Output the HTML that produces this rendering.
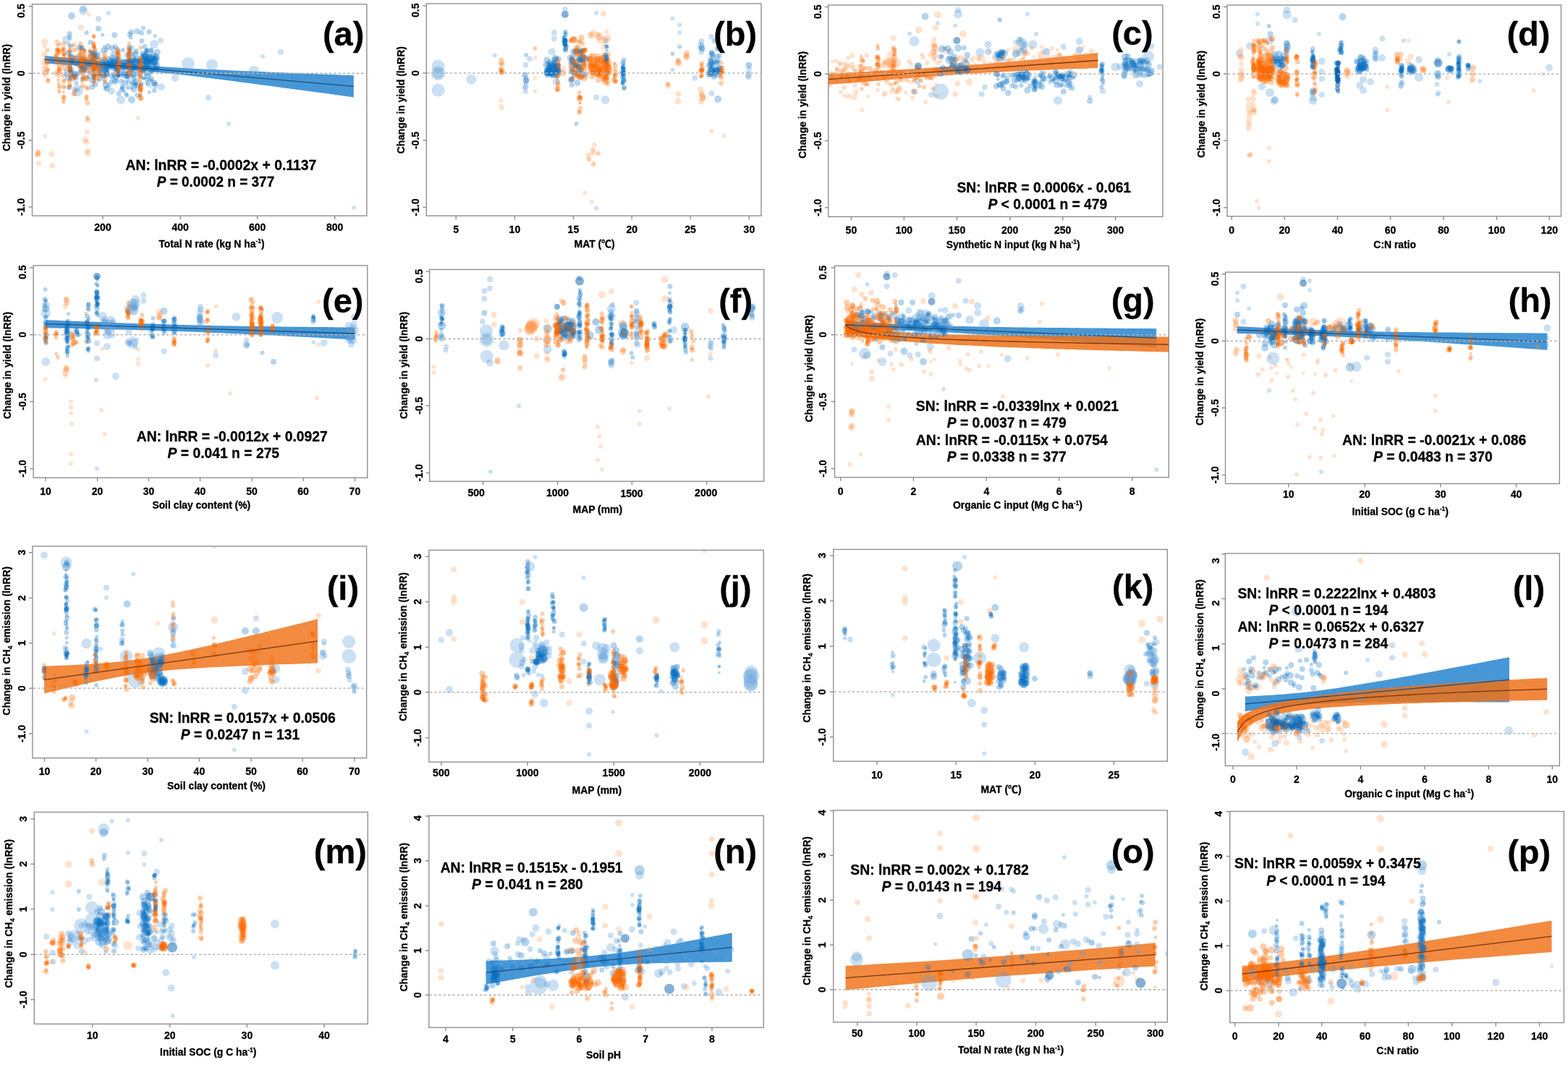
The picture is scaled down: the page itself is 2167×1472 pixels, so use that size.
<!DOCTYPE html>
<html><head><meta charset="utf-8"><title>Figure</title>
<style>html,body{margin:0;padding:0;background:#fff;width:2167px;height:1472px;overflow:hidden}svg{display:block}text{stroke:#000;stroke-width:0.3px}path.dd{fill:none;stroke-linecap:round}.b{fill:none;stroke-linecap:round;stroke:#0a70c4;stroke-opacity:0.3}.o{fill:none;stroke-linecap:round;stroke:#ff6a00;stroke-opacity:0.33}.lb{fill:none;stroke-linecap:round;stroke:#5c9fda;stroke-opacity:0.32}.lo{fill:none;stroke-linecap:round;stroke:#ff9650;stroke-opacity:0.28}.db{fill:none;stroke-linecap:round;stroke:#0a5fae;stroke-opacity:0.5}.do{fill:none;stroke-linecap:round;stroke:#f06000;stroke-opacity:0.5}</style>
</head><body>
<svg width="2167" height="1472" viewBox="0 0 2167 1472" font-family="'Liberation Sans', Arial, Helvetica, 'Noto Sans CJK SC', sans-serif" font-weight="bold" fill="#000" stroke-width="0">
<rect width="2167" height="1472" fill="#fff"/>
<clipPath id="cpa"><rect x="44.5" y="5.8" width="462.4" height="292.5"/></clipPath>
<g clip-path="url(#cpa)"><polygon points="61.8,77 76,78.4 90.3,79.8 104.5,81.3 118.7,82.7 133,84.1 147.2,85.4 161.4,86.7 175.7,88 189.9,89.3 204.1,90.6 218.4,91.7 232.6,92.7 246.8,93.6 261.1,94.5 275.3,95.2 289.5,96 303.8,96.6 318,97.3 332.2,97.9 346.5,98.5 360.7,99.1 374.9,99.7 389.2,100.3 403.4,100.9 417.6,101.4 431.9,102 446.1,102.6 460.3,103.1 474.6,103.7 488.8,104.2 488.8,134.4 474.6,132.5 460.3,130.5 446.1,128.6 431.9,126.7 417.6,124.8 403.4,122.9 389.2,121 374.9,119.1 360.7,117.2 346.5,115.3 332.2,113.5 318,111.6 303.8,109.8 289.5,108 275.3,106.3 261.1,104.6 246.8,102.9 232.6,101.4 218.4,99.9 204.1,98.6 189.9,97.3 175.7,96.1 161.4,95 147.2,93.8 133,92.7 118.7,91.6 104.5,90.5 90.3,89.5 76,88.5 61.8,87.5" fill="#4797d6" fill-opacity="1"/><path class="b" stroke-width="5" d="M198.8 107.4h0M179.2 70.3h0M107.2 76.9h0M126.0 102.2h0M156.0 106.8h0M125.0 100.9h0M179.9 99.0h0"/><path class="b" stroke-width="6" d="M194.7 106.2h0M112.0 97.8h0M202.8 69.7h0M171.5 95.6h0M120.0 106.4h0M148.3 98.4h0M95.4 61.9h0M97.1 99.0h0"/><path class="b" stroke-width="7" d="M163.1 71.5h0M214.5 95.1h0M135.3 102.5h0M127.4 83.4h0M162.2 69.1h0M206.0 92.9h0M150.5 93.1h0M149.7 87.4h0"/><path class="b" stroke-width="8" d="M183.7 80.0h0M131.6 116.6h0M130.2 75.7h0M185.1 123.7h0M128.8 94.1h0M189.7 43.3h0M136.0 39.4h0M193.1 86.3h0M183.3 86.8h0"/><path class="b" stroke-width="9" d="M119.3 86.8h0M172.9 91.2h0M204.7 90.8h0M157.2 74.9h0"/><path class="b" stroke-width="10" d="M99.0 22.0h0"/><path class="lb" stroke-width="10" d="M115.0 12.0h0"/><path class="lb" stroke-width="18" d="M260.0 88.0h0"/><path class="o" stroke-width="4" d="M80.7 115.5h0M116.5 104.5h0M115.2 95.7h0M177.9 82.4h0"/><path class="o" stroke-width="5" d="M95.2 112.3h0M98.1 88.1h0M96.8 109.8h0M110.8 72.2h0M129.6 85.6h0M129.7 63.6h0M130.1 74.3h0M129.9 50.7h0M131.6 89.3h0M129.8 90.2h0M161.7 81.7h0M163.1 105.1h0M178.7 83.7h0M177.5 75.4h0M178.8 85.3h0M194.1 117.8h0M194.8 85.1h0M193.4 96.6h0"/><path class="o" stroke-width="6" d="M79.3 72.9h0M87.7 66.4h0M97.1 77.7h0M109.3 92.5h0M114.9 81.9h0M121.3 122.7h0M130.2 79.7h0M135.4 100.2h0M164.0 86.9h0M162.8 85.3h0M178.9 82.8h0M194.4 117.4h0M194.2 82.4h0M195.0 86.3h0M194.8 96.5h0M145.0 81.0h0"/><path class="o" stroke-width="7" d="M111.7 74.8h0M116.3 75.8h0M131.6 94.9h0M163.0 95.9h0M163.5 101.7h0M163.4 71.6h0M161.3 88.9h0M178.1 93.8h0M177.5 82.3h0M195.4 136.0h0M145.1 82.3h0"/><path class="b" stroke-width="5" d="M130.6 66.2h0M206.4 127.4h0"/><path class="b" stroke-width="6" d="M175.4 132.1h0M185.1 85.6h0M179.8 71.4h0M201.7 72.7h0M177.3 92.6h0"/><path class="b" stroke-width="7" d="M168.2 123.8h0M196.9 73.5h0M132.3 86.2h0M209.4 69.4h0M198.6 98.1h0M117.7 81.6h0M176.9 120.7h0M195.4 115.9h0M102.5 104.0h0M206.1 44.1h0M196.0 56.4h0M153.8 112.8h0"/><path class="b" stroke-width="8" d="M181.6 44.4h0M213.4 82.5h0M211.4 75.7h0M178.1 100.7h0"/><path class="b" stroke-width="9" d="M168.5 89.2h0M100.2 108.3h0"/><path class="lb" stroke-width="6" d="M363.0 78.0h0"/><path class="o" stroke-width="4" d="M134.3 108.5h0M162.9 74.4h0M162.3 74.1h0"/><path class="o" stroke-width="5" d="M67.2 82.1h0M79.1 62.0h0M80.8 100.9h0M110.5 83.0h0M119.4 110.3h0M129.4 63.0h0M129.3 59.2h0M161.7 73.0h0M124.3 70.4h0M124.9 84.6h0"/><path class="o" stroke-width="6" d="M66.1 97.1h0M88.6 74.2h0M96.9 82.1h0M97.3 70.3h0M103.6 79.7h0M110.9 90.5h0M130.6 93.9h0M162.3 76.3h0M162.6 71.6h0M177.7 98.2h0M192.9 113.2h0M194.0 87.4h0M122.7 93.1h0"/><path class="o" stroke-width="7" d="M90.4 81.7h0M129.1 97.8h0M129.6 77.9h0M163.9 77.7h0M162.7 97.7h0M176.3 92.2h0M193.3 88.4h0"/><path class="b" stroke-width="5" d="M107.3 79.7h0"/><path class="b" stroke-width="6" d="M145.5 122.1h0M111.5 80.4h0M121.8 106.6h0M165.1 92.6h0M213.9 80.3h0"/><path class="b" stroke-width="7" d="M95.1 91.7h0M132.6 91.3h0M177.5 85.2h0M183.4 116.0h0M149.8 87.0h0"/><path class="b" stroke-width="8" d="M111.4 86.0h0M186.6 83.6h0M142.0 96.2h0M104.5 107.1h0M201.1 93.7h0M187.1 74.3h0M189.9 88.0h0"/><path class="b" stroke-width="9" d="M97.7 103.9h0M130.6 92.8h0M176.4 103.8h0M201.2 85.6h0M198.6 84.2h0M215.5 78.3h0"/><path class="lo" stroke-width="6" d="M50.8 213.4h0"/><path class="lo" stroke-width="8" d="M121.0 208.6h0"/><path class="o" stroke-width="4" d="M81.4 120.2h0M97.8 95.7h0"/><path class="o" stroke-width="5" d="M66.2 110.0h0M81.0 105.0h0M81.6 67.9h0M87.9 141.4h0M97.3 95.8h0M111.7 86.7h0M129.9 64.6h0M163.8 74.6h0M162.9 92.6h0M178.5 59.4h0M195.3 92.4h0M194.7 126.2h0M193.8 131.2h0M122.8 83.5h0M145.1 103.3h0"/><path class="o" stroke-width="6" d="M78.5 76.7h0M88.3 77.5h0M88.0 68.3h0M97.1 118.2h0M95.6 72.1h0M129.7 107.5h0M144.9 113.0h0"/><path class="o" stroke-width="7" d="M65.5 85.2h0M96.6 91.0h0M103.9 104.9h0M114.3 97.3h0M115.8 99.1h0M130.1 103.2h0M178.2 90.7h0M178.6 101.1h0M193.4 123.3h0M125.7 78.1h0M144.6 110.4h0"/><path class="b" stroke-width="5" d="M158.2 90.4h0M136.5 110.9h0"/><path class="b" stroke-width="6" d="M174.6 130.1h0M99.7 85.3h0M147.3 68.8h0M105.5 114.4h0M201.2 102.2h0M159.4 87.1h0"/><path class="b" stroke-width="7" d="M213.2 124.9h0M193.5 92.2h0M150.5 117.8h0M165.2 103.6h0M201.1 87.3h0M200.5 83.1h0M181.5 93.5h0M162.5 97.2h0"/><path class="b" stroke-width="8" d="M178.2 87.0h0M188.0 71.0h0M209.1 109.0h0M113.8 90.6h0M147.5 103.4h0M177.0 105.4h0M141.6 98.2h0M164.3 82.8h0"/><path class="b" stroke-width="9" d="M146.2 86.2h0M203.0 84.6h0M217.4 72.2h0"/><path class="b" stroke-width="10" d="M212.5 85.2h0M216.2 80.6h0"/><path class="lb" stroke-width="12" d="M213.0 61.0h0"/><path class="lo" stroke-width="7" d="M62.2 100.5h0"/><path class="o" stroke-width="4" d="M82.1 127.4h0"/><path class="o" stroke-width="5" d="M76.7 77.7h0M80.7 110.4h0M82.6 71.3h0M87.7 70.1h0M95.8 84.6h0M96.7 90.6h0M96.0 82.9h0M115.7 90.9h0M118.8 136.7h0M129.3 112.8h0M135.9 106.1h0M161.2 95.3h0M177.0 90.8h0M193.1 85.6h0M123.8 69.6h0"/><path class="o" stroke-width="6" d="M87.7 137.7h0M97.2 98.6h0M115.4 97.2h0M119.8 135.1h0M118.9 82.5h0M129.9 107.4h0M130.8 104.1h0M136.0 87.6h0M179.2 100.6h0M178.9 72.1h0M193.9 122.3h0M123.7 72.6h0M125.1 72.5h0M144.4 93.5h0"/><path class="o" stroke-width="7" d="M88.1 87.5h0M96.2 96.0h0M121.3 165.6h0M131.6 69.1h0M137.5 104.4h0M136.4 87.5h0M163.2 90.4h0M123.3 80.3h0"/><path class="b" stroke-width="5" d="M179.0 86.2h0M205.3 84.7h0M214.1 49.7h0"/><path class="b" stroke-width="6" d="M98.3 75.7h0M163.0 104.1h0M175.8 106.2h0"/><path class="b" stroke-width="7" d="M159.3 64.7h0M194.5 79.6h0M150.0 90.8h0M115.3 97.3h0M99.3 96.8h0M105.6 101.9h0M113.8 66.7h0M125.0 58.4h0M200.2 85.0h0M184.7 108.0h0M140.3 82.3h0"/><path class="b" stroke-width="8" d="M205.6 84.3h0M168.3 93.6h0M170.5 85.4h0M127.3 120.2h0M158.3 48.5h0M199.2 76.4h0M155.3 84.0h0M158.4 102.4h0M173.8 92.6h0"/><path class="b" stroke-width="9" d="M144.0 97.6h0M214.6 117.2h0M173.2 105.3h0M209.7 81.6h0M213.6 86.5h0M201.4 92.1h0"/><path class="lb" stroke-width="8" d="M136.0 26.0h0"/><path class="lb" stroke-width="16" d="M293.0 90.0h0"/><path class="lo" stroke-width="6" d="M61.5 64.5h0"/><path class="lo" stroke-width="8" d="M64.2 82.2h0"/><path class="o" stroke-width="4" d="M162.4 87.9h0M180.2 84.0h0"/><path class="o" stroke-width="5" d="M81.6 124.9h0M114.7 86.6h0M119.6 132.5h0M136.9 86.1h0M162.5 82.1h0M162.9 97.3h0M178.8 90.6h0M178.2 78.0h0M179.0 69.5h0M194.9 101.2h0"/><path class="o" stroke-width="6" d="M81.5 95.8h0M82.8 73.1h0M95.6 77.1h0M97.5 100.1h0M95.6 120.7h0M115.1 91.4h0M130.6 109.2h0M162.5 86.2h0M162.9 87.8h0M194.4 98.2h0M194.8 122.9h0M124.3 91.1h0"/><path class="o" stroke-width="7" d="M77.5 101.0h0M111.3 60.8h0M114.9 108.1h0M129.0 93.0h0M194.8 81.8h0M193.3 100.7h0M144.0 92.0h0"/><path class="b" stroke-width="5" d="M144.2 64.8h0M139.5 109.5h0M188.1 116.1h0"/><path class="b" stroke-width="6" d="M183.4 95.8h0M159.5 96.1h0"/><path class="b" stroke-width="7" d="M176.8 93.1h0M114.6 109.3h0M106.8 124.0h0M169.3 119.5h0M161.8 94.5h0M154.7 92.0h0M140.3 103.3h0M128.5 82.0h0M129.5 105.9h0M135.5 75.1h0M215.6 89.5h0M213.2 93.7h0"/><path class="b" stroke-width="8" d="M126.4 110.4h0M185.0 103.4h0M126.9 73.7h0M171.2 102.7h0M148.0 122.7h0M154.6 90.6h0M120.8 97.3h0M149.2 64.0h0M128.6 111.3h0M143.2 104.2h0M141.9 85.6h0M152.6 83.9h0"/><path class="b" stroke-width="9" d="M141.3 90.3h0M172.6 86.5h0M189.5 91.8h0"/><path class="b" stroke-width="10" d="M214.8 83.8h0M202.7 79.6h0M209.8 85.6h0"/><path class="lb" stroke-width="6" d="M489.0 287.0h0"/><path class="lb" stroke-width="10" d="M242.0 108.0h0"/><path class="lb" stroke-width="12" d="M92.0 55.0h0"/><path class="lo" stroke-width="6" d="M53.0 209.6h0"/><path class="lo" stroke-width="7" d="M52.2 213.6h0M53.6 225.6h0"/><path class="lo" stroke-width="9" d="M61.2 75.1h0"/><path class="o" stroke-width="4" d="M86.7 67.9h0M135.8 102.7h0"/><path class="o" stroke-width="5" d="M88.6 75.4h0M96.6 98.0h0M97.6 103.1h0M114.1 79.1h0M116.5 69.6h0M179.5 89.2h0M178.5 103.4h0M193.6 133.1h0M145.3 103.0h0"/><path class="o" stroke-width="6" d="M65.2 96.0h0M81.0 70.3h0M87.9 133.2h0M96.9 81.4h0M96.9 86.4h0M112.3 87.4h0M110.7 80.4h0M112.4 87.4h0M130.8 94.1h0M129.6 88.7h0M130.7 102.6h0M136.3 82.0h0M178.6 84.0h0M178.5 94.0h0M178.2 101.8h0M193.4 104.9h0"/><path class="o" stroke-width="7" d="M77.7 77.0h0M81.3 82.9h0M87.1 103.9h0M114.6 119.0h0M127.7 100.6h0M130.3 81.3h0M135.7 91.9h0M164.1 96.2h0M163.4 86.6h0M193.5 108.0h0M194.2 88.1h0M194.4 119.5h0M193.4 86.1h0M193.9 93.5h0"/><path class="b" stroke-width="5" d="M104.3 89.2h0M211.6 96.6h0M154.5 85.9h0M117.3 69.5h0M97.6 86.1h0M141.7 48.3h0"/><path class="b" stroke-width="6" d="M174.1 102.0h0M91.0 102.6h0M158.9 89.1h0M182.4 75.0h0M202.3 84.6h0M208.8 84.1h0M148.5 97.4h0"/><path class="b" stroke-width="7" d="M201.1 85.5h0M167.2 112.3h0M206.2 101.4h0M202.8 70.3h0M190.0 118.8h0M208.0 69.8h0M150.2 80.4h0M137.1 101.4h0M200.2 64.5h0"/><path class="b" stroke-width="8" d="M201.0 76.9h0M209.9 97.9h0M110.1 100.6h0M211.6 78.6h0M216.5 95.2h0"/><path class="b" stroke-width="9" d="M203.9 104.9h0M103.0 103.7h0M131.4 87.6h0"/><path class="lo" stroke-width="8" d="M62.0 90.7h0M71.4 213.0h0"/><path class="lo" stroke-width="9" d="M61.5 57.7h0"/><path class="o" stroke-width="4" d="M130.2 94.7h0"/><path class="o" stroke-width="5" d="M88.6 81.2h0M104.2 125.8h0M111.1 97.7h0M113.9 92.1h0M114.9 89.3h0M131.2 103.9h0M137.6 95.6h0M162.5 97.2h0"/><path class="o" stroke-width="6" d="M77.9 86.4h0M88.1 60.6h0M115.3 87.3h0M115.4 90.0h0M129.9 60.8h0M178.7 83.4h0M177.7 73.2h0M192.1 99.1h0"/><path class="o" stroke-width="7" d="M82.7 119.3h0M81.7 89.5h0M102.3 129.7h0M113.8 69.7h0M128.5 75.6h0M163.0 93.9h0M178.5 76.8h0M124.1 78.5h0"/><path class="b" stroke-width="5" d="M181.9 122.0h0M194.9 94.9h0"/><path class="b" stroke-width="6" d="M198.0 80.6h0M202.8 109.3h0M186.5 92.5h0M116.2 82.7h0M180.7 87.4h0M197.9 38.7h0M204.3 89.6h0M204.5 89.5h0"/><path class="b" stroke-width="7" d="M101.5 101.0h0M173.1 88.5h0M130.9 72.2h0M96.6 93.7h0M190.9 84.0h0M96.1 46.5h0M212.6 87.8h0M210.0 84.3h0M204.5 80.7h0"/><path class="b" stroke-width="8" d="M206.8 78.9h0M151.6 86.8h0M187.7 112.1h0M176.0 76.0h0"/><path class="b" stroke-width="9" d="M197.7 89.2h0M185.0 114.8h0M158.7 112.5h0M147.7 94.3h0"/><path class="lb" stroke-width="6" d="M316.0 171.0h0"/><path class="lb" stroke-width="10" d="M154.0 126.0h0"/><path class="lb" stroke-width="16" d="M107.0 125.0h0"/><path class="lo" stroke-width="7" d="M120.1 182.3h0"/><path class="lo" stroke-width="8" d="M61.4 95.8h0"/><path class="lo" stroke-width="9" d="M61.5 85.0h0"/><path class="o" stroke-width="4" d="M176.5 92.1h0"/><path class="o" stroke-width="5" d="M77.3 86.5h0M83.3 81.3h0M97.0 100.3h0M103.6 124.6h0M102.1 107.6h0M110.3 77.7h0M110.5 92.2h0M113.5 112.2h0M114.1 79.1h0M120.6 162.6h0M131.0 87.7h0M130.6 84.6h0M130.3 77.9h0M129.5 63.3h0M178.1 101.9h0M177.0 88.2h0M123.9 76.9h0"/><path class="o" stroke-width="6" d="M78.3 68.7h0M81.8 98.4h0M87.9 112.7h0M87.6 112.4h0M96.8 110.9h0M96.8 98.7h0M110.6 74.7h0M114.4 91.8h0M119.7 120.8h0M119.3 82.2h0M130.3 90.8h0M129.3 90.5h0M136.5 101.2h0M162.6 94.2h0M162.3 67.8h0M178.3 64.0h0M178.3 69.4h0M177.6 67.8h0M193.3 97.6h0M192.3 87.5h0M145.3 80.5h0"/><path class="o" stroke-width="7" d="M119.8 94.9h0M121.0 141.9h0M129.6 104.6h0M130.8 80.6h0M195.0 96.2h0M193.8 135.8h0M123.1 97.3h0M124.7 96.1h0"/><path class="b" stroke-width="5" d="M197.3 77.0h0M130.1 104.0h0M216.2 94.3h0"/><path class="b" stroke-width="6" d="M164.5 104.6h0M117.2 94.6h0M125.3 89.2h0M159.5 92.5h0M112.3 93.6h0M98.0 85.0h0M102.2 78.6h0M161.7 81.4h0M119.7 45.2h0M180.5 51.7h0M161.1 83.8h0"/><path class="b" stroke-width="7" d="M163.1 102.9h0M177.9 112.8h0M197.8 76.6h0M195.5 45.5h0M209.3 86.6h0M201.9 81.0h0"/><path class="b" stroke-width="8" d="M175.4 84.4h0M213.2 114.1h0M120.0 90.4h0M97.8 79.6h0M154.9 66.4h0M185.0 83.0h0M154.5 104.7h0M193.7 86.1h0"/><path class="b" stroke-width="9" d="M186.6 96.0h0M155.6 80.4h0M203.0 82.8h0M182.3 92.4h0"/><path class="lb" stroke-width="10" d="M223.0 120.0h0"/><path class="lb" stroke-width="12" d="M115.0 15.0h0M167.0 138.0h0"/><path class="lo" stroke-width="6" d="M62.0 188.0h0"/><path class="lo" stroke-width="7" d="M52.8 212.6h0"/><path class="o" stroke-width="5" d="M78.0 79.9h0M114.5 102.8h0M116.1 96.9h0M129.9 114.8h0M137.4 101.7h0M135.2 109.9h0M164.4 88.3h0M162.3 82.5h0M163.8 83.6h0M164.1 91.6h0M194.3 131.2h0M124.1 85.6h0"/><path class="o" stroke-width="6" d="M79.1 71.2h0M97.7 105.2h0M95.8 95.0h0M97.9 106.7h0M103.8 81.1h0M115.5 94.1h0M136.0 80.3h0M164.2 93.8h0M194.7 90.1h0"/><path class="o" stroke-width="7" d="M82.1 94.0h0M89.2 94.6h0M88.2 90.5h0M164.3 85.6h0M163.5 76.8h0M179.0 90.8h0M193.9 84.1h0M144.8 74.3h0"/><path class="b" stroke-width="5" d="M183.1 104.7h0M91.1 98.3h0"/><path class="b" stroke-width="6" d="M156.4 82.7h0M127.0 72.6h0M162.0 80.0h0M169.2 121.8h0M98.7 63.5h0M170.9 125.7h0M161.4 86.6h0"/><path class="b" stroke-width="7" d="M168.6 85.2h0M164.0 129.3h0M181.6 65.8h0M189.7 131.5h0M95.4 120.8h0M204.1 114.7h0M147.4 102.3h0M96.5 51.7h0"/><path class="b" stroke-width="8" d="M147.9 86.9h0M109.2 66.1h0M93.9 107.4h0M130.2 77.0h0M171.3 101.3h0M188.6 80.5h0M202.0 80.3h0M155.8 87.7h0M184.5 93.7h0M145.7 94.8h0"/><path class="b" stroke-width="9" d="M198.0 83.7h0M133.4 77.7h0M116.2 94.8h0M126.1 84.7h0M146.0 117.1h0M161.1 90.0h0M143.6 104.2h0"/><path class="lb" stroke-width="6" d="M150.0 18.0h0"/><path class="lb" stroke-width="14" d="M351.0 98.0h0"/><path class="lo" stroke-width="6" d="M191.0 163.0h0M123.0 20.0h0"/><path class="lo" stroke-width="8" d="M119.2 196.1h0"/><path class="o" stroke-width="4" d="M129.7 50.9h0M193.7 92.8h0"/><path class="o" stroke-width="5" d="M65.6 88.6h0M79.8 67.2h0M86.7 69.7h0M97.7 100.0h0M111.1 84.1h0M112.0 81.1h0M114.3 89.9h0M115.2 95.7h0M115.6 82.5h0M115.1 90.2h0M114.3 85.0h0M114.1 94.6h0M136.2 95.9h0M163.6 91.8h0M192.4 92.1h0M144.0 91.6h0M143.5 77.9h0"/><path class="o" stroke-width="6" d="M65.5 69.6h0M78.1 83.4h0M88.6 120.0h0M103.4 107.6h0M114.7 107.6h0M115.2 76.0h0M129.9 71.6h0M194.3 121.3h0M194.3 85.5h0M194.4 66.0h0"/><path class="o" stroke-width="7" d="M103.2 81.2h0M103.2 68.9h0M111.6 67.3h0M129.6 92.6h0M135.9 94.1h0M164.1 88.6h0M193.7 123.7h0"/><path class="b" stroke-width="5" d="M190.0 85.8h0M208.6 110.5h0M198.5 108.8h0"/><path class="b" stroke-width="6" d="M132.4 79.8h0M214.0 116.1h0M209.5 98.4h0M212.5 80.8h0"/><path class="b" stroke-width="7" d="M187.3 118.0h0M112.4 93.6h0M203.1 69.9h0M189.4 102.3h0M178.8 83.5h0"/><path class="b" stroke-width="8" d="M99.9 84.6h0M146.0 90.8h0M185.5 85.5h0M182.7 100.5h0M142.7 69.8h0M204.0 85.9h0M160.2 106.2h0M157.4 84.0h0M147.3 100.8h0"/><path class="b" stroke-width="9" d="M198.8 95.1h0M201.0 77.8h0M205.3 77.4h0M210.6 82.3h0M147.8 92.1h0"/><path class="b" stroke-width="10" d="M216.6 90.4h0M182.0 138.0h0"/><path class="lb" stroke-width="8" d="M288.0 135.0h0M388.0 72.0h0"/><path class="lb" stroke-width="12" d="M207.0 115.0h0"/><path class="lo" stroke-width="6" d="M62.1 104.2h0"/><path class="lo" stroke-width="8" d="M63.6 100.2h0"/><path class="lo" stroke-width="9" d="M117.7 193.0h0M121.2 211.9h0"/><path class="o" stroke-width="4" d="M87.6 127.1h0"/><path class="o" stroke-width="5" d="M79.1 69.1h0M88.8 120.4h0M96.1 65.7h0M113.8 98.2h0M116.6 71.4h0M130.5 78.2h0M136.8 87.3h0M161.9 91.0h0M124.9 85.8h0"/><path class="o" stroke-width="6" d="M82.0 60.7h0M97.0 69.4h0M111.3 81.7h0M111.7 90.3h0M129.5 93.0h0M130.8 93.2h0M128.5 93.1h0M129.5 49.7h0M130.4 81.3h0M177.4 85.0h0M178.7 68.7h0M193.9 81.2h0"/><path class="o" stroke-width="7" d="M66.4 112.1h0M82.3 97.6h0M115.2 89.0h0M119.6 108.3h0M131.2 97.4h0M130.2 90.7h0M130.7 83.9h0M161.1 101.3h0M177.4 89.5h0M178.5 98.7h0M178.4 78.4h0"/><path class="b" stroke-width="5" d="M130.3 97.1h0M129.4 97.6h0"/><path class="b" stroke-width="6" d="M107.4 89.5h0M170.0 69.2h0M96.8 98.4h0M178.4 66.3h0"/><path class="b" stroke-width="7" d="M160.3 111.1h0M179.7 87.4h0M154.9 87.7h0M158.9 86.5h0M112.3 65.4h0M174.0 90.8h0M179.2 47.5h0M200.9 89.5h0M160.8 94.6h0M153.1 90.8h0"/><path class="b" stroke-width="8" d="M197.4 98.1h0M156.6 94.4h0M190.0 85.0h0M94.3 72.8h0M166.1 100.6h0M138.5 95.4h0M172.8 114.3h0M214.8 81.4h0M205.9 78.7h0M204.6 86.0h0M184.5 85.6h0M154.6 89.4h0"/><path class="b" stroke-width="9" d="M207.6 86.6h0M179.4 85.5h0"/><path class="lb" stroke-width="8" d="M222.0 56.0h0"/><path class="lo" stroke-width="7" d="M53.5 211.1h0M52.1 210.2h0M52.4 213.6h0"/><path class="lo" stroke-width="8" d="M72.3 229.0h0M112.0 38.0h0"/><path class="o" stroke-width="4" d="M77.9 81.1h0M97.6 105.1h0M102.7 131.0h0M127.4 84.8h0"/><path class="o" stroke-width="5" d="M78.3 57.0h0M88.9 110.4h0M98.2 83.9h0M114.9 108.3h0M115.0 84.0h0M130.7 109.8h0M130.0 95.8h0M194.6 91.7h0M194.1 126.3h0M194.0 104.2h0M194.1 91.0h0"/><path class="o" stroke-width="6" d="M88.6 135.1h0M88.7 75.1h0M96.2 117.3h0M102.4 61.9h0M103.0 106.1h0M116.1 80.8h0M129.8 65.8h0M129.5 87.3h0M178.4 76.6h0M145.4 103.9h0"/><path class="o" stroke-width="7" d="M97.0 94.3h0M110.0 88.1h0M130.7 93.9h0M136.5 96.2h0M136.5 102.4h0M162.8 90.7h0M178.3 75.0h0M179.3 90.3h0M194.0 90.3h0"/><polyline points="61.8,82.2 488.8,119.3" fill="none" stroke="#1d4f7c" stroke-width="1.3"/></g>
<line x1="45.5" y1="101.4" x2="505.9" y2="101.4" stroke="#b4b4b4" stroke-width="1.6" stroke-dasharray="3.2 3.1"/>
<rect x="44.5" y="5.8" width="462.4" height="292.5" fill="none" stroke="#8c8c8c" stroke-width="1.35"/>
<line x1="39.5" y1="8.7" x2="44.5" y2="8.7" stroke="#8c8c8c" stroke-width="1.4"/>
<line x1="39.5" y1="101.4" x2="44.5" y2="101.4" stroke="#8c8c8c" stroke-width="1.4"/>
<line x1="39.5" y1="193.9" x2="44.5" y2="193.9" stroke="#8c8c8c" stroke-width="1.4"/>
<line x1="39.5" y1="286.1" x2="44.5" y2="286.1" stroke="#8c8c8c" stroke-width="1.4"/>
<line x1="142" y1="298.3" x2="142" y2="303.3" stroke="#8c8c8c" stroke-width="1.4"/>
<line x1="249.2" y1="298.3" x2="249.2" y2="303.3" stroke="#8c8c8c" stroke-width="1.4"/>
<line x1="355.6" y1="298.3" x2="355.6" y2="303.3" stroke="#8c8c8c" stroke-width="1.4"/>
<line x1="462.7" y1="298.3" x2="462.7" y2="303.3" stroke="#8c8c8c" stroke-width="1.4"/>
<text transform="translate(33.7,15) rotate(-90)" text-anchor="middle" font-size="14.0">0.5</text>
<text transform="translate(33.7,101.4) rotate(-90)" text-anchor="middle" font-size="14.0">0</text>
<text transform="translate(33.7,193.9) rotate(-90)" text-anchor="middle" font-size="14.0">-0.5</text>
<text transform="translate(33.7,286.1) rotate(-90)" text-anchor="middle" font-size="14.0">-1.0</text>
<text x="142" y="318.7" text-anchor="middle" font-size="14.0">200</text>
<text x="249.2" y="318.7" text-anchor="middle" font-size="14.0">400</text>
<text x="355.6" y="318.7" text-anchor="middle" font-size="14.0">600</text>
<text x="462.7" y="318.7" text-anchor="middle" font-size="14.0">800</text>
<text x="292.5" y="341.6" text-anchor="middle" font-size="13.9">Total N rate (kg N ha<tspan font-size="8.5" dy="-5.5">-1</tspan><tspan dy="5.5">)</tspan></text>
<text transform="translate(14.2,135) rotate(-90)" text-anchor="middle" font-size="13.9">Change in yield (lnRR)</text>
<text x="445.9" y="62.8" font-size="47">(a)</text>
<text x="173.4" y="235" font-size="20.2" textLength="264" lengthAdjust="spacingAndGlyphs">AN: lnRR = -0.0002x + 0.1137</text>
<text x="216.7" y="257.5" font-size="20.2" textLength="162.5" lengthAdjust="spacingAndGlyphs"><tspan font-style="italic">P</tspan> = 0.0002 n = 377</text>
<clipPath id="cpb"><rect x="589.3" y="5" width="462.7" height="293.3"/></clipPath>
<g clip-path="url(#cpb)"><path class="b" stroke-width="5" d="M835.2 79.7h0"/><path class="b" stroke-width="6" d="M781.6 62.1h0M799.1 90.2h0M837.7 85.3h0M861.8 99.0h0M860.2 114.0h0M994.6 91.8h0"/><path class="b" stroke-width="7" d="M771.1 89.8h0M769.1 99.0h0M782.4 64.8h0M790.2 117.2h0M838.6 79.1h0M861.9 102.7h0M861.7 113.1h0M987.2 85.6h0M983.4 74.2h0"/><path class="b" stroke-width="8" d="M757.4 89.1h0M790.4 94.8h0M982.6 87.5h0"/><path class="lb" stroke-width="6" d="M929.4 96.4h0"/><path class="lb" stroke-width="7" d="M725.4 121.3h0"/><path class="lb" stroke-width="8" d="M731.9 81.4h0M970.7 67.3h0M960.4 107.8h0"/><path class="lo" stroke-width="7" d="M818.9 50.3h0M948.3 77.9h0"/><path class="lo" stroke-width="8" d="M693.2 148.0h0M828.5 56.4h0M936.7 86.8h0"/><path class="o" stroke-width="6" d="M692.1 96.5h0M771.7 99.0h0M789.1 99.0h0M806.1 84.2h0M799.5 94.9h0M807.6 69.3h0M799.6 76.1h0M805.3 75.2h0M827.0 87.1h0M829.5 100.7h0M997.4 97.7h0"/><path class="o" stroke-width="7" d="M771.4 123.4h0M808.6 88.4h0M792.2 100.8h0M799.1 72.6h0M833.5 78.6h0M815.5 89.8h0M840.0 101.0h0M826.8 83.4h0M816.2 77.3h0M822.7 89.3h0M998.0 97.2h0"/><path class="o" stroke-width="8" d="M803.6 52.1h0M839.7 112.0h0M829.3 99.8h0"/><path class="o" stroke-width="9" d="M828.8 95.4h0"/><path class="b" stroke-width="5" d="M781.5 61.7h0M838.7 69.5h0M860.1 93.3h0"/><path class="b" stroke-width="6" d="M837.4 85.7h0M929.4 74.3h0"/><path class="b" stroke-width="7" d="M765.3 87.4h0M781.8 68.6h0M802.2 83.1h0M837.0 56.1h0M991.2 67.3h0"/><path class="b" stroke-width="8" d="M984.6 75.1h0M980.4 103.2h0"/><path class="b" stroke-width="9" d="M759.5 98.7h0M804.9 82.7h0M796.7 70.5h0"/><path class="b" stroke-width="10" d="M767.2 80.7h0"/><path class="lb" stroke-width="6" d="M824.0 18.0h0M929.4 25.4h0M939.2 45.0h0M824.0 287.8h0"/><path class="lb" stroke-width="9" d="M1034.4 90.5h0"/><path class="lo" stroke-width="6" d="M739.3 108.0h0M833.4 52.9h0"/><path class="lo" stroke-width="7" d="M817.0 46.6h0M949.3 74.7h0"/><path class="lo" stroke-width="8" d="M949.2 78.6h0"/><path class="o" stroke-width="4" d="M770.5 120.1h0"/><path class="o" stroke-width="5" d="M798.2 69.2h0M796.9 90.0h0M794.1 100.3h0M809.0 89.7h0M969.2 105.8h0M970.0 98.3h0"/><path class="o" stroke-width="6" d="M792.3 86.3h0M791.7 95.4h0"/><path class="o" stroke-width="7" d="M791.6 84.1h0M826.4 111.0h0M831.6 109.0h0M828.1 99.3h0M818.8 100.1h0M850.1 90.7h0"/><path class="o" stroke-width="8" d="M817.9 97.2h0M837.1 90.4h0M828.5 97.7h0M833.1 87.0h0M820.3 99.6h0"/><path class="b" stroke-width="5" d="M779.6 52.2h0M860.4 115.0h0"/><path class="b" stroke-width="6" d="M756.7 102.3h0M984.5 91.5h0"/><path class="b" stroke-width="7" d="M761.2 92.6h0M768.4 91.2h0M993.3 94.1h0M981.2 91.2h0"/><path class="b" stroke-width="8" d="M770.9 91.1h0M769.4 92.4h0M771.8 81.6h0M798.8 83.7h0M789.2 110.5h0M992.2 83.2h0M990.4 78.5h0"/><path class="b" stroke-width="9" d="M757.9 96.0h0M765.3 90.7h0M789.5 87.6h0"/><path class="b" stroke-width="10" d="M992.2 137.0h0"/><path class="db" stroke-width="10" d="M780.9 20.0h0"/><path class="lb" stroke-width="8" d="M727.0 111.8h0M983.2 129.0h0"/><path class="lb" stroke-width="18" d="M605.6 124.6h0"/><path class="lo" stroke-width="6" d="M692.5 139.0h0M838.1 43.4h0M827.3 213.0h0"/><path class="lo" stroke-width="7" d="M819.7 227.0h0"/><path class="lo" stroke-width="8" d="M828.9 51.5h0"/><path class="o" stroke-width="5" d="M770.4 101.3h0M770.2 124.8h0M793.6 103.0h0M797.2 91.3h0M849.2 113.6h0M969.6 96.2h0"/><path class="o" stroke-width="6" d="M692.7 100.1h0M796.7 69.4h0M796.3 84.7h0M828.0 105.6h0M820.3 97.2h0M823.1 93.6h0"/><path class="o" stroke-width="7" d="M799.6 65.4h0M794.3 71.2h0M795.6 99.8h0M840.6 75.4h0M841.9 101.0h0M838.2 86.0h0"/><path class="o" stroke-width="8" d="M778.0 101.0h0M823.6 93.9h0M824.2 91.7h0M829.9 92.0h0M838.0 107.0h0"/><path class="o" stroke-width="9" d="M823.2 93.2h0M825.9 101.5h0M840.6 93.1h0"/><path class="b" stroke-width="5" d="M780.8 45.1h0M837.2 78.3h0M860.9 93.7h0"/><path class="b" stroke-width="6" d="M756.2 104.7h0M758.6 90.0h0M779.9 51.6h0M782.3 47.7h0M804.4 106.3h0M837.1 92.6h0M838.9 81.3h0M837.5 76.0h0"/><path class="b" stroke-width="7" d="M766.8 91.7h0M767.6 82.1h0M769.8 92.0h0M781.8 56.0h0M805.8 87.8h0M836.3 82.0h0M861.7 110.5h0"/><path class="b" stroke-width="8" d="M809.8 81.7h0M805.1 103.6h0M983.0 96.3h0"/><path class="b" stroke-width="9" d="M764.0 96.9h0M767.7 82.4h0M770.8 103.5h0M756.7 100.6h0"/><path class="b" stroke-width="10" d="M755.4 89.8h0"/><path class="db" stroke-width="12" d="M983.0 99.0h0"/><path class="lb" stroke-width="7" d="M726.7 107.4h0"/><path class="lb" stroke-width="8" d="M727.4 110.7h0M969.7 63.8h0"/><path class="lb" stroke-width="16" d="M605.6 101.3h0"/><path class="lo" stroke-width="6" d="M829.0 47.0h0M936.9 82.4h0M817.8 279.0h0"/><path class="lo" stroke-width="7" d="M812.5 215.1h0M923.3 119.2h0"/><path class="o" stroke-width="5" d="M803.3 73.0h0M849.2 103.4h0M970.5 104.1h0M998.1 98.7h0"/><path class="o" stroke-width="6" d="M808.5 68.4h0M802.9 107.4h0M803.3 96.8h0M851.2 112.8h0M849.4 105.3h0"/><path class="o" stroke-width="7" d="M693.6 100.6h0M771.3 117.1h0M805.2 92.7h0M817.2 90.7h0"/><path class="o" stroke-width="8" d="M815.1 83.2h0M825.6 82.3h0M836.7 103.3h0M816.4 92.2h0M837.9 92.1h0"/><path class="o" stroke-width="9" d="M831.7 90.8h0M820.5 84.0h0M829.9 83.5h0M826.4 99.1h0M815.6 82.2h0"/><path class="b" stroke-width="4" d="M861.8 96.2h0"/><path class="b" stroke-width="5" d="M861.0 101.1h0M861.3 90.7h0"/><path class="b" stroke-width="6" d="M727.0 76.0h0M766.2 100.2h0M781.7 43.4h0M780.2 56.3h0M780.8 69.5h0"/><path class="b" stroke-width="7" d="M765.7 96.5h0M761.6 93.3h0M779.9 59.2h0M862.5 111.1h0M860.7 86.9h0M861.4 95.9h0M982.8 84.8h0M994.1 77.1h0M994.3 96.8h0"/><path class="b" stroke-width="8" d="M763.0 92.8h0M791.2 86.5h0M798.7 101.9h0M790.9 81.9h0M994.2 64.5h0M983.4 72.8h0"/><path class="b" stroke-width="9" d="M760.4 88.7h0M759.7 93.8h0M765.1 87.6h0M758.8 101.4h0M755.9 82.8h0M797.9 114.6h0"/><path class="lb" stroke-width="7" d="M1035.6 95.5h0M1034.2 99.5h0"/><path class="lb" stroke-width="8" d="M969.3 57.0h0M970.3 68.0h0"/><path class="lb" stroke-width="9" d="M968.4 61.8h0"/><path class="lo" stroke-width="6" d="M813.8 220.8h0M808.0 266.6h0"/><path class="lo" stroke-width="7" d="M949.1 76.6h0"/><path class="lo" stroke-width="8" d="M778.0 95.0h0M824.1 48.5h0"/><path class="o" stroke-width="5" d="M802.0 78.8h0M803.4 69.9h0M970.2 98.2h0M970.0 91.1h0M971.6 93.3h0M998.2 93.1h0"/><path class="o" stroke-width="6" d="M739.3 67.0h0M808.4 79.7h0M792.6 54.3h0M818.2 91.6h0M969.1 89.3h0M995.8 101.2h0M996.0 101.1h0"/><path class="o" stroke-width="7" d="M806.2 84.4h0M802.4 73.0h0M794.6 70.3h0M803.0 106.3h0M827.6 96.6h0M833.9 84.4h0M851.1 100.6h0"/><path class="o" stroke-width="8" d="M796.0 73.6h0M807.1 70.0h0"/><path class="o" stroke-width="9" d="M838.4 83.2h0"/><path class="b" stroke-width="5" d="M860.4 103.7h0"/><path class="b" stroke-width="6" d="M771.2 95.4h0M781.0 55.8h0"/><path class="b" stroke-width="7" d="M770.4 89.7h0M793.6 104.6h0M796.4 91.3h0M861.6 102.1h0M985.1 79.0h0M986.7 97.8h0"/><path class="b" stroke-width="8" d="M755.7 97.7h0M771.0 99.4h0M990.2 97.0h0M991.9 103.3h0"/><path class="b" stroke-width="9" d="M798.5 99.6h0"/><path class="b" stroke-width="10" d="M762.9 103.2h0M770.7 96.6h0"/><path class="lb" stroke-width="6" d="M968.1 66.8h0"/><path class="lb" stroke-width="8" d="M824.0 134.6h0M1034.2 106.3h0"/><path class="lb" stroke-width="14" d="M651.3 109.7h0"/><path class="lo" stroke-width="6" d="M834.4 51.9h0M820.7 226.7h0"/><path class="lo" stroke-width="7" d="M922.3 116.2h0"/><path class="lo" stroke-width="8" d="M968.2 123.3h0"/><path class="o" stroke-width="5" d="M800.1 133.5h0M851.7 111.9h0M848.8 87.3h0M997.2 100.4h0"/><path class="o" stroke-width="6" d="M809.4 68.7h0M796.8 64.5h0M849.6 96.0h0M968.8 95.0h0"/><path class="o" stroke-width="7" d="M769.4 104.9h0M800.6 107.1h0M806.3 77.9h0M834.3 106.6h0"/><path class="o" stroke-width="8" d="M806.8 108.5h0M791.1 108.7h0M818.7 105.8h0M838.5 98.9h0M830.5 95.8h0M830.3 102.5h0"/><path class="o" stroke-width="9" d="M835.3 109.6h0"/><path class="b" stroke-width="5" d="M781.2 59.7h0M781.1 59.2h0M859.7 98.2h0"/><path class="b" stroke-width="6" d="M781.4 62.4h0M804.3 82.6h0"/><path class="b" stroke-width="7" d="M836.4 75.5h0M860.4 100.8h0M987.5 56.5h0"/><path class="b" stroke-width="8" d="M759.8 93.9h0M809.4 80.0h0"/><path class="b" stroke-width="9" d="M803.7 79.7h0"/><path class="lb" stroke-width="7" d="M726.4 126.6h0"/><path class="lb" stroke-width="8" d="M726.9 111.4h0"/><path class="lo" stroke-width="6" d="M817.2 46.3h0M826.7 211.3h0M923.4 115.9h0M937.4 84.0h0"/><path class="lo" stroke-width="8" d="M971.5 135.0h0M969.4 129.8h0"/><path class="lo" stroke-width="9" d="M948.6 73.3h0M970.1 136.3h0"/><path class="o" stroke-width="4" d="M801.3 142.3h0"/><path class="o" stroke-width="5" d="M970.5 87.0h0"/><path class="o" stroke-width="6" d="M692.5 94.6h0M771.1 85.8h0M806.3 69.2h0M806.9 87.1h0M848.6 109.8h0"/><path class="o" stroke-width="7" d="M792.9 98.6h0M802.2 57.6h0M795.1 90.5h0M789.2 82.0h0M804.2 72.0h0"/><path class="o" stroke-width="8" d="M802.5 103.0h0M828.0 96.4h0M830.6 80.2h0M819.3 89.1h0"/><path class="b" stroke-width="5" d="M780.2 61.9h0M780.0 59.4h0M839.0 83.9h0M860.6 116.1h0"/><path class="b" stroke-width="6" d="M780.2 56.3h0M861.1 93.9h0M861.5 102.9h0M861.6 108.0h0"/><path class="b" stroke-width="7" d="M770.1 94.7h0M755.0 101.3h0M781.7 66.9h0M803.5 96.7h0M805.8 76.9h0M981.9 81.2h0M993.1 66.6h0M994.1 96.7h0"/><path class="b" stroke-width="8" d="M790.1 98.7h0M990.1 86.1h0"/><path class="b" stroke-width="9" d="M762.4 100.5h0M980.3 90.0h0"/><path class="b" stroke-width="10" d="M770.5 98.5h0"/><path class="lb" stroke-width="6" d="M683.7 76.4h0"/><path class="lb" stroke-width="8" d="M725.4 103.7h0M726.4 89.8h0M765.9 53.2h0M969.2 72.0h0"/><path class="lb" stroke-width="12" d="M836.5 138.0h0"/><path class="lo" stroke-width="6" d="M819.7 206.2h0"/><path class="lo" stroke-width="7" d="M834.7 65.9h0"/><path class="lo" stroke-width="8" d="M840.6 50.9h0M827.4 52.1h0M834.0 19.0h0M937.6 85.7h0"/><path class="lo" stroke-width="9" d="M970.9 132.3h0"/><path class="o" stroke-width="5" d="M770.1 106.8h0M769.4 104.9h0M790.2 109.2h0M968.4 105.5h0M971.1 97.1h0"/><path class="o" stroke-width="6" d="M770.1 99.0h0M796.7 67.6h0M800.1 57.6h0M797.0 102.4h0M801.7 133.9h0"/><path class="o" stroke-width="7" d="M807.8 92.3h0M791.9 93.3h0M797.0 94.6h0M800.1 136.8h0M801.1 155.3h0M801.1 135.5h0M834.9 76.7h0M832.0 85.6h0M836.0 90.4h0M829.8 100.2h0M850.4 104.1h0M969.0 98.1h0"/><path class="o" stroke-width="8" d="M837.7 98.7h0M822.8 91.5h0M839.8 88.8h0M818.7 88.9h0M837.3 96.3h0M837.5 105.9h0M823.3 85.4h0"/><path class="o" stroke-width="9" d="M816.2 94.4h0"/><path class="b" stroke-width="4" d="M862.3 93.8h0"/><path class="b" stroke-width="5" d="M780.7 47.8h0M839.1 89.4h0M838.1 77.9h0"/><path class="b" stroke-width="6" d="M779.4 52.1h0M781.4 56.9h0M837.0 85.0h0"/><path class="b" stroke-width="7" d="M763.2 102.9h0M767.4 104.6h0M781.4 62.5h0M802.7 97.1h0M802.7 71.4h0M862.6 121.3h0"/><path class="b" stroke-width="8" d="M800.2 92.2h0"/><path class="b" stroke-width="9" d="M791.6 85.5h0M792.5 71.4h0M987.1 102.6h0"/><path class="lb" stroke-width="8" d="M780.9 13.0h0M1035.5 89.7h0"/><path class="lb" stroke-width="9" d="M1034.8 103.8h0"/><path class="lo" stroke-width="7" d="M826.5 48.1h0"/><path class="lo" stroke-width="8" d="M948.5 79.7h0M969.1 140.4h0"/><path class="lo" stroke-width="9" d="M938.3 87.8h0M937.0 140.0h0"/><path class="o" stroke-width="5" d="M807.1 79.9h0M793.8 89.0h0M995.9 105.8h0"/><path class="o" stroke-width="6" d="M838.1 105.7h0M823.5 95.7h0M969.2 96.6h0M997.2 94.1h0"/><path class="o" stroke-width="7" d="M694.1 88.3h0M769.7 123.1h0M807.2 70.6h0M840.2 90.6h0M829.3 104.1h0M840.8 91.9h0M995.9 100.8h0"/><path class="o" stroke-width="8" d="M837.5 99.7h0M822.5 81.7h0"/><path class="o" stroke-width="9" d="M835.0 86.0h0M821.3 101.2h0M835.1 93.8h0M841.6 94.3h0"/><path class="b" stroke-width="5" d="M838.4 64.1h0"/><path class="b" stroke-width="6" d="M771.8 90.0h0M781.6 56.9h0M862.5 121.7h0M939.2 64.5h0M982.8 99.3h0"/><path class="b" stroke-width="7" d="M780.6 60.8h0M780.8 55.7h0M795.6 91.5h0M799.8 71.2h0M862.2 82.9h0"/><path class="b" stroke-width="8" d="M769.4 100.2h0M760.4 86.0h0M762.0 94.2h0M765.5 94.2h0M760.9 101.7h0M791.6 78.9h0"/><path class="b" stroke-width="9" d="M761.7 90.0h0M800.5 81.3h0"/><path class="db" stroke-width="10" d="M990.0 98.0h0"/><path class="lb" stroke-width="6" d="M939.2 34.4h0"/><path class="lb" stroke-width="8" d="M726.6 119.5h0M969.6 65.9h0"/><path class="lo" stroke-width="6" d="M816.7 212.5h0"/><path class="lo" stroke-width="7" d="M813.7 219.6h0"/><path class="lo" stroke-width="8" d="M815.0 49.3h0M971.6 135.1h0"/><path class="o" stroke-width="4" d="M801.9 142.3h0"/><path class="o" stroke-width="5" d="M692.6 98.9h0M794.9 87.5h0M968.3 97.7h0M969.3 99.3h0M997.2 93.5h0"/><path class="o" stroke-width="6" d="M771.4 103.3h0M788.9 54.9h0M800.7 128.1h0M836.2 88.8h0M969.2 104.4h0M997.0 100.4h0"/><path class="o" stroke-width="7" d="M801.7 135.3h0M824.8 102.6h0M841.2 83.2h0M848.9 110.2h0"/><path class="o" stroke-width="8" d="M824.6 86.9h0M829.1 81.3h0M834.2 97.8h0M834.7 96.1h0M837.4 107.4h0M816.7 91.0h0"/><path class="o" stroke-width="9" d="M840.7 89.5h0M817.4 99.2h0M841.8 97.7h0"/><path class="b" stroke-width="4" d="M837.8 82.7h0"/><path class="b" stroke-width="5" d="M838.4 80.8h0M839.1 64.4h0M862.3 106.3h0M861.5 106.0h0M861.7 99.3h0"/><path class="b" stroke-width="6" d="M779.7 57.3h0M859.8 106.4h0M862.5 97.2h0M796.6 171.0h0"/><path class="b" stroke-width="7" d="M803.6 69.4h0M808.6 102.4h0M795.1 90.2h0M985.6 88.4h0"/><path class="b" stroke-width="8" d="M769.2 92.6h0M768.4 97.0h0M989.8 94.6h0M991.4 99.2h0M980.6 102.7h0M984.1 94.0h0"/><path class="b" stroke-width="9" d="M765.6 95.7h0M765.8 98.6h0M756.2 97.7h0"/><path class="b" stroke-width="10" d="M764.2 100.4h0"/><path class="lb" stroke-width="7" d="M968.6 65.9h0"/><path class="lb" stroke-width="8" d="M725.5 103.6h0M765.9 44.9h0"/><path class="lb" stroke-width="10" d="M762.6 71.4h0"/><path class="lb" stroke-width="18" d="M605.6 91.4h0"/><path class="lb" stroke-width="20" d="M605.6 101.3h0"/><path class="lo" stroke-width="6" d="M739.3 80.0h0M739.3 126.0h0M821.4 43.4h0M818.9 207.7h0M923.7 117.2h0M1001.0 187.7h0"/><path class="lo" stroke-width="7" d="M839.9 55.5h0M821.4 211.2h0M969.8 129.8h0"/><path class="lo" stroke-width="8" d="M937.3 130.0h0"/><path class="o" stroke-width="5" d="M807.2 80.6h0"/><path class="o" stroke-width="6" d="M770.8 111.8h0M771.3 83.4h0M788.3 57.2h0M805.3 60.6h0M802.1 73.9h0M800.4 153.7h0M802.0 149.4h0M801.7 136.1h0M835.6 84.8h0M839.7 116.8h0M971.0 96.2h0"/><path class="o" stroke-width="7" d="M692.2 87.1h0M694.5 98.1h0M692.8 83.0h0M799.3 103.1h0M800.4 94.5h0M810.0 105.3h0M797.4 75.6h0M826.4 103.5h0M819.2 97.7h0M996.6 115.1h0M996.6 107.0h0"/><path class="o" stroke-width="8" d="M807.3 97.1h0M791.4 83.9h0M801.5 92.2h0M815.5 83.8h0M839.0 97.8h0M825.3 77.6h0M836.7 94.4h0"/><path class="o" stroke-width="9" d="M819.8 78.1h0"/><path class="b" stroke-width="4" d="M782.4 54.7h0"/><path class="b" stroke-width="5" d="M779.6 55.6h0M780.5 57.8h0M837.6 82.7h0M861.8 88.6h0"/><path class="b" stroke-width="6" d="M764.5 97.4h0M780.7 60.5h0M838.2 64.2h0"/><path class="b" stroke-width="7" d="M755.9 99.6h0M766.1 88.2h0M770.3 95.1h0M861.1 93.6h0M991.6 86.5h0"/><path class="b" stroke-width="8" d="M764.3 102.9h0M756.3 101.2h0M757.6 96.2h0M771.5 97.8h0M789.6 109.9h0M801.1 83.4h0M800.1 92.0h0M986.8 106.1h0"/><path class="b" stroke-width="9" d="M759.2 95.5h0M788.1 79.9h0M982.8 85.8h0"/><path class="do" stroke-width="10" d="M793.0 55.0h0"/><path class="lb" stroke-width="6" d="M726.3 115.6h0"/><path class="lb" stroke-width="8" d="M727.2 110.0h0M983.2 50.7h0"/><path class="lb" stroke-width="10" d="M768.4 113.0h0"/><path class="lo" stroke-width="6" d="M983.2 181.0h0"/><path class="lo" stroke-width="7" d="M821.4 200.2h0M937.4 84.1h0"/><path class="lo" stroke-width="8" d="M835.3 59.4h0"/><path class="o" stroke-width="5" d="M770.8 115.2h0M808.0 78.3h0M997.2 86.6h0"/><path class="o" stroke-width="6" d="M692.7 97.7h0M772.4 89.6h0M799.6 106.1h0M805.3 91.9h0"/><path class="o" stroke-width="7" d="M771.4 92.5h0M798.7 105.7h0M788.9 92.4h0M821.1 92.5h0"/><path class="o" stroke-width="8" d="M798.8 88.1h0M815.8 81.6h0"/><path class="o" stroke-width="9" d="M825.7 91.3h0M836.3 112.9h0"/></g>
<line x1="590.3" y1="101" x2="1051" y2="101" stroke="#b4b4b4" stroke-width="1.6" stroke-dasharray="3.2 3.1"/>
<rect x="589.3" y="5" width="462.7" height="293.3" fill="none" stroke="#8c8c8c" stroke-width="1.35"/>
<line x1="584.3" y1="8" x2="589.3" y2="8" stroke="#8c8c8c" stroke-width="1.4"/>
<line x1="584.3" y1="101" x2="589.3" y2="101" stroke="#8c8c8c" stroke-width="1.4"/>
<line x1="584.3" y1="194" x2="589.3" y2="194" stroke="#8c8c8c" stroke-width="1.4"/>
<line x1="584.3" y1="286.6" x2="589.3" y2="286.6" stroke="#8c8c8c" stroke-width="1.4"/>
<line x1="630.2" y1="298.3" x2="630.2" y2="303.3" stroke="#8c8c8c" stroke-width="1.4"/>
<line x1="711.4" y1="298.3" x2="711.4" y2="303.3" stroke="#8c8c8c" stroke-width="1.4"/>
<line x1="792.4" y1="298.3" x2="792.4" y2="303.3" stroke="#8c8c8c" stroke-width="1.4"/>
<line x1="873.2" y1="298.3" x2="873.2" y2="303.3" stroke="#8c8c8c" stroke-width="1.4"/>
<line x1="954.1" y1="298.3" x2="954.1" y2="303.3" stroke="#8c8c8c" stroke-width="1.4"/>
<line x1="1035.4" y1="298.3" x2="1035.4" y2="303.3" stroke="#8c8c8c" stroke-width="1.4"/>
<text transform="translate(578.6,14.2) rotate(-90)" text-anchor="middle" font-size="14.0">0.5</text>
<text transform="translate(578.6,101) rotate(-90)" text-anchor="middle" font-size="14.0">0</text>
<text transform="translate(578.6,194) rotate(-90)" text-anchor="middle" font-size="14.0">-0.5</text>
<text transform="translate(578.6,286.6) rotate(-90)" text-anchor="middle" font-size="14.0">-1.0</text>
<text x="630.2" y="321.9" text-anchor="middle" font-size="14.0">5</text>
<text x="711.4" y="321.9" text-anchor="middle" font-size="14.0">10</text>
<text x="792.4" y="321.9" text-anchor="middle" font-size="14.0">15</text>
<text x="873.2" y="321.9" text-anchor="middle" font-size="14.0">20</text>
<text x="954.1" y="321.9" text-anchor="middle" font-size="14.0">25</text>
<text x="1035.4" y="321.9" text-anchor="middle" font-size="14.0">30</text>
<text x="821.6" y="341.6" text-anchor="middle" font-size="13.9">MAT (℃)</text>
<text transform="translate(558.7,138.3) rotate(-90)" text-anchor="middle" font-size="13.9">Change in yield (lnRR)</text>
<text x="986.2" y="62.8" font-size="47">(b)</text>
<clipPath id="cpc"><rect x="1144.8" y="7" width="462.2" height="292.5"/></clipPath>
<g clip-path="url(#cpc)"><polygon points="1144.8,102.1 1157.2,101.4 1169.6,100.7 1182,100 1194.5,99.3 1206.9,98.5 1219.3,97.8 1231.7,97.1 1244.1,96.3 1256.5,95.5 1269,94.7 1281.4,93.9 1293.8,93.1 1306.2,92.3 1318.6,91.4 1331,90.5 1343.5,89.6 1355.9,88.7 1368.3,87.7 1380.7,86.6 1393.1,85.5 1405.5,84.4 1418,83.2 1430.4,82 1442.8,80.7 1455.2,79.5 1467.6,78.2 1480,76.9 1492.5,75.6 1504.9,74.2 1517.3,72.9 1517.3,94.1 1504.9,94.5 1492.5,94.9 1480,95.3 1467.6,95.8 1455.2,96.2 1442.8,96.7 1430.4,97.2 1418,97.7 1405.5,98.3 1393.1,98.9 1380.7,99.5 1368.3,100.2 1355.9,100.9 1343.5,101.7 1331,102.6 1318.6,103.4 1306.2,104.3 1293.8,105.2 1281.4,106.1 1269,107.1 1256.5,108 1244.1,109 1231.7,110 1219.3,111 1206.9,112 1194.5,113 1182,114 1169.6,115 1157.2,116.1 1144.8,117.1" fill="#f28a40" fill-opacity="1"/><path class="b" stroke-width="6" d="M1302.1 78.0h0"/><path class="b" stroke-width="7" d="M1381.8 74.4h0M1398.9 118.3h0M1413.9 106.5h0M1462.9 104.3h0M1524.1 111.5h0M1522.5 89.9h0M1577.5 87.1h0"/><path class="b" stroke-width="8" d="M1380.7 80.6h0M1377.2 102.0h0M1412.4 101.5h0M1465.4 117.6h0M1584.9 97.1h0"/><path class="b" stroke-width="9" d="M1408.4 103.3h0"/><path class="b" stroke-width="10" d="M1278.5 22.7h0"/><path class="lb" stroke-width="6" d="M1432.0 47.0h0"/><path class="lb" stroke-width="8" d="M1469.7 64.8h0"/><path class="lb" stroke-width="9" d="M1416.9 61.9h0"/><path class="lb" stroke-width="10" d="M1403.7 74.6h0M1575.0 115.7h0"/><path class="lo" stroke-width="5" d="M1273.7 75.3h0M1270.7 119.2h0M1358.2 79.6h0M1394.0 96.4h0M1415.2 71.9h0M1428.8 78.4h0"/><path class="lo" stroke-width="6" d="M1161.8 127.3h0M1168.7 96.7h0M1191.6 152.0h0M1323.6 94.7h0M1300.1 84.1h0M1466.3 78.1h0M1502.0 87.1h0"/><path class="lo" stroke-width="7" d="M1166.7 121.2h0M1215.7 109.8h0M1229.3 100.3h0M1262.2 125.1h0M1381.5 84.3h0"/><path class="lo" stroke-width="8" d="M1223.3 100.9h0"/><path class="lo" stroke-width="9" d="M1289.9 72.3h0"/><path class="lo" stroke-width="10" d="M1339.5 113.5h0"/><path class="lo" stroke-width="15" d="M1233.7 90.6h0"/><path class="o" stroke-width="5" d="M1211.9 88.7h0M1262.3 112.5h0M1213.9 116.3h0M1192.6 112.4h0"/><path class="o" stroke-width="6" d="M1285.1 108.3h0M1191.0 98.1h0M1234.8 77.9h0"/><path class="o" stroke-width="7" d="M1276.7 102.0h0M1172.9 102.3h0"/><path class="b" stroke-width="4" d="M1522.9 100.1h0"/><path class="b" stroke-width="5" d="M1443.0 100.6h0M1430.2 119.7h0"/><path class="b" stroke-width="6" d="M1335.6 94.2h0M1385.2 105.4h0M1402.9 103.7h0M1449.5 106.3h0M1418.5 99.4h0M1439.8 112.6h0M1482.9 107.6h0M1586.0 87.2h0"/><path class="b" stroke-width="7" d="M1318.8 82.2h0M1428.7 112.0h0M1479.1 102.9h0M1429.9 124.2h0M1575.9 82.8h0"/><path class="b" stroke-width="8" d="M1306.8 96.0h0M1411.4 105.0h0M1412.5 103.9h0M1419.4 101.8h0M1477.8 107.4h0M1575.4 103.2h0"/><path class="b" stroke-width="9" d="M1436.3 118.1h0M1467.0 107.2h0M1579.5 93.6h0M1582.4 95.2h0M1584.6 83.7h0"/><path class="lb" stroke-width="9" d="M1409.4 59.5h0"/><path class="lb" stroke-width="16" d="M1587.0 78.0h0"/><path class="lo" stroke-width="5" d="M1222.4 86.2h0M1166.7 132.3h0M1401.7 71.1h0M1398.5 87.9h0"/><path class="lo" stroke-width="6" d="M1270.2 118.8h0M1167.7 93.8h0M1177.6 108.4h0M1284.9 75.8h0M1331.8 92.7h0M1342.8 83.1h0M1413.6 82.6h0M1439.7 81.8h0M1407.8 62.6h0M1450.0 78.0h0M1494.0 76.6h0"/><path class="lo" stroke-width="7" d="M1192.6 114.1h0M1157.1 109.0h0M1275.7 79.1h0M1309.9 71.8h0M1444.0 80.1h0M1463.2 76.7h0"/><path class="lo" stroke-width="8" d="M1180.6 134.8h0M1182.6 127.7h0M1292.1 67.4h0"/><path class="o" stroke-width="5" d="M1212.7 108.0h0M1235.7 102.8h0M1233.3 101.7h0"/><path class="o" stroke-width="6" d="M1239.1 102.1h0M1188.5 90.9h0M1246.9 100.8h0M1149.9 107.7h0M1192.8 84.6h0M1191.3 83.8h0M1190.2 110.6h0M1236.2 70.5h0"/><path class="o" stroke-width="7" d="M1189.3 106.3h0M1235.9 68.8h0"/><path class="b" stroke-width="5" d="M1522.4 90.5h0"/><path class="b" stroke-width="6" d="M1439.1 100.2h0M1391.5 113.1h0M1412.5 101.9h0M1521.6 96.3h0M1561.3 93.3h0"/><path class="b" stroke-width="7" d="M1422.9 103.6h0M1423.5 118.6h0M1473.8 117.5h0M1468.6 105.7h0M1565.6 89.6h0M1554.2 93.6h0"/><path class="b" stroke-width="8" d="M1377.7 102.5h0M1462.0 104.9h0M1586.8 95.7h0"/><path class="b" stroke-width="9" d="M1417.2 110.8h0M1408.6 108.1h0M1581.0 85.6h0"/><path class="db" stroke-width="10" d="M1322.3 56.0h0"/><path class="lb" stroke-width="6" d="M1257.0 46.5h0M1296.0 32.0h0M1320.0 35.5h0M1506.2 134.0h0"/><path class="lb" stroke-width="7" d="M1415.6 57.5h0"/><path class="lb" stroke-width="8" d="M1411.4 69.5h0"/><path class="lb" stroke-width="10" d="M1365.5 61.5h0"/><path class="lo" stroke-width="5" d="M1251.6 127.9h0M1223.9 111.5h0M1338.5 79.7h0M1375.7 87.3h0M1483.9 78.2h0"/><path class="lo" stroke-width="6" d="M1264.6 110.0h0M1155.8 101.6h0M1457.5 77.6h0M1500.5 74.9h0"/><path class="lo" stroke-width="7" d="M1204.3 99.7h0M1270.0 94.8h0M1293.6 132.6h0M1256.5 84.9h0M1290.9 54.2h0M1415.6 76.3h0"/><path class="lo" stroke-width="8" d="M1157.2 95.8h0M1226.4 113.6h0"/><path class="lo" stroke-width="10" d="M1296.3 20.5h0M1269.7 41.5h0M1331.0 47.0h0"/><path class="o" stroke-width="5" d="M1231.1 117.0h0M1181.3 97.6h0M1212.6 89.3h0M1235.8 115.9h0"/><path class="o" stroke-width="6" d="M1244.0 110.5h0M1199.0 116.8h0"/><path class="o" stroke-width="7" d="M1191.2 109.5h0"/><path class="b" stroke-width="5" d="M1523.8 106.2h0M1524.3 115.6h0"/><path class="b" stroke-width="6" d="M1575.6 94.3h0M1556.6 89.8h0"/><path class="b" stroke-width="7" d="M1320.8 82.4h0M1299.4 78.3h0M1441.5 106.3h0M1440.6 104.0h0M1429.6 111.6h0M1523.7 88.6h0M1556.2 96.0h0"/><path class="b" stroke-width="8" d="M1264.0 127.0h0M1565.5 87.0h0M1558.7 77.8h0M1555.1 98.5h0"/><path class="b" stroke-width="9" d="M1300.0 102.1h0M1569.5 104.0h0M1555.1 89.0h0"/><path class="b" stroke-width="10" d="M1483.7 103.8h0M1562.0 92.7h0"/><path class="lb" stroke-width="8" d="M1591.5 63.7h0"/><path class="lb" stroke-width="12" d="M1427.6 61.5h0"/><path class="lo" stroke-width="5" d="M1165.3 100.1h0M1465.9 78.6h0M1465.5 74.7h0"/><path class="lo" stroke-width="6" d="M1223.5 84.0h0M1176.2 105.8h0M1253.6 109.4h0M1259.4 89.3h0M1314.9 89.2h0M1505.9 77.0h0M1453.7 67.0h0M1439.8 65.1h0"/><path class="lo" stroke-width="7" d="M1239.2 113.1h0M1354.7 95.2h0M1366.8 71.2h0M1393.2 84.6h0M1402.8 67.1h0"/><path class="lo" stroke-width="8" d="M1332.5 82.5h0"/><path class="lo" stroke-width="13" d="M1239.0 87.0h0"/><path class="o" stroke-width="5" d="M1234.1 122.7h0"/><path class="o" stroke-width="6" d="M1289.7 122.5h0M1223.0 105.1h0M1214.8 81.7h0"/><path class="o" stroke-width="7" d="M1280.2 106.4h0"/><path class="b" stroke-width="5" d="M1379.3 109.3h0M1430.5 119.8h0"/><path class="b" stroke-width="6" d="M1415.2 101.7h0M1479.3 99.0h0M1429.0 116.3h0M1523.1 92.3h0"/><path class="b" stroke-width="7" d="M1332.4 66.2h0M1459.1 99.6h0M1430.8 113.1h0M1553.5 105.7h0M1554.4 88.0h0"/><path class="b" stroke-width="8" d="M1321.3 93.3h0M1567.0 90.2h0M1590.3 100.6h0M1559.1 87.5h0"/><path class="b" stroke-width="9" d="M1419.9 124.7h0"/><path class="b" stroke-width="10" d="M1311.5 82.9h0M1459.2 111.8h0"/><path class="lb" stroke-width="8" d="M1408.8 54.4h0M1407.9 56.8h0"/><path class="lb" stroke-width="12" d="M1324.0 19.4h0"/><path class="lb" stroke-width="16" d="M1380.0 77.0h0"/><path class="lo" stroke-width="5" d="M1459.7 83.3h0M1458.0 90.2h0"/><path class="lo" stroke-width="6" d="M1166.3 96.5h0M1296.3 87.3h0M1189.8 104.2h0M1155.6 84.3h0M1214.6 90.5h0M1368.5 91.9h0M1411.4 68.4h0"/><path class="lo" stroke-width="7" d="M1256.0 100.6h0M1321.4 91.3h0M1328.6 79.7h0M1416.9 70.8h0"/><path class="lo" stroke-width="8" d="M1185.5 98.6h0M1234.8 52.6h0"/><path class="o" stroke-width="5" d="M1212.7 63.3h0"/><path class="o" stroke-width="6" d="M1267.6 101.3h0M1174.1 111.0h0M1236.2 74.3h0"/><path class="o" stroke-width="7" d="M1228.9 100.6h0M1212.5 79.5h0M1233.4 97.6h0"/><path class="b" stroke-width="5" d="M1421.9 108.7h0M1430.5 107.2h0"/><path class="b" stroke-width="6" d="M1451.4 113.1h0M1411.4 118.2h0M1553.9 91.1h0"/><path class="b" stroke-width="7" d="M1303.2 92.8h0M1385.9 78.0h0M1451.2 104.0h0M1416.7 108.1h0M1460.1 103.2h0M1522.3 98.0h0M1580.6 85.3h0"/><path class="b" stroke-width="8" d="M1335.9 87.3h0M1321.5 96.2h0M1469.9 126.5h0M1460.1 117.5h0"/><path class="b" stroke-width="9" d="M1336.9 96.6h0M1309.9 67.0h0M1324.4 97.7h0M1382.9 76.2h0M1429.7 122.4h0M1441.5 107.8h0M1382.2 117.2h0M1412.2 105.7h0M1570.5 97.6h0"/><path class="b" stroke-width="10" d="M1446.0 71.4h0M1491.8 69.2h0"/><path class="lb" stroke-width="7" d="M1409.7 54.9h0"/><path class="lb" stroke-width="8" d="M1415.1 62.1h0"/><path class="lo" stroke-width="5" d="M1233.8 108.8h0M1213.3 79.3h0M1221.9 131.0h0M1206.5 100.1h0M1322.9 81.7h0M1339.4 89.4h0M1482.8 83.3h0M1474.7 79.7h0"/><path class="lo" stroke-width="6" d="M1257.1 113.1h0M1267.1 96.2h0M1261.0 135.0h0M1279.0 141.0h0M1377.3 85.2h0M1441.4 73.9h0M1463.4 75.2h0"/><path class="lo" stroke-width="7" d="M1172.1 92.4h0M1384.4 77.2h0"/><path class="lo" stroke-width="8" d="M1242.1 123.3h0M1290.6 79.0h0M1223.0 129.0h0"/><path class="lo" stroke-width="14" d="M1229.2 87.3h0"/><path class="lo" stroke-width="15" d="M1232.6 77.8h0"/><path class="o" stroke-width="4" d="M1212.7 98.3h0"/><path class="o" stroke-width="5" d="M1174.2 112.9h0M1243.1 98.8h0M1272.8 111.2h0M1191.0 90.9h0"/><path class="o" stroke-width="6" d="M1195.1 94.7h0M1191.4 105.5h0M1190.8 102.6h0"/><path class="o" stroke-width="7" d="M1209.8 97.2h0"/><path class="b" stroke-width="6" d="M1428.8 116.4h0M1522.7 109.7h0"/><path class="b" stroke-width="7" d="M1379.2 77.6h0M1478.0 119.1h0M1403.6 119.8h0M1391.5 108.0h0M1522.0 99.5h0M1580.0 95.3h0"/><path class="b" stroke-width="8" d="M1379.3 75.1h0M1477.0 113.1h0M1467.0 108.9h0M1574.9 84.9h0"/><path class="b" stroke-width="9" d="M1402.2 110.9h0M1556.2 91.7h0M1569.1 95.4h0M1577.1 94.7h0M1555.2 84.7h0"/><path class="b" stroke-width="10" d="M1324.1 66.5h0M1475.7 102.4h0"/><path class="lb" stroke-width="6" d="M1382.2 27.7h0M1419.8 19.4h0"/><path class="lb" stroke-width="7" d="M1415.9 73.4h0M1407.3 74.1h0"/><path class="lb" stroke-width="8" d="M1287.0 131.0h0"/><path class="lo" stroke-width="5" d="M1293.5 117.1h0M1146.4 114.1h0M1481.1 81.1h0"/><path class="lo" stroke-width="6" d="M1212.9 124.3h0M1200.2 111.3h0M1314.7 91.8h0M1356.8 93.3h0M1501.6 93.2h0M1501.4 86.4h0M1496.6 65.6h0"/><path class="lo" stroke-width="7" d="M1181.4 117.6h0M1253.5 101.5h0"/><path class="lo" stroke-width="8" d="M1177.6 89.7h0M1289.8 61.3h0M1323.4 115.7h0"/><path class="lo" stroke-width="13" d="M1231.1 85.5h0"/><path class="o" stroke-width="5" d="M1263.6 109.3h0M1202.6 109.4h0M1191.0 122.8h0M1189.1 99.5h0"/><path class="o" stroke-width="6" d="M1196.0 116.4h0M1196.4 111.5h0M1160.8 88.1h0M1191.0 106.2h0M1213.1 85.6h0"/><path class="o" stroke-width="7" d="M1163.1 98.5h0M1287.5 107.0h0M1213.3 89.1h0M1235.6 84.8h0M1234.8 89.5h0"/><path class="b" stroke-width="5" d="M1523.9 103.5h0M1522.7 97.1h0"/><path class="b" stroke-width="6" d="M1300.5 94.5h0M1455.5 110.4h0M1469.5 110.5h0M1436.8 104.3h0M1408.7 103.3h0M1522.3 120.5h0M1522.5 96.2h0"/><path class="b" stroke-width="7" d="M1311.6 79.7h0M1471.6 111.1h0M1589.9 102.7h0M1576.5 100.6h0M1575.6 87.5h0M1567.1 91.2h0"/><path class="b" stroke-width="8" d="M1467.8 105.2h0M1415.7 107.5h0M1506.2 139.5h0"/><path class="b" stroke-width="9" d="M1388.7 73.5h0M1454.0 108.3h0M1577.9 83.6h0M1560.2 84.3h0"/><path class="b" stroke-width="10" d="M1301.5 67.8h0M1317.9 87.0h0M1416.8 107.3h0"/><path class="lb" stroke-width="6" d="M1381.0 27.0h0"/><path class="lb" stroke-width="8" d="M1361.0 120.2h0M1268.0 113.0h0M1524.0 125.7h0M1602.6 92.5h0"/><path class="lb" stroke-width="12" d="M1462.0 139.0h0"/><path class="lo" stroke-width="5" d="M1165.2 111.1h0M1345.4 79.4h0M1468.5 86.2h0M1486.5 74.6h0M1397.0 81.4h0M1393.4 69.0h0"/><path class="lo" stroke-width="6" d="M1237.9 125.7h0M1291.7 82.9h0M1313.0 86.4h0M1354.3 78.8h0M1361.2 88.7h0M1481.2 81.4h0"/><path class="lo" stroke-width="7" d="M1234.9 102.3h0M1221.7 86.6h0M1218.5 90.2h0M1216.0 106.0h0M1247.5 109.9h0M1292.7 62.9h0M1320.0 84.0h0"/><path class="lo" stroke-width="8" d="M1196.0 94.3h0M1149.3 104.4h0M1291.6 77.0h0M1320.0 130.0h0M1322.8 80.3h0"/><path class="o" stroke-width="5" d="M1156.9 111.1h0"/><path class="o" stroke-width="6" d="M1276.9 120.4h0M1171.0 104.5h0"/><path class="o" stroke-width="7" d="M1149.8 102.2h0M1267.5 93.1h0"/><path class="b" stroke-width="5" d="M1379.9 103.9h0"/><path class="b" stroke-width="6" d="M1387.0 72.0h0M1461.3 102.3h0M1430.3 120.4h0M1562.7 82.4h0M1555.5 81.4h0M1566.8 98.3h0"/><path class="b" stroke-width="7" d="M1443.9 109.6h0M1397.7 103.9h0M1468.2 103.7h0M1431.2 112.4h0M1430.9 115.7h0M1570.1 90.8h0"/><path class="b" stroke-width="8" d="M1333.0 94.3h0M1381.1 75.3h0M1384.1 72.4h0M1379.6 75.7h0M1459.2 100.0h0"/><path class="b" stroke-width="9" d="M1315.7 82.1h0M1313.3 71.4h0M1328.5 89.5h0M1565.5 87.9h0"/><path class="b" stroke-width="10" d="M1336.5 95.9h0M1324.3 92.1h0"/><path class="lb" stroke-width="8" d="M1356.6 130.1h0M1411.6 55.3h0"/><path class="lb" stroke-width="10" d="M1491.8 57.0h0"/><path class="lb" stroke-width="12" d="M1541.4 92.5h0"/><path class="lb" stroke-width="14" d="M1263.6 57.0h0"/><path class="lb" stroke-width="22" d="M1300.0 126.8h0"/><path class="lo" stroke-width="5" d="M1202.3 105.1h0M1199.2 133.3h0M1279.4 107.6h0"/><path class="lo" stroke-width="6" d="M1239.4 128.3h0M1172.3 79.9h0M1194.9 105.4h0M1414.9 81.0h0M1400.9 82.1h0M1418.7 90.6h0M1488.8 76.6h0"/><path class="lo" stroke-width="7" d="M1281.4 86.7h0M1208.3 108.1h0M1247.1 106.2h0M1243.0 121.4h0M1291.1 63.2h0M1362.2 91.9h0M1508.5 70.4h0"/><path class="lo" stroke-width="8" d="M1146.0 117.4h0M1290.1 71.5h0M1292.4 38.2h0"/><path class="o" stroke-width="5" d="M1266.2 108.1h0M1262.8 101.9h0M1190.1 78.3h0M1235.4 98.0h0"/><path class="o" stroke-width="6" d="M1282.9 105.8h0M1290.4 97.6h0M1212.6 78.0h0"/><path class="o" stroke-width="7" d="M1269.4 106.6h0"/><path class="b" stroke-width="5" d="M1430.5 113.3h0"/><path class="b" stroke-width="6" d="M1427.8 113.9h0M1467.3 117.2h0M1565.6 85.6h0"/><path class="b" stroke-width="7" d="M1334.6 83.4h0M1477.3 105.0h0M1387.3 103.4h0M1405.5 110.7h0M1581.0 104.3h0M1586.2 102.5h0"/><path class="b" stroke-width="8" d="M1384.3 71.6h0M1386.6 114.6h0M1466.8 104.5h0M1465.5 105.2h0M1591.7 97.5h0"/><path class="b" stroke-width="9" d="M1313.5 95.0h0M1439.8 119.8h0M1411.9 110.2h0M1587.7 89.3h0"/><path class="b" stroke-width="10" d="M1554.9 78.7h0"/><path class="db" stroke-width="10" d="M1269.0 91.4h0"/><path class="lb" stroke-width="9" d="M1413.1 64.5h0M1415.8 69.6h0"/><path class="lo" stroke-width="5" d="M1237.0 103.7h0M1247.9 98.8h0M1253.3 111.2h0M1346.9 89.4h0M1329.6 88.4h0M1500.0 93.2h0M1461.1 69.2h0"/><path class="lo" stroke-width="6" d="M1232.0 127.1h0M1240.2 136.0h0M1359.5 84.2h0M1373.7 80.6h0M1417.9 72.9h0"/><path class="lo" stroke-width="7" d="M1272.4 111.5h0M1212.8 105.8h0M1178.7 93.9h0M1262.6 127.0h0M1320.0 85.7h0M1437.5 75.2h0"/><path class="lo" stroke-width="8" d="M1222.7 90.2h0M1173.0 132.9h0"/><path class="lo" stroke-width="9" d="M1291.4 64.9h0"/><path class="lo" stroke-width="12" d="M1231.2 88.0h0"/><path class="o" stroke-width="5" d="M1267.4 103.6h0"/><path class="o" stroke-width="6" d="M1214.0 93.7h0M1163.6 105.6h0M1213.2 66.8h0M1214.1 93.8h0M1213.0 80.2h0"/><path class="o" stroke-width="7" d="M1202.2 94.7h0M1191.6 83.3h0M1190.1 96.1h0M1234.2 93.5h0"/><path class="b" stroke-width="6" d="M1387.0 82.1h0M1420.9 108.7h0M1438.0 104.5h0M1474.1 111.0h0M1523.7 98.5h0"/><path class="b" stroke-width="7" d="M1385.8 72.9h0"/><path class="b" stroke-width="8" d="M1317.3 90.0h0M1382.9 76.9h0M1407.1 102.5h0M1481.3 121.8h0M1393.2 128.5h0M1564.1 84.3h0"/><path class="b" stroke-width="9" d="M1333.5 96.2h0M1328.6 91.4h0"/><path class="lb" stroke-width="7" d="M1403.7 58.5h0M1407.4 70.5h0"/><path class="lb" stroke-width="10" d="M1365.5 71.4h0M1548.0 92.0h0"/><path class="lb" stroke-width="12" d="M1354.4 72.6h0"/><path class="lo" stroke-width="5" d="M1242.1 137.5h0M1352.3 81.8h0M1436.8 78.7h0M1440.5 71.0h0"/><path class="lo" stroke-width="6" d="M1293.0 105.6h0M1351.0 79.8h0M1374.1 91.5h0M1392.5 83.9h0M1410.0 83.3h0M1485.8 82.6h0M1463.0 84.3h0"/><path class="lo" stroke-width="7" d="M1240.9 125.5h0M1177.9 76.4h0M1198.0 76.7h0M1170.5 89.7h0M1194.0 107.9h0M1285.3 103.9h0M1478.6 81.4h0M1425.3 66.2h0"/><path class="o" stroke-width="5" d="M1218.4 98.8h0M1278.2 103.1h0M1295.4 96.3h0"/><path class="o" stroke-width="6" d="M1221.7 107.3h0M1185.7 110.6h0M1235.1 90.3h0"/><path class="o" stroke-width="7" d="M1268.6 103.3h0M1212.9 90.0h0M1234.8 66.3h0"/><path class="b" stroke-width="6" d="M1305.7 66.8h0M1384.9 118.4h0M1436.0 114.6h0M1385.4 114.8h0M1460.8 107.2h0M1458.5 108.1h0M1523.2 94.7h0M1586.5 104.3h0"/><path class="b" stroke-width="7" d="M1315.2 89.3h0M1324.3 99.9h0M1406.6 105.2h0M1380.5 117.3h0M1479.3 115.6h0M1465.4 105.4h0M1468.7 104.6h0M1571.0 89.9h0"/><path class="b" stroke-width="8" d="M1336.7 75.8h0M1328.1 99.9h0M1318.0 78.0h0M1376.8 119.3h0M1402.8 103.3h0M1386.6 122.4h0M1408.7 108.0h0M1475.0 104.5h0"/><path class="b" stroke-width="9" d="M1391.1 112.4h0M1553.8 103.3h0M1560.2 94.9h0M1570.3 84.8h0"/><path class="b" stroke-width="10" d="M1418.9 102.7h0M1571.5 94.5h0"/><path class="lb" stroke-width="6" d="M1412.8 66.7h0"/><path class="lb" stroke-width="8" d="M1324.0 14.0h0"/><path class="lb" stroke-width="10" d="M1404.2 74.2h0"/><path class="lo" stroke-width="5" d="M1154.2 113.5h0M1150.6 84.8h0M1304.5 70.4h0M1354.6 83.2h0M1387.3 77.4h0M1395.1 83.2h0M1410.2 75.2h0"/><path class="lo" stroke-width="6" d="M1191.3 110.3h0M1286.4 106.5h0M1292.6 71.7h0M1420.9 74.2h0"/><path class="lo" stroke-width="7" d="M1264.7 103.7h0M1166.5 88.2h0M1237.4 81.3h0M1368.5 87.7h0M1506.8 81.2h0M1485.6 77.7h0"/><path class="lo" stroke-width="8" d="M1154.1 103.3h0"/><path class="o" stroke-width="5" d="M1238.3 114.6h0M1156.8 95.8h0M1235.8 75.5h0"/><path class="o" stroke-width="6" d="M1294.4 97.0h0M1244.7 107.1h0M1210.6 100.8h0"/><polyline points="1144.8,109.6 1517.3,83.5" fill="none" stroke="#7a3510" stroke-width="1.3"/></g>
<line x1="1145.8" y1="102.2" x2="1606" y2="102.2" stroke="#b4b4b4" stroke-width="1.6" stroke-dasharray="3.2 3.1"/>
<rect x="1144.8" y="7" width="462.2" height="292.5" fill="none" stroke="#8c8c8c" stroke-width="1.35"/>
<line x1="1139.8" y1="9.5" x2="1144.8" y2="9.5" stroke="#8c8c8c" stroke-width="1.4"/>
<line x1="1139.8" y1="102.2" x2="1144.8" y2="102.2" stroke="#8c8c8c" stroke-width="1.4"/>
<line x1="1139.8" y1="194.6" x2="1144.8" y2="194.6" stroke="#8c8c8c" stroke-width="1.4"/>
<line x1="1139.8" y1="287" x2="1144.8" y2="287" stroke="#8c8c8c" stroke-width="1.4"/>
<line x1="1176.4" y1="299.5" x2="1176.4" y2="304.5" stroke="#8c8c8c" stroke-width="1.4"/>
<line x1="1249.4" y1="299.5" x2="1249.4" y2="304.5" stroke="#8c8c8c" stroke-width="1.4"/>
<line x1="1322.5" y1="299.5" x2="1322.5" y2="304.5" stroke="#8c8c8c" stroke-width="1.4"/>
<line x1="1395.7" y1="299.5" x2="1395.7" y2="304.5" stroke="#8c8c8c" stroke-width="1.4"/>
<line x1="1468.7" y1="299.5" x2="1468.7" y2="304.5" stroke="#8c8c8c" stroke-width="1.4"/>
<line x1="1541.7" y1="299.5" x2="1541.7" y2="304.5" stroke="#8c8c8c" stroke-width="1.4"/>
<text transform="translate(1134.8,16.2) rotate(-90)" text-anchor="middle" font-size="14.0">0.5</text>
<text transform="translate(1134.8,102.2) rotate(-90)" text-anchor="middle" font-size="14.0">0</text>
<text transform="translate(1134.8,194.6) rotate(-90)" text-anchor="middle" font-size="14.0">-0.5</text>
<text transform="translate(1134.8,287) rotate(-90)" text-anchor="middle" font-size="14.0">-1.0</text>
<text x="1176.4" y="322.7" text-anchor="middle" font-size="14.0">50</text>
<text x="1249.4" y="322.7" text-anchor="middle" font-size="14.0">100</text>
<text x="1322.5" y="322.7" text-anchor="middle" font-size="14.0">150</text>
<text x="1395.7" y="322.7" text-anchor="middle" font-size="14.0">200</text>
<text x="1468.7" y="322.7" text-anchor="middle" font-size="14.0">250</text>
<text x="1541.7" y="322.7" text-anchor="middle" font-size="14.0">300</text>
<text x="1400.2" y="342.6" text-anchor="middle" font-size="13.9">Synthetic N input (kg N ha<tspan font-size="8.5" dy="-5.5">-1</tspan><tspan dy="5.5">)</tspan></text>
<text transform="translate(1114.1,145) rotate(-90)" text-anchor="middle" font-size="13.9">Change in yield (lnRR)</text>
<text x="1536.2" y="62" font-size="47">(c)</text>
<text x="1322.4" y="266.1" font-size="20.2" textLength="240.7" lengthAdjust="spacingAndGlyphs">SN: lnRR = 0.0006x - 0.061</text>
<text x="1365.4" y="289" font-size="20.2" textLength="164.8" lengthAdjust="spacingAndGlyphs"><tspan font-style="italic">P</tspan> &lt; 0.0001 n = 479</text>
<clipPath id="cpd"><rect x="1696" y="7" width="461.5" height="292"/></clipPath>
<g clip-path="url(#cpd)"><path class="b" stroke-width="5" d="M1814.5 84.9h0M1937.1 95.0h0M1936.2 95.0h0M2016.6 95.7h0"/><path class="b" stroke-width="6" d="M1813.2 85.0h0M1813.6 79.6h0M1854.0 72.0h0M1877.8 90.7h0M2015.6 85.9h0"/><path class="b" stroke-width="7" d="M1884.7 88.3h0M1949.4 97.8h0"/><path class="b" stroke-width="9" d="M1877.5 98.7h0M2003.5 94.6h0"/><path class="db" stroke-width="7" d="M1848.8 101.8h0M1849.1 100.3h0"/><path class="lb" stroke-width="6" d="M1777.5 64.2h0"/><path class="lb" stroke-width="7" d="M1814.5 126.0h0M1987.1 104.8h0"/><path class="lb" stroke-width="8" d="M1936.1 117.3h0"/><path class="lb" stroke-width="9" d="M1814.9 135.7h0"/><path class="lb" stroke-width="10" d="M1712.6 73.7h0M1961.0 82.5h0"/><path class="lb" stroke-width="12" d="M1754.7 56.0h0"/><path class="lo" stroke-width="8" d="M1732.0 136.7h0M1861.8 98.6h0M1715.4 79.6h0M1726.4 171.7h0"/><path class="lo" stroke-width="9" d="M2035.0 94.6h0"/><path class="o" stroke-width="4" d="M1732.4 98.7h0"/><path class="o" stroke-width="5" d="M1777.9 67.6h0M1792.1 97.7h0M1791.1 98.0h0"/><path class="o" stroke-width="6" d="M1756.0 102.6h0M1741.5 104.3h0M1740.2 69.3h0M1816.7 94.7h0"/><path class="o" stroke-width="7" d="M1733.8 70.5h0M1740.6 93.5h0M1771.9 117.9h0M1768.0 108.2h0M1768.9 112.9h0M1931.1 80.6h0"/><path class="o" stroke-width="8" d="M1740.7 105.4h0M1779.2 106.0h0M1778.9 118.1h0M1935.5 75.5h0"/><path class="o" stroke-width="10" d="M1738.1 97.2h0"/><path class="b" stroke-width="5" d="M1815.5 94.2h0M1853.1 58.6h0M1936.4 94.1h0M2015.7 91.8h0M2015.6 86.9h0"/><path class="b" stroke-width="6" d="M1853.5 67.8h0M1937.3 98.5h0M2015.8 84.3h0M2016.1 96.2h0"/><path class="b" stroke-width="7" d="M1768.8 88.8h0M2015.6 104.4h0M2015.6 88.2h0"/><path class="b" stroke-width="8" d="M2000.8 95.6h0M2004.7 95.7h0"/><path class="b" stroke-width="9" d="M1759.9 85.0h0"/><path class="db" stroke-width="5" d="M1848.5 108.9h0"/><path class="db" stroke-width="6" d="M1847.4 95.7h0M1847.9 101.0h0"/><path class="db" stroke-width="7" d="M1848.1 103.3h0M1849.3 112.9h0"/><path class="lb" stroke-width="6" d="M1899.7 80.5h0"/><path class="lb" stroke-width="8" d="M1910.3 53.2h0M1900.7 75.9h0"/><path class="lb" stroke-width="9" d="M1779.3 62.9h0"/><path class="lb" stroke-width="10" d="M1879.0 118.0h0"/><path class="lo" stroke-width="6" d="M1714.7 77.3h0M1726.4 214.2h0M1726.7 213.5h0"/><path class="lo" stroke-width="7" d="M1966.9 98.0h0"/><path class="lo" stroke-width="8" d="M1716.1 102.7h0M1967.2 96.4h0"/><path class="lo" stroke-width="9" d="M1715.6 109.1h0"/><path class="o" stroke-width="5" d="M1733.5 91.5h0M1779.5 85.9h0M1814.1 107.2h0M1817.8 99.8h0"/><path class="o" stroke-width="6" d="M1732.6 90.3h0M1731.8 82.1h0M1768.2 112.6h0M1767.7 105.5h0M1791.2 77.9h0M1817.2 105.3h0M1817.9 102.1h0"/><path class="o" stroke-width="7" d="M1732.0 104.7h0M1731.1 85.7h0M1750.2 74.8h0M1771.9 114.6h0"/><path class="o" stroke-width="8" d="M1751.4 80.1h0M1753.4 77.3h0M1743.7 105.1h0M1745.8 95.5h0M1754.5 94.0h0"/><path class="o" stroke-width="9" d="M1739.3 105.9h0M1749.8 98.5h0"/><path class="o" stroke-width="10" d="M1742.3 93.9h0"/><path class="b" stroke-width="5" d="M1815.1 77.1h0M2015.5 86.2h0M2016.9 92.3h0"/><path class="b" stroke-width="6" d="M1813.4 93.6h0M1883.3 92.5h0M1889.3 84.5h0M1938.2 95.2h0M2016.3 88.7h0M2014.6 106.9h0"/><path class="b" stroke-width="7" d="M1760.7 81.2h0M1815.1 90.7h0M1851.3 69.4h0M1852.1 66.7h0M1853.0 72.9h0M1954.7 96.3h0M2003.9 94.3h0M2015.3 80.3h0M2016.1 103.5h0M2029.0 95.6h0"/><path class="b" stroke-width="8" d="M1773.8 76.5h0M1767.7 81.4h0M1770.8 90.3h0M1880.6 92.7h0"/><path class="b" stroke-width="9" d="M1948.2 96.1h0"/><path class="b" stroke-width="10" d="M1762.0 138.0h0"/><path class="db" stroke-width="5" d="M1848.4 95.1h0M1849.5 90.1h0"/><path class="db" stroke-width="6" d="M1849.1 126.0h0M1849.3 110.4h0M1848.9 96.5h0"/><path class="db" stroke-width="7" d="M1849.1 102.0h0"/><path class="lb" stroke-width="6" d="M1778.2 65.9h0"/><path class="lb" stroke-width="7" d="M1986.7 87.0h0"/><path class="lb" stroke-width="8" d="M1814.4 124.8h0"/><path class="lo" stroke-width="6" d="M1714.2 110.3h0M1740.0 287.0h0M1754.0 223.0h0M2000.0 108.0h0"/><path class="lo" stroke-width="8" d="M1715.0 68.4h0"/><path class="lo" stroke-width="9" d="M1714.4 77.6h0"/><path class="o" stroke-width="5" d="M1817.4 125.3h0"/><path class="o" stroke-width="6" d="M1732.3 61.3h0M1742.8 86.0h0M1741.5 72.8h0M1751.3 60.1h0M1777.9 95.1h0M1777.2 89.5h0"/><path class="o" stroke-width="7" d="M1749.8 105.7h0M1750.3 105.0h0M1767.9 110.1h0M1775.2 112.3h0"/><path class="o" stroke-width="8" d="M1749.6 112.5h0M1752.5 92.2h0M1746.0 66.8h0M1779.8 104.0h0"/><path class="o" stroke-width="9" d="M1741.5 104.3h0M1776.6 116.5h0"/><path class="o" stroke-width="10" d="M1746.9 101.0h0"/><path class="b" stroke-width="4" d="M1936.8 102.1h0"/><path class="b" stroke-width="5" d="M2016.8 95.3h0M2015.2 86.5h0"/><path class="b" stroke-width="6" d="M1815.3 83.7h0M2017.1 98.2h0"/><path class="b" stroke-width="7" d="M1884.6 85.5h0"/><path class="b" stroke-width="8" d="M1771.4 90.5h0M1767.9 93.7h0M1875.0 84.6h0"/><path class="b" stroke-width="9" d="M1949.3 90.8h0M2005.5 94.9h0"/><path class="b" stroke-width="10" d="M1760.8 86.4h0"/><path class="b" stroke-width="12" d="M1882.0 90.0h0"/><path class="db" stroke-width="4" d="M1848.3 100.6h0"/><path class="db" stroke-width="5" d="M1848.7 97.0h0M1848.5 107.1h0M1849.0 111.6h0"/><path class="db" stroke-width="6" d="M1849.8 87.1h0M1847.4 94.6h0"/><path class="db" stroke-width="7" d="M1847.8 109.8h0"/><path class="lb" stroke-width="6" d="M1986.8 130.7h0"/><path class="lb" stroke-width="7" d="M1778.3 73.5h0"/><path class="lb" stroke-width="8" d="M1987.0 82.4h0"/><path class="lb" stroke-width="10" d="M1727.0 63.7h0M1884.0 110.0h0"/><path class="lo" stroke-width="7" d="M1862.4 98.5h0"/><path class="lo" stroke-width="9" d="M1861.6 101.8h0M1862.1 99.8h0"/><path class="o" stroke-width="5" d="M1732.1 67.0h0M1741.0 60.0h0M1792.1 118.3h0"/><path class="o" stroke-width="6" d="M1733.1 69.7h0M1732.3 73.4h0M1732.1 87.5h0M1741.1 71.3h0M1778.4 75.6h0M1816.1 100.3h0"/><path class="o" stroke-width="7" d="M1731.8 93.3h0M1732.1 94.9h0M1732.3 92.0h0M1750.9 86.8h0M1756.7 114.1h0M1758.8 65.7h0M1738.4 64.9h0M1777.9 103.1h0M1767.8 105.5h0M1818.1 89.5h0M1931.1 83.4h0"/><path class="o" stroke-width="8" d="M1749.1 101.7h0"/><path class="o" stroke-width="9" d="M1754.0 108.0h0M1740.9 108.5h0M1758.5 83.3h0M1769.4 116.7h0M1773.3 103.7h0"/><path class="b" stroke-width="4" d="M2016.7 91.8h0"/><path class="b" stroke-width="5" d="M1814.3 79.6h0M1814.1 75.4h0"/><path class="b" stroke-width="6" d="M1813.7 83.3h0M1814.4 83.2h0M1813.6 71.4h0M1889.5 96.3h0M1888.6 91.6h0M1883.8 92.2h0M1889.3 92.0h0M1937.4 92.9h0M2016.8 93.5h0M2016.5 105.4h0"/><path class="b" stroke-width="7" d="M1759.9 78.6h0M1952.4 92.1h0"/><path class="b" stroke-width="8" d="M1771.2 85.0h0"/><path class="b" stroke-width="9" d="M1761.7 75.5h0M1879.3 98.1h0M1880.8 96.3h0"/><path class="b" stroke-width="10" d="M1767.6 74.8h0M1948.8 99.3h0"/><path class="db" stroke-width="7" d="M1848.7 117.2h0"/><path class="lb" stroke-width="6" d="M1813.6 130.7h0"/><path class="lb" stroke-width="7" d="M1936.2 119.8h0"/><path class="lb" stroke-width="9" d="M1987.3 106.4h0"/><path class="lb" stroke-width="10" d="M1744.0 120.0h0"/><path class="lb" stroke-width="12" d="M1755.0 128.0h0M1961.0 107.0h0"/><path class="lo" stroke-width="6" d="M1917.0 120.0h0M1737.0 278.0h0M2035.3 103.8h0M2119.3 125.0h0M2132.6 102.5h0"/><path class="lo" stroke-width="7" d="M1715.5 87.9h0M1725.4 137.2h0M2034.4 111.3h0"/><path class="lo" stroke-width="8" d="M2035.3 101.2h0"/><path class="lo" stroke-width="9" d="M1861.3 97.0h0M1726.0 145.6h0"/><path class="o" stroke-width="5" d="M1733.1 97.8h0M1732.2 79.8h0M1816.8 93.5h0"/><path class="o" stroke-width="6" d="M1732.5 94.6h0M1757.5 101.4h0M1754.5 105.2h0M1749.3 57.4h0M1739.3 58.6h0M1774.8 117.0h0M1774.3 111.2h0M1793.0 109.1h0M1816.6 115.6h0M1818.5 87.4h0"/><path class="o" stroke-width="7" d="M1733.6 94.4h0M1772.5 102.9h0M1793.1 100.3h0"/><path class="o" stroke-width="8" d="M1742.3 102.7h0M1756.4 91.5h0M1744.5 101.5h0M1739.0 84.0h0M1750.8 98.3h0M1768.6 99.8h0"/><path class="o" stroke-width="9" d="M1757.1 84.4h0M1749.7 94.0h0M1748.6 96.5h0"/><path class="o" stroke-width="10" d="M1746.5 95.7h0M1758.9 95.6h0M1748.1 101.7h0"/><path class="b" stroke-width="5" d="M1814.8 85.4h0M2015.4 80.9h0"/><path class="b" stroke-width="6" d="M1770.8 85.3h0M1952.2 100.4h0M2004.2 94.7h0M2016.9 89.3h0"/><path class="b" stroke-width="7" d="M1766.6 83.5h0M1814.6 81.8h0M1814.1 91.9h0M1936.4 103.7h0"/><path class="b" stroke-width="8" d="M1875.9 95.6h0M2005.9 95.1h0M2002.0 93.9h0M2005.7 97.8h0"/><path class="b" stroke-width="9" d="M1772.2 90.4h0M1877.7 92.9h0M1878.2 92.6h0M1949.4 94.7h0"/><path class="b" stroke-width="10" d="M1763.9 81.9h0M1882.1 84.7h0M1950.5 94.3h0"/><path class="db" stroke-width="5" d="M1848.7 101.0h0"/><path class="db" stroke-width="12" d="M1884.0 92.0h0"/><path class="lb" stroke-width="7" d="M1815.7 125.9h0M1901.3 73.0h0M1937.0 114.4h0"/><path class="lb" stroke-width="8" d="M1777.7 60.0h0M1778.1 68.8h0M1778.1 59.4h0M1826.7 131.0h0M1987.3 101.1h0"/><path class="lb" stroke-width="9" d="M1778.0 60.2h0M1900.8 81.1h0M1987.3 104.6h0"/><path class="lb" stroke-width="10" d="M1894.0 113.0h0M1910.0 80.0h0"/><path class="lo" stroke-width="6" d="M1728.8 213.3h0M1946.6 56.0h0"/><path class="lo" stroke-width="8" d="M1966.9 95.5h0M2036.2 93.5h0"/><path class="o" stroke-width="5" d="M1791.5 110.4h0M1931.7 81.9h0"/><path class="o" stroke-width="6" d="M1732.2 96.6h0M1732.1 87.9h0M1752.3 96.6h0M1753.0 102.7h0M1739.2 86.2h0M1776.4 109.6h0M1777.5 70.9h0M1792.7 78.4h0M1935.5 82.0h0"/><path class="o" stroke-width="7" d="M1732.4 92.0h0M1753.6 98.1h0M1778.6 109.7h0"/><path class="o" stroke-width="8" d="M1747.1 86.4h0M1758.4 53.4h0M1776.9 113.5h0M1778.2 109.9h0M1770.4 99.4h0"/><path class="o" stroke-width="9" d="M1745.8 107.7h0M1739.8 91.4h0M1756.0 78.0h0M1769.3 104.9h0"/><path class="o" stroke-width="10" d="M1754.8 93.0h0"/><path class="b" stroke-width="5" d="M1854.3 62.5h0M1937.4 95.8h0"/><path class="b" stroke-width="6" d="M1938.1 90.6h0M2016.9 102.6h0"/><path class="b" stroke-width="7" d="M1885.9 84.3h0M1937.3 100.6h0"/><path class="db" stroke-width="5" d="M1847.4 101.7h0"/><path class="db" stroke-width="6" d="M1847.7 106.6h0"/><path class="db" stroke-width="7" d="M1849.3 87.0h0"/><path class="lb" stroke-width="6" d="M1777.6 66.3h0"/><path class="lb" stroke-width="8" d="M1813.5 127.5h0"/><path class="lb" stroke-width="10" d="M1884.0 125.0h0"/><path class="lo" stroke-width="7" d="M1965.4 94.9h0"/><path class="lo" stroke-width="8" d="M1725.6 176.9h0"/><path class="o" stroke-width="4" d="M1818.1 116.4h0"/><path class="o" stroke-width="5" d="M1732.5 90.6h0M1777.9 80.6h0"/><path class="o" stroke-width="6" d="M1738.2 97.8h0M1757.0 92.5h0M1741.4 98.6h0M1778.3 81.1h0M1931.7 86.4h0"/><path class="o" stroke-width="7" d="M1732.8 64.1h0M1744.7 95.3h0M1753.7 99.5h0M1747.3 110.0h0M1766.0 108.5h0M1774.3 110.0h0M1767.8 108.0h0M1793.4 85.4h0"/><path class="o" stroke-width="8" d="M1741.9 82.4h0M1758.8 99.2h0M1750.8 99.8h0M1744.1 91.9h0M1774.9 102.9h0M1773.3 103.0h0"/><path class="o" stroke-width="9" d="M1752.8 108.3h0M1740.1 85.6h0"/><path class="o" stroke-width="10" d="M1756.9 96.0h0"/><path class="b" stroke-width="5" d="M1815.1 83.8h0M1936.8 94.8h0M2014.5 89.2h0M2029.7 89.7h0"/><path class="b" stroke-width="6" d="M1813.2 89.7h0M1815.0 79.3h0M1937.1 97.6h0"/><path class="b" stroke-width="7" d="M1854.0 63.4h0M1887.0 90.0h0M1936.2 89.9h0M2028.6 90.0h0"/><path class="b" stroke-width="8" d="M1755.8 47.0h0M1879.6 89.8h0M1952.3 97.7h0"/><path class="b" stroke-width="9" d="M1878.1 94.0h0M2002.2 96.2h0"/><path class="b" stroke-width="10" d="M1769.6 81.6h0M1880.2 95.0h0"/><path class="db" stroke-width="5" d="M1848.4 104.7h0"/><path class="db" stroke-width="6" d="M1849.3 91.9h0M1849.7 109.0h0"/><path class="db" stroke-width="7" d="M1847.1 87.2h0"/><path class="lb" stroke-width="6" d="M1738.0 19.4h0M1738.0 32.7h0M1822.8 47.0h0M1940.0 56.0h0"/><path class="lb" stroke-width="7" d="M1987.9 128.4h0"/><path class="lb" stroke-width="8" d="M1778.8 64.3h0M1826.7 109.0h0"/><path class="lb" stroke-width="9" d="M1779.9 65.3h0"/><path class="lb" stroke-width="10" d="M1826.7 84.7h0"/><path class="lb" stroke-width="12" d="M1814.5 139.0h0"/><path class="lo" stroke-width="8" d="M1726.5 161.4h0M1726.0 152.8h0M1967.2 94.5h0"/><path class="o" stroke-width="5" d="M1733.2 63.6h0M1731.7 82.8h0M1733.6 94.3h0M1778.9 86.1h0M1791.9 103.4h0M1792.2 109.2h0"/><path class="o" stroke-width="6" d="M1756.2 54.2h0M1750.9 68.9h0M1778.5 79.3h0M1816.2 92.5h0"/><path class="o" stroke-width="7" d="M1733.4 96.6h0M1733.1 95.0h0M1739.2 83.8h0M1739.7 92.0h0M1740.1 57.7h0M1743.3 56.2h0M1771.1 113.4h0M1772.1 97.2h0M1791.9 79.8h0"/><path class="o" stroke-width="8" d="M1743.6 100.1h0M1758.6 93.2h0M1750.8 105.5h0"/><path class="o" stroke-width="9" d="M1749.8 92.7h0M1755.8 95.9h0M1742.9 109.3h0"/><path class="o" stroke-width="10" d="M1756.1 105.5h0"/><path class="b" stroke-width="5" d="M1815.3 79.2h0M1814.9 83.4h0M2015.2 96.2h0M2029.6 90.2h0"/><path class="b" stroke-width="6" d="M1935.4 98.1h0M2016.9 97.9h0"/><path class="b" stroke-width="7" d="M1852.8 62.3h0M1876.0 85.8h0M1885.0 94.9h0M1937.1 96.1h0M1948.4 94.0h0M2017.3 84.2h0M2029.5 92.8h0"/><path class="b" stroke-width="8" d="M1772.7 90.6h0M1773.4 82.5h0"/><path class="b" stroke-width="9" d="M1887.1 93.3h0M1882.1 79.9h0"/><path class="db" stroke-width="5" d="M1847.7 106.3h0"/><path class="db" stroke-width="6" d="M1849.6 86.8h0M1848.6 100.1h0M2016.3 57.6h0"/><path class="db" stroke-width="7" d="M1846.8 97.2h0M1847.5 99.3h0"/><path class="lb" stroke-width="6" d="M1901.7 82.4h0"/><path class="lb" stroke-width="7" d="M1777.6 71.2h0"/><path class="lb" stroke-width="8" d="M1778.3 69.3h0M1826.7 99.0h0"/><path class="lb" stroke-width="12" d="M1778.5 20.5h0"/><path class="lo" stroke-width="6" d="M1917.5 152.0h0"/><path class="lo" stroke-width="7" d="M1967.3 97.6h0"/><path class="lo" stroke-width="8" d="M1861.8 105.3h0M1946.0 85.0h0"/><path class="lo" stroke-width="9" d="M1862.5 100.5h0M1715.8 105.6h0"/><path class="o" stroke-width="5" d="M1733.0 55.9h0M1792.1 77.3h0M1792.6 131.7h0"/><path class="o" stroke-width="6" d="M1731.7 99.5h0M1775.6 100.5h0M1792.3 111.7h0M1791.2 80.6h0M1792.1 101.2h0M1792.5 78.3h0"/><path class="o" stroke-width="7" d="M1732.6 69.0h0M1753.4 108.6h0M1739.3 97.1h0M1746.7 101.5h0M1758.9 108.2h0M1757.4 109.6h0M1748.4 99.2h0M1816.5 83.9h0"/><path class="o" stroke-width="8" d="M1743.2 77.8h0M1739.0 94.9h0M1757.7 97.8h0M1771.0 111.5h0M1779.6 109.0h0M1775.8 113.3h0"/><path class="o" stroke-width="9" d="M1745.2 89.6h0M1754.1 95.3h0M1751.8 108.7h0"/><path class="b" stroke-width="5" d="M1813.9 72.0h0M1852.8 66.1h0M1851.6 69.6h0M2015.9 83.1h0"/><path class="b" stroke-width="6" d="M1814.4 78.6h0M1853.4 67.1h0M1885.3 80.6h0M1937.3 106.2h0M1954.8 94.2h0M2029.1 90.2h0"/><path class="b" stroke-width="7" d="M1764.2 84.2h0M1854.2 72.2h0M1883.2 92.5h0M1935.8 96.9h0M2015.0 95.1h0M2014.7 101.1h0"/><path class="b" stroke-width="8" d="M1775.1 81.3h0M1879.4 89.8h0"/><path class="b" stroke-width="9" d="M1880.5 84.6h0"/><path class="b" stroke-width="10" d="M1855.5 23.3h0"/><path class="db" stroke-width="5" d="M1850.0 98.6h0M1848.8 102.1h0"/><path class="db" stroke-width="6" d="M1848.2 110.5h0M1847.9 99.5h0"/><path class="db" stroke-width="7" d="M1848.5 122.5h0M1849.4 108.9h0"/><path class="lb" stroke-width="6" d="M1900.3 72.6h0M2045.0 112.0h0M2003.0 75.0h0"/><path class="lb" stroke-width="7" d="M1779.0 59.6h0"/><path class="lb" stroke-width="8" d="M1900.8 77.3h0"/><path class="lo" stroke-width="7" d="M1731.7 144.3h0M1725.7 168.3h0"/><path class="lo" stroke-width="8" d="M1950.0 78.0h0"/><path class="lo" stroke-width="9" d="M1732.5 151.2h0"/><path class="o" stroke-width="6" d="M1754.8 106.1h0M1792.8 129.4h0M1816.3 129.3h0M1816.4 108.9h0M1817.4 85.8h0"/><path class="o" stroke-width="7" d="M1758.6 93.5h0M1754.9 99.8h0M1744.4 107.6h0M1753.4 103.8h0M1756.6 71.1h0M1766.1 111.5h0M1777.2 115.3h0M1929.9 75.6h0"/><path class="o" stroke-width="8" d="M1740.8 88.6h0M1752.7 97.4h0M1774.9 109.7h0"/><path class="o" stroke-width="9" d="M1754.3 105.4h0M1746.5 96.5h0"/><path class="b" stroke-width="5" d="M1814.4 80.6h0M2028.8 91.6h0"/><path class="b" stroke-width="6" d="M1753.6 36.0h0M1853.3 69.2h0M1853.0 72.1h0M2017.0 80.5h0M2016.0 106.2h0"/><path class="b" stroke-width="7" d="M1814.7 81.5h0M1814.6 83.4h0M1814.4 67.5h0M1936.7 98.0h0M1937.1 93.0h0M1954.7 98.4h0M2028.9 90.6h0"/><path class="b" stroke-width="8" d="M1887.4 87.9h0"/><path class="b" stroke-width="9" d="M1764.8 85.0h0"/><path class="db" stroke-width="5" d="M1849.1 99.3h0"/><path class="db" stroke-width="6" d="M1848.6 112.2h0"/><path class="lb" stroke-width="7" d="M1937.5 113.8h0M1985.9 116.4h0"/><path class="lb" stroke-width="8" d="M1789.6 27.7h0M1814.5 127.6h0"/><path class="lb" stroke-width="9" d="M1987.0 101.4h0"/><path class="lb" stroke-width="10" d="M1778.5 14.0h0"/><path class="lo" stroke-width="6" d="M1732.3 152.2h0M2002.0 141.0h0"/><path class="lo" stroke-width="7" d="M1732.5 125.2h0"/><path class="lo" stroke-width="8" d="M1733.0 129.2h0M1733.0 155.8h0M1715.6 97.1h0"/><path class="o" stroke-width="5" d="M1816.6 87.4h0"/><path class="o" stroke-width="6" d="M1734.0 88.8h0M1751.7 93.6h0M1745.8 57.1h0M1769.8 113.2h0M1794.3 117.7h0M1816.5 101.7h0M1930.9 81.1h0"/><path class="o" stroke-width="7" d="M1751.3 99.6h0M1748.6 100.7h0M1739.5 91.2h0M1747.9 100.2h0M1756.6 81.6h0M1746.9 56.1h0M1766.8 114.0h0M1778.4 82.9h0M1792.2 115.9h0"/><path class="o" stroke-width="8" d="M1740.7 101.5h0M1741.2 89.8h0M1746.9 112.4h0"/><path class="o" stroke-width="9" d="M1747.1 91.3h0M1743.2 82.9h0M1752.4 100.5h0M1771.0 115.3h0"/><path class="o" stroke-width="10" d="M1749.5 96.9h0M1749.4 83.4h0"/><path class="b" stroke-width="5" d="M1814.0 91.9h0M1851.6 68.4h0M1936.9 97.8h0M2015.2 92.6h0M2015.1 94.4h0"/><path class="b" stroke-width="6" d="M1772.3 80.7h0M1815.1 77.7h0"/><path class="b" stroke-width="7" d="M1813.1 82.8h0M1814.7 87.8h0M1854.0 58.8h0M1881.9 95.9h0M2004.8 94.2h0M2016.7 77.7h0"/><path class="b" stroke-width="8" d="M1880.1 94.1h0M1949.0 95.5h0"/><path class="b" stroke-width="9" d="M1765.5 88.7h0M1880.2 79.4h0"/><path class="db" stroke-width="5" d="M1848.0 96.2h0M1847.8 105.1h0M1848.5 111.4h0"/><path class="db" stroke-width="12" d="M1987.5 87.0h0"/><path class="lb" stroke-width="7" d="M1986.8 104.5h0"/><path class="lb" stroke-width="9" d="M1900.8 69.0h0"/><path class="lb" stroke-width="10" d="M1760.0 140.0h0M2141.0 93.6h0"/><path class="lo" stroke-width="6" d="M1754.0 205.0h0"/><path class="lo" stroke-width="7" d="M1732.7 152.2h0M1714.9 102.1h0M1727.1 156.3h0M1726.8 215.1h0"/><path class="lo" stroke-width="8" d="M2035.5 109.2h0"/><path class="o" stroke-width="5" d="M1732.9 106.7h0M1777.0 68.3h0M1817.4 122.4h0"/><path class="o" stroke-width="6" d="M1739.6 86.6h0M1752.4 106.3h0M1744.7 103.3h0M1769.1 100.6h0M1777.3 83.8h0M1778.0 79.4h0"/><path class="o" stroke-width="7" d="M1732.7 62.4h0M1743.9 104.5h0M1746.6 100.3h0M1742.2 109.3h0M1743.9 98.6h0M1742.6 63.0h0M1738.4 56.0h0M1817.8 125.7h0M1931.0 84.2h0"/><path class="o" stroke-width="8" d="M1755.2 84.8h0M1756.5 100.1h0"/><path class="o" stroke-width="9" d="M1753.5 84.4h0M1742.0 77.0h0M1752.5 76.3h0M1742.5 94.0h0M1766.3 101.9h0"/><path class="o" stroke-width="10" d="M1748.6 97.4h0"/></g>
<line x1="1697" y1="102.2" x2="2156.5" y2="102.2" stroke="#b4b4b4" stroke-width="1.6" stroke-dasharray="3.2 3.1"/>
<rect x="1696" y="7" width="461.5" height="292" fill="none" stroke="#8c8c8c" stroke-width="1.35"/>
<line x1="1691" y1="9.5" x2="1696" y2="9.5" stroke="#8c8c8c" stroke-width="1.4"/>
<line x1="1691" y1="102.2" x2="1696" y2="102.2" stroke="#8c8c8c" stroke-width="1.4"/>
<line x1="1691" y1="194.4" x2="1696" y2="194.4" stroke="#8c8c8c" stroke-width="1.4"/>
<line x1="1691" y1="287" x2="1696" y2="287" stroke="#8c8c8c" stroke-width="1.4"/>
<line x1="1702.2" y1="299" x2="1702.2" y2="304" stroke="#8c8c8c" stroke-width="1.4"/>
<line x1="1775.2" y1="299" x2="1775.2" y2="304" stroke="#8c8c8c" stroke-width="1.4"/>
<line x1="1848.5" y1="299" x2="1848.5" y2="304" stroke="#8c8c8c" stroke-width="1.4"/>
<line x1="1921.5" y1="299" x2="1921.5" y2="304" stroke="#8c8c8c" stroke-width="1.4"/>
<line x1="1995" y1="299" x2="1995" y2="304" stroke="#8c8c8c" stroke-width="1.4"/>
<line x1="2068.5" y1="299" x2="2068.5" y2="304" stroke="#8c8c8c" stroke-width="1.4"/>
<line x1="2141.3" y1="299" x2="2141.3" y2="304" stroke="#8c8c8c" stroke-width="1.4"/>
<text transform="translate(1686,16.2) rotate(-90)" text-anchor="middle" font-size="14.0">0.5</text>
<text transform="translate(1686,102.2) rotate(-90)" text-anchor="middle" font-size="14.0">0</text>
<text transform="translate(1686,194.4) rotate(-90)" text-anchor="middle" font-size="14.0">-0.5</text>
<text transform="translate(1686,287) rotate(-90)" text-anchor="middle" font-size="14.0">-1.0</text>
<text x="1702.2" y="323.2" text-anchor="middle" font-size="14.0">0</text>
<text x="1775.2" y="323.2" text-anchor="middle" font-size="14.0">20</text>
<text x="1848.5" y="323.2" text-anchor="middle" font-size="14.0">40</text>
<text x="1921.5" y="323.2" text-anchor="middle" font-size="14.0">60</text>
<text x="1995" y="323.2" text-anchor="middle" font-size="14.0">80</text>
<text x="2068.5" y="323.2" text-anchor="middle" font-size="14.0">100</text>
<text x="2141.3" y="323.2" text-anchor="middle" font-size="14.0">120</text>
<text x="1927.7" y="342.6" text-anchor="middle" font-size="13.9">C:N ratio</text>
<text transform="translate(1665.2,144) rotate(-90)" text-anchor="middle" font-size="13.9">Change in yield (lnRR)</text>
<text x="2082.4" y="62.8" font-size="47">(d)</text>
<clipPath id="cpe"><rect x="46.1" y="367" width="461.7" height="293.3"/></clipPath>
<g clip-path="url(#cpe)"><polygon points="63,442.2 77.2,442.8 91.5,443.4 105.7,444 120,444.5 134.2,445.1 148.5,445.6 162.7,446.2 177,446.7 191.2,447.2 205.5,447.6 219.7,448.1 234,448.5 248.2,448.9 262.5,449.3 276.7,449.6 290.9,449.9 305.2,450.2 319.4,450.5 333.7,450.7 347.9,450.9 362.2,451.1 376.4,451.3 390.7,451.5 404.9,451.7 419.2,451.8 433.4,452 447.7,452.1 461.9,452.2 476.2,452.4 490.4,452.5 490.4,469.5 476.2,468.7 461.9,468 447.7,467.2 433.4,466.5 419.2,465.7 404.9,465 390.7,464.3 376.4,463.6 362.2,462.9 347.9,462.2 333.7,461.5 319.4,460.9 305.2,460.3 290.9,459.7 276.7,459.1 262.5,458.5 248.2,458 234,457.5 219.7,457.1 205.5,456.6 191.2,456.2 177,455.8 162.7,455.4 148.5,455.1 134.2,454.7 120,454.4 105.7,454.1 91.5,453.8 77.2,453.5 63,453.2" fill="#4797d6" fill-opacity="1"/><path class="b" stroke-width="4" d="M64.1 465.4h0M133.7 422.7h0M133.6 417.4h0"/><path class="b" stroke-width="5" d="M93.1 449.3h0M92.6 444.6h0M92.7 485.0h0M93.3 487.0h0M121.6 452.1h0M122.0 423.6h0M135.5 421.7h0M134.0 406.8h0M209.4 453.3h0M433.0 436.7h0"/><path class="b" stroke-width="6" d="M93.3 455.5h0M105.0 457.1h0M122.2 461.9h0M133.0 411.5h0M133.5 402.9h0M211.8 450.0h0"/><path class="b" stroke-width="7" d="M93.5 463.8h0M92.5 459.9h0M226.5 456.9h0"/><path class="b" stroke-width="10" d="M63.2 427.0h0"/><path class="lb" stroke-width="6" d="M134.0 648.0h0"/><path class="lb" stroke-width="8" d="M134.0 495.5h0M150.0 459.0h0M144.8 445.3h0M275.4 443.3h0"/><path class="lb" stroke-width="9" d="M148.5 450.7h0M277.2 428.0h0"/><path class="lb" stroke-width="10" d="M487.9 453.3h0M482.8 467.1h0"/><path class="lb" stroke-width="11" d="M488.8 461.9h0"/><path class="lb" stroke-width="14" d="M186.4 419.3h0"/><path class="lo" stroke-width="6" d="M141.2 482.0h0M440.0 417.0h0M98.0 571.0h0"/><path class="o" stroke-width="5" d="M76.7 463.4h0M77.8 489.0h0M133.3 457.0h0M194.4 442.1h0M240.2 472.6h0M362.3 428.3h0M377.1 454.5h0"/><path class="o" stroke-width="6" d="M177.7 439.5h0M176.5 432.4h0M177.5 418.4h0M196.3 435.4h0M286.9 471.3h0M360.5 426.0h0M361.9 444.3h0"/><path class="o" stroke-width="7" d="M194.6 442.5h0M286.6 460.4h0M347.5 435.5h0M348.5 447.4h0M360.1 462.3h0M359.8 447.3h0"/><path class="b" stroke-width="4" d="M121.7 466.3h0M225.6 462.3h0"/><path class="b" stroke-width="5" d="M62.5 420.0h0M62.3 414.9h0M93.0 492.2h0M133.9 416.2h0M134.8 419.8h0M211.0 456.1h0M225.7 449.0h0"/><path class="b" stroke-width="6" d="M64.2 467.0h0M63.4 437.0h0M92.6 458.2h0M93.5 479.3h0M133.7 404.0h0"/><path class="b" stroke-width="7" d="M121.1 466.4h0M135.7 411.6h0"/><path class="b" stroke-width="8" d="M378.0 500.0h0"/><path class="lb" stroke-width="6" d="M188.9 469.2h0"/><path class="lb" stroke-width="7" d="M276.4 451.7h0"/><path class="lb" stroke-width="8" d="M155.7 444.5h0"/><path class="lb" stroke-width="9" d="M485.6 476.0h0"/><path class="lb" stroke-width="10" d="M482.4 470.2h0"/><path class="lb" stroke-width="11" d="M153.4 442.1h0M482.0 450.3h0M482.3 460.4h0"/><path class="lb" stroke-width="13" d="M185.6 422.9h0"/><path class="lo" stroke-width="6" d="M62.6 524.0h0M220.7 440.4h0M99.0 586.0h0"/><path class="o" stroke-width="4" d="M287.6 458.7h0"/><path class="o" stroke-width="5" d="M132.3 460.6h0M177.0 436.2h0M196.2 443.2h0M376.6 452.7h0"/><path class="o" stroke-width="6" d="M62.5 455.1h0M101.1 468.4h0M100.2 463.3h0M177.2 432.0h0M240.4 476.3h0M347.7 463.0h0"/><path class="o" stroke-width="7" d="M133.9 456.1h0M176.5 430.3h0M347.1 424.4h0M376.4 455.9h0"/><path class="b" stroke-width="5" d="M63.4 453.7h0M62.1 446.2h0M91.3 451.1h0M92.4 456.5h0M122.5 480.8h0M226.7 443.2h0M241.4 438.6h0"/><path class="b" stroke-width="6" d="M62.5 400.0h0M64.1 474.1h0M133.7 411.4h0M134.9 420.2h0"/><path class="b" stroke-width="7" d="M133.3 409.6h0M133.3 423.0h0M210.6 451.8h0M240.8 458.7h0"/><path class="lb" stroke-width="6" d="M433.3 473.0h0"/><path class="lb" stroke-width="9" d="M276.5 431.7h0"/><path class="lb" stroke-width="12" d="M148.2 463.0h0"/><path class="lo" stroke-width="6" d="M98.0 641.0h0"/><path class="lo" stroke-width="8" d="M220.9 437.1h0"/><path class="o" stroke-width="5" d="M62.0 469.7h0M241.4 471.8h0M347.4 458.7h0M347.6 440.4h0M360.5 441.6h0M362.4 426.8h0M359.7 457.9h0"/><path class="o" stroke-width="6" d="M62.6 460.8h0M119.0 472.0h0M348.6 459.1h0M350.1 425.5h0M347.4 451.4h0M347.2 436.4h0M347.8 455.7h0M360.1 425.0h0"/><path class="o" stroke-width="7" d="M176.9 432.3h0M288.2 458.0h0M285.3 444.3h0M359.7 440.6h0"/><path class="b" stroke-width="5" d="M62.6 468.9h0M93.4 473.4h0M94.6 433.7h0M106.3 461.0h0M121.0 482.6h0M135.2 410.6h0M133.9 411.3h0M211.0 451.4h0M225.8 455.6h0M226.4 448.7h0M239.1 440.1h0M240.7 461.1h0"/><path class="b" stroke-width="6" d="M93.0 469.9h0M91.8 461.8h0"/><path class="b" stroke-width="7" d="M93.5 450.3h0M94.0 457.8h0M119.6 446.2h0"/><path class="lb" stroke-width="6" d="M134.0 393.6h0"/><path class="lb" stroke-width="8" d="M275.0 438.1h0M485.7 471.6h0"/><path class="lb" stroke-width="9" d="M276.7 454.0h0M277.7 453.6h0"/><path class="lb" stroke-width="10" d="M153.5 453.1h0M150.8 452.1h0"/><path class="lb" stroke-width="11" d="M147.3 451.0h0M150.2 447.3h0"/><path class="lb" stroke-width="12" d="M63.2 422.0h0"/><path class="lo" stroke-width="6" d="M298.2 423.5h0"/><path class="lo" stroke-width="9" d="M89.9 514.7h0"/><path class="o" stroke-width="5" d="M62.9 457.3h0M100.7 462.5h0M135.3 452.3h0M133.0 452.5h0M177.5 434.1h0M176.4 428.0h0M347.0 443.2h0"/><path class="o" stroke-width="6" d="M62.9 473.4h0M63.5 467.6h0M77.1 461.8h0M104.9 473.6h0M195.4 448.3h0M347.9 447.8h0"/><path class="o" stroke-width="7" d="M62.9 469.2h0M360.8 454.3h0M361.3 458.3h0"/><path class="b" stroke-width="5" d="M63.1 449.7h0M62.9 429.8h0M93.3 470.7h0M240.8 441.3h0M433.3 437.8h0M434.6 443.5h0"/><path class="b" stroke-width="6" d="M92.5 454.4h0M134.7 419.9h0M133.5 421.3h0M134.0 432.8h0M211.7 454.4h0M226.2 452.0h0M227.7 458.4h0"/><path class="b" stroke-width="7" d="M62.9 444.5h0M92.1 453.3h0M93.3 480.9h0M93.4 463.8h0M122.3 421.3h0M122.1 426.2h0M134.1 426.7h0M240.7 446.4h0"/><path class="lb" stroke-width="8" d="M148.7 459.7h0M276.7 437.7h0"/><path class="lb" stroke-width="10" d="M155.5 447.5h0M186.3 473.3h0"/><path class="lb" stroke-width="11" d="M143.6 451.0h0"/><path class="lb" stroke-width="12" d="M183.3 424.8h0"/><path class="lb" stroke-width="14" d="M63.2 433.0h0"/><path class="lo" stroke-width="6" d="M191.0 496.6h0M191.0 503.0h0M440.0 476.0h0M98.0 555.0h0M98.0 628.0h0"/><path class="lo" stroke-width="7" d="M90.3 423.6h0M92.0 412.9h0"/><path class="lo" stroke-width="8" d="M92.7 418.5h0"/><path class="lo" stroke-width="9" d="M92.0 511.1h0"/><path class="o" stroke-width="4" d="M286.4 472.6h0"/><path class="o" stroke-width="5" d="M63.3 462.4h0M61.9 453.1h0M120.4 445.0h0M286.7 431.6h0M349.3 418.4h0M347.8 456.3h0M360.2 437.6h0"/><path class="o" stroke-width="6" d="M101.2 464.7h0M195.6 453.7h0M240.5 467.3h0M348.5 431.9h0M360.2 462.3h0M360.7 430.4h0M359.9 428.2h0"/><path class="o" stroke-width="7" d="M133.9 459.5h0M240.5 473.3h0M349.5 439.3h0M348.7 451.9h0M360.7 444.0h0"/><path class="b" stroke-width="5" d="M121.5 455.3h0M135.0 420.2h0M133.0 392.2h0"/><path class="b" stroke-width="6" d="M62.4 422.9h0M92.4 471.7h0M121.6 462.0h0M122.3 452.7h0M210.7 462.7h0M240.9 442.2h0"/><path class="b" stroke-width="7" d="M91.3 468.3h0M107.0 461.9h0M105.7 457.7h0M120.1 444.8h0"/><path class="lb" stroke-width="8" d="M276.9 439.5h0"/><path class="lb" stroke-width="9" d="M151.3 450.4h0M277.6 443.9h0"/><path class="lb" stroke-width="10" d="M160.0 520.0h0"/><path class="lo" stroke-width="6" d="M220.6 439.3h0"/><path class="lo" stroke-width="8" d="M91.6 508.0h0"/><path class="o" stroke-width="5" d="M178.0 433.9h0M178.0 434.5h0M347.9 458.9h0M376.5 454.9h0"/><path class="o" stroke-width="6" d="M63.0 459.8h0M63.7 457.2h0M105.1 472.9h0M101.9 475.8h0M241.1 473.9h0M361.5 445.7h0"/><path class="o" stroke-width="7" d="M176.3 437.8h0M177.0 429.8h0M195.2 443.2h0"/><path class="b" stroke-width="4" d="M134.1 419.1h0"/><path class="b" stroke-width="5" d="M92.5 465.7h0M105.9 454.3h0M120.5 472.8h0M120.2 458.7h0M122.6 440.2h0M122.2 428.1h0M135.2 395.1h0M134.6 432.0h0"/><path class="b" stroke-width="6" d="M93.9 443.5h0M134.3 405.2h0M241.2 450.9h0M243.1 450.9h0M362.5 487.7h0"/><path class="b" stroke-width="7" d="M94.7 467.0h0M94.1 460.4h0M120.4 437.3h0M133.5 414.6h0"/><path class="lb" stroke-width="6" d="M146.5 456.3h0"/><path class="lb" stroke-width="8" d="M298.2 491.0h0"/><path class="lb" stroke-width="9" d="M486.8 460.0h0M489.2 447.7h0"/><path class="lb" stroke-width="10" d="M447.7 474.0h0"/><path class="lb" stroke-width="12" d="M326.5 438.0h0"/><path class="lo" stroke-width="6" d="M91.5 509.3h0M318.0 544.0h0"/><path class="lo" stroke-width="7" d="M91.1 414.0h0"/><path class="lo" stroke-width="10" d="M348.0 415.0h0"/><path class="o" stroke-width="4" d="M347.7 460.7h0"/><path class="o" stroke-width="5" d="M77.9 466.9h0M348.7 449.1h0M347.8 424.0h0M348.0 433.7h0M361.3 433.3h0M360.4 434.7h0M375.2 458.3h0"/><path class="o" stroke-width="6" d="M99.6 460.1h0M195.1 448.1h0M194.3 450.1h0M288.6 452.2h0M348.4 448.5h0M348.9 463.4h0"/><path class="o" stroke-width="7" d="M101.7 473.6h0M348.5 450.0h0M347.7 429.5h0M360.3 456.7h0M362.0 452.3h0"/><path class="b" stroke-width="5" d="M62.0 448.7h0M92.5 483.1h0M92.6 452.9h0M92.7 453.3h0M93.2 472.4h0M121.2 466.2h0M134.6 382.7h0M433.8 439.3h0"/><path class="b" stroke-width="6" d="M107.8 462.9h0M133.6 409.8h0M134.9 435.4h0M432.4 444.9h0M433.2 439.5h0"/><path class="b" stroke-width="7" d="M93.2 448.2h0M106.6 459.0h0M210.3 465.1h0M227.4 444.1h0M226.1 453.1h0M240.1 452.2h0M241.2 457.6h0M432.6 441.2h0"/><path class="b" stroke-width="10" d="M226.5 430.0h0"/><path class="lb" stroke-width="7" d="M342.0 476.0h0M340.7 469.8h0"/><path class="lb" stroke-width="8" d="M276.1 438.0h0M276.5 442.7h0"/><path class="lb" stroke-width="9" d="M276.8 447.0h0"/><path class="lb" stroke-width="10" d="M155.5 453.5h0M154.8 462.6h0"/><path class="lb" stroke-width="12" d="M63.2 500.0h0"/><path class="lo" stroke-width="6" d="M191.0 483.0h0M98.0 563.0h0"/><path class="o" stroke-width="5" d="M78.4 461.0h0M131.8 458.9h0M176.7 431.1h0M195.2 449.6h0M287.2 467.6h0M347.9 456.3h0M347.9 438.7h0M347.5 439.5h0M361.0 456.5h0M360.2 438.0h0M361.9 439.7h0M376.0 456.4h0"/><path class="o" stroke-width="6" d="M64.5 461.3h0M100.1 465.2h0M287.2 429.4h0M287.5 442.3h0M360.2 425.2h0M359.4 438.2h0M360.8 447.3h0M377.3 450.1h0"/><path class="o" stroke-width="7" d="M99.4 476.5h0M100.6 469.3h0M197.1 444.6h0M347.4 445.1h0M376.2 451.2h0"/><path class="b" stroke-width="4" d="M91.4 455.8h0M122.0 485.9h0M119.7 464.3h0"/><path class="b" stroke-width="5" d="M106.6 460.0h0"/><path class="b" stroke-width="6" d="M62.3 462.7h0M92.9 467.5h0M93.2 487.8h0M121.3 443.4h0M120.2 459.1h0M121.9 468.8h0M210.1 455.0h0M240.4 445.4h0M432.7 437.9h0"/><path class="b" stroke-width="7" d="M93.0 485.5h0M123.1 471.8h0M241.4 441.5h0"/><path class="lb" stroke-width="6" d="M186.9 480.4h0"/><path class="lb" stroke-width="7" d="M183.9 469.4h0M179.3 474.7h0M183.3 468.3h0"/><path class="lb" stroke-width="8" d="M198.3 415.7h0M276.8 424.0h0M341.1 477.9h0"/><path class="lb" stroke-width="9" d="M340.0 476.1h0"/><path class="lb" stroke-width="11" d="M144.9 442.6h0"/><path class="lb" stroke-width="12" d="M187.2 413.7h0"/><path class="lb" stroke-width="13" d="M183.2 419.4h0"/><path class="lb" stroke-width="14" d="M184.9 429.0h0"/><path class="lo" stroke-width="6" d="M91.5 419.4h0M145.0 600.0h0M438.0 550.0h0"/><path class="lo" stroke-width="8" d="M91.4 510.8h0"/><path class="lo" stroke-width="9" d="M219.2 438.3h0"/><path class="o" stroke-width="5" d="M134.3 456.2h0M348.1 461.8h0M347.1 425.3h0M360.3 451.7h0M359.8 441.0h0M360.0 445.9h0"/><path class="o" stroke-width="6" d="M77.7 458.9h0M194.5 444.6h0M286.6 470.5h0M349.1 454.5h0M360.3 450.0h0"/><path class="o" stroke-width="7" d="M348.0 453.2h0M361.0 462.1h0M359.4 442.1h0"/><path class="b" stroke-width="5" d="M63.5 451.2h0M92.7 468.0h0M132.7 432.2h0"/><path class="b" stroke-width="6" d="M63.3 466.2h0M63.2 438.5h0M121.7 452.5h0M121.6 482.8h0M208.7 458.5h0M224.9 444.0h0"/><path class="b" stroke-width="7" d="M134.1 404.5h0M227.1 443.6h0"/><path class="lb" stroke-width="8" d="M198.3 408.0h0M275.7 441.2h0M489.0 438.0h0"/><path class="lb" stroke-width="9" d="M177.8 458.8h0M483.6 467.3h0M489.2 470.8h0M491.3 455.4h0"/><path class="lb" stroke-width="10" d="M482.6 466.2h0M482.6 456.0h0"/><path class="lb" stroke-width="11" d="M143.4 446.8h0"/><path class="lo" stroke-width="6" d="M140.0 567.0h0"/><path class="o" stroke-width="4" d="M239.9 468.6h0"/><path class="o" stroke-width="5" d="M63.2 451.7h0M118.9 433.0h0M241.1 476.8h0M286.3 441.6h0M361.4 450.1h0M361.6 439.5h0"/><path class="o" stroke-width="6" d="M177.4 426.3h0M176.6 428.1h0M347.0 414.1h0"/><path class="o" stroke-width="7" d="M63.3 453.5h0M194.9 446.7h0M348.5 446.5h0M359.4 446.0h0"/><path class="b" stroke-width="5" d="M211.7 465.8h0M210.9 455.7h0M240.9 449.4h0"/><path class="b" stroke-width="6" d="M121.6 450.0h0M120.7 454.0h0M121.2 447.9h0M133.2 412.8h0M133.7 383.8h0M134.2 418.5h0M211.3 452.5h0M211.4 440.1h0"/><path class="b" stroke-width="7" d="M211.3 448.4h0"/><path class="db" stroke-width="10" d="M134.0 382.0h0"/><path class="lb" stroke-width="6" d="M133.0 525.0h0"/><path class="lb" stroke-width="8" d="M134.0 474.4h0"/><path class="lb" stroke-width="10" d="M148.0 479.0h0"/><path class="lb" stroke-width="12" d="M141.8 437.1h0M183.2 428.7h0M177.3 426.9h0"/><path class="lb" stroke-width="16" d="M383.0 439.0h0"/><path class="lo" stroke-width="6" d="M298.2 484.4h0"/><path class="lo" stroke-width="8" d="M220.1 430.6h0"/><path class="lo" stroke-width="9" d="M220.7 435.5h0"/><path class="o" stroke-width="4" d="M360.5 438.7h0"/><path class="o" stroke-width="5" d="M134.5 452.6h0M177.6 422.4h0M175.6 430.8h0M195.2 442.7h0"/><path class="o" stroke-width="6" d="M133.2 452.2h0M286.7 431.8h0M348.3 442.5h0M347.8 457.2h0M361.3 449.8h0M360.1 440.5h0"/><path class="o" stroke-width="7" d="M62.7 466.4h0M132.5 461.0h0M195.1 447.7h0"/><path class="b" stroke-width="4" d="M242.8 449.2h0"/><path class="b" stroke-width="5" d="M63.7 415.9h0M63.6 472.3h0M94.3 479.1h0M134.4 386.7h0M210.7 455.8h0"/><path class="b" stroke-width="6" d="M90.6 457.2h0M121.9 420.3h0M122.1 482.9h0M210.7 452.5h0"/><path class="b" stroke-width="7" d="M62.1 413.6h0M91.6 460.2h0M133.8 403.2h0M134.1 411.2h0M210.7 464.9h0"/><path class="lb" stroke-width="6" d="M179.8 472.8h0"/><path class="lb" stroke-width="7" d="M180.8 477.9h0"/><path class="lb" stroke-width="8" d="M144.8 444.0h0M186.5 476.3h0M226.5 485.5h0"/><path class="lb" stroke-width="9" d="M147.9 451.6h0M177.2 474.0h0"/><path class="lb" stroke-width="10" d="M186.2 424.6h0M178.1 472.1h0"/><path class="lo" stroke-width="6" d="M287.2 505.4h0"/><path class="lo" stroke-width="7" d="M90.6 519.5h0"/><path class="lo" stroke-width="8" d="M91.7 414.8h0"/><path class="o" stroke-width="5" d="M78.2 461.5h0M287.7 469.4h0M348.3 452.6h0M348.6 436.3h0"/><path class="o" stroke-width="6" d="M79.9 494.0h0M133.5 450.3h0M241.5 470.6h0M348.7 452.8h0M360.8 436.0h0M360.5 455.2h0"/><polyline points="63,447.7 490.4,461" fill="none" stroke="#1d4f7c" stroke-width="1.3"/></g>
<line x1="47.1" y1="462.7" x2="506.8" y2="462.7" stroke="#b4b4b4" stroke-width="1.6" stroke-dasharray="3.2 3.1"/>
<rect x="46.1" y="367" width="461.7" height="293.3" fill="none" stroke="#8c8c8c" stroke-width="1.35"/>
<line x1="41.1" y1="370" x2="46.1" y2="370" stroke="#8c8c8c" stroke-width="1.4"/>
<line x1="41.1" y1="462.7" x2="46.1" y2="462.7" stroke="#8c8c8c" stroke-width="1.4"/>
<line x1="41.1" y1="555" x2="46.1" y2="555" stroke="#8c8c8c" stroke-width="1.4"/>
<line x1="41.1" y1="647.8" x2="46.1" y2="647.8" stroke="#8c8c8c" stroke-width="1.4"/>
<line x1="63" y1="660.3" x2="63" y2="665.3" stroke="#8c8c8c" stroke-width="1.4"/>
<line x1="134.6" y1="660.3" x2="134.6" y2="665.3" stroke="#8c8c8c" stroke-width="1.4"/>
<line x1="205.6" y1="660.3" x2="205.6" y2="665.3" stroke="#8c8c8c" stroke-width="1.4"/>
<line x1="276.6" y1="660.3" x2="276.6" y2="665.3" stroke="#8c8c8c" stroke-width="1.4"/>
<line x1="348.1" y1="660.3" x2="348.1" y2="665.3" stroke="#8c8c8c" stroke-width="1.4"/>
<line x1="419.1" y1="660.3" x2="419.1" y2="665.3" stroke="#8c8c8c" stroke-width="1.4"/>
<line x1="490.4" y1="660.3" x2="490.4" y2="665.3" stroke="#8c8c8c" stroke-width="1.4"/>
<text transform="translate(36,376.2) rotate(-90)" text-anchor="middle" font-size="14.0">0.5</text>
<text transform="translate(36,462.7) rotate(-90)" text-anchor="middle" font-size="14.0">0</text>
<text transform="translate(36,555) rotate(-90)" text-anchor="middle" font-size="14.0">-0.5</text>
<text transform="translate(36,647.8) rotate(-90)" text-anchor="middle" font-size="14.0">-1.0</text>
<text x="63" y="683.7" text-anchor="middle" font-size="14.0">10</text>
<text x="134.6" y="683.7" text-anchor="middle" font-size="14.0">20</text>
<text x="205.6" y="683.7" text-anchor="middle" font-size="14.0">30</text>
<text x="276.6" y="683.7" text-anchor="middle" font-size="14.0">40</text>
<text x="348.1" y="683.7" text-anchor="middle" font-size="14.0">50</text>
<text x="419.1" y="683.7" text-anchor="middle" font-size="14.0">60</text>
<text x="490.4" y="683.7" text-anchor="middle" font-size="14.0">70</text>
<text x="278.3" y="703" text-anchor="middle" font-size="13.9">Soil clay content (%)</text>
<text transform="translate(15.4,505) rotate(-90)" text-anchor="middle" font-size="13.9">Change in yield (lnRR)</text>
<text x="445" y="431.8" font-size="47">(e)</text>
<text x="188.8" y="609.9" font-size="20.2" textLength="263.9" lengthAdjust="spacingAndGlyphs">AN: lnRR = -0.0012x + 0.0927</text>
<text x="231.6" y="632.8" font-size="20.2" textLength="154.5" lengthAdjust="spacingAndGlyphs"><tspan font-style="italic">P</tspan> = 0.041 n = 275</text>
<clipPath id="cpf"><rect x="593.6" y="372.5" width="462.2" height="292.8"/></clipPath>
<g clip-path="url(#cpf)"><path class="b" stroke-width="5" d="M695.1 453.7h0M801.6 432.8h0M800.9 415.1h0M926.1 428.4h0M946.2 466.0h0M945.7 455.1h0"/><path class="b" stroke-width="6" d="M610.3 422.5h0M694.9 462.7h0M776.6 451.8h0M801.0 443.6h0M800.5 459.7h0M802.2 457.8h0M844.9 475.7h0M903.5 447.7h0M1001.1 466.1h0"/><path class="b" stroke-width="7" d="M800.2 412.3h0M846.5 421.2h0M845.1 462.7h0"/><path class="b" stroke-width="10" d="M776.1 454.5h0"/><path class="db" stroke-width="8" d="M770.0 424.0h0"/><path class="lb" stroke-width="6" d="M878.5 442.5h0"/><path class="lb" stroke-width="7" d="M981.9 474.3h0M1038.9 426.6h0"/><path class="lb" stroke-width="9" d="M880.8 476.1h0"/><path class="lb" stroke-width="18" d="M672.0 457.3h0"/><path class="lb" stroke-width="20" d="M672.6 469.5h0"/><path class="lo" stroke-width="6" d="M832.0 649.0h0"/><path class="lo" stroke-width="7" d="M687.0 499.2h0M687.7 497.3h0M861.6 483.5h0"/><path class="lo" stroke-width="8" d="M718.8 469.7h0"/><path class="lo" stroke-width="9" d="M777.3 520.3h0"/><path class="o" stroke-width="4" d="M831.6 469.0h0"/><path class="o" stroke-width="5" d="M775.1 465.3h0M771.6 463.8h0M771.3 437.6h0M811.1 422.8h0M810.8 437.0h0M872.3 423.0h0M895.2 456.8h0"/><path class="o" stroke-width="6" d="M775.1 457.4h0M812.4 435.5h0M811.0 470.6h0M829.7 477.6h0M884.9 459.9h0M894.3 465.6h0M892.3 459.9h0"/><path class="o" stroke-width="7" d="M770.9 451.9h0M830.6 454.0h0M872.8 444.6h0M873.2 443.7h0M885.6 449.5h0M917.8 463.5h0M956.2 479.8h0"/><path class="o" stroke-width="8" d="M771.3 458.1h0"/><path class="b" stroke-width="4" d="M845.2 452.4h0"/><path class="b" stroke-width="5" d="M801.8 450.9h0M845.0 434.1h0M845.8 464.4h0M925.5 405.0h0M945.4 465.8h0"/><path class="b" stroke-width="6" d="M694.2 458.6h0M782.1 463.5h0M800.2 470.3h0M845.4 479.3h0M925.4 457.5h0M924.8 443.7h0M948.0 486.9h0"/><path class="b" stroke-width="7" d="M777.1 457.5h0M780.1 488.7h0M801.8 406.5h0M904.5 452.4h0M1000.2 452.2h0"/><path class="b" stroke-width="9" d="M781.8 450.5h0"/><path class="b" stroke-width="10" d="M782.3 453.8h0M780.7 455.4h0M793.8 463.5h0"/><path class="b" stroke-width="12" d="M828.0 456.0h0"/><path class="b" stroke-width="13" d="M860.2 459.8h0"/><path class="lb" stroke-width="8" d="M880.0 466.0h0M1039.5 438.9h0"/><path class="lo" stroke-width="6" d="M599.5 515.0h0M755.4 488.3h0M826.0 590.0h0M828.0 603.0h0"/><path class="lo" stroke-width="7" d="M719.5 476.0h0M718.5 509.6h0M754.6 475.7h0M756.4 459.4h0"/><path class="lo" stroke-width="8" d="M741.8 492.0h0M808.0 496.7h0M807.6 495.9h0M982.0 429.6h0"/><path class="lo" stroke-width="14" d="M730.8 456.5h0"/><path class="o" stroke-width="5" d="M831.5 465.3h0M885.0 448.3h0"/><path class="o" stroke-width="6" d="M792.4 447.7h0M873.7 449.7h0M894.5 475.0h0M893.8 468.9h0"/><path class="o" stroke-width="7" d="M780.5 439.9h0M811.5 446.6h0M812.1 444.2h0M832.2 479.4h0M831.5 469.2h0M887.1 446.9h0"/><path class="o" stroke-width="8" d="M917.3 479.2h0"/><path class="b" stroke-width="4" d="M1001.2 452.6h0"/><path class="b" stroke-width="5" d="M780.2 493.3h0M800.2 429.9h0M802.1 402.5h0M801.0 418.2h0M845.2 454.5h0M905.3 449.5h0M925.7 457.0h0M945.3 470.7h0M947.2 469.9h0M946.9 470.1h0"/><path class="b" stroke-width="6" d="M610.4 441.0h0M609.9 448.1h0M799.6 447.9h0M802.5 461.7h0M1001.6 457.4h0"/><path class="b" stroke-width="7" d="M693.9 452.9h0M780.5 488.7h0M779.4 486.5h0"/><path class="b" stroke-width="8" d="M669.3 432.4h0"/><path class="b" stroke-width="9" d="M773.4 448.2h0M784.7 450.6h0"/><path class="b" stroke-width="10" d="M791.7 449.6h0"/><path class="lb" stroke-width="7" d="M879.6 462.5h0"/><path class="lb" stroke-width="8" d="M1039.3 424.3h0M1038.2 433.3h0"/><path class="lb" stroke-width="9" d="M845.0 504.7h0M880.4 467.1h0"/><path class="lb" stroke-width="18" d="M672.6 492.7h0"/><path class="lo" stroke-width="6" d="M754.6 477.9h0M982.0 489.0h0M830.0 617.0h0"/><path class="lo" stroke-width="8" d="M688.9 500.0h0M860.7 483.7h0"/><path class="lo" stroke-width="9" d="M719.6 488.1h0"/><path class="o" stroke-width="4" d="M873.3 446.2h0M894.8 459.9h0"/><path class="o" stroke-width="5" d="M602.0 471.4h0M791.2 450.3h0M769.1 461.4h0M768.4 448.9h0M844.0 480.0h0M884.4 452.9h0"/><path class="o" stroke-width="6" d="M785.1 442.4h0M769.2 459.7h0M769.7 448.1h0M833.3 472.5h0M844.6 481.0h0M872.9 437.4h0M873.4 439.9h0M885.0 447.4h0"/><path class="o" stroke-width="7" d="M771.2 477.4h0M831.1 443.6h0M894.5 472.1h0"/><path class="b" stroke-width="4" d="M781.6 486.1h0M925.1 415.1h0"/><path class="b" stroke-width="5" d="M609.7 455.6h0M611.5 441.0h0M778.5 491.2h0M802.0 412.3h0M801.3 423.4h0M844.2 473.3h0M946.0 476.2h0M946.3 468.4h0M999.9 471.1h0"/><path class="b" stroke-width="6" d="M792.6 459.5h0M779.4 484.9h0M924.8 423.9h0M947.5 476.1h0M1000.2 464.0h0"/><path class="b" stroke-width="7" d="M844.4 431.1h0M1001.0 455.3h0"/><path class="b" stroke-width="8" d="M775.5 442.4h0"/><path class="b" stroke-width="9" d="M772.8 457.2h0M790.0 458.2h0"/><path class="b" stroke-width="10" d="M610.6 467.0h0M787.3 465.7h0"/><path class="lb" stroke-width="6" d="M880.6 452.8h0M877.8 444.2h0"/><path class="lo" stroke-width="7" d="M808.6 492.6h0"/><path class="lo" stroke-width="8" d="M682.6 448.4h0"/><path class="lo" stroke-width="15" d="M734.5 450.0h0"/><path class="o" stroke-width="4" d="M810.3 480.1h0"/><path class="o" stroke-width="5" d="M783.8 459.7h0M766.2 449.4h0M770.0 442.6h0M811.7 448.0h0M832.1 465.6h0M832.3 470.1h0M884.6 447.3h0M894.2 466.8h0"/><path class="o" stroke-width="6" d="M771.6 476.5h0M767.7 464.2h0M769.3 448.7h0M810.9 448.2h0M811.3 467.4h0M812.1 459.0h0M811.0 445.6h0M872.4 462.0h0"/><path class="o" stroke-width="7" d="M782.6 455.3h0M768.8 458.2h0M813.6 468.5h0M812.4 427.9h0M811.2 470.4h0M832.4 439.0h0M831.9 470.0h0M832.1 465.0h0M894.2 470.9h0M894.2 478.7h0M917.8 470.6h0M914.2 476.1h0"/><path class="o" stroke-width="8" d="M771.5 447.9h0"/><path class="b" stroke-width="4" d="M946.9 462.1h0"/><path class="b" stroke-width="5" d="M609.7 466.6h0M843.8 439.4h0M905.0 451.2h0M948.0 455.3h0"/><path class="b" stroke-width="6" d="M694.5 452.3h0M694.6 455.4h0M792.2 463.0h0M925.8 413.4h0M946.4 470.5h0M1000.5 480.2h0"/><path class="b" stroke-width="7" d="M787.7 453.9h0M925.7 466.3h0"/><path class="b" stroke-width="8" d="M792.6 452.5h0M783.1 455.9h0M787.1 448.2h0M782.3 448.8h0"/><path class="b" stroke-width="12" d="M756.8 454.0h0"/><path class="db" stroke-width="12" d="M801.0 388.6h0"/><path class="lb" stroke-width="6" d="M717.0 561.0h0M678.0 652.0h0"/><path class="lb" stroke-width="7" d="M615.8 484.0h0M846.4 497.6h0M879.8 474.8h0M982.0 494.9h0M1039.3 424.7h0"/><path class="lb" stroke-width="8" d="M667.0 444.5h0M844.6 500.7h0"/><path class="lb" stroke-width="12" d="M756.8 482.7h0M844.8 438.0h0"/><path class="lo" stroke-width="6" d="M599.5 507.0h0M719.9 474.2h0M778.0 511.1h0"/><path class="lo" stroke-width="7" d="M718.3 486.7h0M717.1 476.3h0"/><path class="lo" stroke-width="8" d="M686.6 498.4h0M894.0 495.0h0"/><path class="o" stroke-width="4" d="M831.8 439.9h0"/><path class="o" stroke-width="5" d="M786.3 462.6h0M778.1 453.7h0M871.8 449.0h0"/><path class="o" stroke-width="6" d="M788.8 472.0h0M770.4 447.9h0M885.4 455.9h0M893.9 468.6h0M893.6 478.1h0"/><path class="o" stroke-width="7" d="M789.8 454.7h0M779.2 455.4h0M770.0 456.6h0M843.5 481.2h0M845.6 483.4h0M886.3 465.0h0M885.8 448.8h0M915.4 478.0h0M913.7 468.1h0"/><path class="o" stroke-width="8" d="M768.2 472.3h0M919.8 461.4h0"/><path class="o" stroke-width="9" d="M914.3 473.4h0"/><path class="o" stroke-width="12" d="M756.2 469.5h0"/><path class="b" stroke-width="5" d="M801.9 449.1h0M799.9 458.3h0M845.3 448.1h0M844.8 471.3h0M844.7 450.8h0M846.7 436.2h0M903.2 449.6h0M924.8 428.8h0M925.3 445.3h0M946.9 478.8h0M999.1 448.7h0"/><path class="b" stroke-width="6" d="M800.3 435.4h0M926.3 432.0h0M946.1 458.9h0M999.8 466.3h0"/><path class="b" stroke-width="7" d="M610.0 462.0h0M780.6 489.1h0M801.4 467.8h0M925.9 395.8h0M946.9 467.7h0M1000.8 468.7h0"/><path class="b" stroke-width="8" d="M780.4 462.5h0M789.8 448.5h0"/><path class="b" stroke-width="9" d="M792.9 457.4h0"/><path class="b" stroke-width="10" d="M787.6 449.4h0"/><path class="b" stroke-width="12" d="M946.7 452.0h0"/><path class="lb" stroke-width="6" d="M980.8 479.2h0"/><path class="lb" stroke-width="7" d="M844.2 498.3h0M879.5 458.8h0"/><path class="lb" stroke-width="8" d="M879.3 429.7h0"/><path class="lb" stroke-width="12" d="M610.6 432.0h0"/><path class="lo" stroke-width="7" d="M718.7 456.7h0M756.7 476.5h0M808.0 497.4h0"/><path class="lo" stroke-width="8" d="M718.3 488.7h0M741.8 468.3h0M755.8 472.0h0M778.4 418.6h0"/><path class="lo" stroke-width="9" d="M775.6 522.6h0"/><path class="o" stroke-width="4" d="M886.0 445.9h0"/><path class="o" stroke-width="5" d="M872.6 436.6h0M883.7 444.8h0"/><path class="o" stroke-width="6" d="M792.7 457.5h0M769.3 458.9h0M810.9 429.6h0M831.6 433.6h0M873.9 452.5h0M956.2 466.1h0"/><path class="o" stroke-width="7" d="M601.9 467.9h0M771.4 455.6h0M810.6 454.2h0M885.0 449.9h0M894.7 477.5h0M913.8 466.9h0M919.8 476.8h0"/><path class="o" stroke-width="16" d="M734.0 452.0h0"/><path class="b" stroke-width="5" d="M609.6 446.9h0M692.9 464.2h0M799.2 420.2h0M844.7 461.2h0M946.2 473.1h0M946.6 462.3h0M947.5 471.2h0"/><path class="b" stroke-width="6" d="M782.4 454.0h0M800.1 459.3h0M801.6 431.5h0M1001.0 474.4h0"/><path class="b" stroke-width="7" d="M611.4 422.8h0M785.4 456.8h0M775.0 444.1h0M843.4 436.5h0M844.9 468.6h0M904.2 447.2h0M926.3 470.7h0"/><path class="b" stroke-width="8" d="M779.7 464.4h0M774.1 457.3h0"/><path class="b" stroke-width="9" d="M777.9 459.2h0M780.3 460.9h0M774.1 442.0h0"/><path class="b" stroke-width="11" d="M860.9 463.8h0"/><path class="lb" stroke-width="6" d="M982.9 482.5h0"/><path class="lb" stroke-width="7" d="M616.8 479.0h0M879.8 436.4h0M879.0 461.3h0M1038.9 436.3h0"/><path class="lb" stroke-width="8" d="M669.3 402.0h0M844.4 502.2h0"/><path class="lb" stroke-width="10" d="M931.0 456.0h0"/><path class="lb" stroke-width="12" d="M1039.0 425.0h0"/><path class="lo" stroke-width="6" d="M756.3 454.7h0M884.0 568.0h0"/><path class="lo" stroke-width="7" d="M717.9 481.2h0M778.2 511.2h0"/><path class="lo" stroke-width="8" d="M682.6 435.0h0M778.9 418.6h0M808.6 506.8h0M860.6 487.2h0"/><path class="o" stroke-width="5" d="M602.4 464.0h0M793.6 449.3h0M832.7 458.6h0M843.5 481.3h0"/><path class="o" stroke-width="6" d="M770.5 459.9h0M809.9 455.0h0M832.8 463.8h0M831.6 453.7h0M832.1 469.0h0M893.9 475.0h0"/><path class="o" stroke-width="7" d="M811.4 463.5h0M811.8 467.0h0M844.9 475.4h0"/><path class="o" stroke-width="8" d="M772.0 460.5h0M917.0 478.8h0"/><path class="b" stroke-width="5" d="M611.8 441.0h0M779.9 489.2h0M799.9 440.4h0M843.6 441.3h0M925.8 440.3h0M926.3 424.1h0M946.5 467.3h0M1000.5 473.6h0M1001.1 467.7h0"/><path class="b" stroke-width="6" d="M694.6 451.3h0M780.4 490.5h0M801.7 444.8h0M801.0 466.2h0M843.4 454.8h0"/><path class="b" stroke-width="7" d="M694.2 460.9h0M786.5 454.9h0M801.3 438.0h0"/><path class="b" stroke-width="9" d="M784.4 455.1h0M775.3 455.9h0M778.6 467.1h0M786.9 455.3h0M777.6 440.6h0M779.6 452.1h0"/><path class="b" stroke-width="10" d="M694.2 460.0h0M786.2 449.9h0"/><path class="b" stroke-width="11" d="M861.8 452.2h0"/><path class="b" stroke-width="12" d="M863.7 461.6h0"/><path class="lb" stroke-width="7" d="M880.8 444.2h0M1039.5 436.7h0"/><path class="lb" stroke-width="9" d="M844.8 500.4h0"/><path class="lo" stroke-width="6" d="M718.9 507.4h0M756.9 473.4h0M807.3 506.6h0M807.6 492.6h0"/><path class="lo" stroke-width="7" d="M755.2 459.6h0M756.0 469.8h0"/><path class="lo" stroke-width="8" d="M718.6 477.6h0M844.8 403.0h0"/><path class="lo" stroke-width="10" d="M832.0 407.4h0"/><path class="lo" stroke-width="12" d="M860.3 447.3h0"/><path class="o" stroke-width="4" d="M809.3 446.5h0"/><path class="o" stroke-width="5" d="M604.3 463.7h0M772.3 457.5h0M773.4 445.8h0M786.2 468.8h0M810.3 453.2h0M872.2 450.1h0M873.1 424.3h0"/><path class="o" stroke-width="6" d="M602.8 459.2h0M770.6 439.9h0M775.1 467.4h0M792.5 464.8h0M812.8 448.3h0M810.3 460.0h0M812.0 457.6h0M810.3 425.1h0M873.1 465.8h0M873.5 446.7h0M894.4 466.9h0M918.1 464.2h0M958.2 471.5h0"/><path class="o" stroke-width="7" d="M769.0 458.5h0M832.1 464.2h0"/><path class="o" stroke-width="8" d="M790.6 455.8h0M767.8 449.1h0"/><path class="b" stroke-width="5" d="M801.3 404.9h0M845.4 461.5h0M925.5 416.4h0"/><path class="b" stroke-width="6" d="M610.8 432.6h0M610.0 438.9h0M609.5 438.6h0M801.1 459.6h0M872.5 488.0h0M874.4 494.0h0M947.2 456.7h0"/><path class="b" stroke-width="7" d="M692.8 456.7h0M800.1 450.9h0M800.7 384.3h0"/><path class="b" stroke-width="8" d="M789.8 464.1h0"/><path class="b" stroke-width="9" d="M786.0 442.8h0"/><path class="b" stroke-width="10" d="M791.6 458.4h0"/><path class="lb" stroke-width="8" d="M879.3 418.4h0M982.1 478.9h0M1038.2 432.5h0"/><path class="lb" stroke-width="10" d="M677.0 501.6h0"/><path class="lo" stroke-width="6" d="M756.5 465.8h0"/><path class="lo" stroke-width="8" d="M756.4 461.7h0M757.1 497.6h0"/><path class="o" stroke-width="5" d="M771.2 457.6h0M810.0 456.3h0M813.3 442.1h0M885.2 448.4h0M894.0 473.8h0M893.1 468.0h0M893.8 473.3h0"/><path class="o" stroke-width="6" d="M775.1 470.0h0M768.2 466.1h0M771.9 471.9h0M811.1 421.2h0M811.5 472.5h0M811.6 475.4h0M884.8 444.1h0M894.2 485.2h0"/><path class="o" stroke-width="7" d="M602.9 465.4h0M776.3 447.8h0M769.1 458.1h0M769.5 451.7h0M810.7 475.6h0M811.7 435.8h0M811.5 421.9h0M812.6 466.1h0M884.3 440.7h0M894.6 470.6h0M895.2 482.9h0M919.9 463.5h0M955.1 458.0h0"/><path class="o" stroke-width="8" d="M718.6 488.0h0M774.2 469.4h0"/><path class="b" stroke-width="5" d="M610.3 444.7h0M800.6 466.2h0M946.8 467.5h0"/><path class="b" stroke-width="6" d="M610.8 427.6h0M801.8 449.6h0M926.5 442.0h0M946.6 466.8h0M999.7 473.1h0M1000.4 478.1h0"/><path class="b" stroke-width="9" d="M774.3 458.3h0"/><path class="b" stroke-width="10" d="M815.5 462.8h0M816.0 464.0h0M1000.4 465.0h0"/><path class="b" stroke-width="11" d="M861.0 449.4h0M862.1 458.9h0"/><path class="lb" stroke-width="7" d="M879.8 429.8h0M982.8 473.8h0M982.6 473.0h0"/><path class="lb" stroke-width="8" d="M677.0 386.0h0"/><path class="lb" stroke-width="9" d="M880.2 433.3h0M1039.4 425.3h0"/><path class="lb" stroke-width="10" d="M823.8 445.0h0"/><path class="lo" stroke-width="7" d="M756.1 466.3h0M775.9 415.1h0M861.7 484.8h0"/><path class="lo" stroke-width="8" d="M808.8 500.7h0"/><path class="lo" stroke-width="9" d="M719.0 476.5h0"/><path class="lo" stroke-width="15" d="M737.3 449.7h0"/><path class="o" stroke-width="4" d="M956.3 482.7h0"/><path class="o" stroke-width="5" d="M776.4 455.9h0M811.1 479.4h0M811.4 463.6h0M812.0 466.6h0M873.6 437.3h0M886.4 446.5h0M956.5 462.4h0"/><path class="o" stroke-width="6" d="M782.9 438.9h0M768.3 462.3h0M769.6 456.3h0M769.4 434.7h0M831.7 466.0h0M832.2 446.3h0M894.2 475.7h0"/><path class="o" stroke-width="7" d="M767.7 439.9h0M793.0 458.7h0M769.8 455.3h0"/><path class="o" stroke-width="8" d="M718.6 469.5h0"/><path class="b" stroke-width="5" d="M610.4 438.5h0M802.3 408.8h0M801.1 400.4h0M846.9 469.6h0M845.2 441.5h0M947.2 460.4h0"/><path class="b" stroke-width="6" d="M611.2 440.6h0M786.1 448.8h0M791.8 460.5h0M800.4 434.0h0M844.3 446.3h0M845.3 462.0h0M946.2 469.5h0"/><path class="b" stroke-width="7" d="M926.5 418.3h0M926.0 471.4h0"/><path class="b" stroke-width="8" d="M782.0 448.6h0M778.0 461.3h0M783.7 449.0h0"/><path class="b" stroke-width="12" d="M862.2 463.1h0M863.1 459.0h0"/><path class="lb" stroke-width="8" d="M669.3 413.0h0"/><path class="lb" stroke-width="10" d="M823.2 445.0h0"/><path class="lb" stroke-width="14" d="M672.6 469.5h0M696.4 477.2h0"/><path class="lo" stroke-width="6" d="M873.0 501.6h0M826.0 636.0h0M884.0 586.0h0M925.0 565.0h0"/><path class="lo" stroke-width="7" d="M755.4 443.4h0M755.6 495.4h0"/><path class="lo" stroke-width="8" d="M717.9 470.2h0"/><path class="lo" stroke-width="16" d="M738.1 447.3h0M735.6 448.4h0"/><path class="o" stroke-width="5" d="M766.5 452.1h0M811.6 438.9h0M844.3 474.0h0M875.0 446.5h0M872.9 459.7h0M956.5 497.3h0"/><path class="o" stroke-width="6" d="M790.9 444.5h0M770.2 455.4h0M772.6 446.2h0M812.0 457.1h0M873.4 449.5h0M884.9 437.7h0"/><path class="o" stroke-width="7" d="M779.7 450.0h0M785.8 459.0h0M784.5 472.5h0M872.5 452.4h0M885.0 459.6h0M893.4 479.9h0M957.0 483.9h0"/><path class="o" stroke-width="8" d="M862.5 460.6h0M915.8 474.2h0M915.3 477.0h0"/><path class="o" stroke-width="9" d="M917.3 468.4h0M918.0 466.7h0"/><path class="b" stroke-width="5" d="M693.9 457.3h0M779.9 490.1h0M800.5 433.3h0M800.0 462.7h0M801.0 421.4h0M843.9 453.2h0M843.5 437.5h0M924.9 464.6h0M925.4 447.3h0M924.6 446.0h0M946.8 479.9h0M947.5 467.6h0"/><path class="b" stroke-width="6" d="M772.8 449.5h0M845.3 448.1h0M846.0 474.6h0M926.6 423.3h0"/><path class="b" stroke-width="7" d="M784.8 466.1h0M783.0 453.9h0M773.7 446.3h0M800.7 419.0h0M800.9 448.1h0M799.6 437.5h0M844.5 439.2h0M846.3 462.6h0M925.6 430.0h0M947.1 482.6h0M1000.7 470.9h0"/><path class="b" stroke-width="9" d="M791.4 443.7h0"/><path class="b" stroke-width="12" d="M610.6 450.0h0"/><path class="db" stroke-width="8" d="M925.6 424.0h0"/><path class="lb" stroke-width="7" d="M880.3 441.0h0M879.8 439.1h0M878.5 443.3h0M880.0 462.1h0M1037.4 429.1h0"/><path class="lb" stroke-width="8" d="M677.0 398.6h0M1039.5 427.4h0"/><path class="lb" stroke-width="9" d="M880.6 450.5h0"/><path class="lb" stroke-width="12" d="M844.8 427.0h0"/><path class="lo" stroke-width="6" d="M778.3 418.1h0M979.0 548.0h0"/><path class="lo" stroke-width="8" d="M755.4 452.6h0"/><path class="lo" stroke-width="10" d="M919.0 386.4h0M919.0 413.0h0"/><path class="lo" stroke-width="16" d="M733.3 453.2h0"/><path class="lo" stroke-width="18" d="M734.2 453.9h0"/><path class="o" stroke-width="5" d="M769.3 458.9h0M811.2 448.6h0M833.6 463.5h0M832.3 457.4h0M873.0 432.5h0M887.0 457.3h0M894.6 476.2h0"/><path class="o" stroke-width="6" d="M769.2 449.2h0M811.2 460.3h0M844.8 477.6h0M886.3 444.6h0M893.3 460.2h0M893.8 475.4h0"/><path class="o" stroke-width="7" d="M788.4 468.5h0M772.5 457.7h0M770.4 460.3h0M785.0 451.9h0M769.2 460.7h0M832.8 441.3h0M893.6 475.7h0M894.5 459.9h0"/><path class="o" stroke-width="8" d="M770.2 451.8h0"/></g>
<line x1="594.6" y1="468.4" x2="1054.8" y2="468.4" stroke="#b4b4b4" stroke-width="1.6" stroke-dasharray="3.2 3.1"/>
<rect x="593.6" y="372.5" width="462.2" height="292.8" fill="none" stroke="#8c8c8c" stroke-width="1.35"/>
<line x1="588.6" y1="375.4" x2="593.6" y2="375.4" stroke="#8c8c8c" stroke-width="1.4"/>
<line x1="588.6" y1="468.4" x2="593.6" y2="468.4" stroke="#8c8c8c" stroke-width="1.4"/>
<line x1="588.6" y1="560.8" x2="593.6" y2="560.8" stroke="#8c8c8c" stroke-width="1.4"/>
<line x1="588.6" y1="653.5" x2="593.6" y2="653.5" stroke="#8c8c8c" stroke-width="1.4"/>
<line x1="667.6" y1="665.3" x2="667.6" y2="670.3" stroke="#8c8c8c" stroke-width="1.4"/>
<line x1="770.5" y1="665.3" x2="770.5" y2="670.3" stroke="#8c8c8c" stroke-width="1.4"/>
<line x1="873.4" y1="665.3" x2="873.4" y2="670.3" stroke="#8c8c8c" stroke-width="1.4"/>
<line x1="976.6" y1="665.3" x2="976.6" y2="670.3" stroke="#8c8c8c" stroke-width="1.4"/>
<text transform="translate(583.6,381.7) rotate(-90)" text-anchor="middle" font-size="14.0">0.5</text>
<text transform="translate(583.6,468.4) rotate(-90)" text-anchor="middle" font-size="14.0">0</text>
<text transform="translate(583.6,560.8) rotate(-90)" text-anchor="middle" font-size="14.0">-0.5</text>
<text transform="translate(583.6,653.5) rotate(-90)" text-anchor="middle" font-size="14.0">-1.0</text>
<text x="658.2" y="685.7" text-anchor="middle" font-size="14.0">500</text>
<text x="770.5" y="685.7" text-anchor="middle" font-size="14.0">1000</text>
<text x="873" y="687.2" text-anchor="middle" font-size="14.0">1500</text>
<text x="975.7" y="685.7" text-anchor="middle" font-size="14.0">2000</text>
<text x="825.8" y="709" text-anchor="middle" font-size="13.9">MAP (mm)</text>
<text transform="translate(562.9,505) rotate(-90)" text-anchor="middle" font-size="13.9">Change in yield (lnRR)</text>
<text x="993.2" y="431.8" font-size="47">(f)</text>
<clipPath id="cpg"><rect x="1153.5" y="367.5" width="461.8" height="292.3"/></clipPath>
<g clip-path="url(#cpg)"><polygon points="1168.5,443.5 1179.2,444.2 1190,445 1200.7,445.7 1211.5,446.3 1222.2,447 1233,447.6 1243.7,448.1 1254.4,448.6 1265.2,449.1 1275.9,449.5 1286.7,449.9 1297.4,450.3 1308.2,450.6 1318.9,450.9 1329.6,451.1 1340.4,451.3 1351.1,451.6 1361.9,451.8 1372.6,451.9 1383.3,452.1 1394.1,452.3 1404.8,452.4 1415.6,452.5 1426.3,452.7 1437.1,452.8 1447.8,452.9 1458.5,453 1469.3,453.1 1480,453.2 1490.8,453.3 1501.5,453.4 1512.3,453.5 1523,453.6 1533.7,453.7 1544.5,453.8 1555.2,453.9 1566,454 1576.7,454 1587.5,454.1 1598.2,454.2 1598.2,480.2 1587.5,479.4 1576.7,478.5 1566,477.7 1555.2,476.9 1544.5,476.1 1533.7,475.2 1523,474.4 1512.3,473.6 1501.5,472.8 1490.8,472 1480,471.2 1469.3,470.4 1458.5,469.5 1447.8,468.8 1437.1,468 1426.3,467.2 1415.6,466.4 1404.8,465.6 1394.1,464.8 1383.3,464.1 1372.6,463.4 1361.9,462.6 1351.1,461.9 1340.4,461.2 1329.6,460.5 1318.9,459.9 1308.2,459.3 1297.4,458.7 1286.7,458.1 1275.9,457.6 1265.2,457.1 1254.4,456.7 1243.7,456.3 1233,455.9 1222.2,455.6 1211.5,455.3 1200.7,455.1 1190,454.9 1179.2,454.7 1168.5,454.5" fill="#4797d6" fill-opacity="1"/><polygon points="1168.4,439.9 1175.9,446.4 1183.3,449.9 1190.8,452.2 1198.2,453.9 1205.7,455.3 1213.2,456.4 1220.6,457.3 1228.1,458 1235.5,458.7 1243,459.2 1250.5,459.7 1257.9,460.2 1265.4,460.5 1272.8,460.9 1280.3,461.2 1287.8,461.4 1295.2,461.7 1302.7,461.9 1310.1,462.1 1317.6,462.3 1325.1,462.5 1332.5,462.7 1340,462.8 1347.4,463 1354.9,463.1 1362.4,463.2 1369.8,463.4 1377.3,463.5 1384.7,463.6 1392.2,463.7 1399.7,463.8 1407.1,463.9 1414.6,464 1422,464.1 1429.5,464.2 1437,464.3 1444.4,464.3 1451.9,464.4 1459.3,464.5 1466.8,464.6 1474.3,464.6 1481.7,464.7 1489.2,464.8 1496.6,464.8 1504.1,464.9 1511.6,464.9 1519,465 1526.5,465.1 1533.9,465.1 1541.4,465.2 1548.9,465.2 1556.3,465.3 1563.8,465.3 1571.2,465.4 1578.7,465.4 1586.2,465.5 1593.6,465.5 1601.1,465.6 1608.5,465.6 1616,465.6 1616,486.5 1608.5,486.4 1601.1,486.2 1593.6,486 1586.2,485.9 1578.7,485.7 1571.2,485.5 1563.8,485.3 1556.3,485.1 1548.9,484.9 1541.4,484.8 1533.9,484.6 1526.5,484.4 1519,484.2 1511.6,484 1504.1,483.7 1496.6,483.5 1489.2,483.3 1481.7,483.1 1474.3,482.9 1466.8,482.6 1459.3,482.4 1451.9,482.1 1444.4,481.9 1437,481.6 1429.5,481.4 1422,481.1 1414.6,480.8 1407.1,480.6 1399.7,480.3 1392.2,480 1384.7,479.7 1377.3,479.4 1369.8,479 1362.4,478.7 1354.9,478.3 1347.4,478 1340,477.6 1332.5,477.2 1325.1,476.9 1317.6,476.5 1310.1,476 1302.7,475.6 1295.2,475.1 1287.8,474.7 1280.3,474.2 1272.8,473.7 1265.4,473.1 1257.9,472.6 1250.5,472 1243,471.4 1235.5,470.7 1228.1,470 1220.6,469.3 1213.2,468.5 1205.7,467.6 1198.2,466.6 1190.8,465.5 1183.3,464.1 1175.9,462.3 1168.4,459.4" fill="#ed721a" fill-opacity="0.85"/><path class="b" stroke-width="5" d="M1183.5 452.0h0"/><path class="b" stroke-width="6" d="M1268.3 441.4h0M1268.9 439.2h0"/><path class="b" stroke-width="8" d="M1240.0 460.2h0M1195.5 461.8h0M1240.9 443.4h0M1299.0 457.3h0M1302.0 448.2h0"/><path class="b" stroke-width="9" d="M1267.3 446.6h0M1276.6 458.3h0M1267.8 449.0h0"/><path class="lb" stroke-width="7" d="M1185.6 438.9h0"/><path class="lb" stroke-width="8" d="M1313.1 453.0h0M1236.6 380.3h0"/><path class="lb" stroke-width="9" d="M1313.5 437.1h0M1242.2 448.6h0M1410.3 422.5h0"/><path class="lb" stroke-width="10" d="M1286.0 479.0h0M1392.7 495.8h0"/><path class="lo" stroke-width="6" d="M1232.0 503.3h0M1356.0 485.8h0M1174.7 641.6h0M1228.3 562.0h0M1386.0 548.0h0"/><path class="lo" stroke-width="8" d="M1177.7 569.2h0"/><path class="o" stroke-width="5" d="M1210.7 426.9h0M1221.1 447.9h0M1238.2 431.9h0M1238.1 452.7h0"/><path class="o" stroke-width="6" d="M1206.5 427.3h0M1169.2 442.9h0M1168.9 452.9h0M1191.5 444.6h0M1193.9 461.5h0M1186.5 449.8h0M1199.1 473.2h0"/><path class="o" stroke-width="7" d="M1198.9 443.9h0M1191.4 444.8h0M1226.4 451.0h0M1223.4 441.9h0M1179.4 451.8h0M1199.9 447.6h0M1239.2 428.3h0M1236.9 416.4h0M1227.7 459.2h0M1170.2 456.1h0M1199.0 458.0h0"/><path class="o" stroke-width="8" d="M1197.0 464.5h0M1171.4 445.7h0M1198.6 449.6h0M1224.6 450.3h0"/><path class="o" stroke-width="9" d="M1213.3 452.0h0M1230.3 464.2h0M1222.3 462.1h0"/><path class="b" stroke-width="5" d="M1274.2 456.6h0"/><path class="b" stroke-width="6" d="M1233.3 433.4h0"/><path class="b" stroke-width="7" d="M1228.0 439.1h0M1207.0 436.7h0M1295.1 445.4h0M1286.0 449.4h0"/><path class="b" stroke-width="8" d="M1223.7 454.3h0M1266.6 445.8h0M1240.8 447.5h0M1235.0 470.0h0"/><path class="lb" stroke-width="6" d="M1293.1 441.2h0M1215.0 441.2h0"/><path class="lb" stroke-width="7" d="M1240.0 439.4h0"/><path class="lb" stroke-width="8" d="M1267.1 443.3h0M1230.5 488.8h0"/><path class="lb" stroke-width="9" d="M1255.8 429.1h0M1305.9 428.8h0M1199.0 430.6h0"/><path class="lb" stroke-width="11" d="M1241.6 453.4h0"/><path class="lo" stroke-width="6" d="M1339.8 511.3h0M1228.3 580.5h0"/><path class="lo" stroke-width="7" d="M1259.6 496.1h0"/><path class="lo" stroke-width="8" d="M1276.0 416.0h0M1343.0 417.0h0"/><path class="o" stroke-width="5" d="M1228.6 438.7h0M1194.4 458.3h0M1237.1 440.3h0M1238.7 423.1h0"/><path class="o" stroke-width="6" d="M1174.6 454.5h0M1224.6 454.6h0M1203.3 457.8h0"/><path class="o" stroke-width="7" d="M1181.5 456.6h0M1177.5 440.9h0M1183.9 427.0h0M1229.7 442.7h0M1195.5 464.3h0M1214.9 456.2h0M1198.2 454.7h0M1199.7 469.2h0M1239.1 463.3h0M1229.8 450.5h0M1228.1 454.1h0"/><path class="o" stroke-width="8" d="M1188.5 426.8h0M1219.5 443.1h0M1178.8 459.8h0M1191.5 450.0h0M1198.1 461.0h0"/><path class="o" stroke-width="9" d="M1213.3 421.4h0M1174.2 459.4h0"/><path class="b" stroke-width="5" d="M1248.5 435.8h0"/><path class="b" stroke-width="6" d="M1277.5 443.8h0"/><path class="b" stroke-width="8" d="M1185.3 461.4h0M1184.3 435.3h0M1306.6 443.0h0M1265.4 445.3h0M1278.8 445.4h0M1282.4 437.8h0"/><path class="b" stroke-width="9" d="M1296.9 455.5h0M1194.0 449.2h0"/><path class="lb" stroke-width="7" d="M1261.0 464.5h0"/><path class="lb" stroke-width="8" d="M1245.8 448.8h0M1324.6 388.0h0"/><path class="lb" stroke-width="10" d="M1271.6 433.8h0M1351.2 422.4h0"/><path class="lb" stroke-width="11" d="M1290.0 457.2h0M1304.3 452.8h0"/><path class="lb" stroke-width="12" d="M1219.4 500.0h0"/><path class="lo" stroke-width="6" d="M1213.8 498.0h0M1189.6 628.0h0M1353.0 506.0h0"/><path class="lo" stroke-width="7" d="M1194.9 492.8h0M1177.9 587.8h0"/><path class="o" stroke-width="5" d="M1173.0 462.2h0M1199.2 440.6h0"/><path class="o" stroke-width="6" d="M1189.6 424.1h0M1181.2 443.3h0M1194.6 438.3h0M1238.8 466.1h0"/><path class="o" stroke-width="7" d="M1196.0 412.8h0M1219.1 441.8h0M1185.2 444.3h0M1220.9 468.1h0M1215.6 463.9h0M1216.6 452.5h0"/><path class="o" stroke-width="8" d="M1203.7 469.5h0M1220.1 446.2h0M1170.1 418.5h0M1200.6 464.0h0M1206.0 448.1h0"/><path class="o" stroke-width="9" d="M1228.1 438.6h0M1177.6 434.5h0M1176.9 450.3h0"/><path class="b" stroke-width="5" d="M1214.7 458.9h0"/><path class="b" stroke-width="7" d="M1293.8 464.7h0M1300.9 439.2h0M1263.7 449.9h0M1290.9 451.8h0"/><path class="b" stroke-width="9" d="M1264.6 461.5h0"/><path class="b" stroke-width="10" d="M1261.7 443.8h0"/><path class="lb" stroke-width="6" d="M1317.8 435.0h0M1248.7 465.9h0M1598.3 649.0h0"/><path class="lb" stroke-width="7" d="M1273.5 449.5h0M1279.6 446.3h0"/><path class="lb" stroke-width="8" d="M1304.1 445.1h0M1196.5 444.3h0M1225.5 378.0h0M1334.6 415.7h0M1410.5 430.2h0"/><path class="lb" stroke-width="9" d="M1244.8 451.6h0M1278.3 443.2h0M1310.4 437.8h0"/><path class="lb" stroke-width="10" d="M1246.5 444.5h0M1209.2 436.8h0"/><path class="lb" stroke-width="11" d="M1245.3 437.8h0"/><path class="lb" stroke-width="12" d="M1308.3 450.6h0M1340.0 442.0h0"/><path class="lo" stroke-width="5" d="M1286.1 500.0h0M1291.2 497.1h0"/><path class="lo" stroke-width="6" d="M1276.7 513.6h0"/><path class="lo" stroke-width="8" d="M1176.6 573.0h0"/><path class="o" stroke-width="5" d="M1198.6 448.2h0"/><path class="o" stroke-width="6" d="M1206.8 468.9h0M1193.0 449.7h0M1222.3 435.3h0M1180.8 447.0h0M1198.2 446.7h0M1238.2 431.7h0"/><path class="o" stroke-width="7" d="M1172.3 439.3h0M1179.7 441.8h0M1230.5 443.8h0M1185.9 439.6h0M1177.5 441.5h0M1197.6 454.6h0M1238.5 453.0h0M1186.1 451.0h0M1196.6 454.3h0M1225.2 453.2h0M1208.3 467.9h0M1168.7 451.1h0"/><path class="o" stroke-width="8" d="M1230.6 456.4h0M1212.3 439.3h0M1214.2 460.4h0"/><path class="o" stroke-width="9" d="M1229.3 458.5h0"/><path class="b" stroke-width="5" d="M1284.0 434.0h0"/><path class="b" stroke-width="6" d="M1210.9 469.5h0"/><path class="b" stroke-width="7" d="M1305.9 461.6h0M1301.7 443.5h0"/><path class="b" stroke-width="8" d="M1275.4 469.7h0M1279.5 437.1h0M1289.8 449.0h0M1219.4 480.0h0"/><path class="b" stroke-width="9" d="M1214.9 452.6h0M1302.8 461.0h0M1293.4 444.0h0"/><path class="db" stroke-width="10" d="M1287.5 417.0h0"/><path class="lb" stroke-width="7" d="M1268.0 435.4h0M1233.1 432.6h0"/><path class="lb" stroke-width="8" d="M1193.2 431.2h0M1257.0 491.0h0"/><path class="lb" stroke-width="10" d="M1312.5 453.9h0M1351.2 432.3h0"/><path class="lo" stroke-width="5" d="M1365.8 505.7h0"/><path class="lo" stroke-width="6" d="M1327.0 503.0h0M1420.0 495.0h0"/><path class="lo" stroke-width="8" d="M1204.7 523.0h0"/><path class="o" stroke-width="5" d="M1192.1 471.0h0M1198.1 473.2h0"/><path class="o" stroke-width="6" d="M1171.0 459.6h0M1181.6 449.9h0M1224.6 432.3h0M1183.7 450.4h0"/><path class="o" stroke-width="7" d="M1200.5 464.5h0M1209.1 447.8h0M1173.8 462.1h0M1225.8 448.3h0M1189.8 440.1h0M1199.3 474.7h0"/><path class="o" stroke-width="8" d="M1203.3 453.1h0M1212.1 415.4h0M1219.6 454.5h0M1184.6 435.2h0M1210.0 461.0h0"/><path class="o" stroke-width="9" d="M1171.6 454.2h0M1227.0 462.1h0M1193.0 463.4h0"/><path class="b" stroke-width="5" d="M1217.0 441.1h0"/><path class="b" stroke-width="6" d="M1255.5 450.9h0M1255.5 460.9h0"/><path class="b" stroke-width="7" d="M1270.2 447.9h0M1307.5 441.8h0"/><path class="b" stroke-width="8" d="M1272.3 459.3h0M1194.1 440.6h0M1249.0 439.6h0M1284.1 434.0h0M1287.2 440.5h0M1245.4 444.1h0M1297.7 449.6h0M1261.0 418.0h0"/><path class="b" stroke-width="9" d="M1229.4 456.1h0M1240.8 443.2h0M1271.3 451.1h0"/><path class="lb" stroke-width="6" d="M1238.8 426.3h0"/><path class="lb" stroke-width="7" d="M1236.8 437.5h0"/><path class="lb" stroke-width="11" d="M1250.9 448.8h0"/><path class="lo" stroke-width="6" d="M1284.2 483.6h0"/><path class="lo" stroke-width="7" d="M1176.8 567.7h0"/><path class="lo" stroke-width="8" d="M1177.5 568.8h0"/><path class="o" stroke-width="5" d="M1198.6 435.0h0M1237.2 448.8h0M1237.0 442.9h0"/><path class="o" stroke-width="6" d="M1216.4 458.2h0M1216.5 434.4h0M1172.2 441.8h0M1198.2 452.8h0M1238.1 457.8h0"/><path class="o" stroke-width="7" d="M1217.2 446.8h0M1173.2 450.2h0M1227.6 454.7h0M1220.9 465.2h0M1198.6 456.1h0"/><path class="o" stroke-width="8" d="M1210.4 465.5h0M1188.6 456.5h0M1210.5 451.9h0M1197.0 453.6h0"/><path class="o" stroke-width="9" d="M1215.7 452.5h0M1170.5 460.7h0M1223.6 451.7h0"/><path class="b" stroke-width="5" d="M1207.4 455.2h0"/><path class="b" stroke-width="6" d="M1289.9 439.7h0M1250.5 469.0h0"/><path class="b" stroke-width="7" d="M1286.4 464.3h0M1257.4 446.3h0M1199.1 430.0h0M1304.6 454.2h0"/><path class="b" stroke-width="8" d="M1294.4 448.9h0"/><path class="b" stroke-width="10" d="M1377.8 443.4h0M1249.3 485.5h0"/><path class="lb" stroke-width="7" d="M1207.4 439.6h0"/><path class="lb" stroke-width="8" d="M1216.2 434.0h0M1410.1 428.7h0"/><path class="lb" stroke-width="9" d="M1294.0 443.3h0"/><path class="lb" stroke-width="16" d="M1195.0 488.8h0"/><path class="lo" stroke-width="6" d="M1337.5 490.0h0M1437.0 445.0h0M1533.0 509.0h0"/><path class="lo" stroke-width="7" d="M1176.6 591.2h0"/><path class="lo" stroke-width="8" d="M1180.7 400.0h0"/><path class="o" stroke-width="5" d="M1237.5 426.2h0"/><path class="o" stroke-width="6" d="M1186.7 454.7h0M1197.0 452.1h0M1168.7 442.7h0M1200.0 441.9h0M1187.5 463.4h0"/><path class="o" stroke-width="7" d="M1200.5 469.1h0M1187.6 436.6h0M1226.2 436.9h0M1218.4 453.2h0M1216.3 465.6h0M1211.7 450.0h0M1177.1 455.9h0M1176.7 445.1h0"/><path class="o" stroke-width="8" d="M1176.1 428.3h0M1214.9 435.4h0M1178.1 446.3h0M1178.8 452.4h0M1229.7 460.4h0M1203.4 455.4h0M1178.7 437.3h0M1204.0 451.8h0M1195.4 456.1h0"/><path class="o" stroke-width="9" d="M1173.2 459.4h0M1171.0 463.1h0"/><path class="b" stroke-width="5" d="M1266.3 475.3h0"/><path class="b" stroke-width="6" d="M1180.9 452.7h0M1263.7 444.7h0M1275.0 453.5h0M1268.4 443.9h0"/><path class="b" stroke-width="7" d="M1260.0 453.6h0M1304.1 458.9h0M1184.6 457.9h0M1306.9 443.7h0M1242.3 469.9h0M1300.8 453.0h0"/><path class="b" stroke-width="8" d="M1292.2 447.7h0M1207.5 451.7h0M1270.7 443.7h0M1256.8 452.6h0M1245.5 418.0h0"/><path class="b" stroke-width="9" d="M1307.3 450.0h0"/><path class="b" stroke-width="10" d="M1273.9 451.2h0"/><path class="lb" stroke-width="7" d="M1292.7 458.7h0M1315.4 451.3h0M1205.6 441.5h0"/><path class="lb" stroke-width="9" d="M1275.4 458.2h0M1220.2 435.4h0"/><path class="lb" stroke-width="10" d="M1245.9 455.0h0"/><path class="lb" stroke-width="14" d="M1360.0 448.0h0"/><path class="lo" stroke-width="6" d="M1335.2 509.4h0M1190.0 420.0h0M1176.7 572.7h0"/><path class="lo" stroke-width="7" d="M1311.1 481.0h0M1204.6 514.0h0"/><path class="lo" stroke-width="8" d="M1186.0 380.3h0M1204.0 404.6h0"/><path class="o" stroke-width="5" d="M1228.6 443.3h0M1178.3 439.9h0M1190.0 445.0h0M1211.6 428.1h0M1198.0 446.1h0"/><path class="o" stroke-width="6" d="M1171.6 440.9h0M1179.6 441.7h0M1225.8 455.2h0M1196.5 458.5h0M1198.3 444.5h0"/><path class="o" stroke-width="7" d="M1200.5 448.9h0M1221.7 460.7h0M1202.8 442.6h0M1218.4 450.2h0M1198.4 455.2h0M1198.2 453.4h0M1173.6 462.8h0M1211.1 457.3h0M1173.1 461.3h0"/><path class="o" stroke-width="8" d="M1177.9 422.0h0M1221.1 460.5h0M1213.1 456.3h0M1179.5 463.4h0M1187.7 459.0h0"/><path class="o" stroke-width="9" d="M1202.3 443.5h0"/><path class="b" stroke-width="6" d="M1228.8 458.7h0M1220.9 447.1h0M1294.2 450.6h0M1270.9 448.0h0M1248.9 457.7h0"/><path class="b" stroke-width="7" d="M1218.5 436.3h0M1256.3 451.8h0M1282.3 443.5h0M1264.5 447.5h0"/><path class="b" stroke-width="8" d="M1267.7 458.4h0"/><path class="b" stroke-width="9" d="M1264.2 452.0h0M1250.9 446.4h0M1278.4 453.8h0"/><path class="b" stroke-width="10" d="M1276.0 500.0h0"/><path class="db" stroke-width="10" d="M1225.5 382.5h0"/><path class="lb" stroke-width="6" d="M1299.0 428.8h0M1256.2 440.5h0M1198.4 393.0h0"/><path class="lb" stroke-width="8" d="M1225.5 395.8h0M1180.7 483.3h0"/><path class="lb" stroke-width="9" d="M1306.9 446.8h0M1189.4 435.5h0"/><path class="lb" stroke-width="10" d="M1198.4 491.0h0"/><path class="lb" stroke-width="12" d="M1256.9 443.6h0M1279.2 433.8h0"/><path class="lo" stroke-width="5" d="M1384.4 490.2h0M1326.6 498.1h0"/><path class="lo" stroke-width="6" d="M1462.0 490.0h0M1440.0 420.0h0"/><path class="lo" stroke-width="8" d="M1365.0 440.0h0"/><path class="o" stroke-width="6" d="M1179.0 425.8h0M1198.2 451.8h0M1185.7 461.7h0M1198.2 476.5h0M1238.9 445.8h0"/><path class="o" stroke-width="7" d="M1217.7 459.4h0M1178.7 437.0h0M1221.9 448.9h0M1227.4 443.0h0M1238.0 472.4h0M1175.1 462.1h0"/><path class="o" stroke-width="8" d="M1209.9 464.3h0M1218.8 441.5h0M1173.3 448.6h0M1221.3 451.3h0"/><path class="o" stroke-width="9" d="M1219.7 464.0h0M1181.5 434.8h0M1177.8 436.3h0M1186.8 459.9h0M1196.9 458.8h0"/><path class="b" stroke-width="5" d="M1204.1 431.0h0M1192.5 443.9h0"/><path class="b" stroke-width="6" d="M1223.3 461.1h0M1219.1 450.3h0M1273.6 441.8h0M1243.8 448.0h0"/><path class="b" stroke-width="7" d="M1281.6 444.8h0M1257.5 442.6h0"/><path class="b" stroke-width="8" d="M1305.5 460.8h0M1188.5 454.8h0"/><path class="b" stroke-width="9" d="M1291.5 448.5h0"/><path class="b" stroke-width="10" d="M1303.7 455.4h0"/><path class="lb" stroke-width="8" d="M1271.6 438.0h0M1191.5 432.7h0"/><path class="lb" stroke-width="9" d="M1270.5 449.4h0M1263.5 438.8h0"/><path class="lb" stroke-width="10" d="M1299.1 442.7h0M1287.5 409.0h0"/><path class="lo" stroke-width="6" d="M1234.8 510.5h0M1237.8 483.2h0"/><path class="lo" stroke-width="8" d="M1190.7 407.0h0M1172.0 430.0h0"/><path class="o" stroke-width="5" d="M1199.2 459.3h0"/><path class="o" stroke-width="6" d="M1177.9 431.8h0M1219.1 464.3h0M1198.9 465.1h0M1188.9 437.2h0M1185.9 447.3h0M1199.4 461.6h0"/><path class="o" stroke-width="7" d="M1215.5 431.9h0M1230.3 428.1h0M1205.9 415.5h0M1214.6 440.0h0M1205.4 462.2h0M1187.4 459.7h0M1183.1 458.6h0M1176.0 453.1h0"/><path class="o" stroke-width="8" d="M1174.2 451.9h0M1220.2 424.2h0M1215.6 472.0h0M1228.9 465.0h0M1199.5 436.4h0M1183.9 458.6h0"/><path class="o" stroke-width="9" d="M1182.0 447.7h0M1171.3 425.3h0M1173.5 446.5h0"/><path class="b" stroke-width="5" d="M1282.0 433.5h0"/><path class="b" stroke-width="6" d="M1191.3 431.0h0M1200.8 431.1h0"/><path class="b" stroke-width="7" d="M1236.6 453.8h0M1256.2 447.6h0M1247.0 442.6h0M1296.7 449.9h0"/><path class="b" stroke-width="8" d="M1249.1 450.9h0M1251.0 451.4h0M1274.9 440.2h0"/><path class="b" stroke-width="9" d="M1180.4 453.0h0"/><path class="b" stroke-width="10" d="M1283.5 458.1h0"/><path class="lb" stroke-width="6" d="M1304.0 538.0h0"/><path class="lb" stroke-width="7" d="M1311.3 446.5h0M1185.4 435.4h0M1191.1 431.9h0"/><path class="lb" stroke-width="8" d="M1412.3 427.1h0"/><path class="lb" stroke-width="9" d="M1294.7 458.1h0"/><path class="lo" stroke-width="5" d="M1177.6 502.6h0"/><path class="lo" stroke-width="6" d="M1286.4 517.1h0M1285.8 486.5h0"/><path class="o" stroke-width="4" d="M1198.2 469.0h0M1197.7 444.8h0"/><path class="o" stroke-width="6" d="M1200.1 443.8h0M1192.6 461.9h0"/><path class="o" stroke-width="7" d="M1212.9 462.8h0M1190.6 446.6h0M1178.4 422.8h0M1230.1 456.6h0M1180.9 449.1h0M1177.1 461.7h0M1238.9 429.6h0M1213.6 457.1h0"/><path class="o" stroke-width="8" d="M1222.0 457.6h0M1199.6 444.6h0M1169.1 462.9h0M1219.8 433.3h0M1200.8 442.6h0M1219.9 454.7h0M1196.3 445.8h0M1186.6 453.8h0M1192.2 453.9h0"/><path class="o" stroke-width="9" d="M1176.8 447.9h0M1213.6 462.5h0M1230.8 456.3h0M1172.8 460.6h0"/><path class="b" stroke-width="6" d="M1234.1 460.3h0"/><path class="b" stroke-width="8" d="M1292.4 437.9h0M1190.7 436.9h0M1325.0 436.0h0"/><path class="lb" stroke-width="6" d="M1231.0 437.8h0"/><path class="lb" stroke-width="7" d="M1227.1 440.3h0"/><path class="lb" stroke-width="8" d="M1195.4 446.1h0M1268.7 490.0h0"/><path class="lb" stroke-width="9" d="M1305.3 447.1h0"/><path class="lb" stroke-width="10" d="M1271.8 431.5h0M1185.6 447.8h0"/><path class="lo" stroke-width="7" d="M1245.6 504.0h0"/><path class="lo" stroke-width="8" d="M1320.0 423.0h0"/><path class="lo" stroke-width="9" d="M1176.3 590.2h0"/><path class="o" stroke-width="4" d="M1237.5 420.2h0"/><path class="o" stroke-width="5" d="M1196.5 447.2h0M1228.2 464.3h0"/><path class="o" stroke-width="6" d="M1207.0 455.1h0M1209.4 454.0h0M1205.5 452.8h0M1215.6 437.7h0M1203.7 462.6h0M1180.2 453.7h0M1199.2 459.6h0M1198.7 453.9h0M1198.9 471.5h0"/><path class="o" stroke-width="7" d="M1180.0 460.3h0M1175.8 455.6h0M1179.8 463.4h0M1174.4 438.2h0M1230.8 470.0h0M1209.6 454.6h0M1193.4 450.8h0M1188.3 453.5h0"/><path class="o" stroke-width="8" d="M1183.1 436.8h0M1220.2 453.9h0M1179.7 457.0h0M1187.3 466.7h0"/><path class="o" stroke-width="9" d="M1205.2 447.0h0M1178.6 465.6h0M1175.8 446.6h0M1230.6 464.3h0M1221.2 446.5h0"/><polyline points="1168.5,449 1179.2,449.5 1190,449.9 1200.7,450.4 1211.5,450.8 1222.2,451.3 1233,451.7 1243.7,452.2 1254.4,452.6 1265.2,453.1 1275.9,453.6 1286.7,454 1297.4,454.5 1308.2,454.9 1318.9,455.4 1329.6,455.8 1340.4,456.3 1351.1,456.7 1361.9,457.2 1372.6,457.6 1383.3,458.1 1394.1,458.6 1404.8,459 1415.6,459.5 1426.3,459.9 1437.1,460.4 1447.8,460.8 1458.5,461.3 1469.3,461.7 1480,462.2 1490.8,462.6 1501.5,463.1 1512.3,463.6 1523,464 1533.7,464.5 1544.5,464.9 1555.2,465.4 1566,465.8 1576.7,466.3 1587.5,466.7 1598.2,467.2" fill="none" stroke="#1d4f7c" stroke-width="1.3"/><polyline points="1168.4,449.7 1175.9,454.3 1183.3,457 1190.8,458.9 1198.2,460.3 1205.7,461.5 1213.2,462.4 1220.6,463.3 1228.1,464 1235.5,464.7 1243,465.3 1250.5,465.9 1257.9,466.4 1265.4,466.8 1272.8,467.3 1280.3,467.7 1287.8,468.1 1295.2,468.4 1302.7,468.8 1310.1,469.1 1317.6,469.4 1325.1,469.7 1332.5,470 1340,470.2 1347.4,470.5 1354.9,470.7 1362.4,471 1369.8,471.2 1377.3,471.4 1384.7,471.6 1392.2,471.8 1399.7,472 1407.1,472.2 1414.6,472.4 1422,472.6 1429.5,472.8 1437,472.9 1444.4,473.1 1451.9,473.3 1459.3,473.4 1466.8,473.6 1474.3,473.7 1481.7,473.9 1489.2,474 1496.6,474.2 1504.1,474.3 1511.6,474.5 1519,474.6 1526.5,474.7 1533.9,474.8 1541.4,475 1548.9,475.1 1556.3,475.2 1563.8,475.3 1571.2,475.4 1578.7,475.6 1586.2,475.7 1593.6,475.8 1601.1,475.9 1608.5,476 1616,476.1" fill="none" stroke="#7a3510" stroke-width="1.3"/></g>
<line x1="1154.5" y1="462.7" x2="1614.3" y2="462.7" stroke="#b4b4b4" stroke-width="1.6" stroke-dasharray="3.2 3.1"/>
<rect x="1153.5" y="367.5" width="461.8" height="292.3" fill="none" stroke="#8c8c8c" stroke-width="1.35"/>
<line x1="1148.5" y1="370" x2="1153.5" y2="370" stroke="#8c8c8c" stroke-width="1.4"/>
<line x1="1148.5" y1="462.7" x2="1153.5" y2="462.7" stroke="#8c8c8c" stroke-width="1.4"/>
<line x1="1148.5" y1="555.1" x2="1153.5" y2="555.1" stroke="#8c8c8c" stroke-width="1.4"/>
<line x1="1148.5" y1="647.8" x2="1153.5" y2="647.8" stroke="#8c8c8c" stroke-width="1.4"/>
<line x1="1161.7" y1="659.8" x2="1161.7" y2="664.8" stroke="#8c8c8c" stroke-width="1.4"/>
<line x1="1262.4" y1="659.8" x2="1262.4" y2="664.8" stroke="#8c8c8c" stroke-width="1.4"/>
<line x1="1363.3" y1="659.8" x2="1363.3" y2="664.8" stroke="#8c8c8c" stroke-width="1.4"/>
<line x1="1463.7" y1="659.8" x2="1463.7" y2="664.8" stroke="#8c8c8c" stroke-width="1.4"/>
<line x1="1564.7" y1="659.8" x2="1564.7" y2="664.8" stroke="#8c8c8c" stroke-width="1.4"/>
<text transform="translate(1142.3,376.7) rotate(-90)" text-anchor="middle" font-size="14.0">0.5</text>
<text transform="translate(1142.3,462.7) rotate(-90)" text-anchor="middle" font-size="14.0">0</text>
<text transform="translate(1142.3,555.1) rotate(-90)" text-anchor="middle" font-size="14.0">-0.5</text>
<text transform="translate(1142.3,647.8) rotate(-90)" text-anchor="middle" font-size="14.0">-1.0</text>
<text x="1161.7" y="683.7" text-anchor="middle" font-size="14.0">0</text>
<text x="1262.4" y="683.7" text-anchor="middle" font-size="14.0">2</text>
<text x="1363.3" y="683.7" text-anchor="middle" font-size="14.0">4</text>
<text x="1463.7" y="683.7" text-anchor="middle" font-size="14.0">6</text>
<text x="1564.7" y="683.7" text-anchor="middle" font-size="14.0">8</text>
<text x="1406.4" y="703" text-anchor="middle" font-size="13.9">Organic C input (Mg C ha<tspan font-size="8.5" dy="-5.5">-1</tspan><tspan dy="5.5">)</tspan></text>
<text transform="translate(1122.8,509.5) rotate(-90)" text-anchor="middle" font-size="13.9">Change in yield (lnRR)</text>
<text x="1535.7" y="430.5" font-size="47">(g)</text>
<text x="1265.8" y="568" font-size="20.2" textLength="280.1" lengthAdjust="spacingAndGlyphs">SN: lnRR = -0.0339lnx + 0.0021</text>
<text x="1308.7" y="591.2" font-size="20.2" textLength="164.9" lengthAdjust="spacingAndGlyphs"><tspan font-style="italic">P</tspan> = 0.0037 n = 479</text>
<text x="1265.8" y="614.9" font-size="20.2" textLength="265.1" lengthAdjust="spacingAndGlyphs">AN: lnRR = -0.0115x + 0.0754</text>
<text x="1308.7" y="637.8" font-size="20.2" textLength="164.9" lengthAdjust="spacingAndGlyphs"><tspan font-style="italic">P</tspan> = 0.0338 n = 377</text>
<clipPath id="cph"><rect x="1693.5" y="376.2" width="461.8" height="292.3"/></clipPath>
<g clip-path="url(#cph)"><polygon points="1709.7,451 1724,451.8 1738.3,452.5 1752.6,453.2 1766.8,453.9 1781.1,454.5 1795.4,455.2 1809.7,455.7 1824,456.3 1838.3,456.8 1852.6,457.2 1866.9,457.6 1881.1,457.9 1895.4,458.2 1909.7,458.5 1924,458.7 1938.3,458.9 1952.6,459.1 1966.9,459.2 1981.1,459.4 1995.4,459.5 2009.7,459.6 2024,459.8 2038.3,459.9 2052.6,460 2066.9,460.1 2081.2,460.2 2095.4,460.3 2109.7,460.3 2124,460.4 2138.3,460.5 2138.3,483.7 2124,482.7 2109.7,481.7 2095.4,480.7 2081.2,479.7 2066.9,478.8 2052.6,477.8 2038.3,476.8 2024,475.9 2009.7,474.9 1995.4,473.9 1981.1,473 1966.9,472.1 1952.6,471.2 1938.3,470.3 1924,469.4 1909.7,468.6 1895.4,467.7 1881.1,467 1866.9,466.2 1852.6,465.5 1838.3,464.9 1824,464.3 1809.7,463.8 1795.4,463.3 1781.1,462.8 1766.8,462.4 1752.6,462 1738.3,461.6 1724,461.3 1709.7,461" fill="#4797d6" fill-opacity="1"/><path class="b" stroke-width="4" d="M1865.8 451.1h0"/><path class="b" stroke-width="5" d="M1776.4 458.6h0M1865.5 455.6h0M1864.9 442.2h0"/><path class="b" stroke-width="6" d="M1777.0 459.4h0M1775.8 465.1h0M1776.0 437.3h0M1775.1 442.0h0M1866.4 452.8h0M1887.9 452.5h0"/><path class="b" stroke-width="7" d="M1775.3 462.4h0M1795.6 438.9h0M1866.7 454.7h0M1899.7 466.3h0"/><path class="b" stroke-width="8" d="M1776.0 422.0h0M1801.5 453.9h0M1825.7 470.6h0"/><path class="b" stroke-width="9" d="M1762.1 467.2h0M1755.8 452.3h0M1758.4 472.8h0M1789.6 468.1h0M1812.3 457.5h0"/><path class="b" stroke-width="10" d="M1791.8 444.4h0M1789.3 469.3h0"/><path class="lb" stroke-width="6" d="M1710.0 404.8h0"/><path class="lb" stroke-width="8" d="M1917.8 490.0h0"/><path class="lo" stroke-width="6" d="M1787.0 540.0h0M1793.0 587.0h0"/><path class="o" stroke-width="5" d="M1765.2 433.6h0M1830.0 467.4h0M1853.9 476.4h0M1878.2 460.9h0M2003.6 482.2h0M2033.3 472.4h0"/><path class="o" stroke-width="6" d="M1722.2 485.4h0M1765.4 474.7h0M1766.3 466.4h0M1767.7 455.0h0M1765.9 465.6h0M1766.0 462.2h0M1794.1 453.5h0M1794.4 460.3h0M1795.3 466.3h0M1854.3 486.1h0M1740.3 458.4h0"/><path class="o" stroke-width="7" d="M1878.3 444.3h0M1929.4 483.6h0"/><path class="o" stroke-width="8" d="M1856.9 453.9h0"/><path class="b" stroke-width="5" d="M1865.7 451.3h0"/><path class="b" stroke-width="6" d="M1777.3 441.0h0M1830.5 444.1h0M1828.5 470.2h0M1887.9 457.6h0M1889.5 457.7h0M1887.1 445.7h0M1879.8 456.8h0"/><path class="b" stroke-width="7" d="M1757.5 467.4h0M1776.0 446.8h0M1802.3 461.0h0M1852.8 451.8h0"/><path class="b" stroke-width="8" d="M1854.6 456.6h0"/><path class="b" stroke-width="9" d="M1754.5 458.0h0M1793.1 441.2h0M1826.8 468.8h0M1774.5 460.3h0"/><path class="b" stroke-width="10" d="M1753.5 463.7h0"/><path class="do" stroke-width="7" d="M1868.4 469.9h0"/><path class="lb" stroke-width="7" d="M1917.8 454.6h0"/><path class="lb" stroke-width="8" d="M1917.4 465.1h0M1917.8 500.0h0"/><path class="lo" stroke-width="6" d="M1820.7 501.3h0M1755.1 494.0h0M1815.0 543.0h0"/><path class="lo" stroke-width="7" d="M1832.2 518.3h0"/><path class="lo" stroke-width="8" d="M2125.0 480.0h0"/><path class="lo" stroke-width="9" d="M1707.7 442.6h0"/><path class="o" stroke-width="5" d="M1765.6 461.1h0M1854.0 483.6h0M1853.8 478.0h0M1877.7 434.5h0M1876.4 436.2h0"/><path class="o" stroke-width="6" d="M1796.3 453.6h0M1829.2 466.4h0M1877.7 452.8h0M1817.2 447.3h0M1983.5 448.2h0M2031.5 480.7h0"/><path class="o" stroke-width="7" d="M1722.1 489.2h0M1829.6 471.1h0M1876.3 454.7h0M1875.8 450.2h0M1929.3 465.5h0M1984.9 457.3h0"/><path class="o" stroke-width="8" d="M1800.9 460.1h0"/><path class="b" stroke-width="5" d="M1775.3 456.2h0M1864.5 444.6h0"/><path class="b" stroke-width="6" d="M1776.1 480.8h0M1812.5 465.3h0M1888.1 448.5h0M1888.5 459.4h0"/><path class="b" stroke-width="7" d="M1801.9 455.4h0M1799.0 464.7h0M1799.3 457.5h0M1810.7 459.7h0M1800.2 463.5h0"/><path class="b" stroke-width="8" d="M1760.7 463.1h0M1792.1 464.5h0M1830.5 467.5h0M1788.6 459.0h0"/><path class="b" stroke-width="9" d="M1762.5 464.7h0M1796.8 463.9h0M1792.6 427.8h0M1810.2 471.5h0M1830.1 469.2h0"/><path class="b" stroke-width="10" d="M1793.9 445.2h0M1891.2 457.2h0"/><path class="do" stroke-width="6" d="M1869.1 473.1h0"/><path class="lb" stroke-width="6" d="M1917.3 467.6h0M1917.8 460.7h0M2138.3 477.0h0"/><path class="lb" stroke-width="8" d="M1718.5 444.7h0"/><path class="lb" stroke-width="10" d="M2138.3 453.4h0"/><path class="lo" stroke-width="5" d="M1784.4 507.6h0"/><path class="lo" stroke-width="6" d="M1845.9 511.7h0"/><path class="lo" stroke-width="7" d="M1740.0 492.6h0"/><path class="lo" stroke-width="8" d="M1709.6 484.3h0"/><path class="o" stroke-width="4" d="M1828.4 470.0h0"/><path class="o" stroke-width="5" d="M1766.6 457.2h0"/><path class="o" stroke-width="6" d="M1766.7 476.5h0M1794.8 438.8h0M1807.8 457.5h0M1983.3 457.6h0"/><path class="o" stroke-width="7" d="M1795.0 452.8h0M1795.6 471.7h0M1783.6 455.2h0M1821.1 444.9h0M1845.2 450.5h0"/><path class="b" stroke-width="5" d="M1828.0 453.3h0M1828.5 463.8h0"/><path class="b" stroke-width="6" d="M1829.1 459.3h0M1829.4 468.4h0M1891.5 453.1h0"/><path class="b" stroke-width="7" d="M1759.2 461.8h0M1789.1 448.3h0M1813.5 465.9h0M1833.4 471.9h0M1829.4 454.8h0M1865.0 452.9h0"/><path class="b" stroke-width="8" d="M1789.7 449.9h0M1883.1 451.8h0"/><path class="b" stroke-width="9" d="M1750.5 452.8h0M1748.5 474.7h0M1799.1 441.4h0"/><path class="b" stroke-width="10" d="M1792.3 445.8h0M1828.3 457.9h0"/><path class="lb" stroke-width="6" d="M1810.0 388.0h0M1754.0 540.0h0"/><path class="lb" stroke-width="8" d="M1801.0 386.0h0"/><path class="lb" stroke-width="14" d="M1874.6 506.7h0"/><path class="lo" stroke-width="5" d="M1778.6 496.7h0"/><path class="lo" stroke-width="6" d="M1757.6 525.8h0M1792.0 656.0h0"/><path class="lo" stroke-width="16" d="M1852.5 447.0h0"/><path class="o" stroke-width="4" d="M1831.1 476.6h0"/><path class="o" stroke-width="5" d="M1765.3 456.2h0M1766.8 466.5h0M1795.2 464.3h0M1802.0 473.4h0M1876.6 433.6h0M1877.7 448.3h0M1877.0 455.3h0M1928.1 470.9h0M2003.6 482.6h0M2032.3 496.0h0"/><path class="o" stroke-width="6" d="M1722.2 495.7h0M1766.6 456.9h0M1794.7 450.9h0M1794.0 467.3h0M1853.7 481.2h0M1887.8 458.5h0M2032.4 472.4h0"/><path class="o" stroke-width="7" d="M1793.8 467.0h0M1877.2 433.2h0M1982.3 454.3h0M2032.3 465.7h0"/><path class="o" stroke-width="8" d="M1886.1 457.7h0"/><path class="b" stroke-width="4" d="M1865.6 443.7h0M1889.3 456.4h0"/><path class="b" stroke-width="5" d="M1866.0 454.2h0M1888.0 442.7h0M1887.4 452.4h0"/><path class="b" stroke-width="6" d="M1764.9 466.0h0M1829.0 480.4h0"/><path class="b" stroke-width="7" d="M1748.9 466.2h0M1800.1 471.0h0M1790.8 452.5h0M1811.2 454.2h0M1767.1 449.9h0M1829.7 457.5h0"/><path class="b" stroke-width="9" d="M1800.6 432.4h0M1830.1 453.7h0"/><path class="b" stroke-width="10" d="M1802.1 422.7h0M1764.0 458.5h0"/><path class="do" stroke-width="7" d="M1867.2 469.4h0"/><path class="lb" stroke-width="6" d="M2138.3 467.0h0"/><path class="lo" stroke-width="6" d="M1932.7 513.0h0"/><path class="lo" stroke-width="8" d="M1707.3 455.0h0"/><path class="lo" stroke-width="18" d="M1848.0 451.3h0"/><path class="o" stroke-width="5" d="M1721.6 468.1h0M1721.7 487.1h0M1876.4 439.6h0M1877.1 453.7h0M1984.8 448.4h0M2032.9 479.7h0"/><path class="o" stroke-width="6" d="M1766.6 434.5h0M1829.1 461.3h0M1856.3 474.6h0M1875.5 448.8h0M1803.5 448.9h0"/><path class="o" stroke-width="7" d="M1722.2 494.4h0M1796.5 440.2h0M1818.7 460.9h0"/><path class="b" stroke-width="5" d="M1774.9 462.5h0M1775.3 459.4h0M1776.9 437.6h0M1866.4 452.4h0"/><path class="b" stroke-width="6" d="M1777.3 471.8h0M1867.0 440.4h0M1865.5 442.0h0"/><path class="b" stroke-width="7" d="M1762.4 462.1h0M1795.8 472.8h0M1827.2 459.1h0"/><path class="b" stroke-width="8" d="M1801.8 444.7h0M1795.3 448.8h0M1830.3 465.7h0"/><path class="b" stroke-width="9" d="M1757.1 467.7h0M1794.2 448.7h0M1811.9 461.9h0"/><path class="b" stroke-width="10" d="M1774.8 453.7h0"/><path class="lo" stroke-width="6" d="M1762.5 505.6h0M1821.2 498.0h0M1744.8 510.4h0M1844.0 630.0h0"/><path class="lo" stroke-width="12" d="M1814.8 444.7h0"/><path class="o" stroke-width="4" d="M1801.4 471.7h0"/><path class="o" stroke-width="5" d="M1801.5 469.0h0M1830.0 463.4h0M1856.3 491.2h0M1874.8 464.8h0M1877.8 434.0h0M1983.1 457.4h0M1983.2 447.5h0"/><path class="o" stroke-width="6" d="M1722.6 473.9h0M1766.7 457.4h0M1767.2 446.4h0M1801.9 475.6h0M1830.5 477.4h0M1855.4 480.0h0M1855.5 487.1h0M2003.4 484.1h0M2031.5 480.3h0"/><path class="o" stroke-width="7" d="M1794.4 452.7h0M1802.2 472.3h0M1836.1 453.1h0"/><path class="o" stroke-width="8" d="M1771.3 463.7h0"/><path class="o" stroke-width="9" d="M1759.6 464.3h0"/><path class="b" stroke-width="4" d="M1866.0 453.3h0"/><path class="b" stroke-width="5" d="M1828.9 450.5h0"/><path class="b" stroke-width="6" d="M1830.4 470.1h0M1826.3 466.7h0M1888.1 448.0h0"/><path class="b" stroke-width="7" d="M1799.9 466.0h0M1830.8 469.3h0"/><path class="b" stroke-width="8" d="M1811.8 462.7h0"/><path class="b" stroke-width="9" d="M1797.1 459.3h0M1813.8 472.7h0M1828.4 462.2h0M1893.6 450.9h0"/><path class="b" stroke-width="10" d="M1757.5 448.1h0"/><path class="db" stroke-width="10" d="M1812.5 458.0h0"/><path class="do" stroke-width="10" d="M1770.5 473.5h0"/><path class="lb" stroke-width="6" d="M1917.9 470.4h0"/><path class="lo" stroke-width="5" d="M1764.8 516.0h0M1801.3 515.9h0"/><path class="lo" stroke-width="6" d="M1865.2 503.2h0M1790.0 552.0h0M1827.0 600.0h0"/><path class="lo" stroke-width="7" d="M1707.1 443.8h0"/><path class="o" stroke-width="4" d="M2032.5 488.6h0"/><path class="o" stroke-width="5" d="M1794.9 448.8h0M1876.7 454.6h0M2004.2 482.0h0"/><path class="o" stroke-width="6" d="M1722.8 498.6h0M1766.6 475.1h0M1767.0 437.1h0M1795.8 473.4h0M1855.2 481.9h0M1877.6 468.1h0M1985.0 453.1h0M2003.1 482.0h0M2032.5 493.4h0"/><path class="o" stroke-width="7" d="M1794.2 452.7h0M1830.9 467.3h0M1877.6 465.1h0M1929.0 460.7h0M1796.4 461.2h0M1984.4 445.1h0M2003.0 480.2h0"/><path class="o" stroke-width="8" d="M1755.7 459.4h0"/><path class="o" stroke-width="9" d="M1805.7 457.1h0"/><path class="o" stroke-width="10" d="M1795.0 458.0h0"/><path class="b" stroke-width="5" d="M1776.5 466.0h0M1777.6 452.6h0M1866.0 440.4h0"/><path class="b" stroke-width="6" d="M1760.9 451.1h0M1776.3 464.7h0M1774.9 434.2h0M1812.7 470.2h0M1811.0 469.4h0M1830.0 450.5h0"/><path class="b" stroke-width="7" d="M1755.6 473.4h0M1803.8 477.2h0M1793.3 461.6h0"/><path class="b" stroke-width="8" d="M1760.4 462.9h0M1810.8 471.1h0M1829.4 462.4h0M1845.8 453.6h0"/><path class="b" stroke-width="9" d="M1754.3 455.2h0M1832.0 461.6h0M1828.2 463.2h0"/><path class="b" stroke-width="10" d="M1797.9 465.2h0M1829.5 459.0h0M1896.2 454.5h0"/><path class="b" stroke-width="12" d="M1865.8 507.8h0"/><path class="do" stroke-width="5" d="M1868.3 473.5h0"/><path class="do" stroke-width="7" d="M1866.7 472.6h0"/><path class="lb" stroke-width="18" d="M1759.4 495.6h0"/><path class="lo" stroke-width="6" d="M1708.3 490.6h0M1780.9 502.2h0M1780.0 521.0h0"/><path class="lo" stroke-width="8" d="M1709.0 448.8h0"/><path class="o" stroke-width="4" d="M1793.9 462.3h0"/><path class="o" stroke-width="5" d="M1766.1 467.7h0M1802.6 476.1h0M1853.8 483.0h0M1877.6 456.7h0M1930.3 467.5h0"/><path class="o" stroke-width="6" d="M1765.3 472.6h0M1765.5 469.1h0M1795.5 450.2h0M1800.5 465.8h0M1877.3 450.1h0M1878.6 446.1h0M1929.3 476.6h0M1983.1 456.4h0"/><path class="o" stroke-width="7" d="M1722.4 481.4h0M1830.0 474.5h0M1877.9 451.5h0M1765.1 468.9h0"/><path class="o" stroke-width="9" d="M1848.8 464.7h0"/><path class="b" stroke-width="4" d="M1774.5 441.0h0"/><path class="b" stroke-width="6" d="M1763.9 461.3h0M1888.5 456.4h0"/><path class="b" stroke-width="7" d="M1797.1 463.6h0M1790.9 460.0h0M1866.7 449.2h0M1894.0 457.6h0M1862.5 447.9h0M1793.4 452.2h0"/><path class="b" stroke-width="8" d="M1710.0 434.7h0M1811.2 461.5h0M1813.9 472.1h0M1776.9 444.9h0"/><path class="b" stroke-width="9" d="M1813.6 466.1h0"/><path class="b" stroke-width="10" d="M1748.2 480.7h0M1751.8 459.7h0M1792.2 467.0h0M1826.9 463.7h0"/><path class="lb" stroke-width="6" d="M1710.0 415.3h0M1726.0 426.4h0"/><path class="lb" stroke-width="8" d="M1718.5 396.0h0M1918.7 456.5h0"/><path class="lo" stroke-width="5" d="M1867.7 526.3h0"/><path class="lo" stroke-width="6" d="M1801.5 490.5h0M1983.8 568.0h0M1805.0 572.0h0M1825.0 580.0h0M1825.0 633.0h0"/><path class="o" stroke-width="4" d="M1767.0 455.3h0M1983.4 459.5h0"/><path class="o" stroke-width="5" d="M1764.8 454.6h0M1793.5 454.8h0M1793.7 457.9h0M1830.5 475.8h0"/><path class="o" stroke-width="6" d="M1765.7 478.9h0M1794.9 448.0h0M1793.9 455.3h0M1854.3 484.7h0M1877.5 458.0h0M2003.3 483.1h0"/><path class="o" stroke-width="7" d="M1794.8 460.8h0M1796.8 439.8h0M1794.5 456.9h0M1876.7 447.6h0"/><path class="o" stroke-width="8" d="M1772.9 464.1h0M1804.4 444.9h0"/><path class="b" stroke-width="4" d="M1888.1 456.4h0"/><path class="b" stroke-width="5" d="M1828.8 464.4h0"/><path class="b" stroke-width="6" d="M1798.9 425.7h0M1831.3 474.0h0"/><path class="b" stroke-width="7" d="M1775.6 452.2h0M1832.0 453.8h0M1829.7 442.9h0M1842.2 455.4h0M1885.5 443.1h0"/><path class="b" stroke-width="8" d="M1795.6 460.0h0M1790.0 444.3h0M1747.2 462.7h0"/><path class="b" stroke-width="9" d="M1858.9 454.1h0M1896.6 468.3h0M1786.7 455.5h0M1826.8 459.7h0"/><path class="b" stroke-width="10" d="M1757.5 468.5h0M1760.3 476.7h0M1750.2 460.0h0"/><path class="lo" stroke-width="6" d="M1817.0 592.0h0M1810.0 632.0h0M1828.0 594.0h0"/><path class="lo" stroke-width="7" d="M1707.8 446.6h0"/><path class="o" stroke-width="5" d="M1722.9 479.5h0M1764.2 454.1h0M1793.8 453.6h0M1794.7 456.8h0M1794.8 464.4h0M1830.5 462.4h0M1878.2 464.6h0M1877.1 459.1h0M1927.9 474.2h0"/><path class="o" stroke-width="6" d="M1765.5 455.3h0M1831.6 462.5h0M1876.9 455.8h0M1877.0 460.9h0M1929.8 477.9h0M1786.5 456.2h0"/><path class="o" stroke-width="7" d="M1767.4 460.8h0M1766.2 439.2h0M1877.9 454.8h0M1929.8 455.8h0M1839.4 451.6h0"/><path class="o" stroke-width="9" d="M1791.5 470.5h0"/><path class="o" stroke-width="14" d="M1850.0 455.0h0"/><path class="b" stroke-width="5" d="M1865.3 447.2h0M1866.3 446.9h0M1887.9 457.8h0"/><path class="b" stroke-width="6" d="M1827.2 464.2h0M1828.6 456.8h0M1829.2 458.9h0M1887.4 443.3h0"/><path class="b" stroke-width="7" d="M1750.4 454.1h0M1795.3 446.6h0M1828.4 479.1h0"/><path class="b" stroke-width="8" d="M1758.2 466.3h0M1851.9 448.0h0"/><path class="b" stroke-width="9" d="M1803.2 443.4h0M1792.6 471.0h0M1797.7 462.0h0M1774.9 456.3h0M1894.2 449.9h0"/><path class="b" stroke-width="10" d="M1813.9 462.5h0"/><path class="do" stroke-width="8" d="M1726.0 465.7h0"/><path class="lb" stroke-width="6" d="M1917.7 462.6h0M1826.0 652.0h0"/><path class="lo" stroke-width="5" d="M1778.6 497.3h0"/><path class="lo" stroke-width="6" d="M1708.7 482.4h0M1843.0 575.0h0"/><path class="lo" stroke-width="10" d="M1769.4 410.3h0"/><path class="o" stroke-width="4" d="M1929.9 467.8h0M1984.0 448.3h0"/><path class="o" stroke-width="5" d="M1767.0 444.9h0M1855.5 478.3h0M1876.9 450.9h0M1931.4 470.9h0M1929.1 462.5h0M1982.0 452.5h0"/><path class="o" stroke-width="6" d="M1721.7 492.3h0M1766.7 458.9h0M1764.5 465.6h0M1855.9 474.9h0M1877.6 437.1h0M1876.6 457.3h0M1928.1 462.0h0M2033.1 481.2h0"/><path class="o" stroke-width="7" d="M1766.9 452.7h0M1794.8 472.7h0M1794.8 451.4h0M1895.4 453.2h0M2001.7 484.0h0"/><path class="o" stroke-width="8" d="M1880.6 447.4h0M1787.4 453.6h0"/><path class="b" stroke-width="5" d="M1866.9 460.3h0M1865.9 452.5h0M1888.6 451.9h0"/><path class="b" stroke-width="6" d="M1758.4 468.7h0M1775.2 456.9h0M1828.9 481.8h0M1864.8 447.1h0M1887.2 451.5h0"/><path class="b" stroke-width="7" d="M1758.5 471.3h0M1828.7 453.4h0M1887.3 464.9h0M1765.4 448.9h0M1803.9 453.7h0M1791.5 455.4h0M1797.1 454.4h0"/><path class="b" stroke-width="8" d="M1789.5 453.8h0M1860.6 456.7h0M1879.4 455.2h0"/><path class="b" stroke-width="9" d="M1756.4 453.0h0M1800.5 446.3h0M1797.0 464.3h0M1801.2 444.7h0M1856.1 454.8h0M1740.5 463.2h0"/><path class="b" stroke-width="10" d="M1801.6 455.3h0"/><path class="db" stroke-width="10" d="M1801.0 391.5h0"/><path class="do" stroke-width="5" d="M1868.3 471.6h0"/><path class="lb" stroke-width="6" d="M1810.0 401.0h0"/><path class="lb" stroke-width="8" d="M1889.0 494.5h0"/><path class="lo" stroke-width="5" d="M1817.3 517.2h0"/><path class="lo" stroke-width="6" d="M1756.7 508.7h0M1983.8 547.0h0"/><path class="lo" stroke-width="7" d="M1707.6 450.6h0M1738.9 517.6h0"/><path class="lo" stroke-width="8" d="M1707.5 487.6h0"/><path class="o" stroke-width="5" d="M1721.9 488.9h0M1766.5 452.0h0M1766.7 464.7h0M1796.3 464.6h0M2032.5 478.6h0"/><path class="o" stroke-width="6" d="M1721.7 482.7h0M1766.2 469.6h0M1766.8 463.6h0M1829.8 464.6h0M1878.3 428.8h0M1877.2 449.3h0M1929.0 476.9h0M1985.4 445.7h0"/><path class="o" stroke-width="7" d="M1723.2 490.5h0M1801.1 470.8h0M1890.3 464.7h0M1790.2 467.8h0M1858.5 456.6h0"/><path class="o" stroke-width="8" d="M1752.9 443.8h0M1896.7 451.0h0"/><path class="o" stroke-width="9" d="M1836.8 453.2h0M1784.3 467.9h0"/><polyline points="1709.7,456 2138.3,472.1" fill="none" stroke="#1d4f7c" stroke-width="1.3"/></g>
<line x1="1694.5" y1="471.4" x2="2154.3" y2="471.4" stroke="#b4b4b4" stroke-width="1.6" stroke-dasharray="3.2 3.1"/>
<rect x="1693.5" y="376.2" width="461.8" height="292.3" fill="none" stroke="#8c8c8c" stroke-width="1.35"/>
<line x1="1688.5" y1="378.7" x2="1693.5" y2="378.7" stroke="#8c8c8c" stroke-width="1.4"/>
<line x1="1688.5" y1="471.4" x2="1693.5" y2="471.4" stroke="#8c8c8c" stroke-width="1.4"/>
<line x1="1688.5" y1="563.8" x2="1693.5" y2="563.8" stroke="#8c8c8c" stroke-width="1.4"/>
<line x1="1688.5" y1="656.5" x2="1693.5" y2="656.5" stroke="#8c8c8c" stroke-width="1.4"/>
<line x1="1780.7" y1="668.5" x2="1780.7" y2="673.5" stroke="#8c8c8c" stroke-width="1.4"/>
<line x1="1886.1" y1="668.5" x2="1886.1" y2="673.5" stroke="#8c8c8c" stroke-width="1.4"/>
<line x1="1990.8" y1="668.5" x2="1990.8" y2="673.5" stroke="#8c8c8c" stroke-width="1.4"/>
<line x1="2095.5" y1="668.5" x2="2095.5" y2="673.5" stroke="#8c8c8c" stroke-width="1.4"/>
<text transform="translate(1684.3,385.4) rotate(-90)" text-anchor="middle" font-size="14.0">0.5</text>
<text transform="translate(1684.3,471.4) rotate(-90)" text-anchor="middle" font-size="14.0">0</text>
<text transform="translate(1684.3,563.8) rotate(-90)" text-anchor="middle" font-size="14.0">-0.5</text>
<text transform="translate(1684.3,656.5) rotate(-90)" text-anchor="middle" font-size="14.0">-1.0</text>
<text x="1780.7" y="688.2" text-anchor="middle" font-size="14.0">10</text>
<text x="1886.1" y="688.2" text-anchor="middle" font-size="14.0">20</text>
<text x="1990.8" y="688.2" text-anchor="middle" font-size="14.0">30</text>
<text x="2095.5" y="688.2" text-anchor="middle" font-size="14.0">40</text>
<text x="1935.2" y="711.5" text-anchor="middle" font-size="13.9">Initial SOC (g C ha<tspan font-size="8.5" dy="-5.5">-1</tspan><tspan dy="5.5">)</tspan></text>
<text transform="translate(1662.8,514) rotate(-90)" text-anchor="middle" font-size="13.9">Change in yield (lnRR)</text>
<text x="2084.5" y="431.2" font-size="47">(h)</text>
<text x="1854.9" y="614.9" font-size="20.2" textLength="254.4" lengthAdjust="spacingAndGlyphs">AN: lnRR = -0.0021x + 0.086</text>
<text x="1898" y="637.8" font-size="20.2" textLength="164.7" lengthAdjust="spacingAndGlyphs"><tspan font-style="italic">P</tspan> = 0.0483 n = 370</text>
<clipPath id="cpi"><rect x="44.9" y="755" width="461.7" height="292.7"/></clipPath>
<g clip-path="url(#cpi)"><polygon points="61.1,920.8 73.7,920.3 86.3,919.8 98.9,919.2 111.5,918.6 124.1,917.8 136.7,917 149.3,916 161.9,914.8 174.5,913.4 187.1,911.8 199.7,910 212.3,907.9 224.9,905.7 237.5,903.3 250,900.7 262.6,898 275.2,895.3 287.8,892.4 300.4,889.5 313,886.6 325.6,883.6 338.2,880.5 350.8,877.5 363.4,874.4 376,871.3 388.6,868.2 401.2,865.1 413.8,861.9 426.4,858.8 439,855.6 439,916.6 426.4,917 413.8,917.4 401.2,917.9 388.6,918.3 376,918.8 363.4,919.2 350.8,919.7 338.2,920.2 325.6,920.8 313,921.4 300.4,922 287.8,922.6 275.2,923.4 262.6,924.2 250,925.1 237.5,926.1 224.9,927.3 212.3,928.6 199.7,930.1 187.1,931.8 174.5,933.8 161.9,936 149.3,938.4 136.7,941 124.1,943.7 111.5,946.5 98.9,949.5 86.3,952.5 73.7,955.5 61.1,958.6" fill="#f28a40" fill-opacity="1"/><path class="b" stroke-width="5" d="M92.2 895.9h0M92.7 904.8h0M121.1 915.1h0M118.8 917.4h0"/><path class="b" stroke-width="6" d="M60.9 929.2h0M90.5 815.1h0M131.9 901.3h0M167.6 884.6h0M169.3 883.5h0"/><path class="b" stroke-width="7" d="M91.4 808.4h0M91.1 900.0h0M132.8 919.5h0M133.4 865.1h0M223.7 907.8h0M223.3 940.0h0"/><path class="b" stroke-width="8" d="M220.9 912.4h0"/><path class="b" stroke-width="10" d="M338.9 872.1h0"/><path class="lb" stroke-width="6" d="M239.5 855.6h0"/><path class="lb" stroke-width="8" d="M323.9 976.7h0M446.0 902.0h0"/><path class="lb" stroke-width="9" d="M489.7 947.7h0"/><path class="lb" stroke-width="10" d="M338.9 928.1h0"/><path class="lo" stroke-width="6" d="M218.0 862.1h0"/><path class="lo" stroke-width="9" d="M99.4 964.1h0"/><path class="o" stroke-width="5" d="M103.5 940.1h0M431.7 896.7h0"/><path class="o" stroke-width="6" d="M73.4 949.8h0M147.0 917.2h0M174.3 941.5h0M214.2 929.9h0M351.2 917.1h0M378.6 926.8h0M433.3 890.2h0"/><path class="o" stroke-width="7" d="M147.6 918.3h0M190.1 925.4h0M197.8 949.8h0M239.4 852.4h0M355.0 914.1h0M349.7 901.9h0M375.1 908.8h0"/><path class="o" stroke-width="8" d="M345.2 924.4h0"/><path class="o" stroke-width="9" d="M194.9 942.2h0M198.6 931.8h0"/><path class="o" stroke-width="10" d="M189.5 915.4h0"/><path class="b" stroke-width="5" d="M91.5 833.9h0M92.9 808.9h0M92.3 888.4h0M91.8 907.4h0M132.0 843.3h0"/><path class="b" stroke-width="6" d="M91.5 836.5h0M91.5 846.8h0M89.7 895.3h0M133.0 908.2h0M132.8 884.2h0M133.5 884.9h0M169.1 871.6h0M222.6 912.5h0"/><path class="b" stroke-width="7" d="M131.1 841.9h0M133.0 870.5h0M215.9 934.6h0M212.5 926.4h0"/><path class="b" stroke-width="9" d="M217.6 930.9h0M215.0 926.2h0"/><path class="b" stroke-width="11" d="M224.6 938.9h0"/><path class="lb" stroke-width="6" d="M323.9 1036.5h0"/><path class="lb" stroke-width="7" d="M489.7 955.4h0"/><path class="lb" stroke-width="8" d="M239.1 874.6h0M446.6 901.8h0"/><path class="lb" stroke-width="10" d="M338.9 954.3h0"/><path class="lb" stroke-width="16" d="M91.7 777.4h0"/><path class="lb" stroke-width="22" d="M186.9 939.4h0"/><path class="lo" stroke-width="7" d="M98.7 968.8h0"/><path class="o" stroke-width="5" d="M130.4 916.8h0M239.6 848.0h0M430.6 874.5h0"/><path class="o" stroke-width="6" d="M60.4 925.4h0M173.8 921.7h0M191.9 924.1h0M199.1 920.6h0M197.4 937.5h0"/><path class="o" stroke-width="7" d="M187.8 934.1h0M194.1 931.0h0M213.5 927.8h0M239.3 862.3h0"/><path class="o" stroke-width="8" d="M209.4 935.3h0M358.2 925.9h0M347.5 936.2h0M345.5 941.8h0M350.8 926.0h0"/><path class="o" stroke-width="10" d="M191.4 932.2h0"/><path class="b" stroke-width="4" d="M91.0 793.5h0"/><path class="b" stroke-width="5" d="M91.2 835.5h0M92.1 902.9h0M118.2 932.7h0M119.3 927.0h0M133.6 899.5h0"/><path class="b" stroke-width="6" d="M90.9 860.3h0M90.5 861.8h0M91.5 844.0h0M92.0 905.2h0M120.1 922.0h0"/><path class="b" stroke-width="7" d="M92.0 811.8h0M118.7 928.7h0"/><path class="b" stroke-width="9" d="M220.2 930.5h0M213.8 926.6h0M207.5 902.5h0"/><path class="b" stroke-width="10" d="M214.5 921.6h0"/><path class="lb" stroke-width="6" d="M238.1 885.1h0"/><path class="lb" stroke-width="9" d="M445.7 907.2h0"/><path class="lb" stroke-width="18" d="M174.4 907.0h0"/><path class="o" stroke-width="5" d="M147.2 921.1h0M173.3 947.7h0M238.0 940.6h0"/><path class="o" stroke-width="6" d="M132.0 912.6h0M174.8 904.6h0M174.6 903.9h0"/><path class="o" stroke-width="7" d="M103.3 942.7h0M173.9 939.5h0M190.2 912.5h0M267.6 914.2h0M348.5 912.7h0M352.6 935.5h0M346.1 910.0h0M376.8 942.6h0M432.2 877.0h0"/><path class="o" stroke-width="8" d="M213.2 935.1h0"/><path class="b" stroke-width="5" d="M61.5 928.2h0M61.6 923.1h0M133.9 879.9h0"/><path class="b" stroke-width="6" d="M92.2 804.6h0M220.9 933.1h0"/><path class="b" stroke-width="7" d="M118.5 932.5h0M133.2 857.2h0"/><path class="b" stroke-width="8" d="M215.9 927.1h0"/><path class="b" stroke-width="9" d="M210.5 909.7h0M221.7 916.8h0M225.5 942.0h0"/><path class="b" stroke-width="10" d="M223.2 944.6h0"/><path class="b" stroke-width="11" d="M227.0 939.7h0"/><path class="b" stroke-width="12" d="M222.1 940.6h0"/><path class="lb" stroke-width="6" d="M489.4 955.2h0"/><path class="o" stroke-width="5" d="M61.5 928.0h0M61.2 937.7h0M74.2 946.9h0M75.8 947.5h0M238.8 863.4h0"/><path class="o" stroke-width="6" d="M74.5 955.9h0M103.3 941.9h0M189.7 905.0h0M377.9 927.3h0"/><path class="o" stroke-width="7" d="M193.5 918.9h0M239.3 881.8h0M241.2 945.0h0M345.3 899.6h0M347.7 927.3h0M374.0 926.1h0M378.6 927.7h0M374.5 940.9h0M433.1 891.7h0"/><path class="o" stroke-width="8" d="M213.8 928.1h0M377.7 930.2h0"/><path class="o" stroke-width="9" d="M189.5 936.5h0M206.5 928.6h0"/><path class="b" stroke-width="5" d="M91.1 807.0h0M91.3 826.1h0M91.4 905.8h0M119.5 944.2h0"/><path class="b" stroke-width="6" d="M91.7 841.4h0"/><path class="b" stroke-width="7" d="M90.8 902.8h0M224.0 916.0h0M221.2 913.1h0"/><path class="b" stroke-width="8" d="M208.4 919.4h0M207.4 925.6h0"/><path class="b" stroke-width="10" d="M353.8 872.1h0"/><path class="lb" stroke-width="7" d="M240.0 854.3h0"/><path class="lb" stroke-width="14" d="M119.6 889.5h0"/><path class="o" stroke-width="5" d="M132.8 915.2h0M132.6 926.9h0M148.1 922.3h0M174.9 928.2h0M238.9 879.8h0M239.9 946.2h0"/><path class="o" stroke-width="6" d="M90.5 965.9h0M174.9 914.0h0M173.7 917.0h0M207.6 944.3h0M297.1 893.7h0"/><path class="o" stroke-width="7" d="M210.3 934.9h0M213.4 927.4h0M434.1 908.2h0"/><path class="o" stroke-width="8" d="M212.1 938.5h0M349.6 899.7h0M376.6 923.4h0"/><path class="o" stroke-width="10" d="M194.9 924.4h0"/><path class="b" stroke-width="5" d="M92.1 881.6h0M120.2 927.2h0M117.9 932.4h0"/><path class="b" stroke-width="6" d="M133.2 947.0h0M169.3 863.5h0"/><path class="b" stroke-width="7" d="M91.6 842.2h0M133.3 864.8h0"/><path class="b" stroke-width="10" d="M175.7 834.7h0M223.6 912.0h0"/><path class="lb" stroke-width="6" d="M239.7 886.2h0M447.7 889.7h0"/><path class="o" stroke-width="4" d="M173.7 908.4h0M268.1 907.5h0"/><path class="o" stroke-width="5" d="M75.2 932.6h0M432.5 875.3h0M432.4 896.2h0"/><path class="o" stroke-width="6" d="M174.4 938.8h0M174.5 926.6h0M373.9 926.1h0"/><path class="o" stroke-width="7" d="M75.6 940.0h0M239.2 870.4h0"/><path class="o" stroke-width="8" d="M190.4 924.0h0M196.3 906.6h0"/><path class="b" stroke-width="5" d="M61.7 934.7h0M60.9 937.7h0M91.2 840.1h0M118.8 937.5h0M169.5 886.9h0"/><path class="b" stroke-width="6" d="M91.9 824.9h0M92.5 804.1h0M92.5 825.8h0M92.1 909.2h0M120.2 924.5h0M133.9 924.6h0M169.1 889.5h0M216.9 920.7h0"/><path class="b" stroke-width="7" d="M60.7 927.3h0M92.7 853.7h0M132.7 927.2h0"/><path class="b" stroke-width="9" d="M212.4 913.7h0"/><path class="b" stroke-width="10" d="M219.7 915.8h0M221.9 941.7h0"/><path class="lb" stroke-width="6" d="M147.0 826.0h0M119.6 1011.1h0"/><path class="lb" stroke-width="8" d="M480.6 925.2h0M482.0 934.0h0"/><path class="lb" stroke-width="20" d="M482.2 907.0h0"/><path class="lo" stroke-width="7" d="M97.3 973.3h0"/><path class="lo" stroke-width="8" d="M439.8 850.9h0"/><path class="o" stroke-width="5" d="M131.8 924.7h0"/><path class="o" stroke-width="6" d="M60.8 934.6h0M87.9 966.7h0M175.9 931.0h0M172.9 923.3h0M208.7 937.2h0M208.9 927.7h0M238.9 837.3h0M238.8 832.9h0M349.7 919.1h0M377.2 921.7h0M372.7 929.4h0"/><path class="o" stroke-width="7" d="M173.7 908.7h0M351.1 921.2h0M350.6 909.0h0"/><path class="o" stroke-width="8" d="M189.2 906.7h0M191.1 936.9h0M355.2 930.3h0"/><path class="b" stroke-width="4" d="M91.3 788.1h0"/><path class="b" stroke-width="5" d="M118.8 935.2h0M132.2 921.2h0"/><path class="b" stroke-width="6" d="M61.0 923.6h0M91.9 909.3h0M91.9 907.7h0M133.3 888.9h0M169.3 876.7h0"/><path class="b" stroke-width="7" d="M92.0 842.5h0M91.7 874.2h0M92.0 777.1h0M133.4 899.8h0M210.2 912.9h0"/><path class="b" stroke-width="8" d="M227.1 941.0h0"/><path class="b" stroke-width="9" d="M208.6 906.1h0"/><path class="lb" stroke-width="6" d="M482.7 930.9h0"/><path class="lb" stroke-width="8" d="M240.2 891.9h0M481.6 929.8h0"/><path class="lb" stroke-width="9" d="M488.9 949.4h0"/><path class="lb" stroke-width="10" d="M61.1 767.4h0"/><path class="lo" stroke-width="8" d="M100.6 964.1h0"/><path class="lo" stroke-width="9" d="M99.5 975.7h0"/><path class="lo" stroke-width="10" d="M296.5 857.1h0"/><path class="o" stroke-width="5" d="M74.0 949.8h0M130.4 905.4h0M173.8 948.3h0M239.5 940.6h0M295.8 889.9h0M432.8 877.6h0"/><path class="o" stroke-width="6" d="M174.1 910.4h0M207.0 931.6h0"/><path class="o" stroke-width="7" d="M105.9 945.7h0M174.7 928.5h0M239.2 867.2h0M349.8 900.5h0"/><path class="o" stroke-width="8" d="M375.7 927.5h0M374.6 919.4h0M374.9 915.3h0"/><path class="b" stroke-width="5" d="M92.0 798.9h0M92.3 851.3h0"/><path class="b" stroke-width="6" d="M91.7 858.6h0M93.0 830.6h0M90.5 815.8h0M91.3 825.4h0M119.6 925.9h0"/><path class="b" stroke-width="7" d="M90.6 797.5h0M92.4 779.6h0M118.9 924.0h0M120.0 925.2h0M132.8 897.0h0M212.7 917.3h0M223.3 917.8h0"/><path class="b" stroke-width="10" d="M227.6 943.4h0"/><path class="lb" stroke-width="6" d="M139.5 897.0h0M489.2 949.4h0"/><path class="lb" stroke-width="7" d="M238.8 892.2h0M449.2 906.3h0M482.0 935.1h0"/><path class="lb" stroke-width="14" d="M239.2 867.1h0"/><path class="lo" stroke-width="6" d="M296.5 755.4h0"/><path class="lo" stroke-width="8" d="M439.8 926.9h0"/><path class="o" stroke-width="5" d="M60.6 918.7h0M89.8 964.7h0M173.9 923.6h0"/><path class="o" stroke-width="6" d="M75.0 951.2h0M174.4 926.8h0M240.1 943.5h0M296.0 903.1h0"/><path class="o" stroke-width="7" d="M189.4 913.7h0M194.4 931.7h0M190.8 916.0h0M196.7 936.9h0M206.4 924.2h0M266.6 903.9h0M373.1 929.4h0M432.1 904.3h0"/><path class="o" stroke-width="8" d="M190.5 927.4h0"/><path class="b" stroke-width="4" d="M92.4 868.6h0M91.7 803.2h0"/><path class="b" stroke-width="5" d="M132.2 843.1h0M132.4 843.4h0M132.3 905.3h0M133.7 855.6h0"/><path class="b" stroke-width="6" d="M61.2 924.0h0M92.6 903.7h0M92.6 867.9h0M132.3 905.2h0"/><path class="b" stroke-width="7" d="M92.4 840.5h0M133.3 863.6h0M132.7 895.2h0M217.3 906.8h0"/><path class="b" stroke-width="8" d="M219.3 919.8h0M211.5 915.7h0"/><path class="b" stroke-width="9" d="M222.3 935.2h0"/><path class="b" stroke-width="10" d="M213.0 924.6h0M209.9 932.0h0M216.6 936.0h0"/><path class="b" stroke-width="11" d="M225.0 943.9h0"/><path class="b" stroke-width="12" d="M91.7 783.6h0"/><path class="lb" stroke-width="6" d="M239.4 871.0h0M240.0 870.6h0"/><path class="lb" stroke-width="8" d="M448.0 886.5h0"/><path class="lb" stroke-width="18" d="M482.2 887.0h0"/><path class="lo" stroke-width="6" d="M74.8 875.8h0"/><path class="o" stroke-width="4" d="M174.5 900.9h0"/><path class="o" stroke-width="5" d="M131.9 904.9h0M295.6 881.6h0"/><path class="o" stroke-width="6" d="M148.0 925.5h0"/><path class="o" stroke-width="7" d="M194.5 915.7h0M191.5 923.4h0M297.2 904.7h0M377.0 932.0h0"/><path class="o" stroke-width="8" d="M198.7 930.0h0M346.8 938.4h0"/><path class="b" stroke-width="5" d="M91.0 834.7h0M119.3 924.2h0M132.0 857.1h0M132.8 884.8h0"/><path class="b" stroke-width="7" d="M93.1 902.0h0M168.4 863.4h0M167.9 889.5h0"/><path class="b" stroke-width="8" d="M223.4 905.9h0M224.7 943.1h0"/><path class="b" stroke-width="10" d="M224.9 942.2h0"/><path class="b" stroke-width="12" d="M225.6 941.0h0"/><path class="lb" stroke-width="8" d="M147.0 812.3h0"/><path class="lb" stroke-width="10" d="M381.3 939.4h0"/><path class="lb" stroke-width="18" d="M219.3 903.2h0"/><path class="lo" stroke-width="6" d="M98.2 974.4h0"/><path class="o" stroke-width="5" d="M91.1 964.6h0"/><path class="o" stroke-width="6" d="M130.5 912.1h0M132.8 915.6h0M172.5 931.9h0M197.4 942.1h0M267.5 915.6h0"/><path class="o" stroke-width="7" d="M175.1 952.8h0M266.8 901.3h0M358.5 893.4h0M356.5 901.8h0"/><path class="o" stroke-width="8" d="M358.4 923.0h0M373.6 930.9h0M374.0 935.6h0"/><path class="o" stroke-width="9" d="M210.0 923.7h0"/><path class="b" stroke-width="5" d="M91.4 840.9h0M91.9 863.4h0M93.8 903.3h0M91.0 905.5h0M120.9 915.4h0M169.3 859.0h0"/><path class="b" stroke-width="6" d="M92.4 797.0h0M120.9 932.8h0M133.0 914.4h0M133.1 893.1h0M133.5 910.0h0"/><path class="b" stroke-width="7" d="M91.3 811.6h0M222.6 929.6h0M221.3 924.0h0"/><path class="b" stroke-width="8" d="M220.1 913.9h0"/><path class="b" stroke-width="9" d="M212.6 929.3h0M222.1 939.6h0"/><path class="lb" stroke-width="6" d="M184.4 793.6h0"/><path class="lb" stroke-width="7" d="M483.3 940.0h0"/><path class="lb" stroke-width="8" d="M239.3 876.0h0M353.8 854.6h0"/><path class="lb" stroke-width="12" d="M381.3 924.4h0"/><path class="o" stroke-width="4" d="M88.3 967.7h0"/><path class="o" stroke-width="5" d="M61.0 924.4h0M60.8 922.7h0M133.1 920.1h0M174.0 905.9h0M267.6 918.5h0"/><path class="o" stroke-width="6" d="M62.5 927.8h0M212.0 931.8h0M353.5 919.1h0"/><path class="o" stroke-width="7" d="M103.9 944.3h0M147.1 920.4h0M192.9 922.8h0M213.5 929.7h0M206.1 925.6h0M296.1 891.5h0"/><path class="o" stroke-width="8" d="M188.8 934.1h0M209.9 932.4h0"/><path class="o" stroke-width="10" d="M188.5 933.0h0"/><polyline points="61.1,939.7 439,886.1" fill="none" stroke="#7a3510" stroke-width="1.3"/></g>
<line x1="45.9" y1="951.3" x2="505.6" y2="951.3" stroke="#b4b4b4" stroke-width="1.6" stroke-dasharray="3.2 3.1"/>
<rect x="44.9" y="755" width="461.7" height="292.7" fill="none" stroke="#8c8c8c" stroke-width="1.35"/>
<line x1="39.9" y1="763.7" x2="44.9" y2="763.7" stroke="#8c8c8c" stroke-width="1.4"/>
<line x1="39.9" y1="826.5" x2="44.9" y2="826.5" stroke="#8c8c8c" stroke-width="1.4"/>
<line x1="39.9" y1="888.8" x2="44.9" y2="888.8" stroke="#8c8c8c" stroke-width="1.4"/>
<line x1="39.9" y1="951.3" x2="44.9" y2="951.3" stroke="#8c8c8c" stroke-width="1.4"/>
<line x1="39.9" y1="1014.1" x2="44.9" y2="1014.1" stroke="#8c8c8c" stroke-width="1.4"/>
<line x1="61.5" y1="1047.7" x2="61.5" y2="1052.7" stroke="#8c8c8c" stroke-width="1.4"/>
<line x1="132.6" y1="1047.7" x2="132.6" y2="1052.7" stroke="#8c8c8c" stroke-width="1.4"/>
<line x1="204.3" y1="1047.7" x2="204.3" y2="1052.7" stroke="#8c8c8c" stroke-width="1.4"/>
<line x1="275.4" y1="1047.7" x2="275.4" y2="1052.7" stroke="#8c8c8c" stroke-width="1.4"/>
<line x1="347.1" y1="1047.7" x2="347.1" y2="1052.7" stroke="#8c8c8c" stroke-width="1.4"/>
<line x1="418.1" y1="1047.7" x2="418.1" y2="1052.7" stroke="#8c8c8c" stroke-width="1.4"/>
<line x1="489.7" y1="1047.7" x2="489.7" y2="1052.7" stroke="#8c8c8c" stroke-width="1.4"/>
<text transform="translate(34.9,763.7) rotate(-90)" text-anchor="middle" font-size="14.0">3</text>
<text transform="translate(34.9,826.5) rotate(-90)" text-anchor="middle" font-size="14.0">2</text>
<text transform="translate(34.9,888.8) rotate(-90)" text-anchor="middle" font-size="14.0">1</text>
<text transform="translate(34.9,951.3) rotate(-90)" text-anchor="middle" font-size="14.0">0</text>
<text transform="translate(34.9,1014.1) rotate(-90)" text-anchor="middle" font-size="14.0">-1.0</text>
<text x="61.5" y="1070.6" text-anchor="middle" font-size="14.0">10</text>
<text x="132.6" y="1070.6" text-anchor="middle" font-size="14.0">20</text>
<text x="204.3" y="1070.6" text-anchor="middle" font-size="14.0">30</text>
<text x="275.4" y="1070.6" text-anchor="middle" font-size="14.0">40</text>
<text x="347.1" y="1070.6" text-anchor="middle" font-size="14.0">50</text>
<text x="418.1" y="1070.6" text-anchor="middle" font-size="14.0">60</text>
<text x="489.7" y="1070.6" text-anchor="middle" font-size="14.0">70</text>
<text x="299" y="1090.5" text-anchor="middle" font-size="13.9">Soil clay content (%)</text>
<text transform="translate(14.2,885.8) rotate(-90)" text-anchor="middle" font-size="13.9">Change in CH<tspan font-size="9" dy="3">4</tspan><tspan dy="-3"> emission (lnRR)</tspan></text>
<text x="451.7" y="828.8" font-size="47">(i)</text>
<text x="206.7" y="998.6" font-size="20.2" textLength="257.2" lengthAdjust="spacingAndGlyphs">SN: lnRR = 0.0157x + 0.0506</text>
<text x="249.8" y="1021.5" font-size="20.2" textLength="164.3" lengthAdjust="spacingAndGlyphs"><tspan font-style="italic">P</tspan> = 0.0247 n = 131</text>
<clipPath id="cpj"><rect x="592.8" y="760.4" width="462.5" height="292.8"/></clipPath>
<g clip-path="url(#cpj)"><path class="b" stroke-width="4" d="M728.3 867.5h0"/><path class="b" stroke-width="5" d="M730.6 787.1h0M836.1 868.1h0"/><path class="b" stroke-width="6" d="M763.2 832.5h0M853.7 911.4h0"/><path class="b" stroke-width="7" d="M763.3 824.7h0M907.9 938.9h0"/><path class="b" stroke-width="8" d="M749.1 905.2h0M936.0 921.6h0"/><path class="b" stroke-width="9" d="M850.9 947.3h0"/><path class="lb" stroke-width="6" d="M814.1 1042.8h0"/><path class="lb" stroke-width="7" d="M713.8 933.8h0M715.3 936.1h0"/><path class="o" stroke-width="5" d="M750.0 871.4h0M814.0 931.5h0M846.4 952.0h0M848.3 925.1h0"/><path class="o" stroke-width="6" d="M750.6 876.8h0M814.2 928.9h0M836.2 954.9h0M847.1 945.8h0M864.5 933.5h0"/><path class="o" stroke-width="7" d="M670.7 959.8h0M734.5 973.5h0M775.8 918.4h0M778.3 901.5h0"/><path class="o" stroke-width="8" d="M668.2 946.4h0M775.3 917.8h0M864.5 923.8h0"/><path class="o" stroke-width="9" d="M850.2 948.2h0"/><path class="o" stroke-width="10" d="M847.9 940.1h0"/><path class="b" stroke-width="5" d="M729.3 859.6h0M729.9 860.2h0M739.6 870.5h0M764.5 832.1h0M765.6 843.0h0M815.4 935.2h0"/><path class="b" stroke-width="6" d="M763.5 855.2h0M834.4 871.5h0M849.6 951.6h0M935.8 932.5h0M994.2 896.5h0"/><path class="b" stroke-width="7" d="M729.8 813.5h0M729.6 791.7h0M741.5 914.9h0M749.3 905.2h0M763.7 834.0h0M763.7 839.2h0"/><path class="b" stroke-width="8" d="M742.7 914.7h0"/><path class="b" stroke-width="9" d="M745.0 899.5h0M853.2 919.9h0M851.8 899.0h0M930.4 930.2h0"/><path class="lb" stroke-width="7" d="M713.9 933.2h0"/><path class="lb" stroke-width="9" d="M721.8 916.2h0M739.5 889.9h0M729.9 924.9h0"/><path class="o" stroke-width="5" d="M668.0 968.2h0M748.6 944.0h0M849.5 963.0h0M905.9 924.1h0"/><path class="o" stroke-width="6" d="M666.3 959.1h0M750.6 939.0h0"/><path class="o" stroke-width="7" d="M666.4 951.7h0M668.2 965.7h0M775.0 939.1h0M814.7 927.5h0M848.9 916.5h0M859.6 913.1h0M907.4 931.3h0"/><path class="o" stroke-width="8" d="M773.4 912.8h0M850.7 942.0h0M864.0 912.2h0"/><path class="o" stroke-width="9" d="M860.9 927.9h0M858.6 928.1h0"/><path class="o" stroke-width="10" d="M849.8 943.5h0"/><path class="b" stroke-width="4" d="M834.7 856.7h0"/><path class="b" stroke-width="5" d="M728.7 789.6h0M728.7 864.8h0M765.4 873.1h0M906.2 946.9h0"/><path class="b" stroke-width="6" d="M729.3 860.5h0M906.0 938.0h0M992.2 891.5h0"/><path class="b" stroke-width="7" d="M729.3 876.2h0M730.8 850.7h0M730.5 868.4h0M748.3 905.6h0M814.1 935.4h0M935.3 942.1h0M930.1 928.5h0"/><path class="b" stroke-width="8" d="M932.8 937.7h0"/><path class="b" stroke-width="10" d="M853.2 917.7h0"/><path class="lb" stroke-width="6" d="M739.4 769.9h0M731.7 885.2h0M731.5 931.2h0"/><path class="lb" stroke-width="8" d="M746.9 896.4h0"/><path class="lb" stroke-width="14" d="M932.5 894.5h0"/><path class="lb" stroke-width="22" d="M714.4 911.9h0"/><path class="lo" stroke-width="8" d="M627.2 826.0h0M734.4 909.4h0"/><path class="lo" stroke-width="10" d="M973.6 863.3h0"/><path class="o" stroke-width="5" d="M668.8 967.3h0M669.1 967.9h0M814.0 925.5h0M847.7 915.0h0"/><path class="o" stroke-width="6" d="M668.3 941.7h0M670.0 967.9h0M799.4 917.4h0M905.1 927.5h0"/><path class="o" stroke-width="7" d="M667.0 963.5h0M667.2 952.1h0M773.9 935.3h0M848.0 900.0h0M847.5 928.4h0M849.4 947.6h0M862.8 917.6h0M858.5 914.9h0"/><path class="o" stroke-width="8" d="M777.7 926.3h0M847.2 948.0h0"/><path class="o" stroke-width="10" d="M848.0 948.6h0M848.9 940.6h0"/><path class="b" stroke-width="5" d="M730.0 864.6h0M729.6 853.8h0M907.4 940.9h0M993.2 896.7h0"/><path class="b" stroke-width="6" d="M728.9 798.5h0M729.7 872.4h0M729.8 924.9h0M750.1 910.3h0M763.5 821.0h0M835.4 859.7h0M931.4 936.5h0"/><path class="b" stroke-width="7" d="M744.2 903.0h0"/><path class="b" stroke-width="8" d="M751.7 912.5h0M745.2 905.9h0"/><path class="b" stroke-width="9" d="M848.2 892.3h0M934.7 934.3h0"/><path class="b" stroke-width="10" d="M747.9 900.8h0M750.6 896.5h0"/><path class="lb" stroke-width="6" d="M740.4 893.6h0M744.0 932.7h0"/><path class="lb" stroke-width="8" d="M724.0 912.0h0"/><path class="lb" stroke-width="9" d="M747.0 894.7h0"/><path class="lb" stroke-width="10" d="M754.0 896.1h0"/><path class="lo" stroke-width="8" d="M786.7 941.8h0M786.7 971.7h0"/><path class="o" stroke-width="5" d="M749.5 948.9h0M748.7 941.9h0M835.5 945.4h0M905.0 928.8h0"/><path class="o" stroke-width="6" d="M671.6 947.6h0M734.6 945.3h0M779.0 936.0h0M800.2 911.1h0M799.2 934.9h0M813.5 935.6h0M813.6 945.8h0M906.4 924.1h0"/><path class="o" stroke-width="7" d="M666.9 954.0h0M668.1 950.4h0M733.5 949.3h0M776.0 928.4h0M776.9 910.6h0M847.3 916.2h0M860.9 920.0h0M858.2 914.2h0"/><path class="o" stroke-width="8" d="M862.2 934.7h0"/><path class="b" stroke-width="5" d="M729.0 881.3h0M728.7 869.3h0M729.4 876.4h0M730.2 855.5h0M765.1 839.7h0M764.3 825.4h0M835.6 870.3h0"/><path class="b" stroke-width="6" d="M728.4 882.6h0M729.2 870.1h0M836.2 864.2h0M848.6 903.7h0M907.5 939.8h0M992.8 877.3h0"/><path class="b" stroke-width="7" d="M730.1 795.5h0M739.7 853.1h0M763.7 849.7h0M765.0 846.8h0M814.8 938.4h0M994.0 906.0h0"/><path class="b" stroke-width="8" d="M749.9 902.9h0"/><path class="b" stroke-width="9" d="M741.4 914.9h0M751.8 911.6h0M753.3 900.9h0M931.8 929.2h0M929.8 944.2h0"/><path class="lb" stroke-width="8" d="M720.8 899.0h0M758.9 900.9h0"/><path class="lo" stroke-width="8" d="M721.9 859.6h0M973.6 759.9h0"/><path class="o" stroke-width="5" d="M711.1 949.8h0M711.9 949.6h0M847.8 946.0h0M943.3 958.4h0M941.2 936.0h0"/><path class="o" stroke-width="6" d="M666.2 940.2h0M735.7 948.3h0M800.7 924.5h0M814.4 925.9h0M836.0 947.5h0M846.9 929.6h0M848.4 961.4h0M847.0 939.2h0M863.0 915.7h0"/><path class="o" stroke-width="7" d="M667.5 937.1h0M711.2 948.2h0M734.3 971.8h0M778.1 935.8h0M851.4 941.0h0M864.8 923.1h0"/><path class="o" stroke-width="8" d="M775.7 934.2h0M773.3 920.1h0M845.0 934.8h0M859.2 920.7h0M864.9 926.0h0"/><path class="o" stroke-width="9" d="M775.8 939.7h0M845.6 944.9h0M859.8 928.3h0"/><path class="b" stroke-width="5" d="M814.0 917.2h0M814.5 933.6h0M813.5 942.0h0M813.9 940.9h0M835.4 866.8h0M907.9 937.5h0M994.6 887.7h0"/><path class="b" stroke-width="6" d="M730.9 868.2h0M730.4 880.3h0M739.5 862.7h0M738.8 915.0h0M749.3 905.3h0M750.5 913.3h0M834.3 862.8h0M834.5 857.9h0M936.1 933.6h0"/><path class="b" stroke-width="7" d="M728.9 924.9h0M815.6 942.9h0M848.5 915.4h0M930.5 942.9h0M930.2 929.0h0"/><path class="b" stroke-width="8" d="M744.2 908.8h0M752.9 902.6h0M747.0 913.8h0M851.7 904.6h0M934.7 929.6h0"/><path class="b" stroke-width="9" d="M934.4 928.9h0"/><path class="b" stroke-width="10" d="M931.4 929.6h0"/><path class="lb" stroke-width="6" d="M749.2 934.2h0"/><path class="lb" stroke-width="8" d="M776.7 877.1h0M739.1 921.6h0"/><path class="lb" stroke-width="10" d="M757.5 906.5h0"/><path class="lb" stroke-width="12" d="M833.3 905.8h0"/><path class="lb" stroke-width="15" d="M833.3 910.2h0"/><path class="lo" stroke-width="8" d="M627.2 832.2h0"/><path class="o" stroke-width="5" d="M712.0 951.8h0M747.7 857.5h0M749.8 875.1h0M749.2 952.7h0M800.5 919.6h0M800.0 918.8h0M847.4 928.6h0"/><path class="o" stroke-width="6" d="M671.4 935.5h0"/><path class="o" stroke-width="7" d="M734.7 946.2h0M749.6 857.5h0M774.8 897.2h0M847.7 903.4h0M844.4 947.5h0M847.5 941.8h0M851.4 944.4h0M861.9 927.4h0"/><path class="o" stroke-width="8" d="M775.5 935.0h0M858.1 907.1h0"/><path class="o" stroke-width="9" d="M847.9 941.8h0"/><path class="b" stroke-width="4" d="M994.3 920.8h0"/><path class="b" stroke-width="5" d="M729.9 779.4h0M730.3 870.7h0M813.0 921.8h0M835.4 863.9h0M836.7 855.8h0M908.5 933.1h0"/><path class="b" stroke-width="6" d="M727.7 791.7h0M729.2 864.4h0M738.9 858.4h0"/><path class="b" stroke-width="7" d="M729.1 782.5h0M735.9 914.2h0M739.8 914.7h0M753.5 896.6h0M853.4 924.9h0M907.6 935.7h0"/><path class="b" stroke-width="8" d="M929.0 935.2h0"/><path class="b" stroke-width="9" d="M741.5 914.4h0M933.6 948.9h0M935.7 932.6h0"/><path class="lb" stroke-width="6" d="M714.7 936.6h0M913.8 955.5h0"/><path class="lb" stroke-width="7" d="M759.4 895.8h0"/><path class="lb" stroke-width="8" d="M714.0 936.6h0M744.4 909.4h0M720.9 921.0h0"/><path class="lb" stroke-width="9" d="M720.6 892.6h0"/><path class="lb" stroke-width="10" d="M814.1 983.0h0"/><path class="lb" stroke-width="13" d="M834.2 909.3h0"/><path class="lb" stroke-width="14" d="M732.4 782.9h0"/><path class="o" stroke-width="5" d="M733.7 951.0h0M800.3 917.9h0M835.5 946.5h0M848.6 907.0h0M941.9 953.4h0"/><path class="o" stroke-width="6" d="M848.3 949.1h0M847.9 921.7h0M944.3 926.6h0"/><path class="o" stroke-width="7" d="M671.8 967.5h0M813.7 935.1h0M814.3 929.0h0M846.7 952.0h0M845.9 949.1h0M941.9 942.0h0"/><path class="o" stroke-width="8" d="M666.8 962.9h0M778.3 902.5h0"/><path class="o" stroke-width="9" d="M776.9 926.8h0"/><path class="b" stroke-width="5" d="M729.8 868.5h0M730.6 844.6h0M729.8 874.3h0M763.9 850.3h0M765.9 867.5h0M908.0 936.5h0"/><path class="b" stroke-width="7" d="M729.4 925.2h0M747.8 904.5h0"/><path class="b" stroke-width="8" d="M742.4 914.9h0M743.1 898.9h0M848.8 933.6h0"/><path class="b" stroke-width="9" d="M749.3 896.6h0M851.9 941.8h0"/><path class="b" stroke-width="10" d="M932.6 923.4h0"/><path class="lb" stroke-width="6" d="M741.5 911.7h0"/><path class="lb" stroke-width="8" d="M609.8 884.5h0"/><path class="lb" stroke-width="10" d="M621.0 874.6h0M883.9 899.5h0"/><path class="lb" stroke-width="18" d="M1038.1 928.7h0"/><path class="lb" stroke-width="19" d="M1037.8 945.4h0"/><path class="o" stroke-width="4" d="M836.9 951.5h0"/><path class="o" stroke-width="5" d="M748.5 940.4h0M848.1 910.5h0M849.2 926.5h0"/><path class="o" stroke-width="6" d="M713.1 948.2h0M735.1 950.0h0M748.6 861.1h0M774.9 942.4h0M774.5 923.8h0M847.3 872.8h0M864.6 924.2h0M858.4 922.4h0"/><path class="o" stroke-width="7" d="M670.0 958.3h0M667.1 965.4h0M776.5 949.0h0M801.8 933.2h0M847.4 949.6h0M863.3 911.7h0M859.6 926.1h0"/><path class="o" stroke-width="8" d="M777.1 934.7h0M774.1 934.8h0M858.4 920.8h0"/><path class="o" stroke-width="9" d="M848.3 930.9h0M850.8 946.8h0"/><path class="o" stroke-width="10" d="M844.9 932.9h0"/><path class="b" stroke-width="5" d="M728.9 805.6h0M728.8 863.6h0M739.1 857.2h0M813.7 926.5h0"/><path class="b" stroke-width="6" d="M729.1 789.3h0M728.4 785.3h0M729.0 858.0h0M728.5 862.6h0M739.1 865.6h0M765.4 857.4h0M929.9 932.4h0M993.4 872.7h0"/><path class="b" stroke-width="7" d="M907.2 947.7h0M907.1 934.8h0M933.2 928.0h0M933.3 933.1h0"/><path class="b" stroke-width="8" d="M747.5 902.1h0M930.9 935.8h0"/><path class="b" stroke-width="9" d="M752.9 910.2h0"/><path class="lb" stroke-width="8" d="M755.3 887.8h0"/><path class="lb" stroke-width="10" d="M621.0 953.1h0"/><path class="lb" stroke-width="17" d="M833.4 903.5h0"/><path class="lb" stroke-width="22" d="M1038.3 934.3h0"/><path class="lo" stroke-width="8" d="M721.9 832.2h0M800.4 877.1h0"/><path class="o" stroke-width="5" d="M812.5 929.8h0M837.3 948.7h0M848.4 956.8h0M942.7 941.6h0"/><path class="o" stroke-width="6" d="M667.4 934.9h0M668.1 961.3h0M712.7 948.9h0M735.0 946.1h0M749.5 848.3h0M774.8 904.8h0M813.7 936.3h0M941.4 956.4h0"/><path class="o" stroke-width="7" d="M667.2 945.2h0M735.3 968.6h0M777.9 919.7h0M776.2 912.1h0M846.9 948.7h0M847.8 934.8h0M862.6 908.3h0"/><path class="o" stroke-width="8" d="M667.3 944.2h0M775.3 921.5h0"/><path class="o" stroke-width="9" d="M858.8 924.3h0"/><path class="b" stroke-width="5" d="M729.9 802.9h0M729.6 926.7h0M765.6 839.6h0M765.0 868.3h0M814.1 935.1h0"/><path class="b" stroke-width="6" d="M739.5 913.1h0M814.5 917.4h0M847.8 922.4h0M992.9 896.9h0"/><path class="b" stroke-width="7" d="M729.2 855.5h0M729.3 864.3h0M766.4 859.3h0M906.7 936.2h0M931.8 939.7h0M933.4 940.4h0M931.1 926.0h0"/><path class="b" stroke-width="8" d="M848.1 937.0h0M929.8 923.8h0"/><path class="b" stroke-width="9" d="M744.3 911.1h0M752.0 908.3h0M854.0 907.1h0M852.2 934.0h0"/><path class="lb" stroke-width="6" d="M907.6 1016.6h0"/><path class="lb" stroke-width="7" d="M737.8 927.7h0"/><path class="lb" stroke-width="8" d="M806.6 914.4h0"/><path class="lb" stroke-width="9" d="M749.0 890.5h0"/><path class="lb" stroke-width="10" d="M749.2 913.0h0"/><path class="lb" stroke-width="20" d="M1037.2 935.3h0M1037.4 945.7h0"/><path class="lo" stroke-width="8" d="M627.2 787.3h0M627.2 883.3h0"/><path class="lo" stroke-width="10" d="M973.6 885.8h0"/><path class="o" stroke-width="5" d="M748.6 947.5h0M846.5 912.8h0"/><path class="o" stroke-width="6" d="M801.5 904.4h0"/><path class="o" stroke-width="7" d="M666.4 949.3h0M814.3 931.8h0M851.5 946.0h0M848.0 942.9h0M847.0 935.2h0M943.3 950.0h0"/><path class="o" stroke-width="8" d="M775.0 926.6h0"/><path class="o" stroke-width="9" d="M776.8 921.8h0M861.5 938.0h0"/><path class="o" stroke-width="10" d="M848.3 946.9h0"/><path class="b" stroke-width="5" d="M763.3 851.9h0M763.8 854.2h0M907.6 936.8h0M908.3 933.6h0M908.3 936.8h0"/><path class="b" stroke-width="6" d="M729.0 873.0h0M740.0 858.9h0M764.9 849.5h0M815.2 938.3h0M813.7 943.4h0M836.2 869.7h0M848.8 909.8h0"/><path class="b" stroke-width="7" d="M729.3 865.3h0M738.5 871.3h0M740.2 864.4h0M747.0 908.6h0M813.7 932.5h0M814.0 934.4h0M835.7 856.6h0M931.1 931.2h0M992.5 903.9h0"/><path class="b" stroke-width="8" d="M741.7 916.5h0M752.5 903.4h0"/><path class="b" stroke-width="9" d="M743.7 904.9h0"/><path class="b" stroke-width="10" d="M746.7 910.2h0"/><path class="lb" stroke-width="6" d="M751.0 896.0h0"/><path class="lb" stroke-width="7" d="M722.5 881.7h0"/><path class="lb" stroke-width="9" d="M741.4 881.7h0"/><path class="lb" stroke-width="10" d="M739.4 959.3h0M748.7 899.9h0M736.2 899.0h0"/><path class="lb" stroke-width="12" d="M751.8 971.7h0M824.1 892.5h0"/><path class="lb" stroke-width="13" d="M837.6 896.5h0"/><path class="lb" stroke-width="19" d="M1036.8 940.8h0"/><path class="o" stroke-width="5" d="M734.4 969.4h0M749.2 877.9h0M847.4 921.4h0M849.2 918.3h0M847.0 983.7h0"/><path class="o" stroke-width="6" d="M734.3 949.3h0M749.6 867.0h0M799.8 909.5h0M815.0 926.4h0M845.1 946.9h0M862.2 927.9h0"/><path class="o" stroke-width="7" d="M748.3 945.3h0M777.1 922.9h0M778.3 932.3h0M847.3 929.0h0"/><path class="o" stroke-width="8" d="M666.4 930.9h0M858.1 920.8h0M864.1 925.3h0"/><path class="o" stroke-width="9" d="M844.9 936.6h0M851.0 936.4h0"/><path class="b" stroke-width="4" d="M993.8 929.8h0"/><path class="b" stroke-width="5" d="M738.6 866.8h0M765.0 840.2h0M813.7 918.9h0M908.3 943.6h0M993.6 921.6h0"/><path class="b" stroke-width="6" d="M730.4 804.6h0M730.3 813.7h0M729.4 846.1h0M743.8 902.7h0M765.0 832.2h0"/><path class="b" stroke-width="7" d="M729.3 776.3h0M729.6 928.8h0M814.8 932.1h0M813.4 937.0h0M936.2 934.1h0M993.5 898.4h0"/><path class="b" stroke-width="8" d="M851.1 916.2h0"/><path class="b" stroke-width="9" d="M744.4 908.8h0M932.0 938.9h0M932.7 933.1h0"/><path class="b" stroke-width="10" d="M883.9 883.3h0"/><path class="b" stroke-width="12" d="M806.6 839.7h0"/><path class="lb" stroke-width="6" d="M806.6 798.6h0M723.7 933.1h0"/><path class="lb" stroke-width="8" d="M806.6 889.5h0M814.1 1002.9h0"/><path class="lb" stroke-width="9" d="M748.4 891.9h0"/><path class="lb" stroke-width="15" d="M832.8 896.0h0"/><path class="lb" stroke-width="16" d="M829.1 939.4h0"/><path class="lb" stroke-width="20" d="M714.4 892.0h0"/><path class="lo" stroke-width="10" d="M906.3 857.1h0"/><path class="o" stroke-width="5" d="M668.4 966.5h0M733.6 970.7h0M749.0 869.2h0M837.5 949.3h0"/><path class="o" stroke-width="6" d="M667.1 955.8h0M778.2 921.6h0M858.6 920.9h0M941.5 943.7h0M941.9 942.1h0"/><path class="o" stroke-width="7" d="M837.1 950.9h0M862.2 931.9h0M864.9 914.2h0"/><path class="o" stroke-width="8" d="M845.7 946.3h0"/><path class="o" stroke-width="9" d="M845.6 929.5h0M845.0 934.5h0"/><path class="o" stroke-width="10" d="M845.8 937.1h0"/></g>
<line x1="593.8" y1="956.8" x2="1054.3" y2="956.8" stroke="#b4b4b4" stroke-width="1.6" stroke-dasharray="3.2 3.1"/>
<rect x="592.8" y="760.4" width="462.5" height="292.8" fill="none" stroke="#8c8c8c" stroke-width="1.35"/>
<line x1="587.8" y1="769.2" x2="592.8" y2="769.2" stroke="#8c8c8c" stroke-width="1.4"/>
<line x1="587.8" y1="831.7" x2="592.8" y2="831.7" stroke="#8c8c8c" stroke-width="1.4"/>
<line x1="587.8" y1="894.5" x2="592.8" y2="894.5" stroke="#8c8c8c" stroke-width="1.4"/>
<line x1="587.8" y1="956.8" x2="592.8" y2="956.8" stroke="#8c8c8c" stroke-width="1.4"/>
<line x1="587.8" y1="1019.6" x2="592.8" y2="1019.6" stroke="#8c8c8c" stroke-width="1.4"/>
<line x1="609.8" y1="1053.2" x2="609.8" y2="1058.2" stroke="#8c8c8c" stroke-width="1.4"/>
<line x1="728.9" y1="1053.2" x2="728.9" y2="1058.2" stroke="#8c8c8c" stroke-width="1.4"/>
<line x1="848.2" y1="1053.2" x2="848.2" y2="1058.2" stroke="#8c8c8c" stroke-width="1.4"/>
<line x1="967.4" y1="1053.2" x2="967.4" y2="1058.2" stroke="#8c8c8c" stroke-width="1.4"/>
<text transform="translate(582.4,769.2) rotate(-90)" text-anchor="middle" font-size="14.0">3</text>
<text transform="translate(582.4,831.7) rotate(-90)" text-anchor="middle" font-size="14.0">2</text>
<text transform="translate(582.4,894.5) rotate(-90)" text-anchor="middle" font-size="14.0">1</text>
<text transform="translate(582.4,956.8) rotate(-90)" text-anchor="middle" font-size="14.0">0</text>
<text transform="translate(582.4,1019.6) rotate(-90)" text-anchor="middle" font-size="14.0">-1.0</text>
<text x="609.8" y="1073.2" text-anchor="middle" font-size="14.0">500</text>
<text x="728.9" y="1073.2" text-anchor="middle" font-size="14.0">1000</text>
<text x="848.2" y="1073.2" text-anchor="middle" font-size="14.0">1500</text>
<text x="967.4" y="1073.2" text-anchor="middle" font-size="14.0">2000</text>
<text x="824.8" y="1096.7" text-anchor="middle" font-size="13.9">MAP (mm)</text>
<text transform="translate(561.6,893.9) rotate(-90)" text-anchor="middle" font-size="13.9">Change in CH<tspan font-size="9" dy="3">4</tspan><tspan dy="-3"> emission (lnRR)</tspan></text>
<text x="994.2" y="828.8" font-size="47">(j)</text>
<clipPath id="cpk"><rect x="1151.8" y="759.4" width="461.5" height="292.8"/></clipPath>
<g clip-path="url(#cpk)"><path class="b" stroke-width="5" d="M1277.7 916.0h0M1320.3 911.1h0"/><path class="b" stroke-width="6" d="M1167.7 876.1h0M1305.7 848.1h0M1320.0 902.7h0M1320.4 839.3h0M1320.8 876.4h0M1337.1 917.7h0M1387.4 938.3h0"/><path class="b" stroke-width="7" d="M1319.9 861.0h0M1319.0 890.7h0M1321.7 876.1h0M1386.4 936.1h0M1414.9 935.2h0M1418.7 944.5h0M1413.6 937.0h0M1583.7 904.0h0M1595.3 906.7h0"/><path class="b" stroke-width="8" d="M1320.3 903.3h0M1337.8 919.3h0M1383.6 947.6h0"/><path class="b" stroke-width="9" d="M1411.7 942.9h0M1415.2 946.6h0M1413.5 921.2h0M1597.8 926.9h0"/><path class="lb" stroke-width="9" d="M1564.6 935.4h0"/><path class="lb" stroke-width="10" d="M1563.2 933.9h0"/><path class="lb" stroke-width="11" d="M1561.5 951.2h0M1559.8 937.5h0"/><path class="lb" stroke-width="14" d="M1561.4 939.9h0"/><path class="lb" stroke-width="15" d="M1561.0 925.2h0"/><path class="lo" stroke-width="6" d="M1594.9 954.6h0"/><path class="o" stroke-width="4" d="M1353.6 892.3h0"/><path class="o" stroke-width="6" d="M1369.6 929.8h0"/><path class="o" stroke-width="7" d="M1370.0 925.7h0M1560.2 946.1h0"/><path class="o" stroke-width="8" d="M1563.7 943.2h0M1561.9 942.5h0"/><path class="o" stroke-width="9" d="M1564.6 948.5h0"/><path class="b" stroke-width="5" d="M1277.5 904.2h0M1321.8 839.3h0"/><path class="b" stroke-width="6" d="M1167.9 868.8h0M1278.7 920.0h0M1305.0 928.6h0M1319.7 825.1h0M1319.8 787.9h0M1320.5 852.5h0M1319.6 887.8h0M1596.0 881.2h0"/><path class="b" stroke-width="7" d="M1321.1 876.8h0M1319.0 808.1h0M1336.2 855.0h0M1331.6 906.7h0"/><path class="b" stroke-width="8" d="M1339.2 900.5h0M1331.6 871.1h0M1338.3 893.1h0"/><path class="b" stroke-width="9" d="M1331.1 906.6h0"/><path class="lb" stroke-width="6" d="M1590.3 902.0h0"/><path class="lb" stroke-width="14" d="M1415.2 894.5h0M1565.1 933.3h0"/><path class="lb" stroke-width="18" d="M1290.6 892.0h0"/><path class="lb" stroke-width="20" d="M1290.6 911.9h0"/><path class="lo" stroke-width="7" d="M1594.7 980.2h0"/><path class="lo" stroke-width="8" d="M1596.0 960.4h0M1596.8 950.0h0M1595.7 961.2h0"/><path class="o" stroke-width="5" d="M1332.9 960.1h0"/><path class="o" stroke-width="6" d="M1290.5 950.2h0M1292.4 949.8h0M1334.1 927.9h0M1333.4 928.3h0M1353.1 916.5h0M1368.1 917.0h0"/><path class="o" stroke-width="7" d="M1331.2 960.8h0M1364.4 935.7h0M1368.2 942.3h0M1372.9 895.3h0M1564.4 939.6h0M1562.3 944.6h0"/><path class="o" stroke-width="8" d="M1369.1 922.3h0"/><path class="o" stroke-width="9" d="M1369.9 928.3h0M1595.3 935.5h0"/><path class="b" stroke-width="4" d="M1233.4 901.2h0"/><path class="b" stroke-width="5" d="M1233.9 915.9h0M1305.5 850.8h0M1321.5 848.7h0M1320.9 818.8h0M1321.0 836.3h0"/><path class="b" stroke-width="6" d="M1306.5 844.0h0M1306.4 931.8h0M1320.0 847.9h0M1321.3 858.5h0M1370.6 852.1h0M1383.5 939.4h0"/><path class="b" stroke-width="7" d="M1234.0 906.2h0M1320.6 810.1h0M1320.7 802.6h0M1338.1 882.2h0M1329.9 925.0h0M1413.0 931.0h0M1418.0 945.7h0M1589.0 913.0h0"/><path class="b" stroke-width="8" d="M1320.2 887.4h0M1338.7 879.9h0M1413.0 922.7h0M1595.5 899.9h0M1591.2 906.2h0M1594.7 898.5h0M1587.4 902.6h0"/><path class="b" stroke-width="9" d="M1321.8 884.8h0M1330.3 930.9h0"/><path class="b" stroke-width="10" d="M1416.9 939.9h0"/><path class="lb" stroke-width="7" d="M1505.7 930.9h0"/><path class="lb" stroke-width="8" d="M1584.7 945.1h0M1597.2 912.7h0"/><path class="lb" stroke-width="9" d="M1290.3 930.7h0M1289.9 935.8h0"/><path class="lb" stroke-width="10" d="M1563.4 935.9h0"/><path class="lb" stroke-width="13" d="M1559.3 939.5h0"/><path class="lo" stroke-width="8" d="M1327.9 832.2h0M1327.9 859.6h0M1596.0 968.7h0"/><path class="o" stroke-width="5" d="M1353.8 917.9h0M1353.3 923.2h0"/><path class="o" stroke-width="6" d="M1354.4 934.6h0M1355.5 936.8h0M1370.0 943.0h0M1597.2 938.5h0"/><path class="o" stroke-width="7" d="M1333.3 962.1h0M1368.8 928.3h0M1368.0 935.1h0M1561.9 944.2h0"/><path class="o" stroke-width="8" d="M1564.5 930.0h0"/><path class="o" stroke-width="9" d="M1371.4 935.6h0M1364.7 943.7h0"/><path class="b" stroke-width="4" d="M1306.2 934.6h0"/><path class="b" stroke-width="6" d="M1319.5 803.1h0M1320.0 888.9h0M1369.6 851.6h0"/><path class="b" stroke-width="7" d="M1276.9 894.5h0M1306.2 920.8h0M1320.1 893.0h0M1319.9 882.4h0M1589.6 895.6h0"/><path class="b" stroke-width="8" d="M1319.1 873.7h0M1415.1 924.8h0M1430.1 938.1h0"/><path class="b" stroke-width="9" d="M1336.5 924.6h0M1334.3 923.0h0M1333.5 892.7h0M1412.3 945.6h0"/><path class="b" stroke-width="10" d="M1418.4 939.6h0"/><path class="db" stroke-width="12" d="M1336.7 909.4h0"/><path class="lb" stroke-width="6" d="M1290.9 932.5h0"/><path class="lb" stroke-width="9" d="M1290.9 934.2h0"/><path class="lb" stroke-width="10" d="M1360.3 981.7h0"/><path class="lb" stroke-width="18" d="M1354.1 909.4h0"/><path class="lo" stroke-width="9" d="M1596.3 966.2h0"/><path class="o" stroke-width="5" d="M1335.0 919.5h0M1334.2 938.9h0M1354.0 915.2h0"/><path class="o" stroke-width="6" d="M1354.6 931.0h0"/><path class="o" stroke-width="7" d="M1366.5 944.5h0M1367.7 932.2h0"/><path class="o" stroke-width="8" d="M1365.6 921.2h0M1561.7 942.1h0"/><path class="o" stroke-width="9" d="M1371.4 935.0h0"/><path class="b" stroke-width="5" d="M1233.9 922.1h0M1304.5 842.5h0"/><path class="b" stroke-width="6" d="M1320.1 867.3h0M1334.1 891.5h0M1382.8 942.0h0M1415.3 927.9h0"/><path class="b" stroke-width="7" d="M1167.5 870.8h0M1234.8 921.6h0M1306.3 862.5h0M1305.1 864.3h0M1320.0 800.8h0M1369.0 848.5h0M1387.0 930.5h0M1382.0 930.7h0M1383.1 937.6h0M1415.2 947.9h0"/><path class="b" stroke-width="8" d="M1323.6 894.7h0M1334.9 907.2h0M1337.7 874.7h0M1383.4 945.8h0"/><path class="b" stroke-width="10" d="M1375.3 839.7h0"/><path class="lb" stroke-width="6" d="M1360.3 1041.5h0"/><path class="lb" stroke-width="8" d="M1564.2 943.0h0"/><path class="lb" stroke-width="16" d="M1562.6 938.4h0"/><path class="o" stroke-width="4" d="M1353.7 892.9h0"/><path class="o" stroke-width="6" d="M1594.0 937.2h0"/><path class="o" stroke-width="7" d="M1308.1 948.0h0M1336.2 919.2h0M1354.5 954.4h0M1365.2 928.1h0M1560.7 953.9h0M1597.9 938.3h0"/><path class="o" stroke-width="8" d="M1364.2 934.6h0"/><path class="o" stroke-width="9" d="M1365.8 936.4h0M1594.3 939.2h0"/><path class="b" stroke-width="5" d="M1167.6 874.7h0M1277.3 941.5h0M1319.8 822.5h0M1321.2 849.5h0"/><path class="b" stroke-width="6" d="M1279.1 935.8h0M1305.4 921.8h0M1320.8 849.1h0M1321.4 869.3h0M1321.0 890.0h0M1330.4 901.6h0M1417.3 939.7h0"/><path class="b" stroke-width="7" d="M1319.5 881.9h0M1322.7 906.8h0M1412.9 924.7h0M1414.3 940.6h0M1588.5 895.6h0"/><path class="b" stroke-width="8" d="M1341.3 910.0h0M1331.2 949.6h0"/><path class="b" stroke-width="9" d="M1595.2 913.6h0"/><path class="b" stroke-width="10" d="M1412.1 943.5h0"/><path class="b" stroke-width="14" d="M1323.0 782.4h0"/><path class="lb" stroke-width="7" d="M1506.6 930.9h0M1593.4 927.1h0"/><path class="lb" stroke-width="8" d="M1360.3 1001.6h0"/><path class="lb" stroke-width="9" d="M1562.7 942.9h0"/><path class="lb" stroke-width="10" d="M1597.6 887.8h0"/><path class="lb" stroke-width="11" d="M1563.7 925.4h0M1563.4 939.7h0"/><path class="lb" stroke-width="12" d="M1560.7 943.6h0"/><path class="lb" stroke-width="16" d="M1563.3 933.7h0"/><path class="lo" stroke-width="8" d="M1597.2 967.0h0"/><path class="o" stroke-width="5" d="M1335.2 934.7h0M1333.0 913.8h0"/><path class="o" stroke-width="6" d="M1291.4 949.8h0M1332.5 962.8h0M1335.4 934.0h0M1354.5 944.7h0M1364.7 920.6h0M1594.5 944.2h0"/><path class="o" stroke-width="7" d="M1367.9 931.6h0M1369.6 929.5h0M1560.2 935.8h0M1597.2 941.6h0"/><path class="o" stroke-width="8" d="M1366.0 941.2h0M1564.3 931.9h0M1560.2 935.5h0M1595.5 941.6h0"/><path class="o" stroke-width="9" d="M1367.5 938.0h0"/><path class="b" stroke-width="4" d="M1277.9 908.4h0M1319.5 902.2h0"/><path class="b" stroke-width="5" d="M1277.7 905.6h0M1277.3 916.4h0M1278.2 902.1h0M1305.1 845.0h0M1320.3 900.2h0M1369.8 848.9h0"/><path class="b" stroke-width="6" d="M1320.3 811.8h0"/><path class="b" stroke-width="7" d="M1331.6 941.1h0M1379.7 941.7h0"/><path class="b" stroke-width="8" d="M1336.2 876.9h0M1336.0 883.3h0M1418.5 944.3h0M1413.1 938.1h0"/><path class="b" stroke-width="9" d="M1321.0 899.1h0M1322.9 884.6h0M1332.6 928.9h0M1417.3 924.1h0M1418.9 933.3h0"/><path class="b" stroke-width="10" d="M1417.6 932.2h0"/><path class="lb" stroke-width="8" d="M1595.0 919.4h0"/><path class="lb" stroke-width="9" d="M1560.8 934.0h0"/><path class="lb" stroke-width="10" d="M1590.6 899.8h0"/><path class="lb" stroke-width="12" d="M1375.3 882.0h0"/><path class="lb" stroke-width="13" d="M1561.6 934.0h0M1561.7 941.4h0"/><path class="lb" stroke-width="15" d="M1558.7 939.0h0M1562.5 933.1h0"/><path class="lb" stroke-width="16" d="M1561.7 937.5h0"/><path class="lo" stroke-width="6" d="M1594.4 983.2h0M1375.3 798.6h0"/><path class="lo" stroke-width="8" d="M1250.7 826.0h0"/><path class="lo" stroke-width="10" d="M1603.3 855.9h0"/><path class="o" stroke-width="5" d="M1291.4 952.9h0M1332.7 955.7h0M1334.9 909.5h0M1335.6 925.2h0"/><path class="o" stroke-width="6" d="M1333.4 925.3h0M1595.1 937.1h0"/><path class="o" stroke-width="7" d="M1334.4 922.1h0M1365.4 930.1h0M1564.3 959.7h0"/><path class="o" stroke-width="8" d="M1593.7 942.8h0"/><path class="o" stroke-width="9" d="M1560.1 945.0h0M1562.2 958.9h0M1597.5 942.6h0"/><path class="b" stroke-width="6" d="M1320.6 899.6h0M1320.3 800.6h0M1332.8 899.6h0"/><path class="b" stroke-width="7" d="M1337.7 906.7h0M1387.1 932.3h0M1591.1 913.2h0"/><path class="b" stroke-width="8" d="M1336.0 898.8h0M1339.2 890.2h0M1331.1 929.4h0M1417.2 919.8h0M1592.9 932.0h0"/><path class="b" stroke-width="9" d="M1329.3 897.4h0M1340.2 881.4h0M1412.4 938.5h0"/><path class="b" stroke-width="10" d="M1411.8 942.5h0M1411.7 931.8h0"/><path class="lb" stroke-width="6" d="M1332.9 769.9h0"/><path class="o" stroke-width="5" d="M1333.0 963.1h0M1330.7 952.2h0M1334.3 915.6h0"/><path class="o" stroke-width="6" d="M1333.7 906.3h0"/><path class="o" stroke-width="7" d="M1334.9 929.8h0M1353.1 915.0h0M1354.7 882.5h0M1352.7 918.9h0M1560.9 947.3h0M1595.0 942.8h0"/><path class="o" stroke-width="8" d="M1371.0 919.7h0M1562.2 945.6h0M1595.6 939.5h0"/><path class="b" stroke-width="4" d="M1320.6 877.5h0M1320.3 868.5h0M1319.9 943.0h0"/><path class="b" stroke-width="5" d="M1318.8 796.6h0M1321.8 833.7h0"/><path class="b" stroke-width="6" d="M1305.5 850.3h0M1319.9 910.4h0M1320.5 847.3h0M1338.2 874.4h0M1411.8 932.2h0M1585.8 891.0h0"/><path class="b" stroke-width="7" d="M1166.9 871.7h0M1336.8 899.9h0"/><path class="b" stroke-width="8" d="M1329.8 918.3h0M1381.0 935.5h0M1387.6 939.9h0M1383.8 929.9h0"/><path class="b" stroke-width="9" d="M1341.2 919.8h0M1383.4 924.8h0"/><path class="b" stroke-width="10" d="M1417.5 923.9h0M1413.2 930.9h0"/><path class="lb" stroke-width="7" d="M1289.7 933.6h0M1506.8 932.9h0M1590.9 903.7h0M1593.3 917.7h0"/><path class="lb" stroke-width="9" d="M1562.3 938.4h0"/><path class="lb" stroke-width="12" d="M1342.9 971.7h0M1564.3 943.2h0M1595.3 945.5h0"/><path class="lb" stroke-width="16" d="M1559.3 937.8h0"/><path class="lo" stroke-width="8" d="M1250.7 882.0h0M1308.0 909.4h0M1367.8 844.7h0"/><path class="o" stroke-width="6" d="M1292.1 953.1h0M1308.5 943.6h0M1334.6 920.4h0M1354.3 897.1h0M1560.2 946.8h0"/><path class="o" stroke-width="7" d="M1291.2 949.6h0M1308.2 943.0h0M1369.5 937.0h0M1374.0 892.8h0M1560.5 960.3h0M1561.1 955.5h0M1563.2 947.4h0M1561.6 940.3h0M1596.5 940.5h0"/><path class="o" stroke-width="8" d="M1368.8 944.7h0M1368.3 932.7h0M1561.6 943.9h0M1596.4 936.9h0"/><path class="o" stroke-width="9" d="M1366.1 919.9h0"/><path class="b" stroke-width="4" d="M1278.7 903.3h0"/><path class="b" stroke-width="5" d="M1279.1 896.3h0M1305.6 878.5h0M1305.4 876.8h0M1320.8 824.4h0M1321.2 878.9h0M1320.0 858.4h0M1319.5 880.0h0"/><path class="b" stroke-width="6" d="M1232.1 918.5h0M1305.8 860.5h0M1320.7 809.1h0M1321.6 904.4h0M1335.1 920.1h0M1386.0 935.6h0"/><path class="b" stroke-width="7" d="M1278.8 917.8h0M1304.5 924.0h0M1388.2 935.7h0M1388.1 929.2h0M1416.9 935.1h0"/><path class="b" stroke-width="8" d="M1416.3 920.6h0"/><path class="b" stroke-width="9" d="M1412.0 936.7h0"/><path class="b" stroke-width="10" d="M1418.7 928.0h0"/><path class="lb" stroke-width="6" d="M1233.8 960.5h0"/><path class="lb" stroke-width="8" d="M1506.5 935.1h0"/><path class="lb" stroke-width="14" d="M1564.6 938.1h0"/><path class="lo" stroke-width="8" d="M1250.7 786.1h0"/><path class="o" stroke-width="5" d="M1307.5 945.3h0M1331.5 960.5h0M1330.7 961.9h0M1333.7 927.8h0M1333.4 923.5h0M1333.7 916.6h0M1373.2 893.1h0"/><path class="o" stroke-width="6" d="M1332.1 961.4h0M1334.7 925.7h0M1354.3 906.9h0M1366.2 916.6h0M1374.0 896.1h0M1561.7 930.8h0"/><path class="o" stroke-width="7" d="M1306.9 948.9h0M1353.8 915.4h0M1561.0 949.8h0M1563.3 935.9h0M1561.1 938.6h0"/><path class="o" stroke-width="8" d="M1365.3 930.4h0M1564.3 952.6h0"/><path class="o" stroke-width="9" d="M1560.8 951.9h0"/><path class="o" stroke-width="10" d="M1367.0 929.4h0M1370.7 927.2h0"/><path class="b" stroke-width="4" d="M1306.1 857.0h0"/><path class="b" stroke-width="5" d="M1167.6 881.9h0M1369.1 848.4h0"/><path class="b" stroke-width="6" d="M1306.3 853.8h0M1304.3 870.9h0M1319.6 818.9h0M1333.8 873.9h0"/><path class="b" stroke-width="7" d="M1335.6 907.4h0M1335.4 910.6h0M1334.5 868.7h0M1334.1 914.9h0"/><path class="b" stroke-width="8" d="M1320.7 895.4h0M1329.4 866.4h0M1339.4 900.0h0M1384.6 933.5h0M1381.2 936.4h0M1380.3 921.9h0"/><path class="b" stroke-width="9" d="M1330.3 923.7h0M1385.0 929.8h0M1413.4 942.4h0M1592.6 929.0h0"/><path class="b" stroke-width="10" d="M1418.0 921.2h0M1415.7 936.5h0"/><path class="lb" stroke-width="7" d="M1595.0 928.2h0"/><path class="lb" stroke-width="11" d="M1561.6 935.2h0M1558.6 932.6h0"/><path class="lb" stroke-width="14" d="M1564.8 933.2h0"/><path class="lo" stroke-width="7" d="M1597.4 984.8h0"/><path class="lo" stroke-width="8" d="M1250.7 832.2h0M1596.8 954.2h0"/><path class="o" stroke-width="5" d="M1308.0 945.1h0M1333.0 909.6h0M1354.2 898.2h0M1354.0 896.6h0"/><path class="o" stroke-width="6" d="M1353.8 879.2h0M1354.4 892.3h0"/><path class="o" stroke-width="7" d="M1333.8 919.8h0M1364.1 925.6h0M1593.7 939.2h0M1595.9 935.5h0"/><path class="o" stroke-width="8" d="M1365.2 926.8h0"/><path class="o" stroke-width="9" d="M1365.4 936.8h0M1370.3 919.4h0M1594.7 941.9h0"/><path class="b" stroke-width="4" d="M1234.0 928.5h0"/><path class="b" stroke-width="5" d="M1232.9 924.0h0M1319.1 888.1h0"/><path class="b" stroke-width="6" d="M1595.1 889.9h0"/><path class="b" stroke-width="7" d="M1305.3 860.0h0M1305.9 860.6h0M1334.0 894.2h0M1381.3 931.5h0M1416.9 927.4h0"/><path class="b" stroke-width="8" d="M1319.0 905.9h0M1381.1 949.6h0M1415.6 943.7h0M1584.9 874.7h0"/><path class="b" stroke-width="9" d="M1320.2 869.6h0"/><path class="b" stroke-width="10" d="M1337.0 941.1h0M1333.0 942.5h0M1589.5 892.5h0"/><path class="lb" stroke-width="8" d="M1174.7 884.0h0M1506.6 929.7h0M1594.2 919.3h0"/><path class="lb" stroke-width="10" d="M1561.7 940.5h0M1597.3 930.5h0"/><path class="lb" stroke-width="12" d="M1565.7 932.8h0"/><path class="lb" stroke-width="13" d="M1563.7 930.2h0"/><path class="lb" stroke-width="18" d="M1593.3 911.9h0"/><path class="lo" stroke-width="7" d="M1595.9 958.5h0M1595.9 968.8h0"/><path class="lo" stroke-width="10" d="M1578.4 862.1h0M1578.4 884.5h0"/><path class="o" stroke-width="5" d="M1332.6 893.5h0M1334.5 916.4h0M1352.3 881.0h0"/><path class="o" stroke-width="6" d="M1354.6 916.3h0M1375.2 891.1h0M1596.7 939.4h0"/><path class="o" stroke-width="7" d="M1353.5 935.7h0M1562.1 932.0h0M1596.0 941.4h0"/><path class="o" stroke-width="8" d="M1364.1 942.9h0M1561.6 929.2h0M1596.2 937.4h0M1596.4 939.9h0"/><path class="o" stroke-width="9" d="M1365.1 936.3h0"/></g>
<line x1="1152.8" y1="956.3" x2="1612.3" y2="956.3" stroke="#b4b4b4" stroke-width="1.6" stroke-dasharray="3.2 3.1"/>
<rect x="1151.8" y="759.4" width="461.5" height="292.8" fill="none" stroke="#8c8c8c" stroke-width="1.35"/>
<line x1="1146.8" y1="767.9" x2="1151.8" y2="767.9" stroke="#8c8c8c" stroke-width="1.4"/>
<line x1="1146.8" y1="830.5" x2="1151.8" y2="830.5" stroke="#8c8c8c" stroke-width="1.4"/>
<line x1="1146.8" y1="893.3" x2="1151.8" y2="893.3" stroke="#8c8c8c" stroke-width="1.4"/>
<line x1="1146.8" y1="956.3" x2="1151.8" y2="956.3" stroke="#8c8c8c" stroke-width="1.4"/>
<line x1="1146.8" y1="1018.6" x2="1151.8" y2="1018.6" stroke="#8c8c8c" stroke-width="1.4"/>
<line x1="1212" y1="1052.2" x2="1212" y2="1057.2" stroke="#8c8c8c" stroke-width="1.4"/>
<line x1="1321.2" y1="1052.2" x2="1321.2" y2="1057.2" stroke="#8c8c8c" stroke-width="1.4"/>
<line x1="1430.4" y1="1052.2" x2="1430.4" y2="1057.2" stroke="#8c8c8c" stroke-width="1.4"/>
<line x1="1539.3" y1="1052.2" x2="1539.3" y2="1057.2" stroke="#8c8c8c" stroke-width="1.4"/>
<text transform="translate(1141,767.9) rotate(-90)" text-anchor="middle" font-size="14.0">3</text>
<text transform="translate(1141,830.5) rotate(-90)" text-anchor="middle" font-size="14.0">2</text>
<text transform="translate(1141,893.3) rotate(-90)" text-anchor="middle" font-size="14.0">1</text>
<text transform="translate(1141,956.3) rotate(-90)" text-anchor="middle" font-size="14.0">0</text>
<text transform="translate(1141,1018.6) rotate(-90)" text-anchor="middle" font-size="14.0">-1.0</text>
<text x="1212" y="1075.6" text-anchor="middle" font-size="14.0">10</text>
<text x="1321.2" y="1075.6" text-anchor="middle" font-size="14.0">15</text>
<text x="1430.4" y="1075.6" text-anchor="middle" font-size="14.0">20</text>
<text x="1539.3" y="1075.6" text-anchor="middle" font-size="14.0">25</text>
<text x="1383.5" y="1095.5" text-anchor="middle" font-size="13.9">MAT (℃)</text>
<text transform="translate(1120.3,895.8) rotate(-90)" text-anchor="middle" font-size="13.9">Change in CH<tspan font-size="9" dy="3">4</tspan><tspan dy="-3"> emission (lnRR)</tspan></text>
<text x="1537" y="826.8" font-size="47">(k)</text>
<clipPath id="cpl"><rect x="1693.3" y="764.9" width="462" height="293.6"/></clipPath>
<g clip-path="url(#cpl)"><polygon points="1720.8,962.7 1729.9,962.3 1739.1,961.8 1748.2,961.3 1757.3,960.7 1766.4,960.1 1775.6,959.4 1784.7,958.6 1793.8,957.8 1802.9,956.9 1812.1,955.8 1821.2,954.7 1830.3,953.5 1839.5,952.3 1848.6,950.9 1857.7,949.5 1866.8,948.1 1876,946.6 1885.1,945.1 1894.2,943.5 1903.3,942 1912.5,940.4 1921.6,938.8 1930.7,937.2 1939.9,935.5 1949,933.9 1958.1,932.2 1967.2,930.6 1976.4,928.9 1985.5,927.2 1994.6,925.5 2003.8,923.8 2012.9,922.1 2022,920.4 2031.1,918.7 2040.3,917 2049.4,915.3 2058.5,913.6 2067.6,911.8 2076.8,910.1 2085.9,908.4 2085.9,970.6 2076.8,970.6 2067.6,970.5 2058.5,970.5 2049.4,970.4 2040.3,970.4 2031.1,970.3 2022,970.3 2012.9,970.3 2003.8,970.3 1994.6,970.2 1985.5,970.2 1976.4,970.2 1967.2,970.2 1958.1,970.2 1949,970.2 1939.9,970.3 1930.7,970.3 1921.6,970.4 1912.5,970.4 1903.3,970.5 1894.2,970.6 1885.1,970.8 1876,970.9 1866.8,971.1 1857.7,971.4 1848.6,971.6 1839.5,972 1830.3,972.4 1821.2,972.9 1812.1,973.4 1802.9,974.1 1793.8,974.8 1784.7,975.6 1775.6,976.6 1766.4,977.5 1757.3,978.6 1748.2,979.7 1739.1,980.8 1729.9,982 1720.8,983.3" fill="#4797d6" fill-opacity="1"/><polygon points="1710,997.4 1717.1,989.4 1724.3,984.7 1731.4,981.3 1738.5,978.6 1745.7,976.3 1752.8,974.3 1760,972.5 1767.1,970.9 1774.2,969.5 1781.4,968.2 1788.5,966.9 1795.6,965.7 1802.8,964.5 1809.9,963.4 1817,962.3 1824.2,961.3 1831.3,960.3 1838.5,959.4 1845.6,958.5 1852.7,957.6 1859.9,956.8 1867,956 1874.1,955.2 1881.3,954.4 1888.4,953.7 1895.6,953 1902.7,952.3 1909.8,951.7 1917,951 1924.1,950.4 1931.2,949.8 1938.4,949.2 1945.5,948.6 1952.6,948.1 1959.8,947.5 1966.9,947 1974.1,946.5 1981.2,946 1988.3,945.5 1995.5,945 2002.6,944.5 2009.7,944 2016.9,943.6 2024,943.1 2031.1,942.7 2038.3,942.3 2045.4,941.9 2052.6,941.5 2059.7,941.1 2066.8,940.7 2074,940.3 2081.1,939.9 2088.2,939.5 2095.4,939.2 2102.5,938.8 2109.7,938.5 2116.8,938.1 2123.9,937.8 2131.1,937.4 2138.2,937.1 2138.2,967.7 2131.1,967.8 2123.9,967.9 2116.8,968.1 2109.7,968.2 2102.5,968.3 2095.4,968.5 2088.2,968.6 2081.1,968.8 2074,968.9 2066.8,969.1 2059.7,969.2 2052.6,969.4 2045.4,969.5 2038.3,969.7 2031.1,969.9 2024,970 2016.9,970.2 2009.7,970.4 2002.6,970.6 1995.5,970.8 1988.3,971 1981.2,971.2 1974.1,971.4 1966.9,971.6 1959.8,971.9 1952.6,972.1 1945.5,972.3 1938.4,972.6 1931.2,972.9 1924.1,973.1 1917,973.4 1909.8,973.7 1902.7,974 1895.6,974.3 1888.4,974.7 1881.3,975 1874.1,975.4 1867,975.8 1859.9,976.3 1852.7,976.7 1845.6,977.2 1838.5,977.7 1831.3,978.3 1824.2,978.9 1817,979.6 1809.9,980.3 1802.8,981.1 1795.6,982 1788.5,983 1781.4,984.2 1774.2,985.5 1767.1,987 1760,988.7 1752.8,990.7 1745.7,993.1 1738.5,996 1731.4,999.6 1724.3,1004.5 1717.1,1011.8 1710,1025.4" fill="#ed721a" fill-opacity="0.85"/><path class="b" stroke-width="6" d="M1728.1 928.7h0"/><path class="b" stroke-width="7" d="M1779.4 930.7h0M1807.9 1010.2h0M1773.9 995.3h0M1757.4 993.7h0"/><path class="b" stroke-width="8" d="M1768.4 997.9h0M1756.8 1005.1h0M1843.7 992.7h0"/><path class="b" stroke-width="9" d="M1728.5 949.8h0M1773.8 1004.3h0"/><path class="b" stroke-width="10" d="M1761.0 1005.6h0"/><path class="db" stroke-width="8" d="M1799.8 1000.4h0M1795.5 1003.4h0M1760.1 998.4h0"/><path class="db" stroke-width="9" d="M1796.2 1002.3h0"/><path class="lb" stroke-width="8" d="M1924.0 892.0h0M1880.0 965.0h0"/><path class="lb" stroke-width="14" d="M1792.0 844.7h0"/><path class="lo" stroke-width="6" d="M1850.5 996.7h0M1814.1 1033.2h0M1858.0 1022.0h0"/><path class="lo" stroke-width="7" d="M1813.1 994.4h0"/><path class="lo" stroke-width="8" d="M1969.0 904.5h0"/><path class="lo" stroke-width="9" d="M1807.5 1014.4h0"/><path class="o" stroke-width="6" d="M1724.5 988.0h0"/><path class="o" stroke-width="7" d="M1767.6 1001.7h0M1766.3 1008.3h0M1715.4 995.5h0"/><path class="o" stroke-width="9" d="M1794.1 1000.0h0M1719.6 1009.7h0"/><path class="b" stroke-width="5" d="M1816.4 898.8h0"/><path class="b" stroke-width="6" d="M1761.2 944.7h0M1771.4 935.6h0M1823.6 932.3h0M1787.8 996.8h0"/><path class="b" stroke-width="7" d="M1805.5 911.9h0M1724.9 944.6h0M1761.9 997.9h0M1790.8 997.6h0"/><path class="b" stroke-width="8" d="M1749.8 930.1h0M1729.2 924.8h0M1749.2 915.5h0M1798.5 990.1h0M1823.4 993.4h0"/><path class="b" stroke-width="9" d="M1795.2 949.9h0M1780.1 991.8h0M1816.4 988.6h0"/><path class="b" stroke-width="10" d="M1766.0 992.0h0"/><path class="lo" stroke-width="6" d="M1717.1 930.1h0M1744.6 931.7h0M1734.2 1024.9h0M1760.0 1014.7h0"/><path class="lo" stroke-width="7" d="M1811.4 1002.4h0M1767.5 1024.3h0M1829.1 936.1h0"/><path class="lo" stroke-width="8" d="M1728.4 944.2h0M1728.5 996.8h0M1880.4 775.0h0M1941.5 989.0h0"/><path class="lo" stroke-width="9" d="M1763.7 942.2h0M1738.3 950.1h0M1711.9 939.5h0M1758.7 1004.2h0"/><path class="lo" stroke-width="18" d="M1829.6 1004.5h0"/><path class="o" stroke-width="7" d="M1785.8 1003.6h0"/><path class="b" stroke-width="5" d="M1734.6 948.5h0"/><path class="b" stroke-width="6" d="M1739.2 936.4h0M1788.8 945.4h0M1725.0 950.3h0M1773.1 996.6h0M1848.0 987.8h0"/><path class="b" stroke-width="7" d="M1792.8 934.2h0M1757.6 1000.9h0M1751.9 995.7h0M1775.5 1001.9h0M1820.6 991.9h0M1817.8 995.0h0"/><path class="b" stroke-width="8" d="M1784.3 919.3h0"/><path class="b" stroke-width="9" d="M1787.7 994.5h0M1815.0 986.1h0M1821.4 981.6h0"/><path class="b" stroke-width="10" d="M1782.0 992.8h0"/><path class="db" stroke-width="6" d="M1772.2 1006.1h0"/><path class="lb" stroke-width="8" d="M1924.0 909.0h0"/><path class="lb" stroke-width="10" d="M1906.0 932.0h0"/><path class="o" stroke-width="6" d="M1756.7 1007.2h0M1775.0 1008.2h0"/><path class="o" stroke-width="7" d="M1722.1 989.3h0"/><path class="o" stroke-width="8" d="M1763.9 1008.9h0M1713.9 988.5h0M1722.4 1008.2h0M1728.5 998.1h0"/><path class="b" stroke-width="6" d="M1721.5 945.6h0M1796.9 913.2h0M1735.0 949.3h0M1844.5 994.8h0M1817.9 909.1h0"/><path class="b" stroke-width="7" d="M1816.2 908.4h0M1794.2 989.3h0"/><path class="b" stroke-width="8" d="M1726.2 914.3h0M1820.2 929.8h0M1757.5 993.2h0"/><path class="b" stroke-width="9" d="M1754.3 997.3h0"/><path class="lo" stroke-width="6" d="M1748.3 1012.1h0M1860.2 1038.0h0"/><path class="lo" stroke-width="7" d="M1757.3 939.8h0M1731.1 928.0h0M1849.1 1006.8h0"/><path class="lo" stroke-width="8" d="M1766.9 1005.5h0M1743.5 1004.6h0M1941.5 904.5h0M1965.0 889.5h0"/><path class="o" stroke-width="8" d="M1773.0 1000.7h0"/><path class="o" stroke-width="9" d="M1715.3 992.0h0"/><path class="o" stroke-width="10" d="M1860.0 1002.0h0"/><path class="b" stroke-width="5" d="M1812.2 918.4h0M1816.9 913.4h0"/><path class="b" stroke-width="6" d="M1784.0 1008.2h0M1846.3 992.9h0M1817.7 915.2h0"/><path class="b" stroke-width="7" d="M1812.3 926.2h0M1764.8 984.2h0M1817.1 903.9h0"/><path class="b" stroke-width="8" d="M1723.7 936.2h0M1777.8 1009.1h0M1794.1 1010.2h0"/><path class="b" stroke-width="9" d="M1762.6 925.6h0M1753.0 1005.5h0M1794.3 995.0h0M1797.1 996.7h0M1767.5 1010.2h0M1758.3 1011.4h0M1820.0 986.7h0"/><path class="db" stroke-width="8" d="M1789.9 1004.0h0"/><path class="db" stroke-width="9" d="M1782.0 1002.2h0"/><path class="lo" stroke-width="7" d="M1761.7 922.1h0M1797.1 1025.0h0"/><path class="lo" stroke-width="8" d="M1724.7 949.0h0M1729.6 1014.5h0M1820.4 1015.2h0"/><path class="lo" stroke-width="9" d="M1748.9 931.5h0M1728.0 951.1h0"/><path class="o" stroke-width="7" d="M1791.4 1013.6h0"/><path class="o" stroke-width="9" d="M1726.1 995.0h0"/><path class="b" stroke-width="5" d="M1778.1 932.9h0M1817.0 902.3h0"/><path class="b" stroke-width="6" d="M1751.3 1003.5h0M1775.2 1000.2h0M1819.9 988.5h0"/><path class="b" stroke-width="7" d="M1799.2 936.8h0M1804.3 1000.2h0M1816.2 996.1h0M1818.4 907.6h0M1816.4 910.6h0"/><path class="b" stroke-width="8" d="M1815.2 950.7h0M1777.2 939.2h0M1780.8 1003.6h0M1849.7 991.0h0"/><path class="b" stroke-width="9" d="M1783.7 933.8h0M1804.3 1001.5h0M1786.3 993.7h0"/><path class="db" stroke-width="7" d="M1786.1 1005.9h0M1760.0 993.8h0"/><path class="db" stroke-width="8" d="M1777.2 1002.0h0M1795.9 994.1h0"/><path class="lb" stroke-width="6" d="M1890.0 912.0h0"/><path class="lb" stroke-width="8" d="M1795.8 1019.0h0"/><path class="lo" stroke-width="6" d="M1840.2 997.6h0M2121.0 1016.6h0"/><path class="lo" stroke-width="7" d="M1776.5 997.0h0M1723.0 1002.4h0"/><path class="lo" stroke-width="8" d="M1852.8 1008.3h0M1724.9 1000.6h0M1756.0 1036.0h0M1941.5 979.0h0"/><path class="lo" stroke-width="9" d="M1760.6 989.9h0"/><path class="o" stroke-width="6" d="M1715.7 1010.6h0"/><path class="o" stroke-width="8" d="M1747.8 1003.4h0"/><path class="b" stroke-width="6" d="M1754.3 934.3h0M1719.1 925.0h0"/><path class="b" stroke-width="7" d="M1825.1 934.4h0M1725.1 941.4h0M1780.0 991.4h0M1805.0 1006.3h0M1757.7 991.8h0M1821.8 991.1h0"/><path class="b" stroke-width="8" d="M1735.7 946.9h0M1730.7 934.1h0"/><path class="b" stroke-width="9" d="M1784.3 943.6h0M1757.5 1001.8h0M1777.8 1002.4h0M1821.1 988.1h0"/><path class="db" stroke-width="8" d="M1791.6 1001.8h0"/><path class="db" stroke-width="9" d="M1784.5 1001.1h0M1774.9 1003.3h0"/><path class="lb" stroke-width="10" d="M1721.0 1039.6h0"/><path class="lo" stroke-width="6" d="M1745.2 1003.2h0"/><path class="lo" stroke-width="7" d="M1775.5 1017.8h0M1857.4 998.1h0"/><path class="lo" stroke-width="8" d="M1757.1 925.9h0M1785.3 990.2h0M1791.8 1015.1h0M1743.5 1007.0h0M1748.6 1002.9h0M1777.9 1026.6h0"/><path class="o" stroke-width="6" d="M1756.6 1004.1h0"/><path class="o" stroke-width="7" d="M1774.2 1001.5h0M1766.2 1004.2h0M1771.3 1001.8h0M1751.4 1003.8h0"/><path class="o" stroke-width="8" d="M1769.0 1001.2h0M1715.4 999.0h0"/><path class="b" stroke-width="6" d="M1746.6 931.1h0M1844.6 989.7h0"/><path class="b" stroke-width="7" d="M1755.7 925.5h0M1759.6 929.3h0"/><path class="b" stroke-width="8" d="M1722.1 932.9h0M1755.1 1006.6h0"/><path class="b" stroke-width="9" d="M1849.7 994.9h0M1846.8 988.0h0"/><path class="b" stroke-width="10" d="M1789.8 991.3h0"/><path class="db" stroke-width="8" d="M1767.3 999.2h0M1761.5 1005.9h0M1796.6 998.2h0"/><path class="db" stroke-width="9" d="M1786.4 1004.8h0"/><path class="lo" stroke-width="7" d="M1713.3 943.9h0M1738.2 998.2h0"/><path class="lo" stroke-width="8" d="M1763.9 942.4h0M1718.9 935.6h0M1715.0 943.9h0M1788.9 1009.5h0"/><path class="lo" stroke-width="10" d="M1913.0 1029.0h0"/><path class="o" stroke-width="6" d="M1777.1 1006.3h0"/><path class="o" stroke-width="7" d="M1720.2 1005.9h0"/><path class="b" stroke-width="5" d="M1816.5 908.0h0"/><path class="b" stroke-width="6" d="M1789.0 1002.7h0M1817.3 902.4h0"/><path class="b" stroke-width="7" d="M1775.8 934.2h0M1762.7 1002.9h0M1845.5 992.7h0"/><path class="b" stroke-width="8" d="M1822.9 918.9h0M1799.7 924.8h0M1764.0 986.1h0M1796.5 1004.5h0M1760.3 1011.3h0"/><path class="b" stroke-width="9" d="M1800.1 998.5h0M1772.1 999.7h0"/><path class="db" stroke-width="7" d="M1773.2 1004.6h0"/><path class="lb" stroke-width="8" d="M1827.0 1024.0h0M1770.8 869.6h0"/><path class="lb" stroke-width="10" d="M1794.4 897.0h0"/><path class="lo" stroke-width="6" d="M1751.1 998.2h0"/><path class="lo" stroke-width="7" d="M1713.9 926.6h0M1734.8 951.4h0M1746.8 934.5h0M1761.3 949.4h0M1757.6 1018.9h0"/><path class="lo" stroke-width="8" d="M1725.9 955.7h0M1724.0 953.5h0M1744.8 937.1h0M1759.9 921.2h0M1775.8 1008.6h0M1714.2 1007.0h0"/><path class="lo" stroke-width="9" d="M1731.7 926.7h0M1829.0 936.0h0"/><path class="o" stroke-width="6" d="M1743.7 995.8h0M1717.2 1005.6h0"/><path class="o" stroke-width="7" d="M1775.8 1003.5h0M1719.0 1005.7h0"/><path class="o" stroke-width="8" d="M1764.7 1007.1h0M1794.5 1011.6h0"/><path class="b" stroke-width="5" d="M1787.9 948.4h0M1762.1 928.9h0"/><path class="b" stroke-width="6" d="M1794.3 998.6h0M1792.0 1000.3h0M1759.3 996.6h0M1845.0 990.6h0M1860.0 930.0h0"/><path class="b" stroke-width="7" d="M1740.0 930.5h0M1795.9 1007.9h0M1776.6 1004.8h0M1849.0 987.9h0M1817.1 904.4h0"/><path class="b" stroke-width="8" d="M1791.8 992.2h0M1800.0 1009.9h0"/><path class="b" stroke-width="9" d="M1775.1 989.9h0M1814.0 988.8h0M1823.3 989.2h0"/><path class="b" stroke-width="10" d="M1770.9 999.2h0"/><path class="db" stroke-width="6" d="M1789.8 999.9h0M1799.0 1006.1h0"/><path class="db" stroke-width="7" d="M1763.9 997.7h0M1772.9 1001.0h0"/><path class="lb" stroke-width="12" d="M2085.0 1010.0h0"/><path class="lo" stroke-width="7" d="M1723.1 1015.9h0M1829.4 942.3h0M1829.9 938.3h0"/><path class="lo" stroke-width="8" d="M1741.6 933.8h0M1827.6 1003.4h0M1758.9 996.3h0M1818.7 1005.9h0M1750.8 798.6h0M2137.0 984.0h0"/><path class="lo" stroke-width="10" d="M1913.0 1001.0h0M1729.0 1045.6h0"/><path class="o" stroke-width="7" d="M1720.1 994.3h0"/><path class="b" stroke-width="5" d="M1747.2 922.7h0"/><path class="b" stroke-width="6" d="M1743.8 935.9h0M1788.9 1002.6h0M1848.8 998.5h0"/><path class="b" stroke-width="7" d="M1848.8 996.8h0M1847.5 990.0h0"/><path class="b" stroke-width="8" d="M1752.5 997.7h0M1799.5 991.0h0"/><path class="b" stroke-width="9" d="M1758.5 992.8h0"/><path class="b" stroke-width="10" d="M1791.8 1004.9h0M1800.4 993.9h0"/><path class="db" stroke-width="7" d="M1764.8 996.1h0"/><path class="db" stroke-width="8" d="M1764.0 1000.9h0"/><path class="lo" stroke-width="7" d="M1712.7 933.6h0M1769.5 1018.6h0"/><path class="lo" stroke-width="8" d="M1721.3 938.4h0M1836.5 1008.2h0M1828.7 937.4h0"/><path class="o" stroke-width="7" d="M1764.4 1005.0h0M1728.9 992.6h0M1714.2 999.8h0"/><path class="o" stroke-width="10" d="M1723.0 1021.5h0"/><path class="b" stroke-width="5" d="M1728.0 928.3h0M1778.5 923.2h0"/><path class="b" stroke-width="7" d="M1814.0 932.1h0M1767.7 924.2h0M1732.4 909.2h0M1753.6 987.6h0"/><path class="b" stroke-width="8" d="M1752.9 1003.6h0"/><path class="b" stroke-width="9" d="M1766.8 939.3h0M1789.3 993.0h0M1781.9 988.3h0M1793.5 992.6h0"/><path class="b" stroke-width="10" d="M1778.1 1004.6h0M1816.9 991.1h0"/><path class="db" stroke-width="6" d="M1776.7 996.1h0"/><path class="db" stroke-width="9" d="M1760.2 998.0h0"/><path class="lb" stroke-width="10" d="M1762.0 1027.5h0"/><path class="lo" stroke-width="6" d="M1753.7 923.8h0M1856.8 1014.0h0M1740.4 1032.2h0M1852.0 960.0h0"/><path class="lo" stroke-width="7" d="M1718.8 935.4h0M1834.5 997.9h0M1840.0 1023.0h0"/><path class="lo" stroke-width="9" d="M1743.3 936.6h0M1803.4 1004.9h0"/><path class="o" stroke-width="7" d="M1716.1 1015.5h0"/><polyline points="1720.8,973 1729.9,972.2 1739.1,971.3 1748.2,970.5 1757.3,969.6 1766.4,968.8 1775.6,968 1784.7,967.1 1793.8,966.3 1802.9,965.5 1812.1,964.6 1821.2,963.8 1830.3,963 1839.5,962.1 1848.6,961.3 1857.7,960.4 1866.8,959.6 1876,958.8 1885.1,957.9 1894.2,957.1 1903.3,956.2 1912.5,955.4 1921.6,954.6 1930.7,953.7 1939.9,952.9 1949,952.1 1958.1,951.2 1967.2,950.4 1976.4,949.5 1985.5,948.7 1994.6,947.9 2003.8,947 2012.9,946.2 2022,945.4 2031.1,944.5 2040.3,943.7 2049.4,942.9 2058.5,942 2067.6,941.2 2076.8,940.3 2085.9,939.5" fill="none" stroke="#1d4f7c" stroke-width="1.3"/><polyline points="1710,1011.4 1717.1,1000.6 1724.3,994.6 1731.4,990.5 1738.5,987.3 1745.7,984.7 1752.8,982.5 1760,980.6 1767.1,979 1774.2,977.5 1781.4,976.2 1788.5,974.9 1795.6,973.8 1802.8,972.8 1809.9,971.8 1817,970.9 1824.2,970.1 1831.3,969.3 1838.5,968.5 1845.6,967.8 1852.7,967.2 1859.9,966.5 1867,965.9 1874.1,965.3 1881.3,964.7 1888.4,964.2 1895.6,963.7 1902.7,963.2 1909.8,962.7 1917,962.2 1924.1,961.8 1931.2,961.3 1938.4,960.9 1945.5,960.5 1952.6,960.1 1959.8,959.7 1966.9,959.3 1974.1,958.9 1981.2,958.6 1988.3,958.2 1995.5,957.9 2002.6,957.6 2009.7,957.2 2016.9,956.9 2024,956.6 2031.1,956.3 2038.3,956 2045.4,955.7 2052.6,955.4 2059.7,955.1 2066.8,954.9 2074,954.6 2081.1,954.3 2088.2,954.1 2095.4,953.8 2102.5,953.6 2109.7,953.3 2116.8,953.1 2123.9,952.9 2131.1,952.6 2138.2,952.4" fill="none" stroke="#7a3510" stroke-width="1.3"/></g>
<line x1="1694.3" y1="1013.7" x2="2154.3" y2="1013.7" stroke="#b4b4b4" stroke-width="1.6" stroke-dasharray="3.2 3.1"/>
<rect x="1693.3" y="764.9" width="462" height="293.6" fill="none" stroke="#8c8c8c" stroke-width="1.35"/>
<line x1="1688.3" y1="765.7" x2="1693.3" y2="765.7" stroke="#8c8c8c" stroke-width="1.4"/>
<line x1="1688.3" y1="827.6" x2="1693.3" y2="827.6" stroke="#8c8c8c" stroke-width="1.4"/>
<line x1="1688.3" y1="889.8" x2="1693.3" y2="889.8" stroke="#8c8c8c" stroke-width="1.4"/>
<line x1="1688.3" y1="952.2" x2="1693.3" y2="952.2" stroke="#8c8c8c" stroke-width="1.4"/>
<line x1="1688.3" y1="1013.7" x2="1693.3" y2="1013.7" stroke="#8c8c8c" stroke-width="1.4"/>
<line x1="1704" y1="1058.5" x2="1704" y2="1063.5" stroke="#8c8c8c" stroke-width="1.4"/>
<line x1="1791.9" y1="1058.5" x2="1791.9" y2="1063.5" stroke="#8c8c8c" stroke-width="1.4"/>
<line x1="1880.4" y1="1058.5" x2="1880.4" y2="1063.5" stroke="#8c8c8c" stroke-width="1.4"/>
<line x1="1968.9" y1="1058.5" x2="1968.9" y2="1063.5" stroke="#8c8c8c" stroke-width="1.4"/>
<line x1="2057.3" y1="1058.5" x2="2057.3" y2="1063.5" stroke="#8c8c8c" stroke-width="1.4"/>
<line x1="2145.3" y1="1058.5" x2="2145.3" y2="1063.5" stroke="#8c8c8c" stroke-width="1.4"/>
<text transform="translate(1684.6,775) rotate(-90)" text-anchor="middle" font-size="14.0">3</text>
<text transform="translate(1684.6,833.7) rotate(-90)" text-anchor="middle" font-size="14.0">2</text>
<text transform="translate(1684.6,895.7) rotate(-90)" text-anchor="middle" font-size="14.0">1</text>
<text transform="translate(1684.6,958.7) rotate(-90)" text-anchor="middle" font-size="14.0">0</text>
<text transform="translate(1684.6,1026) rotate(-90)" text-anchor="middle" font-size="14.0">-1.0</text>
<text x="1704" y="1081.9" text-anchor="middle" font-size="14.0">0</text>
<text x="1791.9" y="1081.9" text-anchor="middle" font-size="14.0">2</text>
<text x="1880.4" y="1081.9" text-anchor="middle" font-size="14.0">4</text>
<text x="1968.9" y="1081.9" text-anchor="middle" font-size="14.0">6</text>
<text x="2057.3" y="1081.9" text-anchor="middle" font-size="14.0">8</text>
<text x="2145.3" y="1081.9" text-anchor="middle" font-size="14.0">10</text>
<text x="1947.7" y="1101.6" text-anchor="middle" font-size="13.9">Organic C input (Mg C ha<tspan font-size="8.5" dy="-5.5">-1</tspan><tspan dy="5.5">)</tspan></text>
<text transform="translate(1662.8,903.8) rotate(-90)" text-anchor="middle" font-size="13.9">Change in CH<tspan font-size="9" dy="3">4</tspan><tspan dy="-3"> emission (lnRR)</tspan></text>
<text x="2090.7" y="828.8" font-size="47">(l)</text>
<text x="1710.4" y="826.7" font-size="20.2" textLength="273.8" lengthAdjust="spacingAndGlyphs">SN: lnRR = 0.2222lnx + 0.4803</text>
<text x="1753.4" y="850.3" font-size="20.2" textLength="164.8" lengthAdjust="spacingAndGlyphs"><tspan font-style="italic">P</tspan> &lt; 0.0001 n = 194</text>
<text x="1710.4" y="873.3" font-size="20.2" textLength="257.6" lengthAdjust="spacingAndGlyphs">AN: lnRR = 0.0652x + 0.6327</text>
<text x="1753.4" y="896.4" font-size="20.2" textLength="164.8" lengthAdjust="spacingAndGlyphs"><tspan font-style="italic">P</tspan> = 0.0473 n = 284</text>
<clipPath id="cpm"><rect x="47.3" y="1122.5" width="461" height="292.8"/></clipPath>
<g clip-path="url(#cpm)"><path class="b" stroke-width="5" d="M157.1 1243.2h0M490.4 1317.9h0"/><path class="b" stroke-width="6" d="M136.1 1277.6h0M148.1 1229.2h0M156.8 1264.4h0M176.5 1220.0h0M198.9 1261.6h0"/><path class="b" stroke-width="7" d="M147.8 1219.4h0M204.7 1290.7h0M197.2 1300.5h0M199.9 1270.1h0M214.0 1236.5h0"/><path class="b" stroke-width="8" d="M203.6 1233.8h0M205.3 1268.4h0M200.5 1277.8h0"/><path class="b" stroke-width="9" d="M146.5 1265.5h0"/><path class="b" stroke-width="10" d="M134.2 1273.3h0"/><path class="lb" stroke-width="6" d="M216.4 1288.6h0"/><path class="lb" stroke-width="7" d="M121.9 1279.6h0"/><path class="lb" stroke-width="8" d="M199.4 1179.8h0M138.0 1298.6h0"/><path class="lb" stroke-width="9" d="M122.5 1279.7h0M192.2 1295.5h0M225.8 1284.6h0"/><path class="lb" stroke-width="10" d="M106.2 1306.6h0"/><path class="lb" stroke-width="12" d="M137.6 1293.9h0"/><path class="lo" stroke-width="8" d="M117.1 1316.8h0"/><path class="o" stroke-width="5" d="M213.1 1258.3h0M215.5 1219.2h0M227.2 1252.8h0M226.7 1239.3h0M226.9 1248.9h0"/><path class="o" stroke-width="6" d="M94.7 1308.4h0M149.5 1255.3h0M184.3 1334.1h0M215.9 1245.2h0M277.7 1253.6h0M333.0 1274.4h0"/><path class="o" stroke-width="7" d="M276.7 1241.3h0M276.4 1260.0h0"/><path class="o" stroke-width="8" d="M84.1 1320.1h0M227.4 1310.9h0"/><path class="o" stroke-width="9" d="M226.4 1306.9h0M336.4 1278.3h0"/><path class="o" stroke-width="10" d="M225.0 1305.9h0M227.7 1308.6h0"/><path class="b" stroke-width="4" d="M148.4 1220.2h0M177.6 1273.8h0"/><path class="b" stroke-width="5" d="M156.9 1273.9h0M175.7 1233.9h0M213.3 1214.5h0M214.2 1213.2h0"/><path class="b" stroke-width="6" d="M143.6 1187.2h0M213.8 1209.5h0M267.2 1286.9h0"/><path class="b" stroke-width="7" d="M198.0 1295.0h0"/><path class="b" stroke-width="10" d="M200.1 1269.7h0M202.3 1260.5h0"/><path class="b" stroke-width="11" d="M135.5 1288.8h0M139.9 1260.1h0"/><path class="lb" stroke-width="8" d="M224.4 1294.7h0"/><path class="lb" stroke-width="9" d="M216.1 1302.2h0M208.7 1287.0h0"/><path class="lb" stroke-width="20" d="M127.1 1272.0h0"/><path class="o" stroke-width="5" d="M63.8 1331.0h0M113.4 1298.0h0M214.9 1261.2h0"/><path class="o" stroke-width="6" d="M82.3 1300.7h0M160.2 1297.4h0M226.7 1234.0h0M228.1 1264.5h0"/><path class="o" stroke-width="7" d="M63.5 1332.0h0M73.4 1304.0h0M83.6 1311.8h0M122.0 1336.8h0M127.7 1194.7h0M158.9 1295.8h0"/><path class="o" stroke-width="8" d="M86.9 1294.9h0M147.0 1311.8h0M336.7 1271.5h0"/><path class="o" stroke-width="9" d="M226.9 1305.7h0"/><path class="b" stroke-width="5" d="M149.1 1217.4h0M156.9 1243.2h0M226.9 1274.5h0"/><path class="b" stroke-width="6" d="M108.9 1232.1h0M149.4 1265.2h0M147.9 1283.3h0M175.4 1273.5h0M204.0 1289.9h0M199.5 1285.9h0M203.6 1271.0h0M199.7 1299.2h0M214.4 1257.7h0"/><path class="b" stroke-width="7" d="M157.3 1252.1h0"/><path class="b" stroke-width="8" d="M146.9 1278.3h0M205.3 1251.5h0"/><path class="b" stroke-width="9" d="M138.7 1274.6h0M205.3 1284.3h0M198.8 1267.6h0"/><path class="b" stroke-width="10" d="M204.8 1304.0h0"/><path class="b" stroke-width="12" d="M134.5 1273.1h0"/><path class="lb" stroke-width="6" d="M107.4 1289.1h0"/><path class="lb" stroke-width="7" d="M223.1 1287.1h0"/><path class="lb" stroke-width="8" d="M72.8 1316.8h0M235.0 1285.0h0"/><path class="lb" stroke-width="10" d="M236.7 1365.4h0"/><path class="lo" stroke-width="8" d="M127.1 1148.6h0"/><path class="o" stroke-width="4" d="M214.1 1255.6h0"/><path class="o" stroke-width="5" d="M214.7 1259.2h0M227.8 1249.3h0M277.4 1279.2h0"/><path class="o" stroke-width="6" d="M150.5 1262.4h0M215.4 1227.2h0"/><path class="o" stroke-width="7" d="M94.1 1307.8h0M150.7 1249.7h0M215.2 1271.7h0M277.6 1271.7h0M335.8 1287.7h0"/><path class="o" stroke-width="8" d="M82.9 1305.1h0M335.6 1288.4h0M337.6 1291.6h0"/><path class="o" stroke-width="9" d="M85.3 1304.3h0M223.8 1309.6h0"/><path class="b" stroke-width="5" d="M178.3 1228.3h0"/><path class="b" stroke-width="6" d="M156.8 1264.7h0M214.4 1245.8h0M226.7 1269.5h0M227.3 1278.8h0M490.8 1320.7h0"/><path class="b" stroke-width="8" d="M139.4 1278.2h0"/><path class="b" stroke-width="9" d="M205.7 1256.8h0M199.3 1245.3h0M202.4 1310.7h0M205.6 1306.6h0"/><path class="db" stroke-width="14" d="M238.0 1309.4h0"/><path class="lb" stroke-width="6" d="M199.4 1194.7h0M230.9 1272.3h0"/><path class="lb" stroke-width="7" d="M115.8 1276.9h0M233.0 1293.2h0"/><path class="lb" stroke-width="8" d="M228.7 1272.4h0"/><path class="lb" stroke-width="9" d="M235.1 1296.7h0M237.2 1279.7h0"/><path class="lb" stroke-width="11" d="M100.1 1296.9h0"/><path class="lb" stroke-width="12" d="M380.0 1277.0h0"/><path class="lo" stroke-width="12" d="M176.9 1306.9h0"/><path class="o" stroke-width="4" d="M112.3 1306.8h0"/><path class="o" stroke-width="5" d="M112.7 1290.6h0M213.8 1264.3h0M214.6 1251.3h0M227.1 1249.3h0M278.0 1269.2h0"/><path class="o" stroke-width="6" d="M112.3 1303.3h0M111.9 1297.3h0M215.9 1237.4h0M213.8 1245.3h0M214.9 1286.3h0M278.6 1297.8h0M335.5 1292.7h0"/><path class="o" stroke-width="7" d="M113.0 1296.4h0M213.6 1235.4h0M225.0 1241.9h0M227.3 1247.2h0"/><path class="o" stroke-width="9" d="M335.9 1296.4h0M334.1 1300.2h0"/><path class="o" stroke-width="10" d="M334.0 1293.9h0"/><path class="b" stroke-width="4" d="M212.4 1210.9h0M213.2 1243.9h0"/><path class="b" stroke-width="6" d="M147.2 1254.7h0M146.2 1276.4h0M157.5 1267.2h0M175.5 1235.3h0M198.7 1285.8h0M201.7 1255.6h0M226.8 1287.8h0"/><path class="b" stroke-width="7" d="M144.4 1182.3h0M157.5 1314.4h0M155.8 1284.7h0M199.2 1302.8h0M214.3 1244.1h0"/><path class="b" stroke-width="8" d="M137.0 1274.4h0M148.4 1285.8h0M198.8 1265.9h0M198.3 1312.9h0M197.9 1262.7h0M197.0 1270.5h0"/><path class="b" stroke-width="9" d="M140.9 1296.2h0M204.6 1252.9h0M206.8 1287.9h0M200.2 1265.8h0"/><path class="b" stroke-width="10" d="M200.5 1253.3h0"/><path class="lb" stroke-width="6" d="M72.3 1233.3h0M118.9 1279.0h0"/><path class="lb" stroke-width="7" d="M203.7 1284.1h0"/><path class="lb" stroke-width="8" d="M123.3 1239.6h0"/><path class="lb" stroke-width="9" d="M159.2 1306.2h0M151.4 1291.0h0M219.4 1309.7h0"/><path class="lb" stroke-width="11" d="M129.7 1281.0h0"/><path class="lb" stroke-width="16" d="M143.3 1146.1h0"/><path class="o" stroke-width="5" d="M95.0 1305.7h0M122.1 1336.3h0M215.7 1250.8h0M277.9 1249.8h0"/><path class="o" stroke-width="6" d="M184.1 1333.5h0M226.6 1260.9h0M227.4 1258.3h0"/><path class="o" stroke-width="7" d="M112.1 1295.0h0M149.9 1254.0h0M227.9 1246.6h0"/><path class="o" stroke-width="8" d="M86.3 1320.5h0M225.1 1311.3h0"/><path class="o" stroke-width="9" d="M333.8 1278.4h0"/><path class="o" stroke-width="10" d="M224.8 1309.9h0"/><path class="b" stroke-width="5" d="M148.5 1221.4h0M157.5 1259.3h0M175.5 1270.4h0"/><path class="b" stroke-width="6" d="M136.6 1283.4h0M149.3 1216.6h0M157.3 1256.3h0M177.4 1226.7h0M214.3 1209.7h0M225.9 1263.9h0"/><path class="b" stroke-width="7" d="M176.9 1229.3h0M203.4 1288.8h0M201.1 1285.6h0M197.2 1284.9h0M206.7 1279.2h0M215.3 1250.1h0M215.1 1254.5h0"/><path class="b" stroke-width="8" d="M139.2 1277.2h0"/><path class="b" stroke-width="9" d="M146.2 1266.2h0M135.7 1302.0h0"/><path class="b" stroke-width="10" d="M198.4 1278.8h0"/><path class="b" stroke-width="11" d="M138.4 1275.4h0M139.1 1287.2h0"/><path class="b" stroke-width="12" d="M134.8 1291.4h0"/><path class="lb" stroke-width="6" d="M146.0 1315.8h0M229.3 1285.9h0"/><path class="lb" stroke-width="7" d="M122.6 1298.6h0M212.5 1313.2h0"/><path class="lb" stroke-width="8" d="M64.3 1294.4h0M191.2 1310.8h0"/><path class="lb" stroke-width="10" d="M126.2 1281.2h0"/><path class="lb" stroke-width="11" d="M126.1 1286.1h0"/><path class="lo" stroke-width="6" d="M72.3 1329.3h0"/><path class="o" stroke-width="5" d="M121.6 1335.7h0M158.5 1300.9h0M159.9 1299.5h0M214.9 1256.7h0M278.2 1269.7h0"/><path class="o" stroke-width="6" d="M70.2 1302.9h0M110.5 1294.7h0M214.5 1258.4h0"/><path class="o" stroke-width="7" d="M64.7 1322.0h0M65.2 1331.3h0M87.1 1327.8h0M227.4 1308.2h0M335.4 1281.9h0M335.3 1285.5h0"/><path class="o" stroke-width="8" d="M82.9 1313.6h0M335.6 1296.9h0M333.5 1277.7h0"/><path class="b" stroke-width="6" d="M139.8 1305.3h0M149.9 1218.6h0M156.2 1235.9h0M202.2 1311.1h0"/><path class="b" stroke-width="7" d="M157.2 1238.6h0M205.7 1290.3h0M199.7 1249.6h0M198.4 1310.3h0"/><path class="b" stroke-width="8" d="M134.0 1260.2h0M199.8 1249.9h0"/><path class="b" stroke-width="9" d="M197.1 1277.1h0"/><path class="b" stroke-width="10" d="M139.0 1290.6h0"/><path class="b" stroke-width="11" d="M138.5 1273.7h0"/><path class="db" stroke-width="12" d="M208.1 1239.6h0"/><path class="lb" stroke-width="6" d="M267.9 1323.1h0"/><path class="lb" stroke-width="8" d="M213.2 1296.3h0"/><path class="lb" stroke-width="9" d="M212.6 1262.4h0M208.8 1305.2h0"/><path class="lb" stroke-width="12" d="M145.0 1291.1h0"/><path class="lb" stroke-width="20" d="M112.1 1279.4h0"/><path class="o" stroke-width="4" d="M111.6 1307.0h0"/><path class="o" stroke-width="5" d="M95.0 1308.9h0M112.9 1303.3h0M158.9 1294.5h0M214.5 1230.0h0M213.9 1237.7h0M225.9 1245.8h0M276.7 1269.7h0"/><path class="o" stroke-width="6" d="M149.5 1248.4h0M184.9 1334.7h0M214.6 1252.9h0"/><path class="o" stroke-width="7" d="M72.5 1302.2h0M126.8 1189.7h0M214.8 1273.1h0M215.0 1272.1h0M336.4 1274.6h0M335.6 1292.2h0"/><path class="b" stroke-width="4" d="M227.4 1275.8h0"/><path class="b" stroke-width="5" d="M157.6 1254.8h0M157.8 1269.1h0M212.4 1211.1h0"/><path class="b" stroke-width="6" d="M156.2 1252.0h0M158.1 1251.4h0M176.1 1273.7h0M229.0 1263.7h0M266.5 1264.6h0M267.3 1281.1h0"/><path class="b" stroke-width="7" d="M197.0 1292.8h0M205.1 1279.9h0M202.9 1275.0h0"/><path class="b" stroke-width="8" d="M197.8 1249.7h0M197.4 1261.0h0M203.7 1289.9h0"/><path class="b" stroke-width="9" d="M148.6 1275.9h0"/><path class="b" stroke-width="10" d="M201.0 1280.8h0"/><path class="b" stroke-width="11" d="M138.7 1265.6h0"/><path class="lb" stroke-width="7" d="M147.3 1284.7h0"/><path class="lb" stroke-width="8" d="M216.8 1204.7h0M112.6 1279.6h0M222.4 1299.6h0"/><path class="lb" stroke-width="9" d="M109.8 1296.8h0M212.8 1297.3h0"/><path class="lb" stroke-width="10" d="M98.0 1293.9h0M193.4 1262.1h0"/><path class="lb" stroke-width="11" d="M115.7 1300.2h0"/><path class="o" stroke-width="5" d="M123.0 1337.6h0"/><path class="o" stroke-width="6" d="M85.5 1298.7h0M149.0 1254.0h0M215.5 1264.5h0M223.9 1307.6h0M335.1 1292.4h0"/><path class="o" stroke-width="7" d="M63.4 1343.0h0M86.7 1311.5h0M214.5 1271.8h0M223.7 1308.4h0M226.1 1304.9h0M225.0 1308.2h0M277.6 1296.0h0"/><path class="o" stroke-width="8" d="M84.9 1290.8h0"/><path class="o" stroke-width="9" d="M333.2 1279.8h0M337.2 1280.8h0"/><path class="b" stroke-width="4" d="M214.1 1209.1h0"/><path class="b" stroke-width="5" d="M148.7 1201.0h0M149.1 1206.6h0M225.8 1277.7h0M491.0 1314.0h0"/><path class="b" stroke-width="6" d="M108.9 1257.0h0M157.2 1262.3h0M176.2 1271.4h0M201.2 1279.0h0M215.0 1257.3h0M228.7 1269.8h0M491.2 1314.9h0"/><path class="b" stroke-width="7" d="M133.5 1284.2h0M137.0 1277.2h0M148.5 1222.2h0"/><path class="b" stroke-width="8" d="M146.2 1287.7h0M198.8 1287.8h0"/><path class="b" stroke-width="10" d="M149.0 1290.7h0M145.6 1280.2h0M148.1 1266.8h0M159.5 1274.5h0M203.2 1288.9h0"/><path class="b" stroke-width="11" d="M134.7 1273.9h0M147.0 1268.3h0"/><path class="b" stroke-width="12" d="M143.3 1151.1h0"/><path class="lb" stroke-width="6" d="M238.7 1404.0h0M225.1 1295.8h0"/><path class="lb" stroke-width="7" d="M238.9 1296.8h0"/><path class="lb" stroke-width="8" d="M239.9 1300.7h0M238.5 1303.6h0"/><path class="lb" stroke-width="9" d="M237.2 1289.7h0"/><path class="lb" stroke-width="10" d="M130.1 1292.4h0M96.5 1302.7h0"/><path class="o" stroke-width="5" d="M63.3 1323.3h0M277.0 1282.4h0"/><path class="o" stroke-width="6" d="M111.9 1297.8h0M214.7 1250.5h0M277.5 1287.9h0M333.7 1280.1h0"/><path class="o" stroke-width="7" d="M82.5 1317.7h0M112.6 1307.3h0M225.9 1257.5h0M226.1 1247.5h0M335.6 1285.9h0"/><path class="o" stroke-width="8" d="M337.2 1285.6h0M335.8 1281.5h0"/><path class="b" stroke-width="5" d="M147.8 1204.3h0M176.0 1273.6h0"/><path class="b" stroke-width="6" d="M147.8 1207.2h0M158.0 1249.3h0M177.4 1274.5h0M177.2 1265.9h0M213.3 1209.5h0M269.4 1275.1h0"/><path class="b" stroke-width="7" d="M148.4 1213.8h0M149.4 1209.5h0M490.7 1322.5h0"/><path class="b" stroke-width="8" d="M139.7 1277.8h0M136.0 1285.2h0M200.5 1279.7h0"/><path class="b" stroke-width="9" d="M139.7 1297.5h0M204.8 1244.9h0M197.9 1265.5h0"/><path class="b" stroke-width="10" d="M146.4 1273.7h0M203.0 1271.7h0M201.9 1254.6h0M197.6 1239.7h0"/><path class="b" stroke-width="11" d="M144.7 1287.2h0"/><path class="b" stroke-width="12" d="M137.8 1282.3h0"/><path class="lb" stroke-width="8" d="M73.2 1329.3h0M207.1 1314.6h0"/><path class="lb" stroke-width="11" d="M130.1 1295.8h0"/><path class="lb" stroke-width="12" d="M380.0 1334.3h0"/><path class="lo" stroke-width="10" d="M94.7 1194.7h0"/><path class="o" stroke-width="5" d="M64.9 1330.5h0M113.7 1296.7h0M226.0 1270.6h0"/><path class="o" stroke-width="6" d="M65.0 1328.9h0M64.1 1340.8h0M122.6 1334.3h0M214.3 1249.5h0M213.9 1233.1h0M226.5 1236.5h0M227.5 1251.6h0"/><path class="o" stroke-width="7" d="M63.4 1315.2h0M73.2 1303.6h0M83.6 1296.1h0M111.1 1290.6h0M185.7 1333.7h0M213.8 1264.6h0M228.6 1230.8h0M334.6 1299.7h0"/><path class="o" stroke-width="8" d="M84.3 1319.2h0M223.8 1309.6h0"/><path class="o" stroke-width="9" d="M224.4 1305.4h0"/><path class="o" stroke-width="10" d="M335.8 1281.9h0M333.2 1271.7h0"/><path class="b" stroke-width="5" d="M267.2 1279.3h0"/><path class="b" stroke-width="6" d="M156.4 1252.5h0M197.8 1256.8h0M269.4 1264.0h0"/><path class="b" stroke-width="7" d="M148.3 1211.4h0M157.0 1304.8h0M157.5 1285.1h0"/><path class="b" stroke-width="8" d="M138.2 1255.1h0M202.8 1280.0h0M204.8 1238.3h0M202.4 1299.3h0"/><path class="b" stroke-width="10" d="M143.8 1287.8h0"/><path class="b" stroke-width="11" d="M149.5 1298.8h0"/><path class="lb" stroke-width="6" d="M154.5 1134.9h0M176.9 1178.5h0M223.0 1161.1h0M209.9 1309.5h0"/><path class="lb" stroke-width="7" d="M144.2 1303.7h0"/><path class="lb" stroke-width="9" d="M112.5 1314.7h0M94.5 1290.1h0M220.4 1276.9h0"/><path class="lb" stroke-width="10" d="M229.3 1344.2h0"/><path class="lb" stroke-width="11" d="M142.0 1305.6h0"/><path class="lb" stroke-width="12" d="M141.2 1286.2h0"/><path class="lb" stroke-width="18" d="M127.1 1254.5h0"/><path class="o" stroke-width="5" d="M94.7 1307.7h0M158.1 1295.0h0M278.6 1273.7h0"/><path class="o" stroke-width="6" d="M184.5 1334.9h0M214.0 1260.0h0M277.5 1277.6h0M336.0 1290.3h0"/><path class="o" stroke-width="7" d="M213.2 1281.2h0M225.4 1306.4h0M226.3 1252.7h0M277.5 1265.3h0M278.4 1261.6h0M335.0 1270.1h0M335.4 1282.6h0M336.8 1275.4h0"/><path class="o" stroke-width="8" d="M333.7 1286.4h0M335.0 1272.5h0"/><path class="o" stroke-width="9" d="M333.2 1282.4h0"/><path class="b" stroke-width="4" d="M156.4 1277.7h0"/><path class="b" stroke-width="5" d="M148.6 1232.1h0M148.2 1209.3h0M156.9 1289.9h0M155.5 1289.1h0M156.5 1285.9h0M215.1 1252.9h0"/><path class="b" stroke-width="6" d="M175.9 1218.5h0M215.3 1254.6h0M226.8 1273.4h0M268.6 1278.3h0"/><path class="b" stroke-width="7" d="M204.3 1297.2h0M206.8 1259.0h0"/><path class="b" stroke-width="8" d="M145.5 1285.1h0"/><path class="b" stroke-width="9" d="M199.6 1263.1h0"/><path class="b" stroke-width="10" d="M133.3 1278.9h0M146.0 1296.6h0M203.5 1269.5h0"/><path class="b" stroke-width="11" d="M147.5 1300.7h0M144.5 1272.2h0"/><path class="lb" stroke-width="6" d="M72.3 1257.0h0M176.9 1133.7h0"/><path class="lb" stroke-width="7" d="M96.2 1298.0h0"/><path class="lb" stroke-width="8" d="M193.3 1279.8h0"/><path class="lb" stroke-width="9" d="M120.8 1287.9h0M215.3 1308.8h0"/><path class="lb" stroke-width="11" d="M140.9 1284.2h0M145.9 1291.1h0"/><path class="lb" stroke-width="18" d="M102.2 1294.4h0"/><path class="lo" stroke-width="10" d="M94.7 1222.1h0M140.8 1219.6h0"/><path class="o" stroke-width="5" d="M149.0 1253.9h0M158.5 1301.7h0M214.6 1258.8h0M278.7 1284.0h0"/><path class="o" stroke-width="6" d="M214.9 1245.0h0M215.3 1233.1h0M277.3 1252.2h0"/><path class="o" stroke-width="7" d="M73.9 1299.6h0M215.4 1263.8h0M276.0 1267.3h0"/><path class="o" stroke-width="8" d="M86.8 1299.7h0M82.5 1313.8h0"/><path class="o" stroke-width="9" d="M223.6 1307.4h0"/></g>
<line x1="48.3" y1="1319.3" x2="507.3" y2="1319.3" stroke="#b4b4b4" stroke-width="1.6" stroke-dasharray="3.2 3.1"/>
<rect x="47.3" y="1122.5" width="461" height="292.8" fill="none" stroke="#8c8c8c" stroke-width="1.35"/>
<line x1="42.3" y1="1131.9" x2="47.3" y2="1131.9" stroke="#8c8c8c" stroke-width="1.4"/>
<line x1="42.3" y1="1194.2" x2="47.3" y2="1194.2" stroke="#8c8c8c" stroke-width="1.4"/>
<line x1="42.3" y1="1256.5" x2="47.3" y2="1256.5" stroke="#8c8c8c" stroke-width="1.4"/>
<line x1="42.3" y1="1319.3" x2="47.3" y2="1319.3" stroke="#8c8c8c" stroke-width="1.4"/>
<line x1="42.3" y1="1381.6" x2="47.3" y2="1381.6" stroke="#8c8c8c" stroke-width="1.4"/>
<line x1="127.8" y1="1415.3" x2="127.8" y2="1420.3" stroke="#8c8c8c" stroke-width="1.4"/>
<line x1="234.7" y1="1415.3" x2="234.7" y2="1420.3" stroke="#8c8c8c" stroke-width="1.4"/>
<line x1="341.4" y1="1415.3" x2="341.4" y2="1420.3" stroke="#8c8c8c" stroke-width="1.4"/>
<line x1="448" y1="1415.3" x2="448" y2="1420.3" stroke="#8c8c8c" stroke-width="1.4"/>
<text transform="translate(37.4,1131.9) rotate(-90)" text-anchor="middle" font-size="14.0">3</text>
<text transform="translate(37.4,1194.2) rotate(-90)" text-anchor="middle" font-size="14.0">2</text>
<text transform="translate(37.4,1256.5) rotate(-90)" text-anchor="middle" font-size="14.0">1</text>
<text transform="translate(37.4,1319.3) rotate(-90)" text-anchor="middle" font-size="14.0">0</text>
<text transform="translate(37.4,1381.6) rotate(-90)" text-anchor="middle" font-size="14.0">-1.0</text>
<text x="127.8" y="1435.7" text-anchor="middle" font-size="14.0">10</text>
<text x="234.7" y="1435.7" text-anchor="middle" font-size="14.0">20</text>
<text x="341.4" y="1435.7" text-anchor="middle" font-size="14.0">30</text>
<text x="448" y="1435.7" text-anchor="middle" font-size="14.0">40</text>
<text x="287.8" y="1459.2" text-anchor="middle" font-size="13.9">Initial SOC (g C ha<tspan font-size="8.5" dy="-5.5">-1</tspan><tspan dy="5.5">)</tspan></text>
<text transform="translate(16.7,1262.6) rotate(-90)" text-anchor="middle" font-size="13.9">Change in CH<tspan font-size="9" dy="3">4</tspan><tspan dy="-3"> emission (lnRR)</tspan></text>
<text x="433.8" y="1192.5" font-size="47">(m)</text>
<clipPath id="cpn"><rect x="592.8" y="1127.4" width="462.5" height="292.8"/></clipPath>
<g clip-path="url(#cpn)"><polygon points="671.6,1328 682.9,1327.7 694.3,1327.4 705.6,1327.1 716.9,1326.7 728.3,1326.3 739.6,1325.9 751,1325.4 762.3,1324.9 773.6,1324.3 785,1323.7 796.3,1322.9 807.6,1322 819,1321.1 830.3,1320 841.7,1318.7 853,1317.3 864.3,1315.7 875.7,1314.1 887,1312.3 898.3,1310.4 909.7,1308.4 921,1306.4 932.3,1304.4 943.7,1302.3 955,1300.1 966.4,1298 977.7,1295.8 989,1293.6 1000.4,1291.4 1011.7,1289.2 1011.7,1329.6 1000.4,1329.7 989,1329.8 977.7,1329.9 966.4,1330.1 955,1330.3 943.7,1330.5 932.3,1330.7 921,1330.9 909.7,1331.2 898.3,1331.6 887,1332.1 875.7,1332.6 864.3,1333.2 853,1334 841.7,1334.9 830.3,1336 819,1337.2 807.6,1338.5 796.3,1340 785,1341.5 773.6,1343.2 762.3,1344.9 751,1346.7 739.6,1348.6 728.3,1350.5 716.9,1352.4 705.6,1354.4 694.3,1356.4 682.9,1358.4 671.6,1360.4" fill="#4797d6" fill-opacity="1"/><path class="b" stroke-width="4" d="M809.4 1317.6h0"/><path class="b" stroke-width="5" d="M819.9 1264.3h0M855.6 1315.9h0M883.1 1250.3h0M968.9 1303.7h0M969.2 1292.7h0M970.3 1312.3h0M969.9 1310.2h0"/><path class="b" stroke-width="6" d="M670.3 1368.2h0M682.1 1348.6h0M681.3 1355.6h0M771.4 1301.4h0M771.2 1283.3h0M809.2 1314.0h0M809.0 1313.6h0M819.9 1269.1h0M857.3 1354.6h0M883.7 1253.7h0M971.9 1296.1h0M970.5 1290.1h0"/><path class="b" stroke-width="7" d="M681.6 1344.5h0M680.5 1340.1h0M810.0 1293.0h0M855.8 1327.6h0M882.5 1335.7h0M768.6 1343.2h0M847.2 1334.7h0"/><path class="b" stroke-width="9" d="M684.4 1352.1h0M847.3 1345.4h0"/><path class="lb" stroke-width="6" d="M873.9 1250.8h0"/><path class="lb" stroke-width="8" d="M734.0 1327.6h0M937.2 1338.7h0"/><path class="lb" stroke-width="9" d="M945.4 1363.2h0M898.6 1323.8h0"/><path class="lb" stroke-width="10" d="M922.4 1302.8h0"/><path class="lo" stroke-width="7" d="M800.8 1334.7h0M799.0 1337.7h0"/><path class="lo" stroke-width="8" d="M609.8 1351.7h0M855.2 1284.4h0M897.6 1267.0h0M1003.5 1366.7h0"/><path class="lo" stroke-width="9" d="M800.8 1314.4h0M800.4 1316.6h0"/><path class="o" stroke-width="5" d="M883.6 1352.0h0M1040.1 1369.2h0"/><path class="o" stroke-width="6" d="M884.3 1335.2h0M884.3 1350.9h0M983.8 1379.9h0M983.9 1363.1h0M806.9 1333.7h0"/><path class="o" stroke-width="7" d="M799.1 1357.7h0M798.4 1360.8h0M835.8 1371.4h0M836.8 1375.0h0M884.3 1337.4h0M884.2 1358.3h0M982.9 1348.8h0"/><path class="o" stroke-width="8" d="M801.2 1362.2h0M798.5 1357.8h0M860.4 1339.9h0M799.5 1366.0h0"/><path class="o" stroke-width="9" d="M802.8 1349.8h0M850.1 1354.8h0"/><path class="o" stroke-width="11" d="M860.5 1344.4h0"/><path class="b" stroke-width="4" d="M809.4 1308.4h0M884.4 1270.7h0"/><path class="b" stroke-width="5" d="M807.8 1320.8h0M819.1 1282.9h0M818.5 1269.1h0M856.4 1307.0h0M857.0 1323.2h0M883.9 1278.6h0M969.0 1284.6h0M975.5 1373.3h0"/><path class="b" stroke-width="6" d="M687.8 1358.6h0M771.5 1320.8h0M770.9 1309.8h0"/><path class="b" stroke-width="7" d="M684.3 1340.8h0M882.5 1257.3h0"/><path class="lb" stroke-width="7" d="M707.7 1328.8h0M1005.8 1342.3h0"/><path class="lb" stroke-width="8" d="M888.0 1342.5h0"/><path class="lb" stroke-width="9" d="M1005.0 1321.9h0M717.9 1298.4h0M931.0 1287.8h0"/><path class="lb" stroke-width="18" d="M746.8 1356.7h0"/><path class="lb" stroke-width="24" d="M744.3 1362.9h0"/><path class="lo" stroke-width="7" d="M799.4 1358.8h0"/><path class="lo" stroke-width="8" d="M745.6 1298.1h0M800.9 1349.8h0"/><path class="o" stroke-width="5" d="M681.4 1382.6h0M807.1 1346.5h0"/><path class="o" stroke-width="6" d="M856.5 1352.7h0M1038.8 1369.4h0M801.3 1361.5h0M817.6 1360.1h0"/><path class="o" stroke-width="7" d="M680.4 1381.1h0M813.3 1348.4h0M811.6 1379.8h0M803.4 1365.6h0M799.0 1359.1h0M853.8 1341.7h0M809.4 1354.4h0"/><path class="o" stroke-width="8" d="M791.6 1363.1h0M790.1 1356.7h0"/><path class="o" stroke-width="9" d="M809.3 1356.6h0M815.6 1355.8h0"/><path class="o" stroke-width="10" d="M856.9 1354.2h0M863.9 1364.2h0"/><path class="b" stroke-width="5" d="M770.9 1309.2h0M818.5 1270.6h0M819.8 1284.3h0M975.3 1356.5h0"/><path class="b" stroke-width="6" d="M680.8 1351.2h0M809.6 1341.7h0M819.2 1271.0h0M856.8 1312.4h0M883.0 1260.6h0M974.3 1367.2h0"/><path class="b" stroke-width="7" d="M770.9 1309.6h0M856.7 1337.0h0M883.5 1252.2h0M969.8 1296.0h0"/><path class="b" stroke-width="8" d="M683.1 1348.6h0M791.7 1314.3h0M755.9 1333.7h0"/><path class="b" stroke-width="12" d="M725.6 1301.9h0"/><path class="lb" stroke-width="6" d="M819.6 1343.7h0"/><path class="lb" stroke-width="7" d="M959.4 1358.7h0M836.9 1333.8h0"/><path class="lb" stroke-width="8" d="M925.6 1343.8h0M788.5 1315.3h0"/><path class="lb" stroke-width="9" d="M904.8 1316.5h0"/><path class="lo" stroke-width="8" d="M609.8 1277.0h0M763.0 1391.6h0"/><path class="o" stroke-width="5" d="M806.4 1330.6h0"/><path class="o" stroke-width="6" d="M884.4 1326.6h0M982.5 1345.7h0M804.0 1313.1h0"/><path class="o" stroke-width="7" d="M883.8 1360.2h0"/><path class="o" stroke-width="8" d="M796.3 1285.6h0M795.1 1300.0h0M815.9 1347.7h0"/><path class="o" stroke-width="9" d="M849.0 1353.3h0M849.2 1352.4h0M821.1 1341.5h0"/><path class="o" stroke-width="10" d="M849.5 1355.2h0"/><path class="b" stroke-width="5" d="M808.9 1292.4h0"/><path class="b" stroke-width="6" d="M819.5 1258.1h0M820.5 1282.7h0M968.6 1305.1h0M970.1 1302.9h0M974.9 1374.5h0"/><path class="b" stroke-width="7" d="M809.0 1322.0h0M857.0 1290.2h0M969.7 1302.9h0M969.7 1303.7h0"/><path class="b" stroke-width="8" d="M701.3 1307.7h0M693.2 1339.9h0M834.1 1323.1h0"/><path class="lb" stroke-width="6" d="M936.1 1302.3h0"/><path class="lb" stroke-width="8" d="M729.4 1364.2h0M723.6 1299.3h0"/><path class="lb" stroke-width="9" d="M755.1 1322.4h0M786.7 1332.9h0M914.9 1342.7h0"/><path class="lb" stroke-width="10" d="M863.9 1377.9h0"/><path class="lo" stroke-width="7" d="M799.8 1324.4h0M800.4 1290.2h0"/><path class="lo" stroke-width="8" d="M948.7 1364.2h0"/><path class="lo" stroke-width="9" d="M800.0 1329.1h0"/><path class="o" stroke-width="5" d="M885.0 1337.8h0M883.9 1342.4h0M807.1 1350.4h0"/><path class="o" stroke-width="6" d="M800.3 1361.2h0M858.1 1346.2h0M883.0 1320.4h0M882.6 1341.4h0M884.5 1351.0h0M883.7 1326.0h0M1038.5 1369.5h0"/><path class="o" stroke-width="7" d="M808.5 1357.9h0M885.5 1337.6h0M814.1 1352.2h0"/><path class="o" stroke-width="8" d="M797.4 1369.6h0M796.0 1355.4h0"/><path class="o" stroke-width="9" d="M860.0 1345.1h0"/><path class="o" stroke-width="11" d="M850.1 1350.2h0M850.3 1355.6h0"/><path class="b" stroke-width="5" d="M672.4 1363.6h0M772.0 1318.2h0M771.2 1307.4h0M818.2 1283.5h0M857.1 1331.6h0M882.9 1257.6h0M883.7 1259.5h0M969.1 1282.2h0M969.9 1312.0h0"/><path class="b" stroke-width="6" d="M672.2 1367.4h0M681.2 1344.2h0M809.4 1327.2h0M855.3 1300.2h0M884.9 1238.1h0M975.0 1359.9h0M707.9 1335.8h0M704.5 1324.5h0M760.6 1317.9h0"/><path class="b" stroke-width="7" d="M686.7 1348.3h0M770.5 1317.4h0M808.3 1310.4h0M856.1 1321.9h0"/><path class="b" stroke-width="8" d="M683.9 1344.6h0"/><path class="b" stroke-width="9" d="M830.0 1323.7h0M881.1 1341.1h0M733.9 1335.4h0"/><path class="b" stroke-width="10" d="M687.5 1345.3h0"/><path class="lb" stroke-width="7" d="M885.5 1306.5h0M811.4 1310.2h0M780.3 1286.0h0"/><path class="lb" stroke-width="8" d="M851.7 1300.4h0M850.3 1311.9h0M735.8 1291.3h0M988.4 1317.0h0M973.5 1304.0h0"/><path class="lb" stroke-width="9" d="M873.4 1284.6h0M855.6 1316.5h0M920.9 1328.3h0M730.3 1371.7h0"/><path class="lb" stroke-width="10" d="M857.1 1348.2h0"/><path class="lo" stroke-width="7" d="M800.9 1348.0h0"/><path class="lo" stroke-width="8" d="M983.6 1159.8h0"/><path class="o" stroke-width="5" d="M982.9 1367.9h0M984.3 1378.1h0"/><path class="o" stroke-width="6" d="M984.1 1360.7h0"/><path class="o" stroke-width="7" d="M794.7 1325.0h0M789.9 1371.9h0M795.2 1349.1h0M802.3 1364.4h0M810.4 1356.3h0M803.1 1365.9h0"/><path class="o" stroke-width="8" d="M805.2 1345.7h0M798.0 1355.3h0M810.1 1360.0h0M790.5 1354.8h0M851.6 1354.7h0M849.7 1351.5h0M859.5 1360.4h0M802.7 1361.9h0"/><path class="o" stroke-width="10" d="M795.6 1359.4h0M860.5 1358.9h0"/><path class="o" stroke-width="11" d="M849.0 1353.1h0M854.4 1345.8h0"/><path class="b" stroke-width="5" d="M771.1 1319.4h0M771.4 1283.3h0M855.9 1313.2h0M856.8 1350.3h0M970.3 1304.2h0"/><path class="b" stroke-width="6" d="M772.7 1324.2h0M811.1 1308.2h0M820.2 1276.8h0M970.4 1309.1h0M975.3 1362.6h0"/><path class="b" stroke-width="7" d="M685.3 1346.4h0M807.7 1329.0h0M970.7 1310.2h0M832.4 1330.1h0"/><path class="b" stroke-width="8" d="M885.1 1328.0h0"/><path class="b" stroke-width="9" d="M681.4 1354.5h0M855.1 1341.6h0M837.0 1331.3h0"/><path class="b" stroke-width="14" d="M883.9 1202.7h0"/><path class="db" stroke-width="12" d="M863.9 1296.9h0"/><path class="lb" stroke-width="7" d="M673.8 1348.4h0M921.1 1338.2h0M789.7 1344.1h0"/><path class="lb" stroke-width="12" d="M883.9 1209.7h0"/><path class="lo" stroke-width="7" d="M800.2 1319.8h0"/><path class="lo" stroke-width="8" d="M836.5 1253.3h0M983.6 1179.8h0M798.8 1347.9h0M799.9 1294.9h0"/><path class="o" stroke-width="4" d="M884.1 1326.4h0"/><path class="o" stroke-width="5" d="M883.8 1354.1h0M984.0 1364.3h0M805.2 1326.5h0"/><path class="o" stroke-width="6" d="M679.5 1383.6h0"/><path class="o" stroke-width="7" d="M805.0 1339.8h0M797.9 1355.2h0M802.6 1353.6h0M884.3 1355.5h0"/><path class="o" stroke-width="8" d="M808.3 1361.9h0M860.6 1357.8h0"/><path class="o" stroke-width="9" d="M792.4 1355.8h0M856.0 1355.2h0"/><path class="b" stroke-width="5" d="M772.2 1315.9h0M808.2 1312.7h0M809.1 1302.6h0M970.6 1281.6h0"/><path class="b" stroke-width="6" d="M688.1 1358.9h0M883.6 1246.9h0M883.4 1278.5h0M883.5 1245.2h0M883.3 1257.1h0M971.1 1296.7h0M973.7 1352.0h0"/><path class="b" stroke-width="7" d="M772.0 1297.6h0M771.8 1317.7h0M883.2 1255.9h0M746.3 1313.9h0"/><path class="b" stroke-width="8" d="M683.2 1336.8h0M751.9 1317.7h0"/><path class="lb" stroke-width="6" d="M974.6 1335.4h0M713.4 1350.3h0"/><path class="lb" stroke-width="7" d="M683.8 1318.3h0"/><path class="lb" stroke-width="8" d="M936.2 1331.8h0M977.5 1338.6h0M835.3 1316.4h0"/><path class="lb" stroke-width="16" d="M764.3 1361.7h0"/><path class="lo" stroke-width="8" d="M983.6 1208.4h0M799.2 1348.9h0M800.1 1350.9h0"/><path class="lo" stroke-width="9" d="M983.4 1252.0h0"/><path class="o" stroke-width="5" d="M836.0 1370.3h0M836.8 1372.0h0M845.6 1386.6h0M884.0 1323.0h0M885.0 1342.5h0M883.7 1342.3h0M805.8 1323.7h0"/><path class="o" stroke-width="6" d="M680.0 1385.9h0M681.5 1382.3h0M885.6 1349.6h0M883.4 1362.0h0M983.8 1354.3h0M806.3 1328.0h0M806.8 1331.5h0"/><path class="o" stroke-width="7" d="M860.9 1345.5h0M850.3 1359.5h0M860.1 1364.3h0M984.2 1348.0h0M984.3 1351.3h0M984.0 1347.4h0M805.5 1304.4h0"/><path class="o" stroke-width="10" d="M813.4 1363.9h0M802.9 1362.1h0M853.5 1354.8h0"/><path class="b" stroke-width="5" d="M772.0 1282.1h0M772.7 1279.4h0M808.8 1309.5h0M856.7 1316.7h0M883.3 1270.9h0M883.6 1275.3h0"/><path class="b" stroke-width="6" d="M770.8 1297.9h0M807.7 1289.2h0M819.7 1270.4h0M883.3 1261.0h0M882.6 1269.6h0M884.1 1244.6h0"/><path class="b" stroke-width="7" d="M684.6 1344.5h0M770.6 1314.4h0M808.4 1315.0h0M883.4 1257.8h0"/><path class="b" stroke-width="8" d="M681.9 1304.1h0"/><path class="lb" stroke-width="7" d="M860.2 1324.0h0M1011.4 1312.7h0"/><path class="lb" stroke-width="9" d="M955.3 1332.6h0"/><path class="lb" stroke-width="10" d="M830.0 1329.7h0M940.6 1302.5h0"/><path class="lo" stroke-width="8" d="M799.5 1353.4h0"/><path class="o" stroke-width="5" d="M883.8 1346.3h0M983.3 1366.2h0M983.6 1366.5h0"/><path class="o" stroke-width="6" d="M845.4 1394.1h0M849.1 1339.7h0M884.1 1314.8h0M805.4 1320.5h0"/><path class="o" stroke-width="7" d="M791.6 1331.4h0M789.7 1362.5h0M804.1 1352.5h0M884.1 1331.9h0M805.9 1343.8h0"/><path class="o" stroke-width="8" d="M851.3 1361.1h0"/><path class="o" stroke-width="9" d="M792.0 1338.8h0M858.3 1363.8h0M811.0 1356.0h0"/><path class="o" stroke-width="11" d="M856.8 1344.7h0"/><path class="b" stroke-width="4" d="M820.0 1259.3h0"/><path class="b" stroke-width="5" d="M819.7 1278.3h0M975.0 1360.9h0"/><path class="b" stroke-width="6" d="M772.3 1296.1h0M819.0 1274.4h0M819.7 1275.2h0M856.5 1331.7h0M969.6 1289.8h0"/><path class="b" stroke-width="7" d="M687.4 1358.8h0M819.0 1274.8h0M885.9 1287.8h0M970.5 1290.0h0M831.7 1340.4h0"/><path class="b" stroke-width="8" d="M682.9 1354.6h0"/><path class="b" stroke-width="9" d="M685.0 1345.2h0"/><path class="b" stroke-width="12" d="M736.9 1260.8h0"/><path class="lb" stroke-width="6" d="M913.4 1345.9h0M823.5 1322.9h0"/><path class="lb" stroke-width="8" d="M918.3 1321.1h0"/><path class="lb" stroke-width="12" d="M683.3 1314.3h0"/><path class="lo" stroke-width="10" d="M855.2 1137.4h0M855.2 1179.8h0"/><path class="o" stroke-width="5" d="M982.7 1353.7h0M984.0 1362.2h0M804.5 1330.5h0"/><path class="o" stroke-width="6" d="M791.7 1339.1h0M790.5 1332.2h0M884.9 1322.7h0"/><path class="o" stroke-width="7" d="M792.4 1361.7h0M853.0 1354.3h0M983.8 1373.6h0"/><path class="o" stroke-width="8" d="M794.0 1357.6h0M861.0 1353.4h0M854.5 1344.0h0M822.4 1360.5h0"/><path class="o" stroke-width="9" d="M796.4 1336.6h0M811.2 1360.1h0M816.1 1360.2h0"/><path class="b" stroke-width="4" d="M968.9 1289.6h0"/><path class="b" stroke-width="5" d="M772.1 1281.8h0M807.9 1300.3h0M809.3 1357.6h0M819.7 1271.0h0M884.6 1264.6h0M969.9 1309.5h0"/><path class="b" stroke-width="6" d="M673.3 1366.1h0M808.9 1344.2h0M808.4 1320.5h0M819.9 1277.8h0M857.9 1313.5h0M856.3 1328.4h0"/><path class="b" stroke-width="7" d="M969.9 1312.4h0M894.6 1330.0h0"/><path class="b" stroke-width="8" d="M682.4 1350.6h0M720.5 1338.3h0"/><path class="b" stroke-width="9" d="M720.2 1320.5h0"/><path class="b" stroke-width="10" d="M685.5 1348.3h0"/><path class="db" stroke-width="14" d="M925.0 1366.7h0"/><path class="lb" stroke-width="7" d="M685.6 1322.2h0M947.3 1323.4h0"/><path class="lb" stroke-width="8" d="M684.8 1331.0h0M692.1 1330.0h0M784.7 1314.5h0M844.0 1293.0h0"/><path class="lb" stroke-width="9" d="M757.9 1287.6h0M756.0 1360.5h0M715.9 1319.3h0"/><path class="lb" stroke-width="12" d="M844.0 1309.4h0"/><path class="lo" stroke-width="7" d="M983.3 1244.6h0"/><path class="lo" stroke-width="8" d="M609.8 1341.7h0M873.9 1391.6h0M897.6 1311.8h0"/><path class="lo" stroke-width="9" d="M799.1 1314.2h0"/><path class="o" stroke-width="5" d="M837.4 1366.5h0M983.3 1347.7h0"/><path class="o" stroke-width="6" d="M810.6 1356.7h0M801.9 1356.9h0M809.7 1367.2h0M885.5 1346.1h0M883.7 1345.1h0"/><path class="o" stroke-width="7" d="M806.9 1303.0h0M793.5 1352.2h0M792.2 1362.1h0M801.6 1361.6h0M792.2 1359.3h0M853.7 1344.8h0M882.4 1361.8h0M1039.2 1371.0h0M809.0 1353.4h0"/><path class="b" stroke-width="5" d="M672.2 1366.8h0M807.9 1314.4h0M819.5 1273.9h0M884.7 1248.1h0M883.9 1279.3h0"/><path class="b" stroke-width="6" d="M671.5 1362.3h0M808.8 1294.9h0M819.2 1264.8h0M819.3 1262.2h0M856.2 1320.4h0M973.6 1350.9h0M770.4 1342.9h0"/><path class="b" stroke-width="7" d="M809.8 1334.2h0M857.8 1327.6h0M883.3 1268.7h0M970.6 1306.8h0M968.7 1310.2h0M809.4 1347.8h0M808.6 1335.0h0M742.2 1328.3h0"/><path class="b" stroke-width="8" d="M680.4 1362.3h0M782.9 1315.7h0"/><path class="b" stroke-width="9" d="M687.2 1353.2h0M834.1 1327.9h0"/><path class="lb" stroke-width="6" d="M873.9 1237.1h0M891.4 1280.7h0"/><path class="lb" stroke-width="7" d="M906.9 1310.3h0M722.3 1331.9h0"/><path class="lb" stroke-width="8" d="M732.6 1311.9h0"/><path class="lb" stroke-width="9" d="M770.3 1330.4h0"/><path class="lb" stroke-width="10" d="M993.5 1371.6h0"/><path class="o" stroke-width="4" d="M883.0 1340.4h0"/><path class="o" stroke-width="5" d="M884.6 1351.8h0M883.8 1350.3h0M984.3 1361.6h0M983.1 1348.9h0M1039.5 1369.4h0"/><path class="o" stroke-width="6" d="M883.3 1339.8h0M982.4 1363.7h0"/><path class="o" stroke-width="7" d="M813.9 1365.4h0M810.6 1364.0h0M884.1 1338.6h0"/><path class="o" stroke-width="8" d="M809.5 1359.2h0"/><path class="o" stroke-width="9" d="M860.7 1356.1h0M851.4 1345.7h0"/><path class="o" stroke-width="10" d="M815.2 1357.0h0M861.2 1354.2h0M858.2 1357.1h0M860.2 1349.7h0"/><path class="o" stroke-width="11" d="M858.3 1364.8h0M851.6 1351.1h0"/><path class="b" stroke-width="5" d="M771.4 1318.0h0M808.1 1321.5h0M970.1 1329.2h0"/><path class="b" stroke-width="6" d="M883.4 1255.6h0M804.5 1311.5h0"/><path class="b" stroke-width="7" d="M673.0 1364.1h0M810.1 1320.4h0"/><path class="b" stroke-width="8" d="M687.5 1337.3h0M791.7 1289.4h0M685.9 1327.0h0M884.2 1340.5h0M680.1 1330.1h0"/><path class="b" stroke-width="9" d="M685.0 1348.5h0"/><path class="lb" stroke-width="6" d="M940.7 1298.5h0"/><path class="lb" stroke-width="7" d="M675.4 1328.0h0M715.3 1304.1h0M711.0 1330.2h0"/><path class="lb" stroke-width="8" d="M811.0 1354.5h0M838.4 1336.2h0"/><path class="lb" stroke-width="9" d="M919.3 1307.9h0"/><path class="lb" stroke-width="10" d="M740.3 1282.8h0"/><path class="lb" stroke-width="12" d="M910.0 1345.5h0"/><path class="lo" stroke-width="6" d="M721.9 1364.2h0"/><path class="lo" stroke-width="7" d="M799.7 1328.0h0"/><path class="lo" stroke-width="8" d="M736.9 1354.2h0M836.5 1279.4h0"/><path class="o" stroke-width="4" d="M883.7 1340.9h0"/><path class="o" stroke-width="5" d="M984.2 1359.0h0M805.7 1333.7h0"/><path class="o" stroke-width="6" d="M810.6 1355.3h0M812.9 1366.4h0M883.8 1359.0h0"/><path class="o" stroke-width="7" d="M792.4 1351.0h0M855.0 1346.5h0M857.1 1342.1h0M790.0 1357.2h0M802.5 1352.6h0"/><path class="o" stroke-width="8" d="M791.8 1337.2h0M855.3 1342.9h0"/><path class="o" stroke-width="9" d="M789.5 1313.5h0M802.1 1302.1h0M860.3 1349.3h0M826.5 1358.2h0"/><path class="o" stroke-width="10" d="M789.8 1358.4h0M852.8 1360.7h0"/><polyline points="671.6,1344.2 1011.7,1309.4" fill="none" stroke="#1d4f7c" stroke-width="1.3"/></g>
<line x1="593.8" y1="1375.4" x2="1054.3" y2="1375.4" stroke="#b4b4b4" stroke-width="1.6" stroke-dasharray="3.2 3.1"/>
<rect x="592.8" y="1127.4" width="462.5" height="292.8" fill="none" stroke="#8c8c8c" stroke-width="1.35"/>
<line x1="587.8" y1="1127.9" x2="592.8" y2="1127.9" stroke="#8c8c8c" stroke-width="1.4"/>
<line x1="587.8" y1="1189.7" x2="592.8" y2="1189.7" stroke="#8c8c8c" stroke-width="1.4"/>
<line x1="587.8" y1="1252" x2="592.8" y2="1252" stroke="#8c8c8c" stroke-width="1.4"/>
<line x1="587.8" y1="1313.8" x2="592.8" y2="1313.8" stroke="#8c8c8c" stroke-width="1.4"/>
<line x1="587.8" y1="1375.4" x2="592.8" y2="1375.4" stroke="#8c8c8c" stroke-width="1.4"/>
<line x1="616" y1="1420.2" x2="616" y2="1425.2" stroke="#8c8c8c" stroke-width="1.4"/>
<line x1="708.7" y1="1420.2" x2="708.7" y2="1425.2" stroke="#8c8c8c" stroke-width="1.4"/>
<line x1="800.4" y1="1420.2" x2="800.4" y2="1425.2" stroke="#8c8c8c" stroke-width="1.4"/>
<line x1="892.1" y1="1420.2" x2="892.1" y2="1425.2" stroke="#8c8c8c" stroke-width="1.4"/>
<line x1="984" y1="1420.2" x2="984" y2="1425.2" stroke="#8c8c8c" stroke-width="1.4"/>
<text transform="translate(582.4,1130.8) rotate(-90)" text-anchor="middle" font-size="14.0">4</text>
<text transform="translate(582.4,1189.7) rotate(-90)" text-anchor="middle" font-size="14.0">3</text>
<text transform="translate(582.4,1252) rotate(-90)" text-anchor="middle" font-size="14.0">2</text>
<text transform="translate(582.4,1313.8) rotate(-90)" text-anchor="middle" font-size="14.0">1</text>
<text transform="translate(582.4,1375.4) rotate(-90)" text-anchor="middle" font-size="14.0">0</text>
<text x="616" y="1440.6" text-anchor="middle" font-size="14.0">4</text>
<text x="708.7" y="1440.6" text-anchor="middle" font-size="14.0">5</text>
<text x="800.4" y="1440.6" text-anchor="middle" font-size="14.0">6</text>
<text x="892.1" y="1440.6" text-anchor="middle" font-size="14.0">7</text>
<text x="984" y="1440.6" text-anchor="middle" font-size="14.0">8</text>
<text x="834" y="1463" text-anchor="middle" font-size="13.9">Soil pH</text>
<text transform="translate(562.9,1267.6) rotate(-90)" text-anchor="middle" font-size="13.9">Change in CH<tspan font-size="9" dy="3">4</tspan><tspan dy="-3"> emission (lnRR)</tspan></text>
<text x="986.2" y="1192.5" font-size="47">(n)</text>
<text x="608.7" y="1205.9" font-size="20.2" textLength="251.9" lengthAdjust="spacingAndGlyphs">AN: lnRR = 0.1515x - 0.1951</text>
<text x="652" y="1229.1" font-size="20.2" textLength="153.8" lengthAdjust="spacingAndGlyphs"><tspan font-style="italic">P</tspan> = 0.041 n = 280</text>
<clipPath id="cpo"><rect x="1151.8" y="1120" width="461.5" height="292.8"/></clipPath>
<g clip-path="url(#cpo)"><polygon points="1168.5,1334.9 1182.8,1334.2 1197,1333.4 1211.3,1332.6 1225.6,1331.8 1239.8,1331 1254.1,1330.2 1268.4,1329.3 1282.7,1328.4 1296.9,1327.5 1311.2,1326.6 1325.5,1325.6 1339.7,1324.6 1354,1323.6 1368.3,1322.6 1382.5,1321.5 1396.8,1320.4 1411.1,1319.3 1425.4,1318.2 1439.6,1317 1453.9,1315.8 1468.2,1314.6 1482.4,1313.4 1496.7,1312.2 1511,1310.9 1525.2,1309.7 1539.5,1308.4 1553.8,1307.1 1568.1,1305.8 1582.3,1304.4 1596.6,1303.1 1596.6,1335.5 1582.3,1336.3 1568.1,1337.1 1553.8,1338 1539.5,1338.9 1525.2,1339.7 1511,1340.6 1496.7,1341.5 1482.4,1342.5 1468.2,1343.4 1453.9,1344.4 1439.6,1345.4 1425.4,1346.4 1411.1,1347.4 1396.8,1348.4 1382.5,1349.5 1368.3,1350.6 1354,1351.7 1339.7,1352.9 1325.5,1354 1311.2,1355.2 1296.9,1356.4 1282.7,1357.7 1268.4,1359 1254.1,1360.3 1239.8,1361.6 1225.6,1362.9 1211.3,1364.3 1197,1365.7 1182.8,1367.1 1168.5,1368.5" fill="#f28a40" fill-opacity="1"/><path class="b" stroke-width="5" d="M1519.6 1351.1h0M1576.4 1246.5h0"/><path class="b" stroke-width="7" d="M1537.1 1240.5h0"/><path class="b" stroke-width="14" d="M1536.0 1196.0h0"/><path class="lb" stroke-width="6" d="M1362.8 1278.0h0"/><path class="lb" stroke-width="8" d="M1463.4 1343.0h0M1392.6 1323.0h0"/><path class="lo" stroke-width="6" d="M1566.2 1344.7h0"/><path class="lo" stroke-width="10" d="M1349.0 1130.0h0"/><path class="o" stroke-width="5" d="M1299.1 1360.6h0"/><path class="o" stroke-width="6" d="M1301.3 1345.4h0"/><path class="o" stroke-width="7" d="M1299.1 1345.3h0"/><path class="b" stroke-width="5" d="M1368.4 1326.7h0M1469.4 1264.2h0"/><path class="b" stroke-width="6" d="M1535.5 1258.3h0M1355.0 1290.0h0"/><path class="b" stroke-width="8" d="M1282.6 1336.7h0"/><path class="lb" stroke-width="5" d="M1292.8 1305.0h0"/><path class="lb" stroke-width="7" d="M1434.6 1311.0h0M1400.7 1231.8h0"/><path class="lb" stroke-width="8" d="M1571.3 1305.1h0M1571.1 1290.8h0"/><path class="lb" stroke-width="14" d="M1472.0 1305.3h0"/><path class="lo" stroke-width="6" d="M1200.8 1381.5h0"/><path class="lo" stroke-width="8" d="M1168.0 1386.3h0M1299.0 1152.0h0"/><path class="o" stroke-width="5" d="M1597.1 1295.8h0"/><path class="o" stroke-width="6" d="M1298.0 1365.9h0M1349.3 1308.6h0M1497.4 1380.9h0M1497.3 1380.4h0"/><path class="b" stroke-width="6" d="M1533.5 1252.5h0"/><path class="b" stroke-width="7" d="M1550.1 1318.5h0"/><path class="b" stroke-width="8" d="M1425.4 1283.4h0M1430.0 1265.0h0"/><path class="lb" stroke-width="6" d="M1504.4 1300.2h0M1546.1 1338.6h0M1501.5 1238.8h0"/><path class="lb" stroke-width="7" d="M1486.2 1263.4h0"/><path class="lb" stroke-width="8" d="M1496.2 1317.8h0M1528.5 1267.0h0M1503.6 1230.0h0"/><path class="lb" stroke-width="10" d="M1615.0 1318.0h0"/><path class="lo" stroke-width="9" d="M1201.2 1381.7h0"/><path class="b" stroke-width="6" d="M1559.5 1302.3h0M1373.6 1309.1h0"/><path class="b" stroke-width="7" d="M1417.6 1290.0h0"/><path class="b" stroke-width="8" d="M1436.0 1240.0h0"/><path class="db" stroke-width="12" d="M1450.5 1348.0h0"/><path class="lb" stroke-width="7" d="M1573.1 1315.5h0"/><path class="lb" stroke-width="8" d="M1558.3 1292.1h0"/><path class="lb" stroke-width="22" d="M1284.0 1358.6h0"/><path class="lo" stroke-width="6" d="M1553.2 1345.4h0M1177.0 1350.8h0"/><path class="lo" stroke-width="7" d="M1571.0 1353.3h0M1438.7 1355.3h0"/><path class="lo" stroke-width="8" d="M1348.0 1275.0h0"/><path class="o" stroke-width="5" d="M1397.8 1316.8h0M1547.1 1314.4h0M1596.4 1316.2h0"/><path class="o" stroke-width="7" d="M1298.7 1343.7h0"/><path class="b" stroke-width="5" d="M1448.4 1319.1h0"/><path class="b" stroke-width="6" d="M1400.6 1261.5h0"/><path class="b" stroke-width="7" d="M1428.2 1331.7h0M1459.3 1285.2h0"/><path class="b" stroke-width="8" d="M1342.5 1297.8h0M1569.2 1337.5h0M1513.0 1350.0h0"/><path class="lb" stroke-width="6" d="M1480.1 1340.8h0M1513.0 1247.2h0"/><path class="lb" stroke-width="8" d="M1447.0 1244.4h0M1508.4 1302.7h0M1458.8 1240.3h0"/><path class="lb" stroke-width="9" d="M1298.8 1266.1h0"/><path class="lb" stroke-width="14" d="M1442.0 1284.0h0"/><path class="lo" stroke-width="6" d="M1398.7 1342.0h0"/><path class="lo" stroke-width="7" d="M1447.9 1344.5h0"/><path class="lo" stroke-width="8" d="M1255.0 1390.0h0M1185.0 1247.0h0"/><path class="lo" stroke-width="16" d="M1546.5 1356.0h0"/><path class="o" stroke-width="5" d="M1496.9 1368.8h0"/><path class="o" stroke-width="6" d="M1266.1 1365.7h0M1398.4 1325.1h0"/><path class="o" stroke-width="10" d="M1300.0 1377.0h0"/><path class="b" stroke-width="7" d="M1549.5 1314.0h0M1355.3 1328.2h0"/><path class="b" stroke-width="8" d="M1387.3 1329.4h0M1337.4 1346.7h0"/><path class="b" stroke-width="10" d="M1418.5 1294.6h0M1560.0 1305.0h0"/><path class="lb" stroke-width="6" d="M1471.0 1185.0h0"/><path class="lb" stroke-width="7" d="M1369.7 1304.1h0M1559.4 1274.5h0M1390.8 1261.1h0"/><path class="lb" stroke-width="8" d="M1442.7 1273.5h0M1477.8 1332.5h0M1509.1 1303.1h0"/><path class="lb" stroke-width="9" d="M1500.9 1298.7h0M1359.6 1322.5h0"/><path class="lb" stroke-width="22" d="M1386.5 1354.3h0"/><path class="lo" stroke-width="6" d="M1233.0 1366.0h0M1188.6 1352.4h0"/><path class="lo" stroke-width="7" d="M1288.8 1341.5h0"/><path class="lo" stroke-width="8" d="M1201.0 1296.8h0M1349.0 1240.0h0"/><path class="lo" stroke-width="10" d="M1349.0 1173.0h0"/><path class="o" stroke-width="6" d="M1266.8 1383.0h0M1299.1 1366.6h0M1546.2 1326.3h0M1546.6 1324.5h0M1596.5 1318.4h0"/><path class="o" stroke-width="7" d="M1595.9 1309.5h0"/><path class="b" stroke-width="5" d="M1471.7 1339.0h0M1420.1 1328.8h0"/><path class="b" stroke-width="6" d="M1348.6 1320.4h0M1535.0 1252.6h0"/><path class="b" stroke-width="8" d="M1429.8 1267.5h0"/><path class="db" stroke-width="14" d="M1576.3 1358.6h0"/><path class="lb" stroke-width="7" d="M1384.6 1228.8h0"/><path class="lb" stroke-width="9" d="M1489.4 1304.5h0"/><path class="lb" stroke-width="12" d="M1536.0 1202.0h0"/><path class="lo" stroke-width="8" d="M1299.0 1172.0h0"/><path class="o" stroke-width="4" d="M1546.3 1313.4h0"/><path class="o" stroke-width="5" d="M1299.1 1356.6h0M1547.1 1335.1h0"/><path class="o" stroke-width="6" d="M1300.3 1346.2h0M1398.1 1334.5h0M1546.8 1333.5h0"/><path class="o" stroke-width="7" d="M1299.2 1347.2h0M1595.7 1343.5h0"/><path class="b" stroke-width="6" d="M1429.9 1283.5h0M1578.0 1238.2h0"/><path class="b" stroke-width="7" d="M1449.6 1299.1h0M1536.2 1250.8h0"/><path class="lb" stroke-width="8" d="M1520.0 1330.0h0M1380.0 1253.0h0"/><path class="lb" stroke-width="9" d="M1483.2 1301.4h0"/><path class="lb" stroke-width="14" d="M1184.0 1322.0h0"/><path class="lo" stroke-width="5" d="M1327.3 1347.5h0"/><path class="lo" stroke-width="6" d="M1540.4 1360.7h0"/><path class="lo" stroke-width="7" d="M1495.6 1337.4h0"/><path class="lo" stroke-width="8" d="M1348.0 1239.0h0M1349.0 1297.0h0"/><path class="o" stroke-width="5" d="M1299.4 1353.1h0M1398.5 1319.3h0"/><path class="o" stroke-width="6" d="M1300.0 1355.8h0M1544.1 1362.7h0M1596.5 1342.5h0"/><path class="b" stroke-width="6" d="M1576.5 1258.0h0"/><path class="b" stroke-width="7" d="M1427.0 1310.5h0"/><path class="b" stroke-width="8" d="M1490.0 1358.0h0"/><path class="lb" stroke-width="5" d="M1552.4 1242.7h0"/><path class="lb" stroke-width="7" d="M1397.5 1229.3h0"/><path class="lb" stroke-width="8" d="M1518.8 1307.3h0"/><path class="lb" stroke-width="18" d="M1184.0 1326.6h0"/><path class="lo" stroke-width="6" d="M1168.0 1392.0h0M1446.8 1356.6h0"/><path class="lo" stroke-width="7" d="M1413.9 1355.4h0"/><path class="lo" stroke-width="8" d="M1398.0 1280.0h0"/><path class="o" stroke-width="5" d="M1299.4 1359.8h0M1300.6 1358.3h0M1299.6 1355.0h0M1546.0 1352.1h0"/><path class="o" stroke-width="6" d="M1266.4 1362.0h0M1267.2 1374.4h0M1398.6 1331.2h0"/><path class="o" stroke-width="7" d="M1347.3 1307.6h0M1595.7 1308.6h0M1596.7 1274.7h0M1497.1 1368.3h0"/><path class="b" stroke-width="6" d="M1535.7 1267.0h0"/><path class="b" stroke-width="7" d="M1578.7 1247.4h0"/><path class="lb" stroke-width="7" d="M1524.8 1290.3h0M1574.1 1260.1h0M1485.2 1247.6h0"/><path class="lo" stroke-width="6" d="M1226.1 1344.7h0M1209.0 1359.9h0M1393.2 1365.3h0"/><path class="lo" stroke-width="7" d="M1478.6 1330.7h0"/><path class="lo" stroke-width="8" d="M1317.4 1354.4h0"/><path class="o" stroke-width="4" d="M1596.3 1364.3h0"/><path class="o" stroke-width="5" d="M1398.2 1340.6h0"/><path class="o" stroke-width="6" d="M1546.4 1282.6h0M1547.5 1316.0h0"/><path class="o" stroke-width="7" d="M1497.9 1363.0h0"/><path class="b" stroke-width="7" d="M1412.6 1322.4h0M1466.4 1307.9h0M1577.2 1264.8h0"/><path class="b" stroke-width="8" d="M1467.1 1278.3h0M1470.6 1279.5h0"/><path class="lb" stroke-width="12" d="M1461.0 1277.6h0M1557.0 1343.7h0"/><path class="lo" stroke-width="5" d="M1514.6 1349.8h0"/><path class="lo" stroke-width="6" d="M1232.2 1351.1h0M1277.2 1346.2h0"/><path class="lo" stroke-width="7" d="M1245.5 1346.0h0M1345.0 1351.2h0"/><path class="lo" stroke-width="8" d="M1199.0 1270.0h0"/><path class="o" stroke-width="5" d="M1267.7 1373.6h0M1546.9 1320.2h0M1597.2 1337.0h0"/><path class="o" stroke-width="7" d="M1546.4 1316.7h0M1595.4 1283.3h0"/><path class="b" stroke-width="5" d="M1317.3 1342.3h0"/><path class="b" stroke-width="8" d="M1357.9 1330.9h0"/><path class="b" stroke-width="10" d="M1448.0 1352.0h0M1475.0 1340.0h0"/><path class="b" stroke-width="16" d="M1337.5 1320.0h0"/><path class="lb" stroke-width="6" d="M1479.6 1329.9h0M1571.7 1285.5h0"/><path class="lb" stroke-width="8" d="M1503.6 1250.0h0"/><path class="lo" stroke-width="6" d="M1200.8 1373.5h0M1245.9 1353.7h0"/><path class="lo" stroke-width="8" d="M1201.0 1390.6h0M1201.0 1401.0h0M1299.0 1245.0h0"/><path class="o" stroke-width="5" d="M1347.6 1307.3h0"/><path class="o" stroke-width="6" d="M1347.9 1312.5h0M1598.2 1329.4h0"/><polyline points="1168.5,1351.7 1596.6,1319.3" fill="none" stroke="#7a3510" stroke-width="1.3"/></g>
<line x1="1152.8" y1="1367.9" x2="1612.3" y2="1367.9" stroke="#b4b4b4" stroke-width="1.6" stroke-dasharray="3.2 3.1"/>
<rect x="1151.8" y="1120" width="461.5" height="292.8" fill="none" stroke="#8c8c8c" stroke-width="1.35"/>
<line x1="1146.8" y1="1120.5" x2="1151.8" y2="1120.5" stroke="#8c8c8c" stroke-width="1.4"/>
<line x1="1146.8" y1="1182.3" x2="1151.8" y2="1182.3" stroke="#8c8c8c" stroke-width="1.4"/>
<line x1="1146.8" y1="1244.1" x2="1151.8" y2="1244.1" stroke="#8c8c8c" stroke-width="1.4"/>
<line x1="1146.8" y1="1306.1" x2="1151.8" y2="1306.1" stroke="#8c8c8c" stroke-width="1.4"/>
<line x1="1146.8" y1="1367.9" x2="1151.8" y2="1367.9" stroke="#8c8c8c" stroke-width="1.4"/>
<line x1="1184.7" y1="1412.8" x2="1184.7" y2="1417.8" stroke="#8c8c8c" stroke-width="1.4"/>
<line x1="1266.9" y1="1412.8" x2="1266.9" y2="1417.8" stroke="#8c8c8c" stroke-width="1.4"/>
<line x1="1349.1" y1="1412.8" x2="1349.1" y2="1417.8" stroke="#8c8c8c" stroke-width="1.4"/>
<line x1="1431.4" y1="1412.8" x2="1431.4" y2="1417.8" stroke="#8c8c8c" stroke-width="1.4"/>
<line x1="1514.3" y1="1412.8" x2="1514.3" y2="1417.8" stroke="#8c8c8c" stroke-width="1.4"/>
<line x1="1596.6" y1="1412.8" x2="1596.6" y2="1417.8" stroke="#8c8c8c" stroke-width="1.4"/>
<text transform="translate(1141,1123.4) rotate(-90)" text-anchor="middle" font-size="14.0">4</text>
<text transform="translate(1141,1182.3) rotate(-90)" text-anchor="middle" font-size="14.0">3</text>
<text transform="translate(1141,1244.1) rotate(-90)" text-anchor="middle" font-size="14.0">2</text>
<text transform="translate(1141,1306.1) rotate(-90)" text-anchor="middle" font-size="14.0">1</text>
<text transform="translate(1141,1367.9) rotate(-90)" text-anchor="middle" font-size="14.0">0</text>
<text x="1184.7" y="1433.2" text-anchor="middle" font-size="14.0">50</text>
<text x="1266.9" y="1433.2" text-anchor="middle" font-size="14.0">100</text>
<text x="1349.1" y="1433.2" text-anchor="middle" font-size="14.0">150</text>
<text x="1431.4" y="1433.2" text-anchor="middle" font-size="14.0">200</text>
<text x="1514.3" y="1433.2" text-anchor="middle" font-size="14.0">250</text>
<text x="1596.6" y="1433.2" text-anchor="middle" font-size="14.0">300</text>
<text x="1397" y="1456" text-anchor="middle" font-size="13.9">Total N rate (kg N ha<tspan font-size="8.5" dy="-5.5">-1</tspan><tspan dy="5.5">)</tspan></text>
<text transform="translate(1120.3,1258.9) rotate(-90)" text-anchor="middle" font-size="13.9">Change in CH<tspan font-size="9" dy="3">4</tspan><tspan dy="-3"> emission (lnRR)</tspan></text>
<text x="1535.7" y="1192.5" font-size="47">(o)</text>
<text x="1175.3" y="1208.6" font-size="20.2" textLength="246.5" lengthAdjust="spacingAndGlyphs">SN: lnRR = 0.002x + 0.1782</text>
<text x="1218.4" y="1232.1" font-size="20.2" textLength="165.5" lengthAdjust="spacingAndGlyphs"><tspan font-style="italic">P</tspan> = 0.0143 n = 194</text>
<clipPath id="cpp"><rect x="1699.7" y="1121.5" width="461.7" height="292"/></clipPath>
<g clip-path="url(#cpp)"><polygon points="1716.7,1335 1731,1333.9 1745.2,1332.6 1759.5,1331 1773.7,1329.2 1788,1327.4 1802.3,1325.6 1816.5,1323.7 1830.8,1321.7 1845,1319.7 1859.3,1317.7 1873.6,1315.6 1887.8,1313.5 1902.1,1311.4 1916.3,1309.2 1930.6,1307 1944.9,1304.8 1959.1,1302.6 1973.4,1300.3 1987.6,1298.1 2001.9,1295.8 2016.2,1293.5 2030.4,1291.2 2044.7,1288.8 2058.9,1286.5 2073.2,1284.2 2087.5,1281.8 2101.7,1279.5 2116,1277.1 2130.2,1274.8 2144.5,1272.4 2144.5,1316 2130.2,1317.1 2116,1318.2 2101.7,1319.3 2087.5,1320.4 2073.2,1321.5 2058.9,1322.7 2044.7,1323.8 2030.4,1325 2016.2,1326.1 2001.9,1327.3 1987.6,1328.5 1973.4,1329.7 1959.1,1330.9 1944.9,1332.1 1930.6,1333.4 1916.3,1334.7 1902.1,1336 1887.8,1337.3 1873.6,1338.7 1859.3,1340 1845,1341.5 1830.8,1343 1816.5,1344.5 1802.3,1346 1788,1347.6 1773.7,1349.3 1759.5,1351 1745.2,1352.9 1731,1355 1716.7,1357.4" fill="#f28a40" fill-opacity="1"/><path class="b" stroke-width="5" d="M1764.7 1343.8h0M1764.1 1279.5h0"/><path class="b" stroke-width="6" d="M1824.8 1300.1h0M1828.8 1350.9h0M1825.4 1344.3h0M1832.9 1250.0h0M1832.9 1266.0h0M1964.5 1322.2h0"/><path class="b" stroke-width="7" d="M1809.1 1295.1h0M1824.4 1334.0h0M1826.1 1346.1h0"/><path class="b" stroke-width="8" d="M1827.7 1337.3h0M1827.1 1318.7h0M1826.4 1332.6h0M1919.0 1350.5h0"/><path class="b" stroke-width="9" d="M1825.9 1314.3h0M1828.3 1330.5h0M1825.1 1342.3h0"/><path class="b" stroke-width="10" d="M1828.9 1330.5h0"/><path class="b" stroke-width="12" d="M1951.4 1339.3h0"/><path class="lb" stroke-width="6" d="M1942.3 1299.9h0"/><path class="lb" stroke-width="8" d="M1890.2 1333.7h0M1896.4 1346.4h0"/><path class="lb" stroke-width="9" d="M1776.7 1340.5h0"/><path class="lo" stroke-width="6" d="M2144.5 1335.5h0"/><path class="lo" stroke-width="10" d="M1907.8 1131.2h0"/><path class="o" stroke-width="5" d="M1942.6 1316.6h0"/><path class="o" stroke-width="6" d="M1897.0 1313.3h0M1941.3 1323.7h0M1964.1 1351.6h0"/><path class="o" stroke-width="7" d="M1756.0 1324.2h0M1740.1 1349.2h0M1756.4 1346.1h0M1966.0 1349.1h0"/><path class="o" stroke-width="8" d="M1729.5 1372.2h0M1743.6 1336.7h0M1798.1 1365.9h0M1807.4 1356.1h0"/><path class="o" stroke-width="9" d="M1767.4 1352.4h0M1723.7 1357.3h0"/><path class="o" stroke-width="10" d="M1766.3 1359.7h0M1728.0 1393.2h0M1733.7 1336.6h0M1745.7 1346.3h0M1966.2 1350.9h0"/><path class="b" stroke-width="4" d="M1855.3 1345.9h0"/><path class="b" stroke-width="5" d="M1808.8 1303.4h0M1809.9 1297.3h0M1828.1 1254.7h0M1855.8 1366.2h0M1853.5 1319.9h0"/><path class="b" stroke-width="6" d="M1824.4 1312.9h0M1827.1 1252.7h0M1854.9 1285.7h0"/><path class="b" stroke-width="7" d="M1764.3 1287.4h0M1799.2 1298.1h0M1825.4 1326.8h0M1853.1 1246.7h0"/><path class="b" stroke-width="8" d="M1825.0 1360.8h0M1826.4 1297.4h0M1965.1 1292.3h0"/><path class="b" stroke-width="9" d="M1827.5 1322.9h0M1825.0 1330.1h0M1966.4 1313.0h0"/><path class="b" stroke-width="10" d="M1829.2 1329.9h0M1964.3 1270.7h0"/><path class="lb" stroke-width="6" d="M1936.1 1339.6h0M1954.4 1351.5h0"/><path class="lb" stroke-width="9" d="M1942.1 1290.7h0M1916.1 1338.9h0"/><path class="lb" stroke-width="12" d="M1787.0 1371.6h0"/><path class="lb" stroke-width="14" d="M1760.8 1285.7h0"/><path class="lo" stroke-width="10" d="M1907.8 1173.5h0M1907.8 1270.7h0"/><path class="o" stroke-width="5" d="M1941.5 1313.1h0"/><path class="o" stroke-width="6" d="M1743.2 1369.3h0M1795.3 1357.9h0"/><path class="o" stroke-width="7" d="M1773.2 1326.7h0M1766.9 1339.3h0M1752.0 1349.5h0M1883.1 1357.8h0"/><path class="o" stroke-width="8" d="M1743.1 1359.1h0M1742.7 1351.2h0M1800.0 1354.5h0"/><path class="o" stroke-width="9" d="M1746.7 1325.7h0M1808.0 1354.4h0"/><path class="o" stroke-width="10" d="M1741.8 1329.2h0M1748.3 1334.2h0M1966.2 1351.1h0"/><path class="b" stroke-width="4" d="M1854.4 1350.2h0"/><path class="b" stroke-width="5" d="M1765.4 1353.0h0M1810.4 1320.4h0M1810.3 1305.0h0M1854.0 1295.1h0M1860.5 1348.7h0"/><path class="b" stroke-width="6" d="M1765.3 1333.0h0M1801.0 1312.0h0M1963.3 1275.6h0M1963.9 1232.1h0M1965.1 1224.2h0"/><path class="b" stroke-width="7" d="M1799.4 1322.4h0M1824.4 1331.9h0M1827.5 1334.2h0M1827.4 1362.2h0M1827.2 1305.9h0M1833.5 1250.5h0M1854.4 1314.1h0"/><path class="b" stroke-width="8" d="M1824.4 1334.0h0M1966.2 1274.1h0M1965.5 1278.5h0M1962.7 1338.9h0"/><path class="b" stroke-width="10" d="M1828.6 1346.9h0M1826.8 1340.0h0M1827.4 1333.6h0"/><path class="b" stroke-width="12" d="M1730.9 1290.7h0"/><path class="db" stroke-width="14" d="M1854.2 1359.2h0"/><path class="lb" stroke-width="6" d="M1839.1 1359.2h0"/><path class="lb" stroke-width="10" d="M1887.0 1359.8h0"/><path class="lo" stroke-width="8" d="M1783.2 1154.9h0"/><path class="o" stroke-width="5" d="M1895.5 1304.0h0M1941.3 1312.8h0"/><path class="o" stroke-width="6" d="M1727.9 1338.9h0"/><path class="o" stroke-width="7" d="M1768.2 1353.8h0M1732.7 1359.6h0M1805.9 1363.8h0"/><path class="o" stroke-width="8" d="M1740.9 1344.4h0"/><path class="o" stroke-width="9" d="M1745.8 1308.2h0M1752.3 1350.5h0M1727.0 1357.7h0M1756.2 1351.2h0M1750.9 1345.4h0M1752.6 1338.9h0M1755.8 1333.8h0"/><path class="o" stroke-width="10" d="M1758.8 1346.2h0M1755.7 1345.4h0"/><path class="b" stroke-width="5" d="M1798.9 1320.3h0M1800.4 1292.6h0"/><path class="b" stroke-width="6" d="M1764.2 1346.7h0M1798.8 1304.8h0M1861.2 1348.1h0M1964.1 1278.5h0"/><path class="b" stroke-width="7" d="M1809.2 1320.9h0M1963.6 1283.9h0"/><path class="b" stroke-width="8" d="M1825.1 1325.4h0M1966.9 1273.4h0"/><path class="b" stroke-width="9" d="M1962.7 1341.9h0M1963.1 1302.8h0M1966.0 1288.1h0"/><path class="b" stroke-width="10" d="M1827.4 1353.6h0"/><path class="lb" stroke-width="6" d="M1941.1 1314.9h0M1967.5 1354.0h0M1960.4 1337.1h0"/><path class="lb" stroke-width="7" d="M1866.3 1354.2h0"/><path class="lb" stroke-width="8" d="M1942.3 1284.1h0M1930.5 1338.7h0M1984.2 1339.9h0M1797.7 1348.5h0"/><path class="lb" stroke-width="9" d="M1739.0 1351.8h0"/><path class="lo" stroke-width="10" d="M1839.3 1384.1h0"/><path class="o" stroke-width="6" d="M1738.0 1335.4h0M1742.2 1351.7h0M1722.4 1353.0h0M1805.1 1343.0h0M1794.6 1357.3h0M1881.6 1357.0h0M1895.9 1300.4h0"/><path class="o" stroke-width="7" d="M1748.4 1339.1h0M1802.8 1354.3h0M1804.2 1365.3h0"/><path class="o" stroke-width="8" d="M1731.7 1380.4h0M1744.0 1356.1h0"/><path class="o" stroke-width="9" d="M1767.9 1350.4h0M1741.5 1370.5h0M1731.5 1314.0h0M1755.8 1355.1h0M1751.7 1338.2h0M1743.6 1362.3h0M1746.3 1335.8h0"/><path class="o" stroke-width="10" d="M1770.1 1319.3h0M1748.4 1322.6h0M1757.0 1313.1h0M1745.1 1350.1h0"/><path class="b" stroke-width="5" d="M1800.0 1311.4h0M1800.1 1298.8h0M1809.2 1285.2h0M1832.1 1257.5h0"/><path class="b" stroke-width="6" d="M1763.7 1334.7h0M1800.8 1295.8h0M1810.0 1321.3h0M1854.5 1286.3h0M1859.0 1347.4h0"/><path class="b" stroke-width="7" d="M1763.8 1314.5h0M1827.3 1334.8h0M1827.7 1255.1h0M1967.3 1272.3h0M1963.2 1331.8h0M1963.7 1284.5h0"/><path class="b" stroke-width="8" d="M1829.3 1299.9h0M1824.4 1354.8h0M1965.1 1281.5h0"/><path class="b" stroke-width="9" d="M1826.5 1301.6h0M1963.3 1294.4h0M1966.9 1323.9h0M1966.2 1285.4h0M1966.0 1302.4h0"/><path class="b" stroke-width="10" d="M1965.1 1288.7h0M1964.3 1332.2h0"/><path class="b" stroke-width="12" d="M1895.4 1291.9h0"/><path class="lb" stroke-width="7" d="M1824.8 1341.3h0M1729.6 1345.5h0"/><path class="lo" stroke-width="8" d="M2059.8 1173.5h0"/><path class="o" stroke-width="6" d="M1882.9 1360.2h0"/><path class="o" stroke-width="7" d="M1751.3 1356.3h0M1725.3 1339.5h0M1740.0 1356.0h0M1745.0 1350.3h0"/><path class="o" stroke-width="8" d="M1721.8 1360.8h0M1723.8 1357.4h0M1752.7 1347.3h0M1746.0 1338.3h0M1798.3 1343.2h0"/><path class="o" stroke-width="9" d="M1746.0 1363.6h0M1748.2 1341.1h0"/><path class="o" stroke-width="10" d="M1762.8 1354.8h0"/><path class="b" stroke-width="4" d="M1826.3 1253.0h0"/><path class="b" stroke-width="5" d="M1799.2 1332.6h0M1809.6 1331.3h0M1808.8 1302.3h0"/><path class="b" stroke-width="6" d="M1828.6 1340.1h0M1828.5 1308.7h0"/><path class="b" stroke-width="7" d="M1963.4 1302.0h0"/><path class="b" stroke-width="8" d="M1965.9 1289.0h0M1966.4 1241.7h0M1965.9 1314.2h0"/><path class="lb" stroke-width="7" d="M1828.6 1352.4h0"/><path class="lb" stroke-width="8" d="M1809.9 1356.0h0M1749.9 1343.7h0"/><path class="lb" stroke-width="9" d="M1780.5 1356.0h0"/><path class="lo" stroke-width="8" d="M1839.3 1356.7h0M1951.4 1245.8h0"/><path class="o" stroke-width="6" d="M1741.5 1381.6h0M1881.3 1359.8h0M1894.6 1340.5h0"/><path class="o" stroke-width="7" d="M1893.8 1313.6h0M1942.7 1317.7h0"/><path class="o" stroke-width="8" d="M1803.9 1359.6h0M1801.3 1346.8h0"/><path class="o" stroke-width="9" d="M1748.3 1328.0h0"/><path class="o" stroke-width="10" d="M1721.3 1347.1h0M1752.3 1344.0h0M1740.9 1349.4h0"/><path class="b" stroke-width="5" d="M1765.2 1301.8h0M1765.1 1347.4h0M1798.8 1319.8h0M1808.6 1305.2h0M1853.1 1279.3h0M1854.8 1302.2h0M1861.2 1351.4h0"/><path class="b" stroke-width="6" d="M1764.2 1297.9h0M1763.1 1333.0h0M1799.3 1319.2h0M1800.6 1302.7h0M1825.8 1301.2h0M1831.3 1259.9h0M1853.1 1323.8h0M1853.8 1310.9h0"/><path class="b" stroke-width="7" d="M1828.7 1336.7h0M1828.4 1334.0h0M1832.7 1257.1h0M1855.1 1348.8h0M1854.9 1338.6h0"/><path class="b" stroke-width="9" d="M1964.0 1260.3h0M1966.7 1309.9h0M1965.7 1282.8h0"/><path class="lb" stroke-width="7" d="M1915.5 1343.1h0"/><path class="lb" stroke-width="8" d="M1739.9 1357.3h0"/><path class="lb" stroke-width="9" d="M1941.1 1281.3h0M1877.0 1367.5h0M1966.1 1350.6h0M1935.7 1339.1h0"/><path class="lb" stroke-width="10" d="M2067.3 1357.9h0"/><path class="o" stroke-width="5" d="M1941.1 1320.0h0"/><path class="o" stroke-width="6" d="M1748.9 1353.1h0M1895.2 1322.5h0"/><path class="o" stroke-width="7" d="M1738.4 1342.6h0M1746.3 1347.0h0M1748.5 1347.9h0M1942.0 1319.0h0"/><path class="o" stroke-width="8" d="M1728.7 1331.4h0M1721.3 1393.5h0M1761.1 1357.3h0M1720.2 1341.6h0M1799.2 1349.0h0"/><path class="o" stroke-width="9" d="M1746.7 1370.4h0M1749.1 1358.4h0M1737.0 1368.4h0M1748.8 1342.5h0M1746.8 1332.8h0M1961.6 1351.0h0"/><path class="o" stroke-width="10" d="M1750.7 1344.4h0"/><path class="b" stroke-width="4" d="M1860.4 1350.0h0"/><path class="b" stroke-width="5" d="M1763.9 1290.1h0M1808.7 1313.7h0M1808.7 1316.7h0"/><path class="b" stroke-width="6" d="M1827.8 1349.5h0M1832.8 1262.4h0M1965.6 1321.6h0M1964.5 1307.0h0M1988.8 1274.5h0"/><path class="b" stroke-width="7" d="M1765.1 1327.1h0M1828.2 1345.9h0M1824.9 1322.4h0M1827.2 1346.2h0M1855.2 1343.9h0M1853.5 1318.1h0M1963.6 1321.8h0M1966.0 1263.3h0"/><path class="b" stroke-width="8" d="M1825.8 1310.1h0M1828.0 1331.6h0M1826.8 1306.4h0M1965.2 1296.7h0M1967.2 1291.8h0M1963.3 1280.0h0"/><path class="b" stroke-width="9" d="M1965.1 1337.4h0"/><path class="lb" stroke-width="7" d="M1754.1 1353.4h0"/><path class="lb" stroke-width="8" d="M1941.2 1273.1h0M1942.2 1293.2h0M1814.2 1338.8h0"/><path class="lb" stroke-width="9" d="M1754.6 1350.4h0"/><path class="lb" stroke-width="10" d="M1731.7 1340.9h0M1876.5 1360.8h0M1754.3 1361.7h0"/><path class="o" stroke-width="5" d="M1893.6 1318.9h0M1941.1 1313.4h0"/><path class="o" stroke-width="6" d="M1758.0 1366.2h0M1721.4 1352.7h0M1806.8 1352.1h0M1941.9 1319.5h0M1964.1 1353.0h0"/><path class="o" stroke-width="7" d="M1729.1 1356.9h0M1758.7 1348.8h0M1759.6 1359.8h0M1729.5 1337.7h0M1758.3 1348.0h0M1754.0 1349.4h0M1808.5 1366.3h0M1804.1 1357.4h0M1895.8 1330.4h0M1963.1 1351.6h0"/><path class="o" stroke-width="8" d="M1763.2 1357.9h0M1728.5 1336.9h0M1747.5 1344.0h0M1798.7 1347.3h0M1962.2 1352.8h0"/><path class="o" stroke-width="9" d="M1732.6 1374.0h0M1751.2 1346.8h0M1744.8 1340.7h0"/><path class="b" stroke-width="4" d="M1796.8 1317.4h0"/><path class="b" stroke-width="5" d="M1809.6 1349.5h0M1854.0 1339.4h0"/><path class="b" stroke-width="6" d="M1798.2 1292.5h0M1962.7 1273.5h0"/><path class="b" stroke-width="7" d="M1764.1 1300.0h0M1763.5 1306.6h0M1765.0 1294.2h0M1799.1 1333.3h0M1824.7 1351.6h0M1825.3 1314.2h0M1966.9 1281.3h0"/><path class="b" stroke-width="8" d="M1779.5 1351.7h0M1826.7 1324.0h0M1827.6 1305.2h0M1825.2 1315.8h0M1826.4 1291.9h0M1967.5 1310.1h0M1966.3 1334.8h0M1965.8 1335.6h0"/><path class="b" stroke-width="10" d="M1964.0 1322.9h0"/><path class="lb" stroke-width="7" d="M1840.8 1364.4h0M1870.0 1364.0h0"/><path class="lb" stroke-width="8" d="M1916.3 1340.9h0M1842.5 1340.4h0M1967.1 1344.9h0M1913.2 1351.4h0"/><path class="lb" stroke-width="9" d="M1913.4 1344.7h0M1961.0 1350.4h0M1949.9 1342.1h0"/><path class="o" stroke-width="6" d="M1734.1 1358.1h0M1760.1 1356.6h0"/><path class="o" stroke-width="7" d="M1766.5 1349.0h0M1732.6 1368.2h0M1894.1 1322.0h0M1966.2 1348.5h0"/><path class="o" stroke-width="8" d="M1766.8 1381.1h0M1757.9 1342.9h0M1739.4 1357.2h0"/><path class="o" stroke-width="9" d="M1767.3 1357.8h0M1770.8 1312.0h0M1742.6 1352.5h0M1806.8 1359.7h0"/><path class="b" stroke-width="5" d="M1764.9 1324.2h0M1810.0 1333.5h0M1833.0 1267.8h0"/><path class="b" stroke-width="6" d="M1765.2 1323.3h0M1967.4 1247.7h0"/><path class="b" stroke-width="7" d="M1799.7 1318.5h0M1798.7 1331.2h0M1963.7 1276.1h0"/><path class="b" stroke-width="8" d="M1826.2 1286.1h0M1827.7 1321.8h0M1828.6 1333.8h0M1828.9 1305.2h0"/><path class="b" stroke-width="9" d="M1826.8 1306.7h0M1825.5 1352.3h0M1963.0 1295.9h0M1963.9 1260.1h0"/><path class="b" stroke-width="10" d="M1966.6 1309.8h0"/><path class="lb" stroke-width="7" d="M1940.4 1292.0h0M1751.0 1354.6h0"/><path class="lb" stroke-width="8" d="M1747.1 1286.9h0M1790.7 1296.9h0"/><path class="o" stroke-width="6" d="M1755.3 1362.5h0M1768.1 1370.4h0M1739.9 1347.9h0M1800.4 1351.3h0M1895.0 1290.3h0M1894.5 1312.5h0"/><path class="o" stroke-width="7" d="M1754.9 1345.3h0M1798.6 1359.9h0"/><path class="o" stroke-width="8" d="M1741.2 1325.3h0M1749.2 1313.9h0M1802.5 1352.5h0"/><path class="o" stroke-width="9" d="M1757.7 1354.3h0M1745.6 1344.9h0M1800.7 1357.1h0"/><path class="o" stroke-width="10" d="M1753.3 1337.3h0"/><path class="b" stroke-width="4" d="M1764.8 1271.8h0"/><path class="b" stroke-width="5" d="M1765.3 1326.3h0M1826.6 1256.2h0"/><path class="b" stroke-width="6" d="M1765.1 1340.5h0M1854.2 1266.5h0M1963.2 1316.4h0M1964.5 1294.9h0"/><path class="b" stroke-width="7" d="M1808.1 1310.0h0M1824.9 1308.3h0M1855.1 1248.6h0M1966.3 1298.7h0"/><path class="b" stroke-width="8" d="M1825.3 1310.6h0M1825.7 1331.8h0M1965.0 1297.8h0"/><path class="b" stroke-width="9" d="M1824.9 1321.3h0M1825.5 1330.3h0M1963.1 1270.2h0M1964.8 1273.5h0"/><path class="b" stroke-width="14" d="M1965.1 1196.0h0"/><path class="lb" stroke-width="6" d="M1940.8 1301.2h0"/><path class="lb" stroke-width="8" d="M1867.1 1336.9h0"/><path class="lb" stroke-width="9" d="M1942.9 1301.6h0"/><path class="lb" stroke-width="10" d="M1868.4 1359.4h0"/><path class="o" stroke-width="5" d="M1882.2 1359.6h0M1895.1 1277.7h0"/><path class="o" stroke-width="6" d="M1758.5 1370.5h0M1753.7 1366.6h0M1941.5 1313.8h0"/><path class="o" stroke-width="7" d="M1767.3 1362.2h0M1735.2 1367.1h0M1757.4 1370.2h0M1796.8 1338.8h0M1895.6 1319.4h0"/><path class="o" stroke-width="8" d="M1757.7 1385.9h0M1768.4 1380.5h0M1728.8 1333.7h0M1749.4 1315.4h0M1749.0 1346.3h0M1749.9 1355.3h0"/><path class="o" stroke-width="9" d="M1735.4 1352.2h0M1742.9 1346.2h0"/><path class="o" stroke-width="10" d="M1731.3 1333.6h0M1754.9 1351.3h0M1741.6 1345.3h0"/><path class="b" stroke-width="4" d="M1853.4 1275.2h0"/><path class="b" stroke-width="5" d="M1765.0 1309.8h0M1765.4 1309.2h0"/><path class="b" stroke-width="6" d="M1855.5 1294.1h0M1854.8 1291.0h0"/><path class="b" stroke-width="7" d="M1799.2 1276.6h0M1854.6 1307.8h0M1964.7 1272.3h0M1967.0 1269.8h0"/><path class="b" stroke-width="8" d="M1826.5 1335.9h0M1967.1 1283.4h0"/><path class="b" stroke-width="9" d="M1824.4 1299.2h0M1962.8 1308.7h0M1965.6 1249.8h0M1963.0 1263.5h0"/><path class="lb" stroke-width="6" d="M1796.6 1367.1h0M1843.3 1337.2h0M1908.1 1342.1h0"/><path class="lb" stroke-width="9" d="M1957.1 1357.0h0"/><path class="lb" stroke-width="12" d="M1965.1 1203.4h0"/><path class="lo" stroke-width="10" d="M1767.0 1401.6h0"/><path class="lo" stroke-width="12" d="M1926.5 1349.2h0"/><path class="o" stroke-width="6" d="M1894.2 1331.1h0M1894.0 1325.8h0"/><path class="o" stroke-width="7" d="M1753.2 1351.4h0M1895.3 1333.9h0"/><path class="o" stroke-width="8" d="M1734.0 1374.3h0M1735.1 1317.0h0"/><path class="o" stroke-width="9" d="M1737.8 1375.7h0M1765.4 1334.0h0M1750.4 1351.2h0M1961.6 1354.2h0"/><path class="o" stroke-width="10" d="M1753.0 1346.8h0"/><polyline points="1716.7,1346.2 2144.5,1294.2" fill="none" stroke="#7a3510" stroke-width="1.3"/></g>
<line x1="1700.7" y1="1369.2" x2="2160.4" y2="1369.2" stroke="#b4b4b4" stroke-width="1.6" stroke-dasharray="3.2 3.1"/>
<rect x="1699.7" y="1121.5" width="461.7" height="292" fill="none" stroke="#8c8c8c" stroke-width="1.35"/>
<line x1="1694.7" y1="1121.7" x2="1699.7" y2="1121.7" stroke="#8c8c8c" stroke-width="1.4"/>
<line x1="1694.7" y1="1183.5" x2="1699.7" y2="1183.5" stroke="#8c8c8c" stroke-width="1.4"/>
<line x1="1694.7" y1="1245.3" x2="1699.7" y2="1245.3" stroke="#8c8c8c" stroke-width="1.4"/>
<line x1="1694.7" y1="1307.4" x2="1699.7" y2="1307.4" stroke="#8c8c8c" stroke-width="1.4"/>
<line x1="1694.7" y1="1369.2" x2="1699.7" y2="1369.2" stroke="#8c8c8c" stroke-width="1.4"/>
<line x1="1706.7" y1="1413.5" x2="1706.7" y2="1418.5" stroke="#8c8c8c" stroke-width="1.4"/>
<line x1="1767" y1="1413.5" x2="1767" y2="1418.5" stroke="#8c8c8c" stroke-width="1.4"/>
<line x1="1826.8" y1="1413.5" x2="1826.8" y2="1418.5" stroke="#8c8c8c" stroke-width="1.4"/>
<line x1="1886.6" y1="1413.5" x2="1886.6" y2="1418.5" stroke="#8c8c8c" stroke-width="1.4"/>
<line x1="1946.4" y1="1413.5" x2="1946.4" y2="1418.5" stroke="#8c8c8c" stroke-width="1.4"/>
<line x1="2006.7" y1="1413.5" x2="2006.7" y2="1418.5" stroke="#8c8c8c" stroke-width="1.4"/>
<line x1="2067.3" y1="1413.5" x2="2067.3" y2="1418.5" stroke="#8c8c8c" stroke-width="1.4"/>
<line x1="2127.6" y1="1413.5" x2="2127.6" y2="1418.5" stroke="#8c8c8c" stroke-width="1.4"/>
<text transform="translate(1689.3,1124.9) rotate(-90)" text-anchor="middle" font-size="14.0">4</text>
<text transform="translate(1689.3,1183.5) rotate(-90)" text-anchor="middle" font-size="14.0">3</text>
<text transform="translate(1689.3,1245.3) rotate(-90)" text-anchor="middle" font-size="14.0">2</text>
<text transform="translate(1689.3,1307.4) rotate(-90)" text-anchor="middle" font-size="14.0">1</text>
<text transform="translate(1689.3,1369.2) rotate(-90)" text-anchor="middle" font-size="14.0">0</text>
<text x="1706.7" y="1436.9" text-anchor="middle" font-size="14.0">0</text>
<text x="1767" y="1436.9" text-anchor="middle" font-size="14.0">20</text>
<text x="1826.8" y="1436.9" text-anchor="middle" font-size="14.0">40</text>
<text x="1886.6" y="1436.9" text-anchor="middle" font-size="14.0">60</text>
<text x="1946.4" y="1436.9" text-anchor="middle" font-size="14.0">80</text>
<text x="2006.7" y="1436.9" text-anchor="middle" font-size="14.0">100</text>
<text x="2067.3" y="1436.9" text-anchor="middle" font-size="14.0">120</text>
<text x="2127.6" y="1436.9" text-anchor="middle" font-size="14.0">140</text>
<text x="1931.5" y="1456.5" text-anchor="middle" font-size="13.9">C:N ratio</text>
<text transform="translate(1669.1,1266.4) rotate(-90)" text-anchor="middle" font-size="13.9">Change in CH<tspan font-size="9" dy="3">4</tspan><tspan dy="-3"> emission (lnRR)</tspan></text>
<text x="2083.2" y="1193.5" font-size="47">(p)</text>
<text x="1706.1" y="1200.4" font-size="20.2" textLength="257.7" lengthAdjust="spacingAndGlyphs">SN: lnRR = 0.0059x + 0.3475</text>
<text x="1750.2" y="1224.1" font-size="20.2" textLength="164.2" lengthAdjust="spacingAndGlyphs"><tspan font-style="italic">P</tspan> &lt; 0.0001 n = 194</text>
</svg>
</body></html>
